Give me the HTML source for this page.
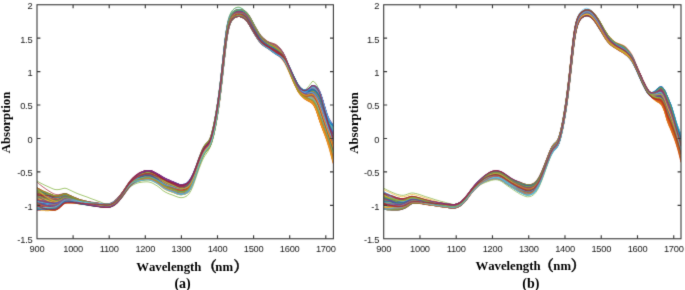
<!DOCTYPE html>
<html lang="en">
<head>
<meta charset="utf-8">
<title>Absorption spectra</title>
<style>
html,body{margin:0;padding:0;background:#fff;}
body{width:685px;height:290px;overflow:hidden;position:relative;}
svg{position:absolute;left:0;top:0;display:block;}
.t{font-family:"Liberation Sans", sans-serif;font-size:9.3px;letter-spacing:-0.25px;fill:#1a1a1a;}
.l{font-family:"Liberation Serif", "Noto Serif CJK SC", serif;font-weight:bold;font-size:12.75px;font-kerning:none;fill:#000;}
.c path.o{stroke-width:8;stroke-opacity:0.85;}
.p{font-size:14.5px;stroke:#000;stroke-width:0.45px;}
.m{font-family:"Liberation Serif", "Noto Serif CJK SC", serif;font-weight:bold;font-size:14px;font-kerning:none;fill:#000;}
.c path{fill:none;stroke-width:12.5;stroke-opacity:0.7;stroke-linejoin:round;stroke-linecap:round;}
</style>
</head>
<body>
<svg width="685" height="290" viewBox="0 0 685 290">
<rect width="685" height="290" fill="#ffffff"/>
<filter id="bl" x="0" y="0" width="685" height="290" filterUnits="userSpaceOnUse"><feConvolveMatrix order="3" kernelMatrix="0.0113 0.0838 0.0113 0.0838 0.6193 0.0838 0.0113 0.0838 0.0113" edgeMode="duplicate" preserveAlpha="false"/></filter>
<g filter="url(#bl)">
<clipPath id="ca"><rect x="37.0" y="4.75" width="296.4" height="234.0"/></clipPath>
<clipPath id="cb"><rect x="383.7" y="4.75" width="297.3" height="234.0"/></clipPath>
<g clip-path="url(#ca)"><g class="c" transform="scale(0.1)">
<path d="M370 1810l20 12 20 11 20 10 20 10 20 9 20 9 20 9 20 9 20 6 20 2 20-2 20-4 20-6 20-3 20 5 20 10 20 9 20 10 20 9 20 9 20 8 20 7 20 7 20 7 20 7 20 8 20 8 20 7 20 7 20 8 20 7 20 7 20 9 20 9 20 6 20-1 20-5 20-10 20-13 20-17 20-22 20-24 20-27 20-28 20-30 20-28 20-23 20-19 20-16 20-14 20-12 20-8 20-7 20-6 20-4 20 0 20 4 20 8 20 11 20 10 20 12 20 13 20 13 20 11 20 10 20 8 20 8 20 8 20 9 20 9 20 7 20 3 20-2 20-5 20-10 20-19 20-30 20-42 20-50 20-57 20-56 20-52 10-24 10-22 10-18 10-15 10-13 10-11 10-10 10-12 10-18 10-26 10-34 10-41 10-45 10-50 10-56 10-61 10-66 10-72 10-77 10-84 10-90 10-91 10-92 10-87 10-78 10-64 10-49 10-37 10-26 10-20 10-14 10-10 10-8 10-6 10-4 10-3 10-1 10-1 10 1 10 1 10 3 10 4 10 5 10 6 10 9 10 10 10 12 10 15 10 15 10 18 20 36 20 35 20 34 20 32 20 26 20 20 20 16 20 15 20 11 20 10 20 9 20 10 20 12 20 16 20 20 20 23 20 35 20 46 20 49 20 47 10 23 10 22 2 6 13 28 5 11 8 16 12 24 12 22 8 11 5 7 13 14 2 2 10 8 10 6 2 1 13 5 5 1 8 2 12-1 12-3 8-3 5-2 13-6 2-1 10-2 10 1 2 1 13 8 5 5 8 8 12 17 12 22 8 15 5 12 13 32 2 7 10 29 10 30 2 7 13 39 5 16 8 23 12 37 12 34 8 18 5 12 13 28 2 5 10 22 10 22 2 6 2 3" stroke="#77AC30" class="o"/>
<path d="M370 1820l20 18 20 16 20 16 20 14 20 14 20 13 20 12 20 12 20 8 20 3 20 0 20-4 20-5 20-3 20 6 20 11 20 12 20 11 20 11 20 9 20 8 20 6 20 5 20 4 20 4 20 4 20 3 20 3 20 3 20 3 20 3 20 3 20 3 20 2 20 1 20-2 20-6 20-10 20-13 20-18 20-21 20-24 20-27 20-29 20-30 20-28 20-24 20-19 20-16 20-14 20-11 20-8 20-7 20-5 20-4 20 0 20 4 20 9 20 10 20 11 20 12 20 13 20 14 20 12 20 9 20 9 20 8 20 8 20 9 20 9 20 7 20 3 20-1 20-5 20-10 20-19 20-30 20-41 20-51 20-57 20-56 20-52 10-24 10-21 10-19 10-15 10-13 10-11 10-10 10-12 10-17 10-26 10-34 10-40 10-45 10-50 10-55 10-61 10-65 10-71 10-77 10-84 10-89 10-91 10-92 10-88 10-78 10-65 10-50 10-38 10-27 10-19 10-15 10-11 10-7 10-6 10-4 10-3 10-2 10 0 10 0 10 2 10 3 10 4 10 5 10 7 10 8 10 11 10 13 10 14 10 16 10 17 20 37 20 35 20 33 20 33 20 25 20 20 20 16 20 14 20 12 20 10 20 11 20 10 20 13 20 15 20 19 20 24 20 34 20 46 20 48 20 47 10 23 10 22 2 6 13 28 5 10 8 16 12 25 12 22 8 11 5 7 13 14 2 2 10 9 10 6 2 1 13 6 5 2 8 2 12 0 12-1 8-2 5-2 13-4 2 0 10-2 10 3 2 1 13 10 5 5 8 10 12 19 12 24 8 17 5 12 13 33 2 7 10 29 10 30 2 7 13 38 5 15 8 23 12 37 12 34 8 20 5 12 13 31 2 6 10 24 10 25 2 6 2 4" stroke="#A2142F" class="o"/>
<path d="M370 2036l20 4 20 4 20 4 20 3 20 3 20 3 20 2 20 2 20 0 20-5 20-11 20-15 20-17 20-9 20 0 20 3 20 3 20 4 20 5 20 5 20 5 20 4 20 3 20 4 20 3 20 3 20 3 20 3 20 3 20 2 20 2 20 3 20 2 20 1 20 1 20-1 20-5 20-9 20-12 20-17 20-21 20-23 20-24 20-26 20-25 20-23 20-17 20-13 20-10 20-8 20-6 20-3 20-3 20-1 20-1 20 2 20 5 20 9 20 12 20 12 20 14 20 17 20 17 20 13 20 10 20 9 20 7 20 7 20 8 20 8 20 6 20 3 20-2 20-6 20-11 20-20 20-32 20-46 20-55 20-59 20-57 20-51 10-24 10-23 10-19 10-16 10-14 10-14 10-16 10-20 10-24 10-30 10-34 10-36 10-40 10-47 10-53 10-58 10-64 10-68 10-75 10-82 10-87 10-92 10-92 10-90 10-84 10-72 10-58 10-43 10-32 10-22 10-16 10-12 10-9 10-6 10-5 10-3 10-2 10-1 10 1 10 3 10 3 10 4 10 6 10 8 10 9 10 11 10 14 10 15 10 17 10 18 20 36 20 34 20 32 20 30 20 24 20 18 20 15 20 13 20 13 20 13 20 14 20 13 20 13 20 14 20 18 20 24 20 33 20 42 20 46 20 46 10 22 10 22 2 6 13 26 5 11 8 15 12 24 12 22 8 12 5 7 13 16 2 3 10 9 10 9 2 2 13 9 5 3 8 4 12 5 12 4 8 2 5 1 13 4 2 0 10 5 10 7 2 2 13 17 5 8 8 14 12 29 12 34 8 22 5 15 13 37 2 7 10 28 10 27 2 7 13 35 5 14 8 21 12 36 12 37 8 23 5 17 13 42 2 8 10 35 10 33 2 8 2 5" stroke="#77AC30" class="o"/>
<path d="M370 1990l20 6 20 6 20 5 20 5 20 5 20 4 20 4 20 3 20 2 20-4 20-8 20-13 20-13 20-8 20 1 20 5 20 5 20 5 20 6 20 6 20 5 20 5 20 4 20 4 20 3 20 3 20 3 20 3 20 3 20 2 20 3 20 2 20 2 20 2 20 1 20-2 20-6 20-9 20-13 20-18 20-21 20-24 20-27 20-28 20-29 20-28 20-23 20-18 20-15 20-13 20-10 20-8 20-7 20-5 20-4 20 0 20 4 20 8 20 10 20 11 20 12 20 13 20 14 20 11 20 10 20 8 20 7 20 8 20 8 20 9 20 6 20 3 20-2 20-5 20-10 20-20 20-30 20-43 20-51 20-57 20-57 20-52 10-25 10-22 10-19 10-15 10-13 10-11 10-10 10-12 10-18 10-26 10-34 10-39 10-45 10-50 10-56 10-64 10-70 10-76 10-84 10-92 10-97 10-99 10-99 10-93 10-79 10-64 10-46 10-35 10-25 10-20 10-16 10-11 10-9 10-7 10-4 10-2 10-1 10 1 10 2 10 2 10 4 10 5 10 8 10 10 10 11 10 14 10 15 10 16 10 17 10 17 20 38 20 36 20 35 20 34 20 27 20 20 20 18 20 15 20 12 20 9 20 9 20 10 20 13 20 17 20 20 20 24 20 35 20 48 20 49 20 47 10 23 10 23 2 6 13 28 5 11 8 16 12 25 12 22 8 11 5 7 13 14 2 2 10 8 10 6 2 1 13 5 5 1 8 2 12-1 12-3 8-3 5-2 13-6 2-1 10-3 10 1 2 1 13 9 5 5 8 8 12 17 12 22 8 15 5 12 13 32 2 7 10 29 10 31 2 8 13 39 5 15 8 23 12 37 12 34 8 19 5 12 13 28 2 5 10 22 10 22 2 6 2 3" stroke="#4DBEEE" class="o"/>
<path d="M370 2013l20 5 20 5 20 5 20 4 20 3 20 4 20 3 20 2 20 1 20-4 20-11 20-13 20-15 20-8 20 0 20 4 20 4 20 4 20 6 20 5 20 5 20 4 20 4 20 4 20 3 20 3 20 3 20 3 20 2 20 3 20 2 20 2 20 2 20 2 20 1 20-2 20-6 20-9 20-13 20-17 20-22 20-24 20-26 20-28 20-30 20-27 20-22 20-18 20-15 20-13 20-10 20-8 20-7 20-5 20-4 20-1 20 4 20 8 20 10 20 11 20 11 20 14 20 13 20 11 20 9 20 8 20 7 20 8 20 7 20 8 20 7 20 2 20-2 20-6 20-10 20-20 20-31 20-43 20-52 20-57 20-57 20-53 10-24 10-22 10-19 10-16 10-13 10-11 10-11 10-12 10-18 10-26 10-35 10-40 10-45 10-51 10-56 10-62 10-66 10-72 10-78 10-85 10-90 10-94 10-99 10-95 10-86 10-71 10-54 10-38 10-27 10-20 10-15 10-12 10-9 10-7 10-5 10-3 10-2 10 0 10 3 10 6 10 6 10 7 10 8 10 8 10 9 10 13 10 15 10 18 10 20 10 21 20 44 20 38 20 34 20 32 20 26 20 20 20 16 20 14 20 12 20 9 20 9 20 10 20 11 20 16 20 19 20 23 20 34 20 47 20 48 20 46 10 23 10 23 2 5 13 28 5 11 8 15 12 25 12 21 8 11 5 6 13 13 2 2 10 5 10 1 2 0 13-3 5-2 8-4 12-11 12-14 8-8 5-7 13-18 2-4 10-13 10-5 2 0 13 8 5 6 8 10 12 17 12 26 8 24 5 18 13 51 2 10 10 37 10 33 2 9 13 42 5 17 8 25 12 39 12 35 8 18 5 11 13 26 2 5 10 20 10 20 2 5 2 3" stroke="#77AC30" class="o"/>
<path d="M370 2059l20 4 20 3 20 3 20 2 20 2 20 2 20 1 20 1 20-1 20-6 20-13 20-16 20-18 20-10 20-1 20 0 20 1 20 2 20 3 20 3 20 3 20 2 20 1 20 2 20 1 20 2 20 1 20 1 20 1 20 1 20 2 20 2 20 1 20 2 20 0 20-1 20-7 20-10 20-13 20-18 20-22 20-24 20-27 20-29 20-29 20-29 20-23 20-20 20-16 20-14 20-11 20-9 20-6 20-6 20-4 20 0 20 4 20 7 20 9 20 10 20 9 20 11 20 10 20 9 20 7 20 7 20 7 20 6 20 8 20 8 20 7 20 3 20-2 20-5 20-10 20-20 20-30 20-41 20-48 20-55 20-56 20-51 10-24 10-22 10-18 10-14 10-12 10-11 10-10 10-12 10-18 10-27 10-36 10-42 10-47 10-52 10-56 10-61 10-66 10-72 10-77 10-83 10-88 10-91 10-89 10-85 10-74 10-61 10-46 10-34 10-24 10-18 10-13 10-10 10-7 10-4 10-4 10-2 10-1 10 0 10 1 10 3 10 3 10 4 10 6 10 8 10 9 10 11 10 14 10 15 10 17 10 18 20 38 20 37 20 34 20 33 20 27 20 20 20 17 20 14 20 13 20 12 20 12 20 12 20 13 20 15 20 18 20 24 20 33 20 44 20 47 20 46 10 22 10 23 2 5 13 27 5 11 8 15 12 25 12 21 8 12 5 7 13 14 2 2 10 9 10 7 2 1 13 7 5 2 8 2 12 2 12-1 8-1 5-1 13-3 2 0 10 0 10 3 2 1 13 11 5 6 8 10 12 21 12 25 8 17 5 13 13 33 2 6 10 28 10 29 2 7 13 36 5 15 8 22 12 35 12 35 8 19 5 13 13 31 2 6 10 25 10 24 2 6 2 4" stroke="#0072BD"/>
<path d="M370 1999l20 9 20 9 20 8 20 7 20 7 20 5 20 5 20 4 20 2 20-3 20-10 20-14 20-15 20-9 20 0 20 3 20 3 20 4 20 5 20 5 20 5 20 4 20 3 20 4 20 3 20 3 20 3 20 3 20 2 20 2 20 3 20 2 20 2 20 2 20 0 20-1 20-5 20-9 20-12 20-17 20-21 20-23 20-26 20-27 20-28 20-26 20-20 20-15 20-13 20-10 20-8 20-6 20-5 20-4 20-3 20 0 20 4 20 8 20 10 20 11 20 12 20 15 20 14 20 11 20 9 20 7 20 6 20 6 20 7 20 7 20 5 20 1 20-2 20-7 20-11 20-20 20-32 20-45 20-54 20-60 20-58 20-54 10-24 10-23 10-20 10-16 10-13 10-11 10-11 10-12 10-17 10-25 10-33 10-38 10-43 10-49 10-54 10-59 10-63 10-70 10-75 10-81 10-87 10-90 10-91 10-88 10-79 10-68 10-53 10-40 10-29 10-21 10-14 10-11 10-8 10-6 10-4 10-3 10-2 10 0 10 1 10 2 10 3 10 4 10 5 10 7 10 9 10 10 10 13 10 14 10 16 10 17 20 35 20 33 20 31 20 29 20 24 20 18 20 14 20 13 20 11 20 10 20 10 20 11 20 13 20 15 20 20 20 25 20 35 20 46 20 49 20 47 10 24 10 23 2 5 13 28 5 11 8 15 12 25 12 22 8 12 5 7 13 14 2 3 10 8 10 6 2 1 13 6 5 2 8 1 12 0 12-2 8-3 5-2 13-4 2-1 10-1 10 2 2 1 13 11 5 6 8 10 12 20 12 26 8 17 5 13 13 33 2 7 10 29 10 30 2 7 13 38 5 15 8 23 12 37 12 35 8 21 5 13 13 33 2 7 10 26 10 27 2 7 2 4" stroke="#D95319"/>
<path d="M370 2042l20 12 20 10 20 9 20 8 20 6 20 5 20 4 20 2 20 0 20-5 20-14 20-18 20-20 20-11 20-3 20 0 20-1 20 1 20 2 20 2 20 3 20 1 20 2 20 1 20 1 20 2 20 1 20 1 20 1 20 1 20 1 20 2 20 2 20 1 20 0 20-1 20-6 20-10 20-12 20-16 20-20 20-23 20-25 20-26 20-26 20-25 20-19 20-14 20-11 20-8 20-5 20-4 20-3 20-2 20-2 20 1 20 5 20 8 20 11 20 12 20 14 20 16 20 17 20 13 20 10 20 8 20 7 20 7 20 8 20 8 20 6 20 3 20-2 20-5 20-10 20-18 20-30 20-45 20-55 20-60 20-57 20-53 10-25 10-23 10-20 10-17 10-13 10-12 10-11 10-12 10-16 10-25 10-30 10-36 10-41 10-48 10-53 10-60 10-64 10-71 10-76 10-84 10-90 10-93 10-95 10-91 10-85 10-72 10-58 10-43 10-31 10-23 10-17 10-12 10-9 10-8 10-5 10-4 10-2 10-1 10 0 10 1 10 3 10 3 10 5 10 6 10 8 10 10 10 12 10 14 10 15 10 16 20 35 20 34 20 31 20 31 20 25 20 18 20 15 20 14 20 11 20 9 20 9 20 10 20 13 20 18 20 23 20 29 20 40 20 51 20 53 20 52 10 25 10 24 2 6 13 29 5 12 8 16 12 26 12 23 8 12 5 8 13 16 2 3 10 11 10 9 2 3 13 11 5 4 8 5 12 8 12 6 8 4 5 3 13 7 2 1 10 7 10 10 2 3 13 19 5 10 8 16 12 33 12 38 8 25 5 16 13 38 2 7 10 27 10 26 2 6 13 33 5 13 8 20 12 35 12 37 8 24 5 17 13 45 2 9 10 36 10 35 2 8 2 5" stroke="#EDB120"/>
<path d="M370 2088l20 3 20 3 20 2 20 2 20 1 20 1 20 1 20-1 20-2 20-7 20-15 20-18 20-20 20-11 20-2 20-1 20 0 20 1 20 2 20 2 20 3 20 1 20 2 20 1 20 2 20 1 20 1 20 1 20 1 20 1 20 2 20 1 20 2 20 1 20 0 20-1 20-6 20-10 20-13 20-18 20-22 20-24 20-27 20-29 20-29 20-29 20-23 20-19 20-16 20-14 20-11 20-8 20-7 20-5 20-3 20 0 20 5 20 9 20 12 20 12 20 14 20 16 20 16 20 14 20 12 20 10 20 10 20 10 20 9 20 10 20 7 20 3 20-1 20-6 20-10 20-20 20-31 20-45 20-53 20-58 20-58 20-54 10-25 10-23 10-19 10-16 10-14 10-11 10-11 10-13 10-18 10-26 10-35 10-41 10-45 10-52 10-57 10-62 10-68 10-73 10-79 10-86 10-91 10-94 10-94 10-88 10-79 10-64 10-49 10-36 10-26 10-20 10-14 10-11 10-8 10-6 10-4 10-3 10-2 10-1 10 1 10 1 10 3 10 4 10 5 10 7 10 9 10 11 10 13 10 15 10 16 10 18 20 40 20 38 20 36 20 34 20 29 20 21 20 18 20 16 20 13 20 13 20 12 20 11 20 13 20 14 20 18 20 22 20 32 20 43 20 45 20 45 10 22 10 22 2 5 13 27 5 10 8 16 12 23 12 21 8 11 5 7 13 13 2 2 10 7 10 5 2 1 13 3 5 1 8 0 12-2 12-6 8-4 5-4 13-8 2-2 10-6 10-2 2 1 13 4 5 3 8 6 12 11 12 15 8 12 5 9 13 29 2 6 10 27 10 30 2 7 13 38 5 16 8 22 12 35 12 30 8 15 5 8 13 18 2 3 10 13 10 14 2 3 2 3" stroke="#7E2F8E"/>
<path d="M370 1884l20 10 20 10 20 10 20 10 20 9 20 9 20 9 20 9 20 7 20 1 20-2 20-5 20-7 20-3 20 4 20 10 20 9 20 10 20 9 20 9 20 8 20 7 20 7 20 6 20 5 20 5 20 5 20 5 20 4 20 3 20 4 20 3 20 3 20 2 20 1 20-2 20-5 20-10 20-12 20-18 20-21 20-25 20-27 20-29 20-30 20-28 20-24 20-19 20-16 20-14 20-12 20-9 20-8 20-7 20-4 20-1 20 4 20 7 20 10 20 11 20 11 20 13 20 14 20 11 20 9 20 8 20 8 20 7 20 9 20 8 20 7 20 3 20-2 20-4 20-10 20-19 20-29 20-42 20-51 20-57 20-56 20-51 10-24 10-22 10-19 10-15 10-13 10-11 10-10 10-12 10-17 10-26 10-33 10-39 10-45 10-49 10-55 10-61 10-66 10-71 10-77 10-84 10-89 10-92 10-93 10-88 10-80 10-66 10-51 10-39 10-28 10-20 10-15 10-11 10-8 10-6 10-4 10-3 10-2 10 0 10 1 10 1 10 3 10 4 10 6 10 7 10 9 10 10 10 13 10 15 10 17 10 18 20 37 20 36 20 34 20 33 20 27 20 20 20 16 20 15 20 12 20 13 20 11 20 12 20 13 20 15 20 18 20 24 20 34 20 44 20 46 20 46 10 23 10 22 2 6 13 27 5 11 8 15 12 24 12 22 8 11 5 7 13 14 2 3 10 8 10 6 2 1 13 6 5 2 8 1 12 1 12-3 8-2 5-2 13-4 2-1 10-2 10 2 2 1 13 9 5 5 8 9 12 18 12 22 8 16 5 12 13 31 2 6 10 28 10 29 2 7 13 37 5 15 8 22 12 36 12 33 8 19 5 11 13 29 2 5 10 23 10 22 2 6 2 4" stroke="#77AC30"/>
<path d="M370 2077l20-1 20-1 20-2 20-1 20-2 20-1 20-1 20-2 20-3 20-8 20-13 20-17 20-17 20-11 20-1 20 2 20 3 20 4 20 4 20 5 20 5 20 3 20 3 20 4 20 2 20 3 20 3 20 2 20 2 20 3 20 2 20 2 20 2 20 2 20 1 20-2 20-6 20-9 20-13 20-17 20-21 20-23 20-25 20-27 20-28 20-26 20-21 20-15 20-12 20-10 20-7 20-5 20-4 20-3 20-1 20 2 20 5 20 10 20 12 20 13 20 15 20 17 20 18 20 14 20 11 20 9 20 9 20 7 20 9 20 8 20 7 20 3 20-2 20-5 20-10 20-19 20-31 20-45 20-55 20-61 20-58 20-54 10-25 10-23 10-21 10-16 10-14 10-12 10-12 10-12 10-17 10-25 10-32 10-38 10-43 10-49 10-56 10-61 10-67 10-73 10-79 10-87 10-92 10-96 10-96 10-92 10-84 10-69 10-55 10-40 10-30 10-22 10-16 10-12 10-9 10-6 10-5 10-3 10-2 10-1 10 0 10 2 10 3 10 4 10 6 10 7 10 9 10 11 10 14 10 15 10 17 10 19 20 39 20 38 20 35 20 35 20 28 20 21 20 18 20 15 20 14 20 14 20 13 20 13 20 13 20 12 20 15 20 20 20 28 20 39 20 43 20 42 10 21 10 21 2 5 13 26 5 11 8 15 12 23 12 21 8 11 5 7 13 13 2 3 10 7 10 6 2 1 13 4 5 1 8 0 12-1 12-4 8-4 5-3 13-7 2-1 10-4 10-1 2 1 13 7 5 4 8 7 12 13 12 18 8 14 5 10 13 30 2 7 10 28 10 29 2 8 13 38 5 16 8 22 12 35 12 31 8 16 5 9 13 20 2 3 10 15 10 15 2 4 2 2" stroke="#4DBEEE"/>
<path d="M370 1914l20 8 20 8 20 7 20 8 20 6 20 7 20 7 20 6 20 4 20 0 20-4 20-7 20-9 20-4 20 3 20 8 20 8 20 8 20 9 20 7 20 7 20 6 20 5 20 5 20 5 20 4 20 4 20 3 20 4 20 3 20 3 20 3 20 3 20 2 20 2 20-1 20-6 20-9 20-12 20-17 20-21 20-23 20-26 20-27 20-28 20-26 20-21 20-17 20-13 20-11 20-8 20-7 20-5 20-4 20-3 20 0 20 4 20 8 20 10 20 11 20 13 20 14 20 14 20 12 20 9 20 8 20 7 20 7 20 7 20 8 20 6 20 2 20-2 20-7 20-12 20-22 20-33 20-46 20-54 20-60 20-59 20-55 10-25 10-23 10-19 10-16 10-13 10-12 10-10 10-12 10-18 10-26 10-34 10-40 10-45 10-49 10-54 10-60 10-64 10-69 10-75 10-81 10-86 10-89 10-90 10-85 10-77 10-64 10-51 10-38 10-27 10-20 10-14 10-10 10-7 10-6 10-4 10-2 10-2 10 0 10 1 10 2 10 3 10 4 10 6 10 7 10 8 10 11 10 13 10 15 10 16 10 18 20 36 20 34 20 32 20 31 20 24 20 18 20 15 20 13 20 12 20 11 20 10 20 11 20 11 20 12 20 15 20 19 20 29 20 42 20 44 20 42 10 22 10 21 2 5 13 27 5 11 8 15 12 24 12 21 8 11 5 6 13 15 2 2 10 10 10 8 2 2 13 10 5 4 8 5 12 7 12 7 8 3 5 2 13 6 2 1 10 4 10 6 2 2 13 13 5 6 8 12 12 23 12 29 8 19 5 13 13 34 2 7 10 28 10 28 2 8 13 36 5 14 8 22 12 35 12 35 8 20 5 14 13 33 2 7 10 26 10 26 2 6 2 4" stroke="#A2142F"/>
<path d="M370 2022l20 3 20 2 20 3 20 2 20 2 20 2 20 2 20 1 20 0 20-4 20-11 20-13 20-14 20-8 20 1 20 4 20 4 20 5 20 6 20 6 20 5 20 4 20 4 20 4 20 3 20 3 20 3 20 3 20 3 20 2 20 3 20 2 20 2 20 2 20 0 20-1 20-6 20-10 20-13 20-18 20-23 20-25 20-27 20-30 20-31 20-30 20-25 20-20 20-18 20-17 20-13 20-11 20-8 20-7 20-5 20 0 20 4 20 8 20 11 20 10 20 12 20 12 20 13 20 12 20 10 20 9 20 8 20 9 20 9 20 10 20 7 20 4 20-1 20-4 20-8 20-18 20-27 20-39 20-47 20-54 20-54 20-49 10-23 10-20 10-18 10-14 10-12 10-10 10-9 10-11 10-16 10-24 10-32 10-36 10-41 10-47 10-52 10-57 10-62 10-68 10-73 10-80 10-85 10-89 10-90 10-88 10-80 10-70 10-56 10-42 10-30 10-22 10-15 10-11 10-8 10-7 10-4 10-3 10-1 10-1 10 2 10 2 10 3 10 5 10 6 10 7 10 10 10 11 10 14 10 15 10 17 10 18 20 36 20 33 20 31 20 30 20 23 20 17 20 14 20 12 20 12 20 13 20 12 20 12 20 11 20 10 20 13 20 18 20 26 20 38 20 41 20 41 10 20 10 21 2 5 13 25 5 11 8 15 12 23 12 21 8 11 5 6 13 14 2 2 10 7 10 6 2 1 13 4 5 1 8 1 12-1 12-4 8-4 5-2 13-7 2-2 10-3 10-1 2 0 13 6 5 4 8 7 12 13 12 17 8 13 5 10 13 29 2 6 10 28 10 29 2 8 13 38 5 15 8 21 12 35 12 29 8 14 5 8 13 16 2 3 10 11 10 10 2 3 2 2" stroke="#0072BD"/>
<path d="M370 1880l20 16 20 16 20 14 20 14 20 12 20 12 20 10 20 11 20 7 20 2 20-3 20-6 20-9 20-4 20 4 20 7 20 7 20 8 20 7 20 8 20 6 20 6 20 5 20 5 20 4 20 4 20 4 20 3 20 3 20 3 20 3 20 3 20 2 20 2 20 0 20-1 20-6 20-9 20-12 20-17 20-22 20-24 20-26 20-28 20-29 20-28 20-22 20-17 20-15 20-12 20-10 20-8 20-6 20-5 20-4 20 0 20 5 20 9 20 12 20 14 20 15 20 17 20 18 20 16 20 13 20 11 20 10 20 9 20 10 20 9 20 7 20 3 20-1 20-6 20-10 20-19 20-31 20-45 20-55 20-61 20-58 20-54 10-26 10-23 10-20 10-17 10-14 10-12 10-12 10-12 10-18 10-25 10-33 10-39 10-44 10-50 10-57 10-63 10-69 10-74 10-81 10-88 10-94 10-97 10-98 10-93 10-82 10-69 10-52 10-39 10-29 10-21 10-16 10-12 10-8 10-7 10-5 10-3 10-2 10-1 10 0 10 1 10 3 10 3 10 5 10 7 10 8 10 10 10 13 10 14 10 16 10 17 20 38 20 37 20 36 20 34 20 28 20 21 20 18 20 16 20 12 20 10 20 9 20 10 20 12 20 16 20 18 20 22 20 34 20 46 20 48 20 46 10 23 10 22 2 6 13 28 5 10 8 16 12 25 12 21 8 11 5 7 13 13 2 3 10 7 10 6 2 1 13 4 5 1 8 1 12 0 12-4 8-3 5-2 13-5 2-1 10-2 10 1 2 2 13 10 5 5 8 10 12 19 12 24 8 18 5 13 13 37 2 7 10 33 10 33 2 9 13 43 5 17 8 26 12 41 12 39 8 22 5 15 13 37 2 8 10 30 10 31 2 8 2 5" stroke="#D95319"/>
<path d="M370 1890l20 11 20 10 20 10 20 9 20 9 20 9 20 8 20 8 20 6 20 1 20-3 20-5 20-8 20-4 20 5 20 8 20 8 20 9 20 8 20 8 20 7 20 6 20 5 20 5 20 5 20 4 20 4 20 4 20 3 20 3 20 4 20 3 20 3 20 2 20 1 20-1 20-5 20-9 20-12 20-17 20-20 20-23 20-26 20-27 20-28 20-26 20-20 20-16 20-13 20-10 20-8 20-6 20-5 20-4 20-3 20 0 20 4 20 7 20 9 20 10 20 12 20 13 20 13 20 10 20 8 20 6 20 6 20 6 20 7 20 7 20 6 20 3 20-2 20-4 20-8 20-17 20-28 20-41 20-50 20-56 20-55 20-50 10-24 10-21 10-19 10-15 10-12 10-11 10-10 10-11 10-16 10-24 10-31 10-35 10-40 10-46 10-52 10-58 10-62 10-68 10-74 10-80 10-87 10-90 10-91 10-89 10-84 10-72 10-58 10-44 10-31 10-23 10-16 10-11 10-9 10-7 10-4 10-3 10-2 10 0 10 1 10 3 10 4 10 4 10 6 10 8 10 10 10 12 10 14 10 16 10 17 10 18 20 36 20 34 20 32 20 30 20 24 20 18 20 14 20 13 20 13 20 15 20 15 20 15 20 13 20 13 20 17 20 25 20 32 20 40 20 44 20 46 10 22 10 22 2 5 13 26 5 10 8 15 12 24 12 23 8 12 5 7 13 16 2 3 10 10 10 10 2 2 13 11 5 4 8 5 12 8 12 7 8 4 5 2 13 7 2 2 10 7 10 10 2 3 13 19 5 9 8 16 12 31 12 36 8 23 5 14 13 34 2 7 10 24 10 23 2 5 13 29 5 12 8 17 12 30 12 31 8 20 5 13 13 34 2 6 10 26 10 24 2 5 2 4" stroke="#EDB120"/>
<path d="M370 2005l20 1 20 0 20 1 20 0 20 1 20 1 20 2 20 1 20 1 20-4 20-9 20-11 20-12 20-6 20 2 20 6 20 7 20 6 20 8 20 7 20 6 20 5 20 5 20 5 20 4 20 4 20 4 20 3 20 3 20 3 20 3 20 3 20 2 20 2 20 1 20-2 20-6 20-10 20-13 20-19 20-22 20-26 20-28 20-31 20-31 20-31 20-26 20-22 20-19 20-18 20-15 20-12 20-9 20-8 20-5 20 0 20 4 20 9 20 10 20 11 20 11 20 13 20 12 20 12 20 10 20 9 20 9 20 9 20 9 20 10 20 7 20 3 20-1 20-6 20-11 20-20 20-31 20-41 20-50 20-56 20-56 20-53 10-24 10-22 10-18 10-15 10-12 10-11 10-10 10-12 10-18 10-27 10-36 10-40 10-46 10-49 10-53 10-58 10-61 10-67 10-72 10-77 10-82 10-85 10-84 10-81 10-73 10-62 10-49 10-37 10-27 10-18 10-13 10-9 10-7 10-4 10-4 10-2 10-1 10 0 10 1 10 3 10 3 10 5 10 5 10 8 10 9 10 11 10 13 10 15 10 16 10 17 20 35 20 32 20 29 20 29 20 22 20 16 20 13 20 11 20 10 20 10 20 9 20 9 20 9 20 11 20 14 20 19 20 29 20 41 20 45 20 43 10 21 10 22 2 5 13 27 5 10 8 16 12 24 12 21 8 11 5 6 13 13 2 2 10 7 10 5 2 0 13 3 5 0 8 0 12-4 12-7 8-6 5-4 13-10 2-2 10-7 10-3 2 0 13 4 5 3 8 5 12 11 12 14 8 12 5 10 13 29 2 7 10 29 10 32 2 8 13 42 5 16 8 24 12 37 12 32 8 16 5 9 13 20 2 4 10 14 10 16 2 5 2 2" stroke="#7E2F8E"/>
<path d="M370 1936l20 9 20 8 20 8 20 8 20 7 20 7 20 6 20 7 20 4 20-1 20-5 20-9 20-10 20-5 20 3 20 7 20 7 20 7 20 8 20 7 20 7 20 6 20 5 20 5 20 4 20 5 20 4 20 3 20 4 20 3 20 3 20 2 20 3 20 2 20 0 20-1 20-6 20-9 20-12 20-18 20-21 20-25 20-27 20-28 20-29 20-28 20-23 20-18 20-15 20-13 20-11 20-9 20-7 20-5 20-4 20 0 20 4 20 9 20 11 20 11 20 13 20 15 20 16 20 13 20 11 20 9 20 9 20 9 20 9 20 10 20 8 20 4 20 0 20-3 20-8 20-16 20-27 20-42 20-51 20-56 20-56 20-50 10-24 10-22 10-19 10-16 10-13 10-11 10-11 10-11 10-17 10-23 10-31 10-35 10-41 10-46 10-54 10-58 10-64 10-70 10-76 10-83 10-88 10-93 10-94 10-92 10-84 10-73 10-58 10-44 10-32 10-22 10-17 10-12 10-9 10-7 10-5 10-3 10-2 10 0 10 1 10 2 10 3 10 5 10 6 10 7 10 9 10 12 10 13 10 16 10 16 10 18 20 37 20 35 20 32 20 31 20 25 20 19 20 15 20 13 20 13 20 14 20 13 20 14 20 12 20 14 20 17 20 23 20 32 20 41 20 45 20 44 10 22 10 22 2 5 13 26 5 10 8 15 12 23 12 21 8 11 5 7 13 13 2 2 10 7 10 6 2 1 13 3 5 1 8 1 12-2 12-6 8-4 5-3 13-8 2-1 10-5 10 0 2 1 13 7 5 5 8 7 12 16 12 20 8 15 5 11 13 30 2 7 10 28 10 30 2 7 13 38 5 16 8 22 12 36 12 34 8 18 5 11 13 26 2 5 10 21 10 21 2 6 2 3" stroke="#77AC30"/>
<path d="M370 1906l20 10 20 9 20 9 20 8 20 9 20 7 20 8 20 8 20 5 20 1 20-4 20-7 20-8 20-4 20 4 20 8 20 9 20 9 20 10 20 9 20 8 20 7 20 6 20 6 20 6 20 5 20 5 20 4 20 5 20 3 20 4 20 3 20 3 20 2 20 0 20-1 20-5 20-9 20-12 20-18 20-21 20-24 20-27 20-29 20-29 20-28 20-22 20-18 20-15 20-13 20-11 20-8 20-7 20-6 20-4 20 0 20 4 20 9 20 10 20 12 20 13 20 15 20 15 20 12 20 10 20 9 20 8 20 7 20 9 20 8 20 7 20 3 20-2 20-5 20-11 20-19 20-31 20-45 20-53 20-59 20-58 20-54 10-25 10-23 10-19 10-17 10-13 10-12 10-11 10-12 10-18 10-26 10-34 10-39 10-44 10-51 10-55 10-62 10-66 10-72 10-78 10-85 10-91 10-93 10-93 10-90 10-80 10-66 10-52 10-38 10-28 10-20 10-15 10-12 10-8 10-7 10-4 10-4 10-2 10-1 10 0 10 1 10 2 10 3 10 4 10 6 10 7 10 10 10 11 10 13 10 15 10 16 20 36 20 34 20 33 20 31 20 26 20 19 20 16 20 15 20 10 20 7 20 7 20 8 20 12 20 19 20 23 20 29 20 41 20 53 20 54 20 51 10 26 10 24 2 7 13 29 5 12 8 16 12 26 12 22 8 12 5 7 13 15 2 3 10 9 10 7 2 2 13 7 5 2 8 4 12 3 12 0 8 0 5 0 13 0 2 0 10 1 10 5 2 2 13 12 5 7 8 11 12 23 12 26 8 18 5 12 13 31 2 7 10 25 10 26 2 6 13 33 5 13 8 20 12 31 12 30 8 17 5 11 13 26 2 4 10 19 10 19 2 4 2 3" stroke="#4DBEEE"/>
<path d="M370 2055l20 10 20 8 20 7 20 6 20 5 20 3 20 3 20 1 20-1 20-6 20-14 20-18 20-20 20-11 20-2 20-1 20 0 20 1 20 3 20 2 20 3 20 2 20 1 20 2 20 2 20 1 20 1 20 1 20 2 20 1 20 1 20 2 20 1 20 1 20 0 20-2 20-6 20-10 20-14 20-18 20-22 20-24 20-28 20-29 20-30 20-29 20-24 20-19 20-17 20-14 20-13 20-9 20-7 20-6 20-4 20 0 20 5 20 10 20 12 20 13 20 14 20 16 20 17 20 15 20 14 20 11 20 11 20 11 20 10 20 11 20 7 20 3 20-1 20-6 20-11 20-20 20-32 20-44 20-54 20-59 20-58 20-54 10-24 10-23 10-19 10-16 10-14 10-11 10-11 10-12 10-17 10-26 10-34 10-39 10-45 10-50 10-55 10-60 10-66 10-71 10-77 10-84 10-89 10-92 10-91 10-88 10-79 10-66 10-51 10-38 10-27 10-20 10-15 10-10 10-8 10-6 10-5 10-2 10-2 10-1 10 1 10 2 10 3 10 4 10 5 10 7 10 9 10 11 10 13 10 14 10 17 10 17 20 38 20 35 20 34 20 32 20 27 20 19 20 17 20 14 20 12 20 12 20 11 20 12 20 12 20 15 20 17 20 23 20 32 20 44 20 46 20 45 10 23 10 22 2 5 13 27 5 11 8 16 12 24 12 21 8 12 5 7 13 14 2 3 10 9 10 8 2 2 13 9 5 3 8 4 12 6 12 4 8 2 5 1 13 4 2 1 10 5 10 7 2 2 13 15 5 8 8 14 12 27 12 33 8 22 5 15 13 37 2 8 10 29 10 30 2 7 13 37 5 15 8 22 12 37 12 38 8 23 5 16 13 40 2 8 10 33 10 32 2 8 2 4" stroke="#A2142F"/>
<path d="M370 2056l20 4 20 3 20 3 20 2 20 1 20 2 20 1 20 0 20-2 20-6 20-13 20-16 20-18 20-10 20-1 20 1 20 2 20 2 20 3 20 4 20 3 20 3 20 2 20 2 20 2 20 2 20 1 20 2 20 1 20 2 20 1 20 2 20 2 20 1 20 0 20-2 20-6 20-11 20-14 20-18 20-23 20-24 20-28 20-30 20-31 20-30 20-25 20-21 20-18 20-16 20-13 20-10 20-8 20-7 20-4 20 0 20 4 20 9 20 10 20 11 20 12 20 13 20 13 20 12 20 10 20 10 20 10 20 9 20 10 20 9 20 8 20 3 20-1 20-5 20-10 20-20 20-29 20-41 20-50 20-55 20-56 20-52 10-23 10-22 10-18 10-15 10-12 10-11 10-10 10-12 10-18 10-26 10-35 10-42 10-46 10-51 10-57 10-61 10-67 10-71 10-78 10-85 10-89 10-92 10-91 10-86 10-76 10-62 10-47 10-35 10-26 10-18 10-14 10-10 10-7 10-6 10-3 10-3 10-1 10-1 10 1 10 2 10 3 10 4 10 5 10 7 10 9 10 11 10 13 10 15 10 16 10 18 20 38 20 37 20 34 20 34 20 27 20 20 20 17 20 15 20 12 20 12 20 11 20 11 20 12 20 15 20 18 20 22 20 32 20 44 20 46 20 45 10 22 10 22 2 5 13 27 5 11 8 15 12 24 12 20 8 11 5 6 13 13 2 2 10 7 10 4 2 0 13 3 5 0 8-1 12-4 12-8 8-6 5-4 13-11 2-2 10-6 10-2 2 0 13 5 5 3 8 6 12 12 12 17 8 14 5 11 13 32 2 7 10 32 10 33 2 9 13 44 5 17 8 26 12 42 12 37 8 21 5 13 13 31 2 6 10 27 10 28 2 7 2 5" stroke="#0072BD"/>
<path d="M370 2058l20 9 20 8 20 7 20 5 20 5 20 4 20 3 20 1 20-1 20-6 20-14 20-18 20-20 20-11 20-2 20-1 20 1 20 1 20 3 20 3 20 3 20 3 20 2 20 2 20 2 20 2 20 2 20 2 20 1 20 2 20 1 20 1 20 2 20 0 20 0 20-2 20-6 20-11 20-13 20-19 20-23 20-25 20-28 20-30 20-31 20-30 20-25 20-21 20-18 20-16 20-14 20-10 20-9 20-7 20-4 20 0 20 4 20 8 20 10 20 11 20 11 20 13 20 13 20 11 20 10 20 9 20 8 20 9 20 9 20 10 20 7 20 4 20-2 20-4 20-10 20-19 20-29 20-40 20-49 20-55 20-55 20-51 10-23 10-21 10-18 10-15 10-12 10-10 10-10 10-11 10-17 10-25 10-33 10-38 10-43 10-47 10-53 10-57 10-61 10-67 10-73 10-78 10-84 10-87 10-87 10-85 10-77 10-67 10-53 10-40 10-29 10-20 10-14 10-11 10-7 10-6 10-4 10-2 10-1 10-1 10 1 10 3 10 3 10 5 10 6 10 7 10 10 10 11 10 14 10 16 10 16 10 18 20 35 20 33 20 31 20 29 20 24 20 17 20 13 20 13 20 12 20 13 20 13 20 12 20 13 20 12 20 17 20 24 20 32 20 42 20 45 20 45 10 23 10 22 2 5 13 27 5 10 8 15 12 24 12 22 8 12 5 7 13 16 2 3 10 11 10 9 2 2 13 12 5 4 8 6 12 9 12 8 8 5 5 4 13 8 2 2 10 8 10 10 2 2 13 19 5 9 8 16 12 33 12 37 8 24 5 16 13 37 2 7 10 27 10 25 2 7 13 32 5 13 8 20 12 34 12 35 8 23 5 16 13 41 2 8 10 33 10 30 2 7 2 5" stroke="#D95319"/>
<path d="M370 1979l20 7 20 7 20 5 20 6 20 5 20 4 20 5 20 3 20 2 20-3 20-8 20-12 20-12 20-8 20 2 20 4 20 4 20 5 20 5 20 6 20 4 20 4 20 3 20 3 20 2 20 3 20 2 20 2 20 2 20 2 20 2 20 2 20 2 20 2 20 1 20-2 20-6 20-11 20-13 20-17 20-22 20-24 20-26 20-29 20-29 20-28 20-23 20-18 20-15 20-14 20-10 20-8 20-6 20-5 20-3 20-1 20 4 20 8 20 10 20 10 20 11 20 12 20 12 20 10 20 9 20 8 20 7 20 7 20 9 20 8 20 7 20 3 20-1 20-4 20-8 20-17 20-27 20-38 20-48 20-53 20-53 20-49 10-22 10-21 10-17 10-15 10-11 10-10 10-9 10-11 10-16 10-24 10-32 10-36 10-41 10-47 10-52 10-58 10-62 10-68 10-73 10-81 10-86 10-89 10-90 10-88 10-81 10-70 10-56 10-43 10-30 10-22 10-15 10-11 10-9 10-6 10-4 10-3 10-2 10 0 10 1 10 2 10 4 10 5 10 5 10 8 10 9 10 12 10 13 10 16 10 16 10 18 20 36 20 34 20 31 20 30 20 23 20 18 20 14 20 12 20 12 20 13 20 12 20 12 20 11 20 11 20 12 20 18 20 26 20 38 20 41 20 40 10 20 10 21 2 5 13 26 5 10 8 15 12 23 12 21 8 11 5 6 13 15 2 3 10 10 10 10 2 2 13 11 5 5 8 7 12 11 12 9 8 6 5 4 13 10 2 2 10 8 10 8 2 2 13 15 5 8 8 13 12 27 12 31 8 20 5 14 13 34 2 6 10 26 10 25 2 7 13 31 5 12 8 19 12 29 12 29 8 16 5 10 13 23 2 4 10 14 10 11 2 3 2 1" stroke="#EDB120"/>
<path d="M370 1927l20 6 20 6 20 6 20 5 20 6 20 6 20 5 20 6 20 4 20-1 20-4 20-7 20-9 20-5 20 4 20 8 20 8 20 9 20 8 20 9 20 7 20 6 20 6 20 5 20 5 20 4 20 4 20 4 20 4 20 3 20 3 20 3 20 3 20 2 20 1 20-2 20-6 20-10 20-13 20-18 20-23 20-25 20-28 20-30 20-32 20-30 20-25 20-22 20-19 20-17 20-14 20-12 20-9 20-7 20-5 20-1 20 3 20 8 20 10 20 10 20 10 20 12 20 11 20 11 20 9 20 9 20 8 20 8 20 9 20 9 20 8 20 3 20-2 20-5 20-10 20-19 20-29 20-40 20-48 20-54 20-55 20-51 10-24 10-21 10-17 10-15 10-12 10-10 10-9 10-12 10-17 10-27 10-35 10-41 10-45 10-51 10-55 10-61 10-65 10-71 10-76 10-83 10-88 10-90 10-90 10-86 10-75 10-62 10-49 10-35 10-26 10-19 10-13 10-10 10-8 10-5 10-3 10-3 10-1 10 0 10 1 10 2 10 3 10 4 10 6 10 7 10 9 10 11 10 13 10 15 10 16 10 18 20 37 20 36 20 33 20 33 20 26 20 19 20 16 20 14 20 13 20 11 20 12 20 11 20 12 20 14 20 16 20 20 20 30 20 42 20 44 20 43 10 22 10 21 2 6 13 26 5 10 8 16 12 23 12 21 8 11 5 6 13 13 2 2 10 7 10 5 2 0 13 3 5 0 8 0 12-4 12-7 8-5 5-4 13-10 2-2 10-6 10-3 2 0 13 5 5 3 8 6 12 12 12 16 8 13 5 10 13 32 2 7 10 31 10 33 2 9 13 43 5 17 8 25 12 40 12 35 8 19 5 12 13 26 2 6 10 21 10 23 2 6 2 3" stroke="#7E2F8E"/>
<path d="M370 2036l20-2 20-2 20-2 20-2 20-2 20-1 20-1 20 0 20-2 20-5 20-10 20-12 20-13 20-7 20 2 20 5 20 6 20 6 20 6 20 7 20 5 20 5 20 4 20 4 20 4 20 3 20 4 20 3 20 2 20 3 20 3 20 2 20 2 20 2 20 1 20-2 20-6 20-10 20-13 20-17 20-22 20-24 20-28 20-29 20-29 20-29 20-24 20-19 20-16 20-15 20-11 20-9 20-8 20-5 20-4 20-1 20 5 20 8 20 10 20 11 20 12 20 13 20 14 20 12 20 9 20 9 20 9 20 8 20 8 20 9 20 7 20 3 20-1 20-5 20-10 20-20 20-29 20-42 20-51 20-57 20-56 20-52 10-24 10-22 10-18 10-16 10-12 10-11 10-10 10-12 10-18 10-26 10-34 10-39 10-45 10-49 10-55 10-59 10-65 10-70 10-76 10-82 10-87 10-90 10-90 10-86 10-78 10-65 10-51 10-38 10-27 10-20 10-14 10-10 10-8 10-5 10-4 10-2 10-2 10 0 10 1 10 3 10 3 10 4 10 6 10 8 10 9 10 11 10 14 10 15 10 17 10 17 20 38 20 35 20 33 20 31 20 26 20 19 20 15 20 14 20 13 20 12 20 13 20 13 20 12 20 14 20 16 20 22 20 31 20 41 20 45 20 44 10 22 10 21 2 5 13 27 5 10 8 16 12 24 12 21 8 11 5 7 13 15 2 3 10 9 10 8 2 2 13 9 5 3 8 4 12 5 12 4 8 2 5 1 13 3 2 1 10 3 10 6 2 2 13 13 5 8 8 12 12 25 12 30 8 20 5 14 13 35 2 7 10 28 10 29 2 7 13 36 5 14 8 22 12 36 12 37 8 22 5 14 13 38 2 7 10 31 10 29 2 8 2 4" stroke="#77AC30"/>
<path d="M370 1880l20 13 20 13 20 11 20 12 20 10 20 10 20 10 20 10 20 7 20 2 20-3 20-5 20-8 20-3 20 5 20 8 20 9 20 8 20 9 20 8 20 7 20 6 20 6 20 5 20 5 20 4 20 5 20 3 20 4 20 3 20 3 20 3 20 3 20 1 20 1 20-1 20-6 20-9 20-12 20-17 20-21 20-24 20-26 20-27 20-29 20-26 20-21 20-17 20-13 20-12 20-9 20-6 20-6 20-5 20-3 20 0 20 5 20 9 20 12 20 13 20 15 20 17 20 18 20 15 20 12 20 10 20 9 20 9 20 9 20 9 20 7 20 3 20-2 20-6 20-11 20-20 20-32 20-47 20-56 20-62 20-59 20-54 10-26 10-23 10-20 10-17 10-14 10-11 10-11 10-12 10-17 10-24 10-32 10-36 10-41 10-47 10-53 10-57 10-63 10-67 10-74 10-80 10-86 10-90 10-90 10-88 10-82 10-71 10-57 10-43 10-30 10-22 10-15 10-12 10-8 10-7 10-4 10-3 10-1 10-1 10 2 10 2 10 3 10 4 10 6 10 7 10 9 10 10 10 13 10 15 10 15 10 17 20 34 20 31 20 29 20 27 20 22 20 16 20 13 20 11 20 11 20 9 20 10 20 10 20 11 20 14 20 18 20 24 20 33 20 44 20 48 20 46 10 23 10 22 2 6 13 27 5 11 8 15 12 25 12 22 8 11 5 7 13 15 2 2 10 9 10 8 2 2 13 8 5 3 8 4 12 5 12 4 8 1 5 1 13 3 2 0 10 4 10 6 2 2 13 15 5 7 8 13 12 26 12 32 8 21 5 14 13 36 2 7 10 29 10 29 2 8 13 36 5 15 8 22 12 37 12 37 8 22 5 16 13 38 2 8 10 31 10 31 2 7 2 5" stroke="#4DBEEE"/>
<path d="M370 2027l20 3 20 2 20 3 20 2 20 3 20 2 20 2 20 2 20 0 20-4 20-11 20-13 20-15 20-9 20 1 20 4 20 4 20 5 20 6 20 6 20 6 20 5 20 4 20 4 20 4 20 4 20 4 20 3 20 3 20 3 20 2 20 3 20 2 20 2 20 0 20-1 20-6 20-10 20-13 20-19 20-23 20-25 20-30 20-31 20-32 20-31 20-27 20-23 20-20 20-19 20-17 20-12 20-11 20-9 20-5 20 0 20 4 20 8 20 10 20 11 20 11 20 12 20 12 20 11 20 10 20 9 20 9 20 9 20 9 20 10 20 7 20 4 20-1 20-4 20-10 20-18 20-29 20-39 20-48 20-54 20-54 20-50 10-23 10-21 10-17 10-14 10-12 10-10 10-9 10-11 10-17 10-25 10-32 10-39 10-42 10-48 10-52 10-57 10-61 10-67 10-72 10-78 10-84 10-86 10-88 10-84 10-77 10-67 10-53 10-40 10-28 10-20 10-15 10-10 10-7 10-6 10-4 10-2 10-1 10-1 10 1 10 3 10 4 10 4 10 6 10 8 10 9 10 12 10 14 10 16 10 17 10 17 20 37 20 33 20 31 20 30 20 23 20 18 20 14 20 12 20 12 20 14 20 14 20 13 20 12 20 10 20 14 20 20 20 27 20 38 20 42 20 41 10 21 10 21 2 5 13 26 5 10 8 15 12 23 12 21 8 12 5 6 13 16 2 3 10 10 10 9 2 2 13 12 5 4 8 6 12 10 12 8 8 6 5 3 13 9 2 1 10 8 10 8 2 3 13 16 5 8 8 14 12 28 12 32 8 20 5 14 13 33 2 6 10 24 10 23 2 6 13 28 5 12 8 16 12 27 12 26 8 14 5 9 13 20 2 3 10 11 10 8 2 1 2 1" stroke="#A2142F"/>
<path d="M370 2056l20 4 20 3 20 3 20 2 20 2 20 1 20 1 20 0 20-1 20-6 20-13 20-17 20-17 20-10 20-2 20 2 20 1 20 2 20 3 20 4 20 3 20 2 20 2 20 2 20 1 20 2 20 1 20 2 20 1 20 2 20 1 20 2 20 2 20 1 20 1 20-2 20-6 20-11 20-13 20-18 20-22 20-24 20-27 20-29 20-30 20-28 20-24 20-19 20-17 20-14 20-11 20-8 20-6 20-5 20-3 20 1 20 5 20 10 20 11 20 13 20 13 20 15 20 16 20 13 20 12 20 10 20 9 20 10 20 9 20 10 20 7 20 3 20-2 20-6 20-11 20-21 20-32 20-45 20-53 20-59 20-58 20-54 10-25 10-22 10-19 10-16 10-13 10-11 10-11 10-12 10-18 10-26 10-35 10-40 10-45 10-51 10-55 10-60 10-65 10-70 10-77 10-82 10-88 10-90 10-90 10-86 10-76 10-64 10-49 10-37 10-26 10-19 10-14 10-11 10-7 10-6 10-3 10-3 10-1 10-1 10 1 10 2 10 2 10 4 10 6 10 6 10 9 10 10 10 13 10 15 10 15 10 18 20 36 20 35 20 32 20 32 20 25 20 19 20 15 20 14 20 11 20 10 20 10 20 9 20 12 20 14 20 17 20 22 20 32 20 44 20 47 20 45 10 22 10 22 2 6 13 27 5 11 8 16 12 24 12 21 8 11 5 7 13 14 2 2 10 8 10 5 2 2 13 4 5 2 8 1 12 0 12-3 8-3 5-2 13-6 2-1 10-2 10 0 2 1 13 8 5 5 8 8 12 16 12 21 8 15 5 11 13 33 2 7 10 29 10 31 2 8 13 39 5 16 8 23 12 37 12 34 8 19 5 11 13 27 2 5 10 21 10 22 2 5 2 3" stroke="#0072BD"/>
<path d="M370 1880l20 12 20 12 20 11 20 11 20 11 20 10 20 10 20 9 20 8 20 2 20-2 20-5 20-7 20-4 20 5 20 9 20 9 20 9 20 9 20 9 20 8 20 6 20 6 20 6 20 5 20 5 20 5 20 4 20 4 20 3 20 4 20 3 20 2 20 2 20 1 20-1 20-6 20-9 20-13 20-17 20-22 20-25 20-27 20-29 20-30 20-28 20-24 20-19 20-16 20-14 20-12 20-10 20-7 20-7 20-3 20-1 20 5 20 8 20 11 20 12 20 13 20 16 20 15 20 13 20 11 20 9 20 9 20 8 20 9 20 9 20 7 20 3 20-2 20-7 20-13 20-23 20-35 20-47 20-57 20-61 20-61 20-56 10-26 10-23 10-20 10-16 10-14 10-11 10-11 10-13 10-18 10-26 10-35 10-41 10-44 10-49 10-54 10-58 10-63 10-67 10-73 10-79 10-83 10-86 10-86 10-83 10-74 10-63 10-50 10-38 10-26 10-19 10-13 10-10 10-7 10-5 10-3 10-3 10-1 10 0 10 1 10 2 10 4 10 5 10 5 10 8 10 9 10 12 10 13 10 16 10 17 10 17 20 37 20 33 20 32 20 30 20 24 20 18 20 14 20 13 20 12 20 14 20 13 20 13 20 11 20 11 20 13 20 19 20 26 20 38 20 41 20 41 10 20 10 21 2 5 13 25 5 10 8 15 12 24 12 21 8 11 5 6 13 14 2 2 10 9 10 6 2 2 13 6 5 2 8 2 12 3 12-1 8 0 5-1 13-1 2 0 10 1 10 5 2 1 13 13 5 7 8 11 12 24 12 28 8 20 5 14 13 37 2 8 10 31 10 32 2 8 13 40 5 16 8 24 12 39 12 38 8 22 5 15 13 36 2 7 10 30 10 29 2 7 2 4" stroke="#D95319"/>
<path d="M370 1900l20 13 20 12 20 12 20 10 20 10 20 10 20 8 20 8 20 6 20 0 20-4 20-8 20-10 20-5 20 3 20 6 20 7 20 7 20 8 20 7 20 6 20 5 20 4 20 4 20 4 20 4 20 3 20 3 20 3 20 3 20 3 20 2 20 3 20 2 20 0 20-1 20-6 20-10 20-13 20-18 20-22 20-24 20-27 20-28 20-30 20-28 20-23 20-19 20-16 20-14 20-11 20-8 20-7 20-5 20-4 20 0 20 4 20 8 20 10 20 10 20 11 20 13 20 12 20 11 20 9 20 7 20 8 20 7 20 8 20 8 20 6 20 2 20-3 20-6 20-12 20-22 20-32 20-43 20-51 20-57 20-58 20-53 10-25 10-22 10-18 10-15 10-13 10-11 10-10 10-12 10-18 10-27 10-36 10-41 10-45 10-50 10-54 10-58 10-62 10-67 10-73 10-79 10-83 10-85 10-85 10-82 10-73 10-62 10-49 10-36 10-26 10-19 10-12 10-10 10-6 10-5 10-3 10-2 10-2 10 0 10 1 10 3 10 3 10 4 10 6 10 7 10 10 10 11 10 13 10 16 10 16 10 17 20 36 20 33 20 31 20 30 20 23 20 17 20 14 20 12 20 12 20 11 20 11 20 10 20 11 20 11 20 14 20 19 20 29 20 40 20 44 20 42 10 21 10 21 2 6 13 26 5 10 8 16 12 23 12 21 8 11 5 7 13 13 2 2 10 8 10 5 2 0 13 4 5 0 8 1 12-3 12-6 8-4 5-4 13-8 2-2 10-5 10-1 2 0 13 6 5 4 8 7 12 13 12 18 8 13 5 11 13 32 2 7 10 30 10 32 2 8 13 41 5 16 8 25 12 38 12 34 8 18 5 11 13 25 2 5 10 20 10 21 2 5 2 3" stroke="#EDB120"/>
<path d="M370 1930l20 5 20 5 20 5 20 5 20 5 20 5 20 5 20 6 20 3 20-1 20-4 20-7 20-9 20-4 20 3 20 9 20 8 20 9 20 8 20 9 20 7 20 6 20 6 20 5 20 4 20 5 20 4 20 4 20 3 20 3 20 4 20 3 20 2 20 2 20 1 20-2 20-6 20-9 20-13 20-18 20-22 20-24 20-27 20-29 20-30 20-28 20-24 20-19 20-16 20-14 20-12 20-9 20-7 20-6 20-3 20 0 20 4 20 8 20 10 20 11 20 12 20 13 20 13 20 12 20 9 20 9 20 8 20 8 20 9 20 8 20 7 20 3 20 0 20-4 20-7 20-16 20-26 20-38 20-47 20-54 20-53 20-48 10-23 10-20 10-18 10-15 10-12 10-10 10-9 10-11 10-17 10-23 10-31 10-35 10-40 10-47 10-52 10-57 10-63 10-67 10-74 10-81 10-86 10-91 10-91 10-89 10-83 10-72 10-58 10-44 10-32 10-22 10-16 10-11 10-9 10-7 10-4 10-3 10-2 10 0 10 1 10 3 10 4 10 4 10 7 10 7 10 10 10 12 10 14 10 16 10 17 10 18 20 37 20 34 20 31 20 31 20 24 20 18 20 14 20 13 20 13 20 15 20 15 20 15 20 13 20 12 20 15 20 21 20 28 20 37 20 41 20 42 10 20 10 21 2 5 13 24 5 10 8 14 12 22 12 20 8 10 5 6 13 13 2 2 10 6 10 4 2 1 13 2 5 0 8 0 12-4 12-8 8-6 5-4 13-11 2-2 10-7 10-3 2 0 13 4 5 2 8 5 12 10 12 14 8 12 5 9 13 28 2 6 10 27 10 30 2 8 13 39 5 15 8 23 12 36 12 31 8 16 5 9 13 19 2 4 10 15 10 16 2 4 2 3" stroke="#7E2F8E"/>
<path d="M370 2004l20 14 20 12 20 10 20 10 20 8 20 7 20 6 20 4 20 2 20-4 20-11 20-16 20-18 20-10 20-1 20 1 20 1 20 2 20 4 20 4 20 3 20 3 20 3 20 2 20 2 20 3 20 2 20 1 20 2 20 2 20 2 20 1 20 2 20 1 20 1 20-2 20-6 20-10 20-13 20-18 20-22 20-24 20-27 20-29 20-29 20-29 20-23 20-18 20-16 20-14 20-11 20-8 20-7 20-6 20-3 20 0 20 4 20 8 20 10 20 11 20 12 20 14 20 14 20 12 20 9 20 9 20 8 20 8 20 9 20 8 20 8 20 3 20-2 20-4 20-9 20-17 20-29 20-41 20-50 20-56 20-55 20-51 10-24 10-22 10-18 10-16 10-12 10-11 10-11 10-11 10-17 10-25 10-33 10-38 10-43 10-48 10-55 10-59 10-65 10-70 10-76 10-83 10-88 10-91 10-92 10-89 10-80 10-69 10-53 10-40 10-30 10-20 10-15 10-12 10-8 10-6 10-4 10-3 10-2 10-1 10 1 10 2 10 4 10 4 10 6 10 8 10 9 10 12 10 14 10 16 10 17 10 19 20 39 20 36 20 35 20 33 20 26 20 21 20 16 20 14 20 15 20 15 20 16 20 14 20 13 20 11 20 14 20 19 20 26 20 37 20 40 20 41 10 20 10 20 2 6 13 25 5 10 8 14 12 24 12 21 8 11 5 7 13 14 2 2 10 8 10 7 2 1 13 6 5 2 8 2 12 1 12-1 8-1 5-1 13-3 2 0 10 0 10 4 2 2 13 12 5 7 8 11 12 23 12 29 8 19 5 14 13 38 2 7 10 32 10 32 2 8 13 41 5 16 8 25 12 40 12 39 8 24 5 16 13 40 2 8 10 33 10 33 2 8 2 5" stroke="#77AC30"/>
<path d="M370 2029l20-4 20-4 20-3 20-4 20-2 20-2 20-1 20-1 20-2 20-5 20-9 20-11 20-11 20-6 20 2 20 7 20 7 20 7 20 7 20 7 20 6 20 6 20 4 20 4 20 4 20 4 20 4 20 3 20 3 20 3 20 3 20 3 20 2 20 2 20 1 20-1 20-6 20-9 20-12 20-18 20-20 20-24 20-26 20-27 20-29 20-26 20-22 20-17 20-13 20-11 20-9 20-7 20-5 20-4 20-3 20 1 20 4 20 9 20 10 20 12 20 13 20 15 20 15 20 12 20 10 20 8 20 8 20 8 20 8 20 8 20 7 20 3 20-1 20-5 20-10 20-18 20-30 20-44 20-52 20-58 20-57 20-52 10-25 10-22 10-19 10-16 10-13 10-11 10-11 10-11 10-17 10-25 10-31 10-37 10-41 10-47 10-52 10-58 10-62 10-67 10-74 10-80 10-85 10-89 10-90 10-88 10-81 10-71 10-56 10-43 10-30 10-22 10-15 10-11 10-9 10-6 10-4 10-3 10-1 10-1 10 1 10 3 10 3 10 4 10 6 10 7 10 9 10 10 10 13 10 15 10 16 10 16 20 34 20 31 20 30 20 28 20 22 20 16 20 13 20 12 20 10 20 11 20 11 20 11 20 13 20 15 20 20 20 26 20 36 20 45 20 49 20 48 10 23 10 23 2 6 13 28 5 10 8 16 12 25 12 22 8 12 5 7 13 14 2 2 10 8 10 5 2 1 13 3 5 1 8-1 12-3 12-8 8-5 5-4 13-10 2-2 10-5 10 1 2 1 13 9 5 5 8 9 12 17 12 23 8 16 5 12 13 32 2 7 10 29 10 31 2 7 13 39 5 16 8 23 12 37 12 35 8 20 5 12 13 31 2 6 10 24 10 25 2 6 2 4" stroke="#4DBEEE"/>
<path d="M370 1902l20 7 20 7 20 7 20 7 20 6 20 6 20 6 20 7 20 4 20 0 20-4 20-5 20-7 20-4 20 4 20 9 20 9 20 9 20 8 20 9 20 7 20 6 20 5 20 4 20 5 20 3 20 4 20 3 20 4 20 3 20 3 20 3 20 3 20 2 20 1 20-2 20-6 20-9 20-13 20-17 20-21 20-23 20-25 20-28 20-28 20-26 20-21 20-17 20-13 20-11 20-8 20-6 20-5 20-4 20-2 20 0 20 4 20 7 20 10 20 10 20 11 20 13 20 13 20 10 20 8 20 7 20 7 20 7 20 7 20 8 20 7 20 2 20-1 20-4 20-9 20-18 20-28 20-41 20-49 20-56 20-55 20-51 10-24 10-21 10-19 10-15 10-13 10-10 10-11 10-11 10-17 10-25 10-33 10-39 10-43 10-50 10-55 10-61 10-67 10-72 10-78 10-85 10-91 10-94 10-94 10-91 10-81 10-68 10-52 10-40 10-28 10-21 10-15 10-12 10-8 10-7 10-5 10-3 10-2 10-1 10 1 10 1 10 3 10 3 10 5 10 6 10 9 10 10 10 12 10 14 10 15 10 17 20 37 20 35 20 33 20 33 20 26 20 19 20 17 20 14 20 11 20 10 20 9 20 9 20 12 20 18 20 21 20 27 20 37 20 50 20 51 20 49 10 25 10 23 2 6 13 29 5 11 8 16 12 25 12 22 8 12 5 7 13 13 2 2 10 6 10 4 2 0 13 0 5-1 8-2 12-9 12-12 8-9 5-7 13-17 2-3 10-10 10-4 2 0 13 4 5 3 8 6 12 10 12 15 8 12 5 10 13 31 2 7 10 31 10 33 2 9 13 43 5 18 8 26 12 41 12 37 8 20 5 12 13 30 2 6 10 25 10 28 2 8 2 4" stroke="#A2142F"/>
<path d="M370 1976l20 2 20 3 20 4 20 3 20 4 20 4 20 4 20 3 20 3 20-3 20-7 20-10 20-11 20-6 20 2 20 7 20 7 20 8 20 8 20 8 20 7 20 6 20 6 20 5 20 5 20 5 20 4 20 4 20 4 20 3 20 4 20 2 20 3 20 2 20 1 20-2 20-6 20-9 20-13 20-19 20-23 20-25 20-29 20-31 20-32 20-31 20-26 20-23 20-20 20-18 20-16 20-12 20-11 20-8 20-5 20 0 20 5 20 9 20 13 20 13 20 14 20 17 20 16 20 16 20 14 20 12 20 12 20 11 20 11 20 10 20 9 20 3 20-2 20-6 20-10 20-21 20-31 20-44 20-53 20-59 20-58 20-54 10-25 10-23 10-19 10-16 10-14 10-11 10-11 10-13 10-18 10-27 10-35 10-42 10-47 10-52 10-57 10-63 10-68 10-73 10-80 10-86 10-92 10-93 10-93 10-88 10-77 10-63 10-47 10-35 10-25 10-19 10-14 10-11 10-7 10-6 10-4 10-3 10-2 10 0 10 0 10 1 10 3 10 3 10 5 10 7 10 8 10 10 10 13 10 14 10 16 10 18 20 38 20 37 20 36 20 34 20 29 20 21 20 18 20 16 20 13 20 11 20 12 20 11 20 14 20 17 20 21 20 26 20 36 20 47 20 49 20 48 10 23 10 23 2 6 13 28 5 11 8 15 12 25 12 22 8 12 5 7 13 13 2 2 10 6 10 3 2 1 13 0 5-1 8-2 12-8 12-12 8-9 5-7 13-16 2-3 10-10 10-4 2 0 13 4 5 3 8 6 12 10 12 15 8 13 5 10 13 32 2 7 10 31 10 35 2 8 13 46 5 18 8 26 12 44 12 40 8 22 5 14 13 36 2 7 10 31 10 35 2 10 2 5" stroke="#0072BD"/>
<path d="M370 1980l20 0 20 0 20 1 20 0 20 1 20 1 20 2 20 3 20 0 20-3 20-6 20-9 20-10 20-5 20 3 20 8 20 8 20 8 20 8 20 8 20 7 20 5 20 6 20 4 20 5 20 4 20 4 20 3 20 4 20 3 20 3 20 3 20 2 20 2 20 1 20-1 20-6 20-10 20-13 20-18 20-21 20-24 20-27 20-29 20-29 20-29 20-23 20-18 20-16 20-14 20-11 20-8 20-7 20-6 20-3 20-1 20 5 20 8 20 11 20 11 20 12 20 14 20 14 20 12 20 10 20 9 20 9 20 8 20 9 20 9 20 8 20 3 20-1 20-4 20-10 20-18 20-30 20-42 20-51 20-56 20-56 20-52 10-24 10-22 10-19 10-16 10-12 10-11 10-11 10-12 10-17 10-25 10-33 10-39 10-43 10-49 10-55 10-60 10-65 10-71 10-76 10-83 10-89 10-91 10-92 10-89 10-79 10-67 10-53 10-39 10-29 10-20 10-15 10-11 10-8 10-6 10-4 10-3 10-2 10 0 10 0 10 2 10 3 10 4 10 6 10 7 10 9 10 11 10 13 10 16 10 16 10 18 20 37 20 36 20 33 20 33 20 26 20 19 20 16 20 14 20 13 20 13 20 12 20 13 20 12 20 14 20 18 20 23 20 32 20 43 20 46 20 45 10 22 10 22 2 6 13 27 5 10 8 16 12 24 12 21 8 12 5 7 13 15 2 3 10 9 10 8 2 2 13 9 5 3 8 5 12 5 12 4 8 3 5 1 13 3 2 1 10 4 10 6 2 2 13 15 5 7 8 12 12 24 12 28 8 18 5 12 13 31 2 6 10 23 10 23 2 6 13 30 5 11 8 18 12 27 12 26 8 14 5 9 13 18 2 4 10 11 10 10 2 2 2 1" stroke="#D95319"/>
<path d="M370 2066l20 8 20 8 20 6 20 4 20 4 20 3 20 2 20 1 20-2 20-6 20-14 20-19 20-20 20-11 20-2 20-1 20 0 20 1 20 3 20 3 20 2 20 2 20 2 20 2 20 2 20 1 20 2 20 1 20 1 20 1 20 2 20 1 20 1 20 1 20 0 20-2 20-7 20-10 20-14 20-18 20-23 20-25 20-28 20-29 20-31 20-29 20-25 20-21 20-17 20-16 20-13 20-10 20-8 20-6 20-4 20 0 20 4 20 10 20 12 20 12 20 14 20 16 20 16 20 14 20 13 20 12 20 10 20 10 20 11 20 10 20 8 20 3 20-2 20-5 20-12 20-20 20-32 20-44 20-54 20-58 20-59 20-54 10-25 10-22 10-20 10-16 10-13 10-12 10-11 10-12 10-18 10-27 10-36 10-42 10-47 10-52 10-57 10-62 10-68 10-73 10-79 10-86 10-91 10-93 10-92 10-88 10-76 10-62 10-47 10-35 10-25 10-19 10-14 10-10 10-8 10-5 10-4 10-3 10-2 10-1 10 1 10 1 10 2 10 4 10 5 10 6 10 8 10 10 10 12 10 14 10 16 10 17 20 37 20 36 20 35 20 34 20 27 20 21 20 18 20 15 20 12 20 10 20 10 20 11 20 14 20 20 20 24 20 31 20 42 20 52 20 54 20 53 10 25 10 25 2 6 13 29 5 11 8 16 12 26 12 23 8 12 5 7 13 15 2 3 10 8 10 6 2 2 13 5 5 1 8 1 12-1 12-4 8-4 5-2 13-6 2-1 10-2 10 3 2 1 13 12 5 6 8 11 12 22 12 27 8 18 5 13 13 34 2 7 10 28 10 28 2 7 13 37 5 15 8 22 12 36 12 35 8 21 5 13 13 34 2 7 10 27 10 28 2 6 2 4" stroke="#EDB120"/>
<path d="M370 2090l20 1 20 0 20 0 20 0 20-1 20 0 20-2 20-1 20-4 20-7 20-15 20-18 20-19 20-11 20-2 20 0 20 2 20 2 20 4 20 4 20 4 20 3 20 3 20 2 20 3 20 2 20 3 20 2 20 2 20 2 20 2 20 2 20 2 20 1 20 1 20-2 20-6 20-9 20-13 20-17 20-22 20-23 20-27 20-28 20-29 20-28 20-22 20-18 20-15 20-12 20-11 20-7 20-6 20-6 20-3 20 0 20 4 20 7 20 9 20 9 20 10 20 11 20 11 20 9 20 7 20 6 20 6 20 6 20 7 20 7 20 7 20 2 20-1 20-3 20-8 20-16 20-26 20-38 20-46 20-53 20-52 20-49 10-22 10-20 10-18 10-14 10-12 10-10 10-9 10-11 10-16 10-23 10-31 10-36 10-40 10-46 10-52 10-57 10-62 10-67 10-74 10-80 10-86 10-89 10-91 10-89 10-83 10-71 10-58 10-44 10-31 10-22 10-16 10-11 10-9 10-6 10-5 10-3 10-1 10-1 10 1 10 3 10 3 10 5 10 5 10 7 10 9 10 11 10 14 10 15 10 16 10 17 20 34 20 32 20 30 20 29 20 23 20 16 20 14 20 12 20 11 20 12 20 12 20 12 20 13 20 14 20 19 20 25 20 34 20 44 20 47 20 47 10 23 10 22 2 6 13 27 5 10 8 16 12 24 12 22 8 12 5 7 13 15 2 2 10 8 10 6 2 1 13 5 5 1 8 1 12-1 12-5 8-3 5-3 13-6 2-1 10-3 10 2 2 2 13 10 5 6 8 10 12 21 12 25 8 18 5 12 13 34 2 7 10 28 10 30 2 8 13 37 5 16 8 22 12 37 12 36 8 21 5 13 13 33 2 7 10 27 10 27 2 7 2 4" stroke="#7E2F8E"/>
<path d="M370 1944l20 9 20 8 20 8 20 8 20 7 20 7 20 7 20 6 20 4 20-1 20-6 20-9 20-11 20-5 20 3 20 6 20 7 20 7 20 7 20 8 20 6 20 6 20 5 20 5 20 5 20 4 20 4 20 4 20 3 20 3 20 3 20 3 20 2 20 2 20 1 20-2 20-5 20-10 20-12 20-18 20-21 20-25 20-27 20-29 20-30 20-29 20-23 20-19 20-16 20-14 20-12 20-9 20-8 20-6 20-4 20 0 20 4 20 9 20 12 20 12 20 13 20 16 20 16 20 14 20 12 20 10 20 9 20 9 20 9 20 9 20 7 20 3 20-1 20-5 20-10 20-19 20-30 20-44 20-52 20-59 20-57 20-52 10-25 10-22 10-20 10-16 10-13 10-11 10-11 10-12 10-17 10-25 10-33 10-38 10-43 10-50 10-56 10-61 10-67 10-72 10-79 10-86 10-91 10-94 10-95 10-91 10-82 10-68 10-53 10-39 10-29 10-20 10-16 10-12 10-8 10-7 10-4 10-3 10-2 10-1 10 1 10 1 10 3 10 4 10 5 10 7 10 8 10 11 10 13 10 14 10 17 10 17 20 38 20 37 20 35 20 33 20 28 20 20 20 18 20 15 20 13 20 12 20 13 20 12 20 14 20 17 20 19 20 26 20 35 20 45 20 48 20 47 10 24 10 23 2 5 13 28 5 11 8 16 12 25 12 22 8 12 5 8 13 16 2 3 10 10 10 9 2 2 13 10 5 4 8 5 12 7 12 5 8 3 5 2 13 5 2 1 10 6 10 7 2 3 13 17 5 8 8 15 12 29 12 35 8 22 5 15 13 37 2 7 10 27 10 27 2 7 13 34 5 14 8 21 12 35 12 37 8 23 5 16 13 41 2 9 10 33 10 32 2 8 2 4" stroke="#77AC30"/>
<path d="M370 2025l20 8 20 7 20 6 20 5 20 5 20 3 20 3 20 2 20 0 20-5 20-12 20-15 20-17 20-9 20-1 20 2 20 2 20 3 20 4 20 3 20 4 20 3 20 2 20 2 20 2 20 2 20 2 20 2 20 1 20 2 20 2 20 2 20 1 20 2 20 0 20-1 20-6 20-10 20-13 20-18 20-21 20-24 20-27 20-28 20-29 20-27 20-23 20-18 20-14 20-13 20-10 20-6 20-6 20-3 20-2 20 1 20 5 20 10 20 12 20 13 20 14 20 16 20 17 20 14 20 12 20 10 20 9 20 9 20 10 20 10 20 7 20 4 20-1 20-4 20-9 20-18 20-29 20-44 20-53 20-58 20-57 20-52 10-24 10-22 10-20 10-15 10-14 10-11 10-10 10-12 10-16 10-24 10-31 10-35 10-41 10-46 10-52 10-57 10-63 10-67 10-74 10-80 10-86 10-90 10-91 10-90 10-82 10-72 10-58 10-44 10-32 10-22 10-16 10-11 10-9 10-6 10-5 10-3 10-1 10-1 10 1 10 3 10 3 10 5 10 6 10 8 10 9 10 12 10 13 10 16 10 17 10 17 20 36 20 33 20 31 20 29 20 23 20 18 20 13 20 12 20 12 20 13 20 13 20 12 20 12 20 11 20 16 20 22 20 30 20 41 20 44 20 44 10 22 10 21 2 5 13 27 5 10 8 15 12 24 12 22 8 11 5 7 13 16 2 2 10 10 10 8 2 2 13 10 5 3 8 5 12 7 12 5 8 2 5 2 13 5 2 1 10 5 10 7 2 2 13 15 5 8 8 14 12 27 12 32 8 21 5 15 13 36 2 7 10 27 10 28 2 7 13 35 5 14 8 21 12 35 12 36 8 22 5 15 13 39 2 7 10 31 10 30 2 7 2 5" stroke="#4DBEEE"/>
<path d="M370 2005l20 6 20 5 20 5 20 4 20 3 20 3 20 3 20 2 20 1 20-4 20-10 20-14 20-14 20-8 20 0 20 3 20 4 20 4 20 5 20 4 20 4 20 4 20 3 20 2 20 2 20 3 20 2 20 2 20 1 20 2 20 2 20 3 20 1 20 2 20 1 20-2 20-7 20-10 20-14 20-18 20-22 20-25 20-27 20-30 20-30 20-30 20-25 20-21 20-18 20-16 20-13 20-10 20-7 20-7 20-4 20 0 20 4 20 9 20 11 20 11 20 11 20 14 20 13 20 12 20 12 20 10 20 10 20 10 20 10 20 11 20 9 20 4 20 0 20-3 20-8 20-17 20-27 20-40 20-48 20-55 20-54 20-50 10-24 10-21 10-18 10-15 10-13 10-10 10-10 10-12 10-17 10-26 10-34 10-39 10-44 10-50 10-56 10-61 10-66 10-72 10-78 10-85 10-90 10-93 10-93 10-89 10-79 10-66 10-51 10-38 10-27 10-20 10-15 10-11 10-8 10-7 10-4 10-3 10-2 10 0 10 0 10 2 10 3 10 4 10 5 10 7 10 9 10 10 10 13 10 15 10 16 10 18 20 38 20 36 20 35 20 33 20 27 20 20 20 17 20 15 20 13 20 11 20 12 20 11 20 13 20 13 20 17 20 21 20 30 20 43 20 45 20 43 10 22 10 21 2 6 13 27 5 10 8 16 12 24 12 21 8 11 5 6 13 15 2 2 10 9 10 7 2 2 13 7 5 2 8 4 12 4 12 3 8 1 5 0 13 2 2 1 10 3 10 7 2 2 13 15 5 8 8 13 12 27 12 32 8 22 5 15 13 40 2 7 10 32 10 32 2 8 13 40 5 16 8 24 12 39 12 39 8 23 5 16 13 40 2 8 10 32 10 31 2 8 2 5" stroke="#A2142F"/>
<path d="M370 1981l20 6 20 6 20 5 20 4 20 5 20 4 20 4 20 3 20 1 20-3 20-8 20-12 20-13 20-7 20 1 20 5 20 5 20 6 20 6 20 6 20 6 20 4 20 4 20 4 20 3 20 3 20 3 20 3 20 2 20 3 20 2 20 3 20 2 20 1 20 1 20-2 20-6 20-10 20-14 20-18 20-22 20-24 20-27 20-29 20-31 20-29 20-24 20-19 20-17 20-15 20-13 20-9 20-8 20-6 20-5 20-1 20 4 20 7 20 9 20 10 20 9 20 11 20 11 20 9 20 8 20 8 20 7 20 7 20 8 20 9 20 7 20 3 20-2 20-4 20-9 20-19 20-28 20-39 20-47 20-53 20-54 20-51 10-23 10-21 10-18 10-14 10-12 10-10 10-10 10-12 10-18 10-26 10-35 10-41 10-46 10-51 10-56 10-61 10-67 10-71 10-78 10-85 10-89 10-92 10-91 10-87 10-77 10-63 10-48 10-36 10-26 10-18 10-14 10-11 10-7 10-6 10-4 10-3 10-1 10-1 10 1 10 1 10 2 10 4 10 5 10 6 10 8 10 10 10 12 10 13 10 16 10 16 20 36 20 35 20 33 20 32 20 26 20 19 20 16 20 14 20 11 20 8 20 7 20 9 20 12 20 18 20 23 20 28 20 39 20 52 20 53 20 51 10 25 10 24 2 6 13 29 5 11 8 17 12 25 12 23 8 11 5 7 13 15 2 3 10 8 10 7 2 2 13 7 5 2 8 3 12 2 12 0 8 0 5-1 13-1 2 0 10 0 10 4 2 2 13 12 5 6 8 11 12 23 12 27 8 18 5 13 13 34 2 7 10 28 10 28 2 8 13 36 5 15 8 22 12 35 12 36 8 20 5 14 13 33 2 7 10 27 10 27 2 7 2 4" stroke="#0072BD"/>
<path d="M370 1907l20 19 20 17 20 16 20 14 20 12 20 12 20 10 20 9 20 5 20 0 20-6 20-10 20-13 20-7 20 1 20 4 20 4 20 5 20 5 20 5 20 5 20 4 20 3 20 3 20 3 20 2 20 3 20 2 20 2 20 2 20 3 20 2 20 2 20 1 20 1 20-2 20-6 20-9 20-12 20-17 20-21 20-22 20-26 20-26 20-27 20-26 20-20 20-15 20-11 20-9 20-7 20-5 20-4 20-3 20-2 20 0 20 3 20 7 20 9 20 10 20 10 20 12 20 12 20 9 20 7 20 5 20 5 20 5 20 7 20 7 20 6 20 2 20-1 20-4 20-9 20-18 20-28 20-41 20-50 20-56 20-55 20-51 10-23 10-22 10-19 10-15 10-12 10-11 10-11 10-11 10-17 10-25 10-33 10-39 10-44 10-50 10-57 10-62 10-68 10-74 10-81 10-87 10-93 10-97 10-96 10-93 10-82 10-67 10-52 10-39 10-28 10-20 10-16 10-12 10-9 10-6 10-5 10-3 10-2 10-1 10 0 10 1 10 2 10 4 10 4 10 7 10 8 10 9 10 12 10 14 10 15 10 17 20 37 20 36 20 34 20 34 20 27 20 20 20 18 20 15 20 11 20 8 20 8 20 8 20 13 20 19 20 23 20 29 20 40 20 53 20 53 20 52 10 25 10 24 2 6 13 30 5 11 8 17 12 25 12 23 8 11 5 7 13 14 2 2 10 7 10 5 2 1 13 2 5 0 8-1 12-5 12-9 8-7 5-4 13-12 2-2 10-7 10-1 2 0 13 7 5 5 8 7 12 15 12 20 8 16 5 12 13 33 2 8 10 31 10 34 2 9 13 44 5 18 8 26 12 43 12 42 8 25 5 16 13 42 2 8 10 37 10 40 2 10 2 6" stroke="#D95319"/>
<path d="M370 2100l20 2 20 1 20 1 20 1 20 0 20 0 20-1 20-2 20-3 20-8 20-15 20-19 20-21 20-11 20-3 20 0 20-1 20 2 20 2 20 2 20 3 20 2 20 1 20 2 20 1 20 2 20 1 20 1 20 2 20 1 20 2 20 1 20 2 20 1 20 1 20-2 20-6 20-9 20-12 20-17 20-20 20-23 20-25 20-26 20-27 20-25 20-20 20-14 20-11 20-8 20-6 20-4 20-3 20-2 20-1 20 1 20 5 20 9 20 11 20 12 20 14 20 17 20 17 20 13 20 10 20 8 20 8 20 7 20 8 20 8 20 6 20 3 20-2 20-5 20-11 20-19 20-32 20-46 20-56 20-61 20-59 20-55 10-25 10-24 10-20 10-17 10-14 10-12 10-12 10-12 10-18 10-25 10-33 10-38 10-43 10-49 10-55 10-61 10-66 10-71 10-78 10-84 10-90 10-94 10-94 10-90 10-82 10-68 10-55 10-40 10-29 10-21 10-16 10-11 10-9 10-6 10-5 10-3 10-2 10 0 10 1 10 1 10 3 10 4 10 5 10 7 10 9 10 11 10 13 10 14 10 16 10 18 20 36 20 35 20 33 20 32 20 26 20 19 20 16 20 14 20 12 20 11 20 11 20 12 20 12 20 16 20 19 20 25 20 35 20 45 20 48 20 47 10 24 10 22 2 6 13 28 5 10 8 16 12 25 12 22 8 11 5 7 13 15 2 2 10 9 10 7 2 2 13 7 5 2 8 3 12 3 12 0 8 0 5-1 13-1 2 0 10 1 10 4 2 2 13 12 5 7 8 11 12 23 12 27 8 18 5 13 13 34 2 7 10 27 10 28 2 7 13 36 5 14 8 22 12 35 12 34 8 20 5 13 13 32 2 7 10 25 10 25 2 6 2 4" stroke="#EDB120"/>
<path d="M370 2036l20 0 20 1 20 1 20 0 20 1 20 1 20 1 20 1 20-1 20-5 20-11 20-13 20-15 20-8 20 1 20 5 20 4 20 6 20 6 20 6 20 6 20 4 20 5 20 4 20 4 20 3 20 4 20 3 20 3 20 3 20 2 20 3 20 2 20 2 20 0 20-1 20-6 20-9 20-13 20-18 20-22 20-25 20-28 20-30 20-31 20-29 20-25 20-20 20-18 20-15 20-14 20-10 20-9 20-7 20-4 20-1 20 5 20 8 20 10 20 11 20 11 20 13 20 13 20 11 20 10 20 8 20 8 20 8 20 9 20 9 20 7 20 3 20-1 20-4 20-8 20-17 20-26 20-39 20-48 20-54 20-53 20-50 10-23 10-21 10-18 10-14 10-13 10-10 10-10 10-12 10-17 10-25 10-32 10-38 10-43 10-48 10-54 10-60 10-64 10-70 10-76 10-83 10-88 10-91 10-92 10-89 10-81 10-68 10-54 10-41 10-29 10-21 10-15 10-11 10-8 10-7 10-4 10-3 10-2 10 0 10 1 10 2 10 3 10 4 10 6 10 7 10 10 10 11 10 14 10 15 10 17 10 18 20 37 20 36 20 33 20 32 20 26 20 19 20 16 20 14 20 13 20 14 20 13 20 14 20 12 20 13 20 15 20 21 20 29 20 40 20 43 20 43 10 21 10 21 2 5 13 26 5 11 8 15 12 23 12 22 8 11 5 7 13 15 2 2 10 10 10 8 2 2 13 9 5 3 8 5 12 6 12 4 8 2 5 1 13 4 2 1 10 4 10 6 2 2 13 13 5 7 8 12 12 24 12 28 8 18 5 13 13 31 2 6 10 25 10 25 2 6 13 31 5 13 8 18 12 30 12 27 8 15 5 9 13 20 2 4 10 13 10 10 2 3 2 1" stroke="#7E2F8E"/>
<path d="M370 1948l20 8 20 8 20 7 20 7 20 7 20 6 20 6 20 5 20 4 20-1 20-6 20-10 20-11 20-5 20 2 20 7 20 6 20 7 20 7 20 8 20 6 20 6 20 5 20 4 20 5 20 4 20 4 20 3 20 3 20 3 20 3 20 3 20 2 20 2 20 1 20-2 20-5 20-9 20-13 20-17 20-21 20-24 20-27 20-28 20-28 20-28 20-21 20-18 20-14 20-12 20-10 20-8 20-6 20-6 20-3 20-1 20 4 20 8 20 10 20 11 20 12 20 14 20 14 20 11 20 9 20 8 20 7 20 8 20 8 20 8 20 7 20 2 20-1 20-5 20-10 20-18 20-29 20-43 20-51 20-58 20-56 20-52 10-24 10-22 10-19 10-15 10-13 10-11 10-10 10-12 10-17 10-25 10-32 10-37 10-42 10-48 10-54 10-59 10-64 10-70 10-75 10-82 10-88 10-91 10-92 10-88 10-81 10-69 10-55 10-41 10-30 10-21 10-15 10-11 10-9 10-6 10-4 10-3 10-2 10 0 10 0 10 3 10 3 10 4 10 6 10 7 10 9 10 11 10 13 10 15 10 17 10 17 20 37 20 34 20 32 20 31 20 25 20 18 20 15 20 14 20 12 20 12 20 12 20 12 20 13 20 14 20 17 20 24 20 33 20 43 20 46 20 46 10 23 10 22 2 5 13 27 5 10 8 16 12 24 12 21 8 11 5 7 13 14 2 2 10 8 10 6 2 1 13 5 5 1 8 1 12 0 12-4 8-3 5-2 13-5 2-1 10-2 10 1 2 2 13 9 5 6 8 10 12 19 12 24 8 17 5 13 13 33 2 7 10 30 10 30 2 8 13 40 5 16 8 24 12 38 12 38 8 22 5 15 13 36 2 7 10 31 10 31 2 8 2 5" stroke="#77AC30"/>
<path d="M370 1884l20 11 20 10 20 10 20 9 20 9 20 8 20 9 20 8 20 7 20 1 20-3 20-5 20-7 20-3 20 5 20 9 20 10 20 10 20 10 20 9 20 9 20 7 20 7 20 6 20 6 20 5 20 5 20 5 20 4 20 4 20 4 20 3 20 3 20 2 20 1 20-2 20-5 20-9 20-12 20-16 20-21 20-23 20-26 20-28 20-27 20-26 20-21 20-15 20-13 20-10 20-9 20-6 20-6 20-4 20-3 20-1 20 4 20 8 20 9 20 11 20 12 20 14 20 14 20 11 20 8 20 7 20 6 20 6 20 7 20 8 20 6 20 2 20-1 20-5 20-9 20-18 20-29 20-43 20-52 20-58 20-56 20-52 10-24 10-23 10-19 10-16 10-13 10-11 10-11 10-11 10-17 10-24 10-31 10-36 10-41 10-48 10-53 10-58 10-64 10-69 10-76 10-82 10-88 10-91 10-93 10-90 10-83 10-72 10-57 10-43 10-31 10-22 10-16 10-12 10-9 10-6 10-5 10-3 10-2 10-1 10 1 10 2 10 3 10 4 10 5 10 7 10 9 10 11 10 13 10 15 10 16 10 18 20 36 20 33 20 32 20 30 20 25 20 18 20 14 20 13 20 12 20 11 20 11 20 11 20 12 20 13 20 17 20 22 20 32 20 43 20 46 20 45 10 22 10 22 2 5 13 27 5 11 8 15 12 25 12 21 8 12 5 7 13 14 2 2 10 8 10 7 2 1 13 6 5 2 8 2 12 1 12-1 8-1 5-2 13-2 2-1 10 0 10 3 2 2 13 12 5 6 8 11 12 23 12 28 8 20 5 14 13 38 2 8 10 32 10 33 2 8 13 42 5 17 8 25 12 42 12 41 8 25 5 17 13 44 2 9 10 37 10 37 2 10 2 5" stroke="#4DBEEE"/>
<path d="M370 2095l20 0 20 0 20-1 20 0 20-1 20-1 20-1 20-2 20-3 20-7 20-15 20-18 20-19 20-11 20-1 20 1 20 2 20 3 20 4 20 4 20 4 20 4 20 3 20 3 20 3 20 3 20 3 20 2 20 2 20 2 20 2 20 3 20 1 20 1 20 1 20-2 20-6 20-10 20-13 20-19 20-23 20-26 20-29 20-31 20-32 20-31 20-26 20-23 20-20 20-18 20-16 20-13 20-10 20-8 20-5 20 0 20 4 20 9 20 11 20 12 20 12 20 13 20 14 20 13 20 12 20 11 20 10 20 11 20 11 20 11 20 9 20 4 20 1 20-3 20-8 20-17 20-27 20-40 20-49 20-54 20-55 20-51 10-23 10-21 10-19 10-15 10-12 10-11 10-10 10-12 10-17 10-25 10-34 10-39 10-44 10-51 10-56 10-62 10-67 10-72 10-80 10-86 10-91 10-95 10-95 10-90 10-80 10-67 10-51 10-38 10-27 10-21 10-15 10-11 10-9 10-6 10-4 10-3 10-2 10-1 10 0 10 2 10 2 10 4 10 4 10 7 10 8 10 10 10 12 10 14 10 15 10 17 20 37 20 36 20 34 20 33 20 26 20 20 20 17 20 15 20 11 20 9 20 9 20 9 20 12 20 18 20 22 20 27 20 39 20 50 20 52 20 50 10 24 10 24 2 6 13 29 5 11 8 16 12 25 12 23 8 11 5 7 13 14 2 2 10 8 10 5 2 1 13 3 5 0 8 0 12-3 12-7 8-5 5-4 13-10 2-1 10-6 10 0 2 1 13 8 5 5 8 8 12 17 12 23 8 17 5 13 13 35 2 8 10 33 10 34 2 9 13 45 5 18 8 27 12 44 12 44 8 26 5 17 13 45 2 10 10 39 10 42 2 11 2 7" stroke="#A2142F"/>
<path d="M370 1969l20 10 20 10 20 8 20 8 20 8 20 6 20 7 20 5 20 3 20-1 20-8 20-11 20-13 20-7 20 2 20 4 20 5 20 6 20 6 20 6 20 6 20 5 20 4 20 4 20 4 20 4 20 3 20 3 20 3 20 3 20 2 20 3 20 2 20 1 20 1 20-1 20-6 20-9 20-13 20-19 20-22 20-25 20-29 20-30 20-31 20-30 20-25 20-22 20-18 20-17 20-15 20-11 20-9 20-8 20-5 20 0 20 4 20 9 20 11 20 11 20 13 20 13 20 15 20 12 20 11 20 10 20 9 20 8 20 10 20 9 20 7 20 3 20-1 20-6 20-11 20-21 20-31 20-44 20-51 20-58 20-58 20-53 10-25 10-22 10-19 10-15 10-13 10-11 10-10 10-12 10-18 10-27 10-35 10-40 10-46 10-50 10-56 10-60 10-66 10-70 10-77 10-82 10-88 10-90 10-90 10-85 10-76 10-63 10-49 10-36 10-26 10-19 10-14 10-10 10-7 10-5 10-4 10-2 10-1 10-1 10 1 10 2 10 3 10 4 10 6 10 7 10 9 10 11 10 13 10 14 10 17 10 17 20 37 20 35 20 33 20 32 20 26 20 19 20 16 20 14 20 13 20 11 20 12 20 12 20 13 20 16 20 19 20 26 20 35 20 45 20 48 20 47 10 24 10 22 2 6 13 28 5 10 8 16 12 24 12 22 8 12 5 7 13 15 2 2 10 8 10 7 2 1 13 5 5 2 8 1 12 0 12-4 8-4 5-2 13-7 2-2 10-4 10-2 2 1 13 5 5 3 8 6 12 12 12 16 8 12 5 9 13 24 2 6 10 23 10 26 2 6 13 33 5 13 8 20 12 31 12 26 8 13 5 7 13 14 2 2 10 10 10 9 2 2 2 2" stroke="#0072BD"/>
<path d="M370 1928l20 3 20 4 20 4 20 4 20 5 20 5 20 5 20 6 20 3 20-1 20-4 20-6 20-8 20-4 20 4 20 9 20 10 20 9 20 9 20 9 20 8 20 7 20 6 20 6 20 5 20 5 20 5 20 4 20 4 20 4 20 3 20 4 20 2 20 2 20 1 20-1 20-6 20-9 20-13 20-17 20-22 20-23 20-27 20-28 20-29 20-28 20-22 20-17 20-15 20-13 20-10 20-8 20-6 20-6 20-3 20-1 20 3 20 8 20 9 20 9 20 10 20 12 20 12 20 10 20 7 20 7 20 6 20 6 20 7 20 8 20 7 20 2 20-1 20-5 20-9 20-19 20-29 20-41 20-50 20-56 20-55 20-52 10-24 10-21 10-19 10-15 10-13 10-10 10-11 10-11 10-18 10-25 10-34 10-40 10-44 10-50 10-56 10-60 10-66 10-71 10-78 10-84 10-89 10-92 10-93 10-88 10-79 10-65 10-51 10-38 10-28 10-20 10-15 10-11 10-8 10-6 10-4 10-3 10-2 10-1 10 0 10 2 10 2 10 3 10 5 10 6 10 8 10 10 10 12 10 14 10 15 10 17 20 36 20 34 20 33 20 32 20 25 20 19 20 16 20 14 20 11 20 9 20 8 20 9 20 12 20 18 20 22 20 27 20 39 20 50 20 52 20 51 10 25 10 24 2 6 13 29 5 11 8 17 12 25 12 23 8 13 5 7 13 15 2 3 10 10 10 8 2 2 13 8 5 3 8 3 12 5 12 2 8 1 5 1 13 2 2 1 10 4 10 7 2 3 13 16 5 9 8 15 12 30 12 36 8 23 5 17 13 40 2 8 10 31 10 32 2 8 13 39 5 16 8 24 12 41 12 43 8 27 5 19 13 52 2 10 10 43 10 43 2 10 2 7" stroke="#D95319"/>
<path d="M370 1954l20 13 20 11 20 11 20 10 20 8 20 9 20 7 20 6 20 4 20-1 20-8 20-11 20-14 20-7 20 1 20 4 20 5 20 5 20 5 20 6 20 5 20 5 20 3 20 4 20 4 20 3 20 3 20 3 20 2 20 3 20 2 20 3 20 2 20 2 20 1 20-2 20-5 20-9 20-11 20-17 20-20 20-22 20-26 20-26 20-27 20-25 20-19 20-15 20-11 20-8 20-7 20-5 20-4 20-3 20-2 20 0 20 4 20 8 20 10 20 12 20 14 20 16 20 16 20 13 20 9 20 8 20 7 20 7 20 7 20 8 20 6 20 3 20-3 20-6 20-11 20-21 20-34 20-48 20-57 20-62 20-60 20-55 10-26 10-24 10-20 10-17 10-14 10-11 10-11 10-13 10-17 10-24 10-33 10-37 10-41 10-47 10-53 10-58 10-62 10-67 10-74 10-79 10-86 10-88 10-89 10-87 10-81 10-69 10-56 10-42 10-30 10-21 10-15 10-11 10-8 10-6 10-4 10-3 10-1 10-1 10 1 10 3 10 3 10 5 10 6 10 7 10 9 10 11 10 14 10 15 10 16 10 17 20 36 20 32 20 30 20 28 20 23 20 17 20 13 20 11 20 11 20 11 20 11 20 10 20 11 20 12 20 16 20 21 20 31 20 42 20 45 20 45 10 22 10 21 2 6 13 26 5 11 8 15 12 23 12 21 8 11 5 7 13 13 2 2 10 7 10 6 2 1 13 4 5 0 8 1 12-1 12-5 8-4 5-3 13-7 2-1 10-4 10 0 2 1 13 7 5 5 8 7 12 16 12 20 8 15 5 11 13 32 2 7 10 28 10 31 2 8 13 39 5 16 8 23 12 37 12 34 8 18 5 11 13 26 2 5 10 21 10 21 2 5 2 3" stroke="#EDB120"/>
<path d="M370 2100l20-3 20-3 20-3 20-3 20-3 20-2 20-2 20-3 20-3 20-8 20-14 20-17 20-18 20-9 20-1 20 2 20 3 20 4 20 4 20 5 20 5 20 4 20 3 20 3 20 4 20 3 20 3 20 2 20 3 20 2 20 2 20 3 20 1 20 2 20 1 20-2 20-5 20-10 20-12 20-18 20-21 20-24 20-27 20-28 20-30 20-27 20-23 20-18 20-15 20-14 20-11 20-9 20-7 20-7 20-4 20-1 20 3 20 7 20 9 20 9 20 11 20 12 20 13 20 10 20 8 20 8 20 7 20 7 20 7 20 9 20 6 20 3 20-1 20-5 20-9 20-18 20-28 20-40 20-50 20-55 20-55 20-51 10-23 10-22 10-18 10-15 10-13 10-11 10-10 10-12 10-17 10-25 10-33 10-38 10-44 10-49 10-55 10-60 10-65 10-70 10-77 10-83 10-89 10-92 10-92 10-89 10-80 10-67 10-53 10-39 10-29 10-20 10-15 10-11 10-8 10-6 10-5 10-3 10-1 10-1 10 1 10 2 10 3 10 4 10 6 10 7 10 9 10 11 10 13 10 15 10 17 10 18 20 38 20 35 20 34 20 33 20 26 20 20 20 16 20 14 20 13 20 13 20 13 20 12 20 13 20 12 20 14 20 19 20 27 20 39 20 42 20 41 10 21 10 20 2 5 13 26 5 11 8 15 12 23 12 21 8 11 5 6 13 14 2 2 10 8 10 5 2 1 13 5 5 1 8 1 12 0 12-3 8-3 5-3 13-6 2-1 10-3 10-1 2 1 13 7 5 4 8 7 12 14 12 18 8 14 5 11 13 30 2 7 10 29 10 30 2 8 13 39 5 16 8 23 12 36 12 32 8 16 5 10 13 22 2 4 10 16 10 17 2 4 2 3" stroke="#7E2F8E"/>
<path d="M370 2004l20 6 20 5 20 5 20 4 20 4 20 4 20 3 20 3 20 1 20-4 20-10 20-13 20-14 20-8 20 1 20 4 20 4 20 5 20 6 20 6 20 5 20 4 20 4 20 4 20 3 20 3 20 3 20 3 20 3 20 2 20 3 20 2 20 2 20 2 20 1 20-2 20-6 20-10 20-13 20-18 20-23 20-25 20-28 20-30 20-31 20-30 20-25 20-21 20-19 20-17 20-14 20-11 20-9 20-7 20-4 20-1 20 5 20 8 20 11 20 11 20 12 20 14 20 14 20 12 20 11 20 10 20 9 20 9 20 9 20 10 20 7 20 3 20-1 20-6 20-11 20-20 20-31 20-43 20-51 20-56 20-57 20-53 10-25 10-21 10-19 10-15 10-13 10-11 10-10 10-12 10-18 10-27 10-35 10-41 10-47 10-51 10-56 10-62 10-66 10-72 10-77 10-85 10-88 10-92 10-91 10-86 10-76 10-62 10-47 10-35 10-26 10-18 10-14 10-10 10-8 10-5 10-4 10-3 10-1 10-1 10 1 10 1 10 3 10 3 10 5 10 7 10 8 10 10 10 12 10 14 10 16 10 17 20 37 20 35 20 34 20 32 20 26 20 20 20 17 20 14 20 11 20 10 20 8 20 10 20 12 20 18 20 23 20 29 20 41 20 51 20 53 20 51 10 25 10 25 2 6 13 29 5 11 8 16 12 26 12 22 8 12 5 7 13 15 2 2 10 7 10 5 2 1 13 2 5 1 8-1 12-5 12-8 8-6 5-5 13-11 2-2 10-5 10-1 2 1 13 9 5 4 8 9 12 17 12 21 8 16 5 12 13 32 2 7 10 29 10 30 2 8 13 40 5 15 8 24 12 37 12 35 8 20 5 12 13 30 2 6 10 24 10 25 2 6 2 4" stroke="#77AC30"/>
<path d="M370 1918l20 10 20 9 20 8 20 8 20 7 20 7 20 7 20 6 20 4 20 0 20-5 20-8 20-9 20-5 20 3 20 7 20 7 20 7 20 8 20 7 20 6 20 5 20 5 20 4 20 4 20 4 20 3 20 3 20 3 20 3 20 2 20 3 20 2 20 2 20 1 20-1 20-6 20-10 20-12 20-16 20-20 20-22 20-25 20-26 20-26 20-24 20-19 20-13 20-10 20-8 20-5 20-3 20-3 20-2 20-2 20 1 20 3 20 8 20 9 20 10 20 11 20 14 20 13 20 9 20 7 20 6 20 4 20 5 20 6 20 6 20 5 20 1 20-2 20-6 20-11 20-20 20-31 20-45 20-52 20-59 20-57 20-53 10-25 10-22 10-20 10-16 10-13 10-11 10-11 10-12 10-17 10-26 10-33 10-39 10-44 10-50 10-55 10-60 10-65 10-71 10-77 10-83 10-89 10-92 10-92 10-88 10-80 10-66 10-53 10-39 10-28 10-20 10-15 10-11 10-8 10-6 10-5 10-2 10-2 10-1 10 1 10 1 10 3 10 4 10 5 10 7 10 8 10 11 10 12 10 15 10 15 10 17 20 37 20 34 20 33 20 32 20 25 20 19 20 16 20 14 20 11 20 11 20 10 20 11 20 12 20 16 20 20 20 25 20 36 20 46 20 49 20 48 10 23 10 23 2 6 13 28 5 11 8 16 12 24 12 22 8 12 5 7 13 14 2 3 10 8 10 7 2 1 13 6 5 2 8 1 12 1 12-2 8-3 5-1 13-5 2-1 10-1 10 1 2 1 13 9 5 5 8 9 12 18 12 22 8 15 5 12 13 31 2 6 10 27 10 28 2 7 13 37 5 14 8 22 12 35 12 33 8 18 5 11 13 27 2 5 10 21 10 22 2 5 2 3" stroke="#4DBEEE"/>
<path d="M370 1922l20 13 20 13 20 12 20 10 20 10 20 8 20 8 20 7 20 4 20 0 20-6 20-10 20-12 20-6 20 2 20 5 20 5 20 6 20 6 20 6 20 5 20 4 20 3 20 4 20 3 20 2 20 3 20 2 20 3 20 2 20 2 20 3 20 2 20 1 20 1 20-1 20-7 20-10 20-12 20-18 20-21 20-23 20-26 20-27 20-29 20-26 20-22 20-17 20-13 20-12 20-8 20-7 20-5 20-4 20-3 20 0 20 4 20 8 20 9 20 10 20 11 20 13 20 12 20 11 20 8 20 7 20 7 20 6 20 8 20 8 20 6 20 3 20-1 20-3 20-6 20-15 20-25 20-38 20-46 20-53 20-52 20-48 10-23 10-20 10-18 10-15 10-12 10-10 10-10 10-11 10-16 10-24 10-30 10-35 10-40 10-45 10-53 10-57 10-62 10-68 10-74 10-81 10-87 10-90 10-92 10-90 10-84 10-73 10-59 10-45 10-32 10-22 10-16 10-12 10-9 10-7 10-5 10-3 10-1 10-1 10 1 10 3 10 4 10 4 10 6 10 8 10 10 10 11 10 14 10 16 10 17 10 18 20 37 20 33 20 32 20 30 20 24 20 17 20 15 20 12 20 14 20 14 20 15 20 14 20 13 20 11 20 15 20 21 20 29 20 37 20 42 20 42 10 21 10 21 2 5 13 25 5 10 8 14 12 23 12 21 8 11 5 7 13 14 2 2 10 8 10 6 2 2 13 5 5 2 8 1 12 1 12-2 8-2 5-2 13-4 2 0 10-2 10 3 2 1 13 10 5 6 8 10 12 21 12 25 8 18 5 13 13 35 2 7 10 30 10 31 2 7 13 40 5 16 8 24 12 39 12 38 8 22 5 15 13 38 2 7 10 31 10 32 2 8 2 4" stroke="#A2142F"/>
<path d="M370 1912l20 14 20 12 20 12 20 11 20 11 20 9 20 9 20 8 20 6 20 1 20-5 20-8 20-10 20-6 20 4 20 6 20 7 20 6 20 7 20 7 20 7 20 5 20 4 20 5 20 4 20 4 20 3 20 4 20 3 20 2 20 3 20 3 20 2 20 2 20 0 20-1 20-6 20-10 20-13 20-18 20-23 20-25 20-28 20-30 20-32 20-30 20-25 20-22 20-19 20-17 20-14 20-12 20-9 20-8 20-5 20-1 20 4 20 8 20 10 20 10 20 11 20 11 20 12 20 11 20 10 20 8 20 8 20 8 20 9 20 9 20 8 20 3 20-2 20-4 20-10 20-18 20-29 20-39 20-48 20-54 20-54 20-51 10-23 10-20 10-18 10-14 10-12 10-10 10-10 10-11 10-17 10-25 10-33 10-39 10-44 10-49 10-54 10-59 10-64 10-69 10-76 10-81 10-87 10-90 10-90 10-86 10-78 10-65 10-52 10-38 10-28 10-19 10-15 10-10 10-7 10-6 10-3 10-3 10-1 10 1 10 1 10 3 10 4 10 5 10 6 10 8 10 10 10 12 10 14 10 16 10 18 10 18 20 38 20 36 20 34 20 32 20 25 20 20 20 15 20 14 20 14 20 14 20 15 20 15 20 13 20 10 20 12 20 17 20 25 20 35 20 39 20 40 10 19 10 20 2 5 13 25 5 10 8 15 12 23 12 20 8 11 5 7 13 14 2 2 10 8 10 6 2 2 13 5 5 2 8 3 12 1 12-1 8-1 5-1 13-4 2 0 10-1 10 1 2 1 13 9 5 4 8 9 12 17 12 22 8 15 5 12 13 32 2 7 10 28 10 30 2 8 13 39 5 15 8 23 12 36 12 33 8 19 5 11 13 27 2 5 10 21 10 21 2 5 2 4" stroke="#0072BD"/>
<path d="M370 2080l20 1 20 0 20 0 20 0 20 0 20 0 20-1 20-1 20-3 20-7 20-14 20-18 20-18 20-11 20-1 20 1 20 2 20 3 20 4 20 4 20 4 20 4 20 3 20 3 20 2 20 3 20 2 20 3 20 2 20 2 20 2 20 2 20 1 20 2 20 0 20-2 20-6 20-10 20-13 20-18 20-22 20-24 20-27 20-29 20-30 20-28 20-23 20-19 20-16 20-14 20-12 20-8 20-7 20-6 20-4 20 0 20 5 20 9 20 11 20 13 20 13 20 16 20 16 20 14 20 11 20 11 20 10 20 9 20 10 20 9 20 8 20 3 20-2 20-7 20-11 20-22 20-33 20-46 20-54 20-60 20-59 20-55 10-25 10-23 10-20 10-16 10-13 10-11 10-11 10-12 10-18 10-26 10-34 10-40 10-44 10-48 10-54 10-58 10-63 10-67 10-74 10-79 10-84 10-87 10-88 10-84 10-76 10-65 10-51 10-38 10-28 10-20 10-13 10-10 10-8 10-5 10-4 10-2 10-1 10 0 10 1 10 2 10 3 10 5 10 5 10 8 10 9 10 11 10 14 10 15 10 16 10 18 20 36 20 33 20 31 20 30 20 24 20 18 20 14 20 13 20 12 20 13 20 13 20 13 20 13 20 14 20 19 20 25 20 34 20 44 20 46 20 48 10 23 10 22 2 6 13 27 5 11 8 15 12 25 12 23 8 12 5 8 13 16 2 3 10 11 10 9 2 2 13 12 5 4 8 5 12 8 12 7 8 4 5 3 13 7 2 2 10 7 10 10 2 3 13 19 5 9 8 16 12 32 12 37 8 23 5 15 13 35 2 7 10 24 10 24 2 6 13 30 5 12 8 18 12 31 12 32 8 21 5 14 13 36 2 7 10 28 10 26 2 6 2 4" stroke="#D95319"/>
<path d="M370 1977l20 6 20 7 20 6 20 6 20 5 20 5 20 5 20 4 20 2 20-2 20-8 20-11 20-12 20-7 20 2 20 5 20 6 20 6 20 7 20 7 20 7 20 5 20 5 20 5 20 5 20 4 20 4 20 3 20 4 20 3 20 3 20 3 20 2 20 1 20 1 20-1 20-6 20-9 20-12 20-17 20-22 20-24 20-27 20-28 20-30 20-27 20-23 20-18 20-16 20-13 20-12 20-10 20-8 20-7 20-5 20-2 20 2 20 6 20 8 20 9 20 10 20 11 20 11 20 9 20 7 20 6 20 6 20 7 20 7 20 8 20 7 20 2 20-1 20-5 20-9 20-19 20-29 20-40 20-49 20-56 20-55 20-51 10-23 10-22 10-18 10-15 10-12 10-11 10-10 10-12 10-18 10-26 10-34 10-40 10-45 10-50 10-56 10-61 10-67 10-71 10-79 10-84 10-90 10-92 10-93 10-88 10-78 10-65 10-50 10-37 10-26 10-20 10-15 10-10 10-8 10-6 10-4 10-3 10-2 10-1 10 1 10 1 10 3 10 3 10 5 10 7 10 8 10 10 10 12 10 14 10 16 10 17 20 37 20 35 20 33 20 33 20 26 20 20 20 16 20 15 20 11 20 9 20 9 20 10 20 12 20 16 20 20 20 23 20 35 20 48 20 48 20 48 10 23 10 23 2 6 13 28 5 11 8 16 12 25 12 21 8 12 5 7 13 14 2 2 10 9 10 6 2 2 13 5 5 2 8 2 12 2 12-2 8-1 5-2 13-3 2-1 10-1 10 2 2 1 13 10 5 5 8 9 12 17 12 22 8 15 5 11 13 30 2 6 10 26 10 28 2 7 13 35 5 14 8 20 12 32 12 29 8 15 5 9 13 19 2 4 10 13 10 13 2 3 2 2" stroke="#EDB120"/>
<path d="M370 1998l20 13 20 11 20 10 20 8 20 7 20 6 20 4 20 4 20 1 20-4 20-11 20-15 20-16 20-10 20 0 20 1 20 2 20 2 20 3 20 3 20 3 20 2 20 2 20 2 20 1 20 2 20 1 20 1 20 1 20 2 20 1 20 2 20 2 20 1 20 1 20-2 20-6 20-11 20-13 20-18 20-21 20-24 20-27 20-29 20-29 20-28 20-23 20-19 20-15 20-13 20-10 20-7 20-5 20-4 20-2 20 2 20 6 20 10 20 13 20 13 20 15 20 17 20 17 20 15 20 12 20 11 20 10 20 9 20 10 20 10 20 7 20 3 20-2 20-6 20-12 20-21 20-33 20-46 20-54 20-61 20-59 20-54 10-26 10-23 10-19 10-17 10-13 10-11 10-11 10-12 10-18 10-25 10-34 10-39 10-44 10-49 10-54 10-59 10-64 10-69 10-75 10-81 10-87 10-89 10-90 10-86 10-78 10-65 10-52 10-39 10-28 10-20 10-14 10-11 10-7 10-6 10-4 10-3 10-1 10 0 10 0 10 2 10 4 10 4 10 6 10 7 10 9 10 11 10 13 10 15 10 17 10 17 20 37 20 34 20 32 20 31 20 25 20 18 20 15 20 13 20 13 20 12 20 12 20 11 20 13 20 14 20 17 20 24 20 32 20 43 20 46 20 45 10 22 10 22 2 5 13 27 5 10 8 15 12 23 12 21 8 11 5 6 13 13 2 2 10 6 10 3 2 0 13 1 5-1 8-2 12-8 12-11 8-8 5-6 13-15 2-3 10-9 10-4 2 0 13 4 5 3 8 5 12 11 12 15 8 12 5 10 13 31 2 7 10 30 10 34 2 8 13 43 5 18 8 25 12 41 12 37 8 19 5 12 13 29 2 5 10 25 10 26 2 8 2 4" stroke="#7E2F8E"/>
<path d="M370 2016l20-1 20-1 20 1 20 0 20 1 20 1 20 2 20 1 20 0 20-4 20-8 20-12 20-13 20-6 20 1 20 6 20 7 20 7 20 7 20 8 20 7 20 6 20 5 20 5 20 5 20 5 20 4 20 4 20 4 20 3 20 3 20 3 20 2 20 2 20 1 20-1 20-6 20-9 20-13 20-18 20-22 20-24 20-28 20-30 20-30 20-29 20-24 20-20 20-17 20-15 20-13 20-10 20-8 20-7 20-4 20 0 20 4 20 8 20 10 20 11 20 12 20 14 20 13 20 12 20 9 20 9 20 8 20 7 20 9 20 9 20 6 20 3 20-1 20-5 20-10 20-20 20-30 20-42 20-51 20-57 20-56 20-52 10-24 10-22 10-19 10-16 10-12 10-11 10-11 10-12 10-17 10-25 10-34 10-38 10-43 10-48 10-53 10-57 10-62 10-67 10-73 10-79 10-84 10-87 10-88 10-85 10-78 10-67 10-53 10-40 10-29 10-20 10-14 10-11 10-7 10-6 10-4 10-2 10-1 10-1 10 1 10 3 10 4 10 4 10 6 10 8 10 9 10 12 10 14 10 16 10 17 10 18 20 36 20 33 20 32 20 29 20 24 20 18 20 14 20 12 20 13 20 14 20 14 20 13 20 12 20 11 20 13 20 19 20 26 20 37 20 41 20 41 10 20 10 20 2 6 13 25 5 10 8 15 12 23 12 21 8 11 5 7 13 14 2 3 10 9 10 7 2 1 13 8 5 2 8 3 12 4 12 2 8 0 5 0 13 1 2 0 10 2 10 5 2 1 13 13 5 7 8 12 12 23 12 29 8 19 5 14 13 35 2 8 10 29 10 30 2 8 13 38 5 15 8 22 12 38 12 36 8 21 5 15 13 35 2 7 10 29 10 28 2 7 2 4" stroke="#77AC30"/>
<path d="M370 1894l20 8 20 8 20 7 20 8 20 7 20 7 20 7 20 7 20 5 20 0 20-3 20-5 20-7 20-4 20 4 20 9 20 9 20 9 20 9 20 8 20 8 20 6 20 5 20 5 20 4 20 4 20 4 20 4 20 3 20 4 20 3 20 3 20 3 20 3 20 1 20-1 20-6 20-9 20-12 20-17 20-20 20-22 20-25 20-27 20-27 20-25 20-20 20-15 20-11 20-9 20-7 20-5 20-3 20-3 20-2 20 0 20 5 20 8 20 11 20 11 20 13 20 16 20 15 20 13 20 10 20 8 20 7 20 7 20 8 20 8 20 7 20 3 20-2 20-5 20-9 20-18 20-30 20-44 20-54 20-59 20-57 20-52 10-25 10-22 10-20 10-16 10-13 10-12 10-10 10-12 10-16 10-24 10-31 10-36 10-41 10-46 10-53 10-57 10-63 10-68 10-75 10-80 10-87 10-90 10-92 10-89 10-83 10-72 10-58 10-44 10-31 10-22 10-16 10-12 10-8 10-7 10-4 10-3 10-2 10 0 10 1 10 2 10 3 10 5 10 5 10 7 10 9 10 11 10 13 10 14 10 16 10 17 20 34 20 32 20 29 20 29 20 22 20 17 20 13 20 12 20 11 20 11 20 11 20 11 20 13 20 15 20 20 20 25 20 36 20 45 20 48 20 48 10 24 10 22 2 6 13 28 5 10 8 16 12 25 12 22 8 12 5 7 13 15 2 2 10 9 10 8 2 1 13 8 5 2 8 3 12 2 12 1 8-1 5-1 13-1 2 0 10 0 10 4 2 1 13 12 5 6 8 11 12 22 12 27 8 18 5 12 13 32 2 7 10 27 10 27 2 7 13 34 5 15 8 21 12 34 12 34 8 20 5 13 13 33 2 6 10 26 10 26 2 6 2 4" stroke="#4DBEEE"/>
<path d="M370 1880l20 15 20 14 20 13 20 12 20 12 20 11 20 10 20 10 20 7 20 3 20-3 20-6 20-8 20-4 20 5 20 8 20 7 20 8 20 8 20 8 20 7 20 6 20 5 20 5 20 5 20 4 20 4 20 4 20 3 20 3 20 3 20 3 20 2 20 2 20 1 20-2 20-6 20-9 20-13 20-19 20-22 20-26 20-28 20-31 20-31 20-30 20-26 20-22 20-19 20-17 20-15 20-12 20-10 20-7 20-5 20-1 20 5 20 8 20 11 20 10 20 12 20 13 20 13 20 11 20 10 20 10 20 9 20 8 20 10 20 10 20 7 20 4 20-1 20-4 20-10 20-19 20-29 20-41 20-50 20-55 20-55 20-52 10-23 10-22 10-18 10-15 10-12 10-10 10-10 10-11 10-17 10-26 10-33 10-39 10-44 10-48 10-53 10-59 10-63 10-68 10-74 10-80 10-85 10-89 10-88 10-86 10-77 10-66 10-52 10-39 10-28 10-20 10-14 10-11 10-7 10-6 10-4 10-2 10-2 10 0 10 1 10 2 10 4 10 4 10 6 10 7 10 9 10 12 10 13 10 15 10 17 10 18 20 36 20 34 20 32 20 31 20 25 20 18 20 15 20 13 20 12 20 13 20 13 20 13 20 13 20 13 20 17 20 23 20 32 20 41 20 45 20 45 10 22 10 21 2 6 13 26 5 10 8 16 12 23 12 22 8 11 5 7 13 15 2 2 10 9 10 7 2 1 13 7 5 2 8 3 12 2 12 0 8-1 5 0 13-2 2 0 10 0 10 4 2 1 13 11 5 7 8 10 12 21 12 26 8 17 5 13 13 32 2 6 10 27 10 28 2 7 13 35 5 14 8 21 12 34 12 33 8 19 5 12 13 29 2 6 10 23 10 22 2 6 2 3" stroke="#A2142F"/>
<path d="M370 1905l20 14 20 14 20 12 20 12 20 11 20 9 20 9 20 8 20 5 20 0 20-5 20-9 20-10 20-6 20 2 20 6 20 5 20 7 20 6 20 6 20 6 20 4 20 4 20 4 20 3 20 3 20 3 20 3 20 2 20 3 20 2 20 3 20 2 20 2 20 1 20-2 20-6 20-11 20-13 20-17 20-22 20-24 20-27 20-28 20-30 20-28 20-23 20-19 20-15 20-14 20-11 20-7 20-7 20-5 20-3 20 0 20 4 20 8 20 11 20 11 20 11 20 13 20 14 20 11 20 10 20 8 20 9 20 8 20 8 20 9 20 7 20 3 20-1 20-5 20-10 20-19 20-29 20-42 20-50 20-57 20-55 20-52 10-24 10-22 10-18 10-16 10-12 10-11 10-10 10-12 10-17 10-25 10-34 10-39 10-44 10-49 10-55 10-60 10-65 10-69 10-77 10-82 10-88 10-90 10-91 10-87 10-78 10-65 10-52 10-38 10-27 10-20 10-14 10-11 10-7 10-6 10-4 10-2 10-1 10 0 10 2 10 2 10 4 10 5 10 6 10 8 10 10 10 12 10 14 10 17 10 17 10 19 20 39 20 36 20 34 20 33 20 26 20 20 20 16 20 14 20 15 20 15 20 15 20 15 20 13 20 9 20 12 20 16 20 24 20 34 20 39 20 38 10 20 10 19 2 5 13 25 5 9 8 15 12 23 12 20 8 11 5 6 13 13 2 2 10 7 10 5 2 1 13 2 5 0 8 0 12-4 12-7 8-6 5-4 13-10 2-2 10-7 10-3 2 0 13 5 5 3 8 5 12 11 12 16 8 13 5 10 13 32 2 7 10 32 10 33 2 9 13 43 5 17 8 26 12 40 12 36 8 18 5 12 13 26 2 5 10 21 10 22 2 6 2 4" stroke="#0072BD"/>
<path d="M370 2032l20-2 20-2 20-1 20-1 20-1 20 0 20 1 20 1 20-1 20-5 20-9 20-12 20-14 20-7 20 2 20 6 20 6 20 6 20 8 20 7 20 7 20 5 20 6 20 5 20 4 20 5 20 4 20 4 20 3 20 4 20 3 20 3 20 2 20 2 20 0 20-1 20-5 20-9 20-13 20-17 20-22 20-24 20-27 20-28 20-30 20-28 20-22 20-19 20-16 20-14 20-12 20-9 20-9 20-7 20-6 20-2 20 2 20 6 20 7 20 8 20 9 20 11 20 10 20 8 20 7 20 6 20 6 20 6 20 7 20 8 20 6 20 3 20 0 20-3 20-7 20-15 20-24 20-36 20-45 20-51 20-51 20-48 10-22 10-20 10-18 10-14 10-12 10-10 10-10 10-11 10-17 10-25 10-32 10-38 10-43 10-50 10-56 10-62 10-68 10-74 10-80 10-88 10-93 10-97 10-97 10-93 10-83 10-68 10-54 10-39 10-29 10-21 10-16 10-13 10-9 10-6 10-5 10-4 10-2 10-1 10 1 10 1 10 2 10 4 10 5 10 6 10 8 10 10 10 12 10 14 10 15 10 18 20 37 20 36 20 34 20 34 20 27 20 21 20 17 20 15 20 12 20 10 20 9 20 10 20 13 20 18 20 21 20 26 20 38 20 50 20 51 20 49 10 25 10 24 2 6 13 30 5 11 8 17 12 26 12 24 8 12 5 8 13 17 2 4 10 11 10 11 2 2 13 13 5 5 8 7 12 10 12 10 8 6 5 4 13 10 2 2 10 9 10 10 2 3 13 19 5 10 8 16 12 33 12 38 8 24 5 16 13 37 2 7 10 26 10 25 2 7 13 31 5 12 8 19 12 33 12 34 8 21 5 16 13 38 2 8 10 29 10 27 2 7 2 3" stroke="#D95319"/>
<path d="M370 2001l20-4 20-3 20-3 20-1 20-1 20 1 20 1 20 1 20 1 20-4 20-7 20-9 20-10 20-6 20 4 20 8 20 8 20 9 20 9 20 9 20 8 20 7 20 6 20 6 20 6 20 5 20 5 20 5 20 4 20 3 20 4 20 3 20 3 20 2 20 1 20-2 20-5 20-9 20-12 20-17 20-22 20-23 20-27 20-28 20-29 20-27 20-22 20-17 20-15 20-12 20-10 20-8 20-6 20-6 20-3 20 0 20 4 20 9 20 11 20 11 20 14 20 16 20 16 20 13 20 11 20 9 20 8 20 8 20 9 20 9 20 8 20 3 20 0 20-4 20-8 20-17 20-29 20-43 20-53 20-58 20-56 20-52 10-24 10-23 10-19 10-16 10-14 10-11 10-11 10-11 10-17 10-23 10-31 10-35 10-39 10-47 10-52 10-58 10-63 10-68 10-75 10-81 10-87 10-91 10-93 10-91 10-84 10-74 10-59 10-45 10-32 10-23 10-16 10-12 10-9 10-7 10-5 10-3 10-2 10-1 10 1 10 2 10 3 10 4 10 6 10 7 10 9 10 11 10 14 10 15 10 16 10 17 20 35 20 33 20 31 20 29 20 24 20 17 20 14 20 12 20 12 20 11 20 11 20 11 20 12 20 12 20 17 20 22 20 32 20 42 20 45 20 46 10 22 10 22 2 5 13 27 5 11 8 15 12 24 12 22 8 11 5 7 13 16 2 2 10 10 10 9 2 3 13 10 5 4 8 6 12 8 12 7 8 5 5 3 13 7 2 2 10 7 10 9 2 2 13 17 5 9 8 15 12 30 12 36 8 23 5 15 13 38 2 7 10 28 10 28 2 7 13 35 5 14 8 22 12 36 12 38 8 24 5 17 13 43 2 9 10 35 10 35 2 8 2 5" stroke="#EDB120"/>
<path d="M370 2100l20-3 20-4 20-3 20-3 20-3 20-3 20-2 20-3 20-5 20-8 20-15 20-17 20-19 20-10 20-2 20 2 20 3 20 3 20 5 20 5 20 4 20 4 20 3 20 3 20 3 20 3 20 3 20 2 20 2 20 2 20 2 20 2 20 2 20 1 20 1 20-2 20-7 20-10 20-13 20-19 20-22 20-25 20-28 20-29 20-31 20-29 20-25 20-20 20-17 20-16 20-13 20-10 20-8 20-7 20-4 20 0 20 4 20 8 20 10 20 10 20 11 20 12 20 12 20 11 20 10 20 8 20 9 20 8 20 8 20 9 20 8 20 3 20-2 20-4 20-9 20-19 20-28 20-39 20-48 20-54 20-53 20-51 10-23 10-20 10-18 10-14 10-12 10-10 10-10 10-11 10-16 10-25 10-33 10-39 10-43 10-48 10-54 10-59 10-64 10-69 10-75 10-81 10-87 10-90 10-91 10-87 10-78 10-67 10-53 10-39 10-28 10-20 10-15 10-11 10-7 10-6 10-4 10-3 10-1 10 0 10 1 10 3 10 3 10 5 10 6 10 7 10 10 10 11 10 14 10 16 10 16 10 18 20 38 20 35 20 32 20 32 20 25 20 19 20 15 20 14 20 13 20 13 20 14 20 13 20 13 20 12 20 16 20 20 20 29 20 39 20 42 20 42 10 21 10 20 2 5 13 26 5 9 8 15 12 23 12 19 8 11 5 6 13 12 2 1 10 6 10 4 2 0 13 2 5-1 8-1 12-5 12-9 8-7 5-4 13-13 2-2 10-8 10-3 2 0 13 4 5 3 8 5 12 11 12 14 8 12 5 10 13 30 2 7 10 30 10 32 2 8 13 42 5 17 8 25 12 38 12 34 8 17 5 11 13 22 2 5 10 18 10 20 2 5 2 4" stroke="#7E2F8E"/>
<path d="M370 1880l20 10 20 10 20 10 20 9 20 8 20 8 20 8 20 8 20 6 20 0 20-2 20-5 20-7 20-4 20 4 20 10 20 9 20 10 20 9 20 9 20 8 20 6 20 6 20 5 20 5 20 5 20 4 20 4 20 4 20 3 20 4 20 3 20 3 20 2 20 1 20-2 20-6 20-10 20-13 20-18 20-22 20-24 20-28 20-29 20-30 20-29 20-24 20-19 20-17 20-15 20-13 20-9 20-8 20-7 20-4 20-2 20 4 20 7 20 9 20 9 20 10 20 11 20 12 20 9 20 9 20 7 20 7 20 8 20 8 20 9 20 7 20 2 20 0 20-3 20-7 20-15 20-25 20-36 20-44 20-52 20-51 20-48 10-22 10-20 10-17 10-15 10-11 10-11 10-9 10-12 10-16 10-26 10-33 10-38 10-44 10-51 10-56 10-63 10-67 10-74 10-81 10-87 10-93 10-96 10-96 10-92 10-82 10-68 10-51 10-39 10-28 10-21 10-15 10-12 10-9 10-6 10-5 10-3 10-2 10-1 10 0 10 2 10 2 10 4 10 5 10 7 10 9 10 11 10 13 10 15 10 16 10 19 20 39 20 38 20 37 20 35 20 29 20 22 20 19 20 16 20 13 20 12 20 12 20 12 20 12 20 14 20 16 20 20 20 29 20 42 20 45 20 43 10 21 10 22 2 5 13 27 5 10 8 15 12 24 12 21 8 11 5 7 13 13 2 3 10 7 10 6 2 1 13 5 5 2 8 2 12 1 12-2 8-1 5-1 13-2 2 0 10 0 10 5 2 2 13 13 5 8 8 12 12 24 12 31 8 21 5 16 13 41 2 8 10 35 10 35 2 9 13 45 5 18 8 26 12 44 12 44 8 26 5 18 13 47 2 9 10 39 10 39 2 10 2 6" stroke="#77AC30"/>
<path d="M370 1888l20 18 20 17 20 15 20 14 20 13 20 12 20 11 20 9 20 7 20 1 20-5 20-9 20-11 20-6 20 2 20 5 20 6 20 5 20 7 20 6 20 6 20 4 20 4 20 4 20 3 20 3 20 3 20 3 20 3 20 2 20 3 20 2 20 2 20 2 20 1 20-2 20-6 20-10 20-13 20-17 20-21 20-24 20-26 20-28 20-29 20-27 20-22 20-18 20-14 20-12 20-9 20-7 20-5 20-4 20-2 20 1 20 5 20 9 20 12 20 12 20 13 20 15 20 16 20 13 20 10 20 10 20 8 20 9 20 9 20 9 20 8 20 4 20-1 20-3 20-8 20-17 20-28 20-43 20-51 20-58 20-56 20-51 10-24 10-22 10-19 10-16 10-13 10-12 10-10 10-12 10-16 10-24 10-31 10-36 10-41 10-47 10-53 10-59 10-63 10-69 10-76 10-82 10-88 10-91 10-93 10-90 10-84 10-72 10-57 10-44 10-31 10-22 10-16 10-12 10-9 10-7 10-5 10-3 10-2 10-1 10 1 10 2 10 3 10 4 10 6 10 7 10 9 10 11 10 13 10 15 10 17 10 17 20 36 20 34 20 32 20 31 20 24 20 18 20 15 20 13 20 12 20 11 20 12 20 11 20 12 20 11 20 14 20 18 20 27 20 40 20 42 20 42 10 21 10 21 2 5 13 26 5 10 8 15 12 24 12 21 8 11 5 6 13 13 2 2 10 8 10 4 2 1 13 4 5 0 8 1 12-2 12-6 8-4 5-3 13-8 2-1 10-4 10-1 2 1 13 7 5 5 8 8 12 15 12 21 8 15 5 12 13 34 2 8 10 32 10 33 2 9 13 43 5 17 8 26 12 40 12 37 8 21 5 13 13 31 2 6 10 25 10 26 2 7 2 4" stroke="#4DBEEE"/>
<path d="M370 2048l20 10 20 10 20 8 20 7 20 5 20 5 20 4 20 1 20 0 20-6 20-13 20-18 20-20 20-11 20-3 20 0 20 0 20 1 20 2 20 3 20 2 20 2 20 2 20 1 20 2 20 2 20 1 20 1 20 2 20 1 20 2 20 1 20 2 20 1 20 1 20-2 20-6 20-9 20-12 20-17 20-21 20-23 20-26 20-27 20-28 20-26 20-21 20-15 20-13 20-10 20-9 20-5 20-5 20-4 20-3 20 0 20 4 20 7 20 9 20 10 20 10 20 12 20 12 20 9 20 7 20 5 20 5 20 5 20 7 20 6 20 5 20 2 20-2 20-6 20-11 20-20 20-31 20-43 20-51 20-57 20-57 20-53 10-24 10-22 10-19 10-15 10-13 10-11 10-11 10-12 10-18 10-26 10-34 10-41 10-45 10-51 10-56 10-61 10-66 10-72 10-78 10-84 10-89 10-93 10-92 10-87 10-78 10-64 10-50 10-36 10-27 10-19 10-15 10-10 10-8 10-6 10-4 10-3 10-1 10-1 10 1 10 1 10 3 10 4 10 5 10 7 10 8 10 11 10 13 10 14 10 16 10 18 20 37 20 36 20 35 20 33 20 26 20 20 20 17 20 15 20 12 20 11 20 11 20 10 20 13 20 15 20 19 20 24 20 34 20 46 20 48 20 46 10 23 10 23 2 6 13 27 5 11 8 16 12 24 12 22 8 12 5 6 13 15 2 3 10 9 10 7 2 2 13 8 5 2 8 4 12 4 12 2 8 0 5 1 13 0 2 1 10 2 10 4 2 2 13 13 5 6 8 12 12 22 12 28 8 18 5 13 13 33 2 7 10 27 10 27 2 7 13 35 5 14 8 21 12 33 12 32 8 18 5 12 13 28 2 5 10 21 10 20 2 4 2 3" stroke="#A2142F"/>
<path d="M370 1900l20 10 20 10 20 9 20 9 20 8 20 8 20 7 20 8 20 5 20 1 20-4 20-6 20-9 20-4 20 4 20 8 20 8 20 9 20 8 20 8 20 7 20 6 20 5 20 4 20 5 20 4 20 4 20 3 20 3 20 3 20 4 20 2 20 3 20 2 20 1 20-2 20-6 20-10 20-13 20-18 20-22 20-25 20-28 20-29 20-30 20-29 20-25 20-20 20-17 20-16 20-12 20-10 20-8 20-6 20-4 20-1 20 5 20 8 20 11 20 12 20 12 20 14 20 14 20 12 20 12 20 10 20 9 20 10 20 10 20 10 20 8 20 4 20 0 20-4 20-8 20-18 20-28 20-40 20-50 20-56 20-55 20-51 10-24 10-22 10-18 10-16 10-12 10-11 10-10 10-12 10-17 10-26 10-33 10-39 10-44 10-51 10-56 10-62 10-67 10-73 10-80 10-86 10-92 10-95 10-95 10-90 10-81 10-67 10-51 10-38 10-28 10-20 10-15 10-12 10-8 10-7 10-4 10-3 10-2 10-1 10 1 10 1 10 2 10 4 10 5 10 7 10 8 10 11 10 12 10 14 10 16 10 18 20 38 20 37 20 35 20 34 20 27 20 22 20 17 20 16 20 13 20 11 20 12 20 12 20 14 20 17 20 21 20 26 20 36 20 47 20 49 20 48 10 24 10 23 2 5 13 28 5 11 8 16 12 25 12 22 8 11 5 7 13 14 2 2 10 7 10 5 2 1 13 2 5 0 8 0 12-5 12-9 8-6 5-4 13-12 2-2 10-6 10-1 2 0 13 7 5 5 8 7 12 15 12 20 8 14 5 11 13 32 2 6 10 30 10 31 2 8 13 39 5 16 8 24 12 37 12 35 8 18 5 12 13 26 2 6 10 21 10 22 2 6 2 3" stroke="#0072BD"/>
<path d="M370 2001l20 5 20 4 20 4 20 3 20 4 20 3 20 2 20 3 20 0 20-4 20-9 20-13 20-13 20-8 20 1 20 4 20 5 20 5 20 6 20 6 20 5 20 5 20 4 20 3 20 4 20 3 20 3 20 3 20 2 20 3 20 2 20 2 20 2 20 2 20 1 20-2 20-7 20-10 20-14 20-18 20-22 20-25 20-28 20-30 20-31 20-29 20-25 20-21 20-18 20-16 20-14 20-10 20-8 20-7 20-4 20 0 20 5 20 9 20 12 20 13 20 13 20 16 20 15 20 15 20 13 20 12 20 10 20 11 20 11 20 10 20 8 20 3 20-1 20-5 20-10 20-19 20-30 20-42 20-51 20-57 20-56 20-53 10-24 10-22 10-19 10-15 10-13 10-11 10-10 10-12 10-17 10-26 10-33 10-39 10-44 10-49 10-55 10-60 10-65 10-71 10-76 10-83 10-89 10-91 10-92 10-87 10-80 10-66 10-51 10-39 10-28 10-20 10-15 10-11 10-8 10-5 10-4 10-3 10-2 10 0 10 1 10 2 10 3 10 4 10 6 10 7 10 9 10 11 10 13 10 15 10 17 10 17 20 38 20 35 20 33 20 32 20 26 20 19 20 16 20 14 20 13 20 12 20 12 20 12 20 13 20 14 20 18 20 24 20 34 20 43 20 47 20 46 10 22 10 22 2 6 13 27 5 10 8 16 12 24 12 21 8 12 5 6 13 14 2 2 10 8 10 6 2 1 13 4 5 2 8 1 12-2 12-4 8-3 5-3 13-6 2-1 10-3 10 1 2 1 13 9 5 6 8 9 12 18 12 23 8 16 5 12 13 33 2 7 10 29 10 30 2 7 13 39 5 16 8 23 12 37 12 35 8 19 5 13 13 30 2 6 10 25 10 24 2 7 2 3" stroke="#D95319"/>
<path d="M370 2040l20 6 20 5 20 5 20 4 20 3 20 3 20 2 20 1 20 0 20-6 20-12 20-15 20-17 20-10 20-1 20 1 20 2 20 2 20 3 20 3 20 3 20 2 20 2 20 2 20 1 20 2 20 1 20 1 20 2 20 1 20 2 20 1 20 2 20 1 20 1 20-2 20-6 20-10 20-13 20-18 20-21 20-24 20-26 20-29 20-29 20-27 20-23 20-18 20-15 20-13 20-10 20-8 20-6 20-4 20-3 20-1 20 5 20 8 20 10 20 11 20 12 20 13 20 14 20 11 20 10 20 9 20 7 20 8 20 9 20 9 20 7 20 3 20-2 20-5 20-10 20-19 20-30 20-42 20-51 20-57 20-56 20-52 10-24 10-22 10-19 10-15 10-13 10-11 10-10 10-12 10-17 10-26 10-35 10-40 10-46 10-51 10-57 10-62 10-68 10-73 10-80 10-87 10-92 10-94 10-95 10-89 10-79 10-64 10-49 10-36 10-26 10-20 10-14 10-11 10-8 10-6 10-5 10-3 10-2 10 0 10 0 10 2 10 2 10 4 10 5 10 8 10 9 10 11 10 13 10 15 10 17 10 19 20 40 20 39 20 38 20 35 20 30 20 22 20 19 20 17 20 14 20 13 20 13 20 13 20 12 20 15 20 18 20 24 20 34 20 44 20 47 20 46 10 23 10 22 2 6 13 27 5 10 8 16 12 24 12 22 8 12 5 7 13 16 2 2 10 11 10 10 2 3 13 12 5 5 8 6 12 11 12 10 8 6 5 4 13 11 2 2 10 10 10 10 2 3 13 18 5 10 8 16 12 32 12 38 8 24 5 15 13 37 2 7 10 27 10 25 2 7 13 31 5 13 8 19 12 33 12 35 8 22 5 15 13 39 2 8 10 31 10 28 2 6 2 4" stroke="#EDB120"/>
<path d="M370 2023l20 3 20 4 20 3 20 3 20 3 20 3 20 2 20 2 20 0 20-4 20-10 20-14 20-15 20-8 20 0 20 4 20 4 20 5 20 6 20 6 20 5 20 5 20 4 20 4 20 4 20 3 20 4 20 3 20 2 20 3 20 3 20 2 20 2 20 2 20 1 20-2 20-6 20-9 20-14 20-18 20-23 20-26 20-29 20-31 20-32 20-31 20-26 20-23 20-20 20-18 20-16 20-13 20-10 20-8 20-5 20-1 20 5 20 8 20 10 20 11 20 10 20 12 20 12 20 11 20 10 20 9 20 9 20 8 20 10 20 9 20 8 20 3 20-1 20-4 20-10 20-19 20-29 20-39 20-48 20-54 20-54 20-51 10-23 10-20 10-18 10-14 10-12 10-10 10-9 10-12 10-17 10-25 10-34 10-39 10-43 10-49 10-54 10-58 10-64 10-68 10-75 10-80 10-86 10-89 10-89 10-85 10-77 10-65 10-51 10-39 10-27 10-20 10-14 10-10 10-8 10-6 10-3 10-3 10-1 10-1 10 1 10 3 10 3 10 4 10 6 10 7 10 9 10 12 10 13 10 15 10 17 10 18 20 36 20 35 20 32 20 31 20 25 20 19 20 15 20 13 20 13 20 13 20 13 20 12 20 13 20 14 20 17 20 24 20 32 20 41 20 45 20 45 10 22 10 22 2 5 13 27 5 10 8 15 12 24 12 21 8 11 5 7 13 13 2 3 10 8 10 6 2 1 13 5 5 1 8 2 12 0 12-3 8-2 5-2 13-5 2-1 10-2 10 1 2 1 13 9 5 5 8 9 12 18 12 23 8 16 5 11 13 32 2 6 10 28 10 29 2 8 13 37 5 15 8 22 12 37 12 33 8 19 5 12 13 29 2 6 10 23 10 23 2 6 2 4" stroke="#7E2F8E"/>
<path d="M370 2083l20 1 20 1 20 0 20 1 20 0 20 1 20 0 20-1 20-2 20-7 20-14 20-17 20-18 20-11 20-1 20 1 20 3 20 3 20 4 20 5 20 4 20 4 20 3 20 3 20 4 20 3 20 3 20 2 20 3 20 2 20 2 20 3 20 1 20 2 20 0 20-1 20-5 20-9 20-13 20-17 20-22 20-24 20-27 20-29 20-29 20-28 20-23 20-18 20-16 20-13 20-11 20-9 20-7 20-6 20-4 20 0 20 5 20 9 20 11 20 13 20 14 20 17 20 17 20 15 20 12 20 11 20 9 20 9 20 10 20 9 20 7 20 3 20-2 20-6 20-13 20-21 20-34 20-48 20-56 20-62 20-60 20-56 10-26 10-23 10-20 10-17 10-13 10-12 10-11 10-12 10-18 10-25 10-34 10-39 10-43 10-49 10-54 10-59 10-63 10-69 10-75 10-82 10-86 10-89 10-90 10-87 10-78 10-67 10-52 10-39 10-29 10-20 10-14 10-11 10-8 10-5 10-4 10-3 10-1 10-1 10 1 10 2 10 3 10 5 10 5 10 8 10 9 10 11 10 13 10 15 10 17 10 17 20 37 20 34 20 32 20 31 20 25 20 19 20 15 20 13 20 13 20 12 20 13 20 12 20 12 20 12 20 15 20 19 20 28 20 39 20 42 20 42 10 20 10 21 2 6 13 25 5 11 8 15 12 23 12 21 8 11 5 7 13 14 2 3 10 9 10 7 2 2 13 7 5 3 8 4 12 4 12 3 8 1 5 0 13 1 2 0 10 2 10 4 2 1 13 11 5 6 8 11 12 20 12 25 8 17 5 12 13 32 2 7 10 27 10 27 2 7 13 35 5 13 8 20 12 32 12 29 8 15 5 10 13 20 2 3 10 13 10 11 2 3 2 1" stroke="#77AC30"/>
<path d="M370 2088l20-3 20-3 20-3 20-3 20-2 20-3 20-2 20-3 20-3 20-8 20-14 20-16 20-18 20-9 20-1 20 2 20 3 20 4 20 5 20 5 20 5 20 4 20 3 20 3 20 3 20 3 20 3 20 3 20 2 20 2 20 3 20 2 20 2 20 2 20 0 20-1 20-6 20-9 20-13 20-17 20-21 20-23 20-26 20-28 20-28 20-27 20-21 20-17 20-13 20-11 20-9 20-7 20-5 20-4 20-3 20-1 20 4 20 7 20 9 20 8 20 10 20 12 20 10 20 9 20 6 20 5 20 5 20 6 20 6 20 7 20 6 20 3 20-1 20-4 20-8 20-16 20-27 20-39 20-47 20-54 20-54 20-49 10-23 10-21 10-18 10-15 10-12 10-11 10-10 10-11 10-17 10-25 10-32 10-38 10-43 10-49 10-55 10-60 10-66 10-71 10-78 10-84 10-90 10-93 10-94 10-91 10-81 10-69 10-54 10-41 10-29 10-21 10-15 10-12 10-9 10-6 10-5 10-3 10-2 10 0 10 0 10 2 10 3 10 4 10 6 10 7 10 8 10 11 10 13 10 15 10 17 10 17 20 38 20 35 20 34 20 33 20 26 20 20 20 16 20 14 20 13 20 12 20 12 20 11 20 13 20 14 20 18 20 24 20 32 20 44 20 46 20 45 10 23 10 21 2 6 13 27 5 10 8 15 12 24 12 21 8 11 5 6 13 13 2 2 10 7 10 5 2 1 13 3 5 1 8 0 12-4 12-6 8-6 5-4 13-10 2-2 10-6 10-3 2 0 13 4 5 3 8 5 12 10 12 14 8 11 5 9 13 27 2 7 10 26 10 30 2 7 13 38 5 16 8 22 12 35 12 31 8 15 5 9 13 18 2 4 10 14 10 15 2 4 2 3" stroke="#4DBEEE"/>
<path d="M370 2082l20-10 20-9 20-9 20-7 20-7 20-5 20-4 20-3 20-4 20-7 20-11 20-13 20-13 20-7 20 2 20 6 20 7 20 7 20 7 20 8 20 7 20 5 20 6 20 5 20 4 20 5 20 4 20 4 20 3 20 3 20 3 20 3 20 3 20 1 20 1 20-1 20-6 20-9 20-13 20-17 20-22 20-24 20-27 20-28 20-30 20-28 20-22 20-18 20-16 20-13 20-11 20-8 20-8 20-5 20-4 20 0 20 4 20 9 20 11 20 12 20 13 20 15 20 15 20 13 20 11 20 9 20 9 20 8 20 9 20 9 20 6 20 3 20-1 20-5 20-10 20-19 20-30 20-43 20-53 20-58 20-57 20-53 10-24 10-23 10-19 10-16 10-13 10-11 10-11 10-12 10-17 10-25 10-33 10-39 10-44 10-50 10-57 10-62 10-68 10-74 10-81 10-87 10-93 10-97 10-96 10-92 10-82 10-68 10-51 10-39 10-28 10-21 10-15 10-12 10-9 10-6 10-5 10-3 10-2 10-1 10 0 10 1 10 3 10 3 10 5 10 7 10 8 10 10 10 12 10 14 10 16 10 18 20 38 20 37 20 35 20 35 20 28 20 22 20 18 20 16 20 13 20 12 20 11 20 12 20 15 20 18 20 23 20 28 20 38 20 49 20 50 20 50 10 24 10 23 2 6 13 28 5 11 8 16 12 25 12 23 8 12 5 7 13 14 2 3 10 8 10 7 2 2 13 6 5 1 8 2 12 1 12-2 8-3 5-1 13-5 2-1 10-2 10 2 2 1 13 9 5 5 8 9 12 18 12 23 8 16 5 11 13 30 2 6 10 26 10 27 2 7 13 36 5 14 8 21 12 35 12 32 8 19 5 12 13 28 2 6 10 22 10 23 2 6 2 4" stroke="#A2142F"/>
<path d="M370 2003l20 7 20 6 20 6 20 6 20 5 20 5 20 4 20 4 20 1 20-3 20-9 20-13 20-14 20-8 20 1 20 4 20 4 20 5 20 6 20 6 20 5 20 5 20 4 20 4 20 4 20 4 20 3 20 4 20 3 20 2 20 3 20 2 20 2 20 2 20 0 20-1 20-6 20-9 20-13 20-19 20-23 20-26 20-29 20-31 20-32 20-31 20-27 20-23 20-20 20-19 20-16 20-13 20-11 20-8 20-5 20-1 20 5 20 9 20 11 20 11 20 13 20 14 20 15 20 13 20 12 20 11 20 11 20 10 20 11 20 11 20 8 20 5 20 0 20-3 20-9 20-17 20-28 20-41 20-49 20-56 20-55 20-52 10-23 10-22 10-18 10-16 10-12 10-11 10-10 10-12 10-17 10-26 10-33 10-39 10-45 10-50 10-56 10-61 10-67 10-73 10-79 10-86 10-91 10-94 10-95 10-90 10-80 10-66 10-52 10-38 10-27 10-21 10-15 10-11 10-8 10-7 10-4 10-3 10-2 10-1 10 1 10 1 10 3 10 3 10 6 10 6 10 9 10 10 10 13 10 14 10 17 10 17 20 38 20 37 20 34 20 34 20 27 20 21 20 17 20 15 20 13 20 10 20 11 20 10 20 13 20 14 20 18 20 22 20 32 20 44 20 47 20 44 10 23 10 22 2 5 13 27 5 11 8 16 12 24 12 21 8 11 5 7 13 14 2 2 10 8 10 6 2 1 13 5 5 1 8 2 12 0 12-3 8-3 5-2 13-6 2-1 10-2 10 0 2 1 13 7 5 5 8 8 12 15 12 20 8 15 5 11 13 31 2 7 10 29 10 30 2 7 13 39 5 16 8 22 12 36 12 33 8 17 5 10 13 24 2 5 10 17 10 18 2 5 2 3" stroke="#0072BD"/>
<path d="M370 1914l20 12 20 12 20 10 20 10 20 10 20 8 20 9 20 8 20 5 20 1 20-5 20-7 20-10 20-5 20 4 20 7 20 7 20 7 20 8 20 7 20 7 20 5 20 5 20 5 20 5 20 4 20 4 20 3 20 3 20 3 20 3 20 3 20 2 20 2 20 1 20-2 20-5 20-10 20-12 20-18 20-22 20-25 20-27 20-29 20-30 20-29 20-23 20-19 20-17 20-14 20-12 20-10 20-7 20-7 20-3 20-1 20 4 20 9 20 10 20 12 20 12 20 14 20 15 20 12 20 10 20 10 20 8 20 9 20 9 20 9 20 8 20 4 20-1 20-4 20-8 20-17 20-28 20-41 20-50 20-57 20-55 20-51 10-24 10-21 10-19 10-16 10-12 10-11 10-11 10-11 10-17 10-25 10-32 10-38 10-44 10-50 10-57 10-62 10-68 10-74 10-81 10-88 10-93 10-97 10-98 10-93 10-83 10-68 10-53 10-39 10-29 10-21 10-16 10-12 10-9 10-7 10-5 10-3 10-2 10-1 10 0 10 1 10 3 10 3 10 5 10 6 10 8 10 10 10 12 10 14 10 16 10 17 20 38 20 36 20 35 20 34 20 28 20 21 20 18 20 16 20 13 20 10 20 10 20 11 20 14 20 19 20 24 20 29 20 39 20 51 20 52 20 50 10 25 10 24 2 6 13 29 5 11 8 16 12 25 12 23 8 12 5 7 13 14 2 2 10 6 10 5 2 1 13 1 5 0 8-2 12-6 12-10 8-8 5-6 13-13 2-3 10-8 10-2 2 0 13 6 5 4 8 6 12 14 12 17 8 14 5 10 13 30 2 7 10 28 10 31 2 7 13 40 5 15 8 24 12 36 12 33 8 17 5 10 13 24 2 4 10 18 10 19 2 5 2 3" stroke="#D95319"/>
<path d="M370 2090l20-1 20-1 20-1 20-1 20-2 20-1 20-1 20-2 20-3 20-8 20-14 20-17 20-19 20-10 20-1 20 1 20 2 20 4 20 4 20 5 20 4 20 3 20 4 20 3 20 3 20 3 20 2 20 3 20 2 20 2 20 3 20 2 20 2 20 1 20 1 20-2 20-5 20-10 20-12 20-17 20-21 20-23 20-27 20-27 20-29 20-27 20-21 20-17 20-13 20-12 20-9 20-7 20-5 20-5 20-3 20 0 20 4 20 8 20 10 20 11 20 13 20 14 20 15 20 12 20 9 20 8 20 7 20 7 20 8 20 8 20 6 20 2 20-1 20-6 20-10 20-19 20-30 20-44 20-52 20-59 20-57 20-52 10-25 10-22 10-19 10-16 10-13 10-12 10-10 10-12 10-17 10-25 10-32 10-38 10-42 10-47 10-54 10-58 10-63 10-68 10-75 10-81 10-86 10-89 10-91 10-87 10-81 10-68 10-55 10-42 10-29 10-21 10-15 10-11 10-9 10-6 10-4 10-3 10-1 10-1 10 1 10 2 10 4 10 4 10 5 10 7 10 8 10 11 10 12 10 15 10 15 10 17 20 34 20 31 20 30 20 28 20 23 20 16 20 14 20 12 20 10 20 10 20 10 20 10 20 12 20 15 20 19 20 24 20 34 20 46 20 47 20 47 10 23 10 23 2 5 13 28 5 10 8 16 12 25 12 21 8 12 5 7 13 15 2 3 10 9 10 8 2 2 13 9 5 4 8 5 12 6 12 4 8 3 5 1 13 5 2 0 10 5 10 6 2 2 13 14 5 8 8 12 12 25 12 30 8 19 5 13 13 32 2 7 10 25 10 25 2 6 13 32 5 12 8 19 12 30 12 29 8 16 5 10 13 24 2 4 10 17 10 14 2 3 2 2" stroke="#EDB120"/>
<path d="M370 1954l20 14 20 14 20 12 20 10 20 9 20 9 20 7 20 6 20 3 20-2 20-9 20-12 20-14 20-8 20 0 20 3 20 3 20 4 20 4 20 5 20 4 20 3 20 2 20 3 20 2 20 2 20 2 20 2 20 1 20 2 20 2 20 2 20 2 20 2 20 0 20-1 20-7 20-10 20-13 20-17 20-21 20-24 20-26 20-28 20-29 20-27 20-22 20-17 20-14 20-12 20-10 20-6 20-5 20-4 20-2 20 1 20 5 20 9 20 11 20 11 20 13 20 15 20 14 20 13 20 10 20 8 20 9 20 8 20 9 20 9 20 7 20 4 20-1 20-4 20-9 20-18 20-29 20-42 20-51 20-57 20-56 20-52 10-24 10-22 10-19 10-15 10-13 10-11 10-11 10-11 10-17 10-25 10-32 10-38 10-42 10-48 10-54 10-59 10-64 10-70 10-76 10-82 10-88 10-92 10-92 10-90 10-81 10-69 10-55 10-41 10-30 10-22 10-15 10-11 10-9 10-6 10-5 10-3 10-2 10-1 10 1 10 2 10 3 10 4 10 5 10 7 10 8 10 11 10 13 10 14 10 16 10 17 20 36 20 34 20 31 20 31 20 25 20 18 20 15 20 13 20 12 20 11 20 10 20 12 20 12 20 16 20 21 20 27 20 37 20 46 20 50 20 49 10 24 10 23 2 6 13 28 5 10 8 16 12 25 12 22 8 12 5 8 13 14 2 2 10 7 10 6 2 1 13 3 5 1 8 0 12-4 12-7 8-5 5-4 13-9 2-2 10-5 10 1 2 1 13 9 5 5 8 10 12 18 12 23 8 17 5 12 13 34 2 7 10 30 10 31 2 8 13 41 5 16 8 24 12 40 12 39 8 23 5 15 13 38 2 8 10 32 10 34 2 9 2 5" stroke="#7E2F8E"/>
<path d="M370 2014l20 12 20 10 20 10 20 7 20 7 20 6 20 5 20 4 20 1 20-5 20-11 20-16 20-18 20-10 20-1 20 1 20 1 20 2 20 4 20 3 20 4 20 2 20 3 20 2 20 2 20 2 20 2 20 2 20 1 20 2 20 2 20 2 20 2 20 1 20 1 20-2 20-6 20-9 20-12 20-16 20-20 20-23 20-25 20-26 20-27 20-24 20-19 20-14 20-11 20-8 20-5 20-4 20-4 20-3 20-2 20 0 20 4 20 7 20 10 20 9 20 12 20 13 20 13 20 10 20 7 20 5 20 4 20 5 20 5 20 6 20 4 20 1 20-3 20-7 20-12 20-21 20-32 20-44 20-54 20-59 20-58 20-53 10-25 10-22 10-20 10-15 10-14 10-11 10-10 10-12 10-18 10-25 10-34 10-38 10-44 10-48 10-54 10-58 10-64 10-68 10-74 10-81 10-86 10-89 10-89 10-86 10-79 10-66 10-53 10-39 10-29 10-20 10-14 10-11 10-8 10-5 10-4 10-3 10-1 10-1 10 1 10 2 10 3 10 5 10 5 10 7 10 8 10 11 10 13 10 14 10 16 10 16 20 35 20 32 20 30 20 30 20 23 20 17 20 14 20 12 20 11 20 10 20 10 20 11 20 12 20 16 20 19 20 25 20 35 20 45 20 48 20 47 10 24 10 22 2 6 13 28 5 10 8 16 12 25 12 22 8 11 5 7 13 14 2 2 10 8 10 5 2 1 13 4 5 1 8 0 12-3 12-6 8-4 5-4 13-8 2-2 10-4 10 0 2 1 13 9 5 6 8 9 12 21 12 26 8 20 5 15 13 40 2 9 10 37 10 38 2 9 13 50 5 19 8 30 12 50 12 52 8 32 5 22 13 60 2 12 10 53 10 56 2 14 2 8" stroke="#77AC30"/>
<path d="M370 2080l20-9 20-8 20-7 20-6 20-5 20-5 20-3 20-3 20-4 20-7 20-11 20-13 20-14 20-7 20 1 20 6 20 6 20 6 20 7 20 7 20 7 20 5 20 5 20 4 20 5 20 4 20 4 20 3 20 4 20 3 20 3 20 3 20 2 20 2 20 1 20-1 20-5 20-8 20-12 20-17 20-20 20-23 20-26 20-27 20-28 20-26 20-20 20-15 20-12 20-10 20-8 20-6 20-5 20-3 20-3 20 1 20 4 20 9 20 10 20 12 20 14 20 16 20 16 20 13 20 10 20 8 20 7 20 7 20 8 20 8 20 7 20 2 20-2 20-6 20-10 20-20 20-32 20-47 20-56 20-61 20-60 20-54 10-26 10-24 10-20 10-17 10-15 10-12 10-11 10-13 10-18 10-26 10-34 10-39 10-44 10-50 10-57 10-62 10-67 10-72 10-79 10-86 10-91 10-95 10-94 10-90 10-81 10-67 10-52 10-39 10-28 10-21 10-15 10-11 10-9 10-6 10-4 10-3 10-2 10-1 10 1 10 1 10 3 10 4 10 5 10 7 10 8 10 11 10 13 10 14 10 16 10 18 20 38 20 36 20 34 20 33 20 27 20 21 20 17 20 15 20 12 20 12 20 11 20 11 20 13 20 16 20 19 20 24 20 34 20 46 20 48 20 47 10 23 10 22 2 6 13 28 5 10 8 16 12 25 12 22 8 12 5 7 13 15 2 3 10 10 10 8 2 3 13 9 5 4 8 5 12 7 12 5 8 3 5 2 13 5 2 1 10 5 10 7 2 3 13 15 5 8 8 14 12 28 12 33 8 21 5 15 13 37 2 7 10 28 10 28 2 7 13 35 5 14 8 22 12 36 12 37 8 23 5 16 13 41 2 8 10 33 10 32 2 8 2 5" stroke="#4DBEEE"/>
<path d="M370 2062l20 0 20 0 20 0 20 0 20 0 20 1 20 0 20 0 20-2 20-6 20-12 20-15 20-16 20-10 20 0 20 4 20 3 20 5 20 5 20 6 20 5 20 5 20 4 20 4 20 4 20 4 20 3 20 3 20 3 20 3 20 2 20 3 20 2 20 1 20 1 20-1 20-6 20-10 20-13 20-18 20-23 20-25 20-29 20-31 20-31 20-31 20-26 20-22 20-19 20-18 20-15 20-12 20-10 20-8 20-5 20-1 20 5 20 8 20 11 20 11 20 12 20 14 20 13 20 13 20 10 20 10 20 9 20 9 20 9 20 10 20 7 20 3 20-2 20-5 20-11 20-21 20-31 20-42 20-51 20-57 20-57 20-53 10-24 10-22 10-19 10-15 10-13 10-11 10-10 10-12 10-18 10-27 10-35 10-42 10-46 10-51 10-57 10-61 10-67 10-72 10-78 10-84 10-89 10-92 10-91 10-87 10-76 10-61 10-47 10-35 10-26 10-18 10-14 10-10 10-7 10-5 10-4 10-3 10-1 10 0 10 1 10 2 10 3 10 4 10 5 10 8 10 9 10 11 10 13 10 16 10 16 10 19 20 39 20 38 20 35 20 34 20 28 20 21 20 18 20 15 20 13 20 13 20 13 20 12 20 13 20 13 20 16 20 20 20 29 20 41 20 44 20 43 10 21 10 21 2 6 13 26 5 10 8 16 12 23 12 22 8 11 5 6 13 15 2 2 10 9 10 7 2 1 13 8 5 2 8 3 12 4 12 1 8 0 5 0 13 0 2 0 10 1 10 4 2 1 13 10 5 6 8 10 12 20 12 25 8 18 5 12 13 33 2 7 10 29 10 29 2 8 13 37 5 16 8 22 12 36 12 35 8 20 5 13 13 31 2 7 10 25 10 25 2 6 2 4" stroke="#A2142F"/>
<path d="M370 2094l20 0 20 0 20 0 20 0 20-1 20 0 20-1 20-2 20-3 20-7 20-14 20-18 20-19 20-11 20-2 20 1 20 2 20 3 20 4 20 4 20 5 20 3 20 3 20 3 20 3 20 3 20 3 20 2 20 3 20 2 20 2 20 2 20 2 20 1 20 0 20-1 20-6 20-10 20-13 20-18 20-22 20-25 20-28 20-30 20-30 20-30 20-24 20-21 20-17 20-16 20-13 20-11 20-8 20-7 20-5 20 0 20 5 20 10 20 12 20 13 20 15 20 17 20 17 20 16 20 14 20 12 20 11 20 10 20 11 20 10 20 8 20 3 20-2 20-6 20-11 20-20 20-32 20-45 20-54 20-60 20-58 20-55 10-25 10-23 10-20 10-16 10-13 10-12 10-11 10-12 10-18 10-26 10-34 10-40 10-45 10-50 10-56 10-61 10-66 10-72 10-78 10-84 10-89 10-93 10-92 10-89 10-78 10-66 10-50 10-38 10-28 10-19 10-15 10-11 10-8 10-6 10-4 10-3 10-1 10-1 10 1 10 1 10 3 10 4 10 6 10 7 10 9 10 11 10 13 10 15 10 17 10 18 20 39 20 37 20 35 20 33 20 28 20 20 20 18 20 15 20 14 20 13 20 13 20 14 20 13 20 15 20 19 20 25 20 34 20 44 20 46 20 47 10 23 10 22 2 6 13 27 5 10 8 16 12 24 12 22 8 12 5 7 13 15 2 2 10 9 10 7 2 1 13 6 5 2 8 3 12 1 12-1 8-2 5-1 13-2 2-1 10 0 10 4 2 2 13 12 5 7 8 12 12 23 12 28 8 19 5 14 13 35 2 7 10 29 10 29 2 8 13 38 5 15 8 23 12 38 12 38 8 23 5 16 13 40 2 8 10 33 10 34 2 9 2 5" stroke="#0072BD"/>
<path d="M370 1991l20 10 20 9 20 8 20 7 20 6 20 6 20 5 20 4 20 1 20-3 20-10 20-13 20-15 20-9 20 0 20 3 20 3 20 4 20 5 20 5 20 4 20 4 20 3 20 3 20 3 20 2 20 3 20 2 20 2 20 2 20 2 20 2 20 2 20 2 20 0 20-1 20-6 20-10 20-13 20-18 20-21 20-24 20-27 20-28 20-29 20-28 20-23 20-18 20-16 20-13 20-11 20-8 20-6 20-5 20-3 20 0 20 4 20 9 20 10 20 11 20 12 20 14 20 14 20 12 20 10 20 9 20 8 20 8 20 9 20 9 20 7 20 3 20 0 20-4 20-8 20-17 20-27 20-41 20-49 20-56 20-55 20-50 10-24 10-21 10-19 10-15 10-13 10-11 10-10 10-12 10-16 10-25 10-32 10-37 10-43 10-49 10-54 10-61 10-65 10-72 10-77 10-85 10-90 10-93 10-95 10-91 10-82 10-69 10-55 10-41 10-29 10-22 10-16 10-11 10-9 10-7 10-5 10-3 10-2 10-1 10 1 10 1 10 3 10 3 10 5 10 7 10 8 10 11 10 12 10 14 10 16 10 17 20 37 20 34 20 33 20 32 20 26 20 19 20 16 20 14 20 12 20 10 20 10 20 10 20 12 20 16 20 20 20 25 20 35 20 47 20 49 20 48 10 24 10 23 2 6 13 28 5 11 8 16 12 26 12 23 8 12 5 7 13 16 2 3 10 11 10 10 2 2 13 11 5 4 8 7 12 8 12 8 8 4 5 3 13 8 2 2 10 7 10 9 2 2 13 17 5 9 8 15 12 30 12 36 8 23 5 15 13 37 2 7 10 27 10 27 2 7 13 33 5 14 8 20 12 35 12 36 8 23 5 16 13 41 2 9 10 32 10 32 2 8 2 4" stroke="#D95319"/>
<path d="M370 1946l20 13 20 11 20 11 20 9 20 8 20 8 20 6 20 6 20 3 20-2 20-7 20-11 20-13 20-7 20 1 20 5 20 4 20 5 20 5 20 6 20 4 20 4 20 3 20 3 20 3 20 3 20 2 20 2 20 2 20 2 20 2 20 3 20 2 20 1 20 1 20-2 20-6 20-10 20-13 20-18 20-22 20-24 20-27 20-29 20-29 20-29 20-23 20-19 20-16 20-13 20-11 20-8 20-6 20-4 20-3 20 1 20 6 20 9 20 12 20 13 20 13 20 16 20 15 20 14 20 12 20 10 20 9 20 9 20 10 20 9 20 7 20 3 20-2 20-6 20-12 20-21 20-33 20-45 20-54 20-60 20-59 20-54 10-25 10-23 10-20 10-16 10-13 10-11 10-11 10-12 10-17 10-27 10-34 10-40 10-45 10-50 10-54 10-59 10-64 10-69 10-75 10-81 10-86 10-88 10-89 10-85 10-76 10-64 10-50 10-37 10-27 10-20 10-13 10-10 10-8 10-5 10-4 10-2 10-2 10 0 10 1 10 2 10 3 10 4 10 6 10 7 10 9 10 11 10 14 10 15 10 16 10 18 20 36 20 35 20 32 20 31 20 25 20 19 20 15 20 14 20 12 20 13 20 12 20 13 20 13 20 15 20 19 20 26 20 35 20 44 20 47 20 48 10 23 10 23 2 5 13 27 5 11 8 16 12 24 12 22 8 12 5 7 13 15 2 2 10 7 10 5 2 1 13 3 5 1 8-1 12-4 12-8 8-5 5-5 13-10 2-2 10-5 10 0 2 1 13 9 5 6 8 8 12 18 12 23 8 17 5 12 13 33 2 8 10 30 10 31 2 8 13 41 5 17 8 24 12 40 12 39 8 23 5 15 13 39 2 8 10 32 10 35 2 9 2 5" stroke="#EDB120"/>
<path d="M370 1960l20 5 20 5 20 5 20 4 20 5 20 4 20 4 20 4 20 2 20-2 20-6 20-10 20-11 20-5 20 2 20 7 20 7 20 6 20 8 20 7 20 6 20 5 20 5 20 4 20 4 20 4 20 3 20 3 20 3 20 3 20 3 20 3 20 2 20 2 20 1 20-1 20-6 20-9 20-12 20-17 20-21 20-23 20-25 20-28 20-27 20-26 20-21 20-15 20-12 20-10 20-8 20-5 20-4 20-3 20-1 20 1 20 5 20 9 20 11 20 13 20 14 20 16 20 16 20 14 20 10 20 9 20 7 20 8 20 8 20 8 20 7 20 3 20-2 20-5 20-10 20-19 20-31 20-45 20-54 20-60 20-58 20-53 10-25 10-24 10-19 10-17 10-14 10-12 10-11 10-12 10-17 10-26 10-32 10-39 10-44 10-50 10-57 10-63 10-68 10-74 10-81 10-88 10-94 10-97 10-98 10-93 10-83 10-68 10-53 10-39 10-28 10-21 10-16 10-12 10-9 10-7 10-5 10-3 10-2 10-1 10 0 10 1 10 3 10 3 10 5 10 7 10 8 10 11 10 12 10 15 10 16 10 17 20 39 20 38 20 36 20 34 20 29 20 21 20 18 20 16 20 13 20 11 20 11 20 12 20 13 20 17 20 19 20 25 20 35 20 47 20 48 20 47 10 24 10 22 2 6 13 28 5 11 8 16 12 24 12 22 8 11 5 7 13 13 2 2 10 7 10 3 2 1 13 1 5-1 8-2 12-7 12-12 8-8 5-6 13-15 2-3 10-9 10-4 2 0 13 4 5 3 8 6 12 10 12 15 8 13 5 10 13 31 2 7 10 31 10 34 2 9 13 44 5 18 8 26 12 42 12 39 8 21 5 13 13 33 2 7 10 28 10 32 2 8 2 6" stroke="#7E2F8E"/>
<path d="M370 1922l20 4 20 6 20 5 20 6 20 5 20 6 20 6 20 6 20 4 20-1 20-4 20-6 20-8 20-4 20 4 20 8 20 9 20 9 20 9 20 9 20 8 20 7 20 6 20 5 20 5 20 5 20 5 20 4 20 4 20 3 20 4 20 3 20 3 20 2 20 1 20-1 20-6 20-9 20-12 20-17 20-21 20-24 20-26 20-28 20-28 20-27 20-22 20-17 20-14 20-11 20-10 20-7 20-6 20-5 20-3 20 0 20 4 20 8 20 10 20 11 20 12 20 13 20 14 20 11 20 9 20 7 20 7 20 7 20 8 20 8 20 6 20 3 20-2 20-4 20-9 20-18 20-29 20-41 20-51 20-57 20-55 20-51 10-24 10-21 10-19 10-15 10-13 10-10 10-10 10-12 10-16 10-24 10-31 10-36 10-41 10-46 10-53 10-57 10-63 10-68 10-74 10-80 10-86 10-90 10-91 10-89 10-82 10-71 10-58 10-43 10-31 10-22 10-15 10-12 10-8 10-7 10-4 10-3 10-2 10 0 10 1 10 2 10 3 10 5 10 5 10 7 10 9 10 10 10 13 10 14 10 16 10 16 20 34 20 31 20 29 20 29 20 22 20 16 20 13 20 12 20 11 20 10 20 10 20 10 20 13 20 15 20 20 20 26 20 35 20 46 20 49 20 48 10 23 10 23 2 6 13 28 5 11 8 15 12 25 12 22 8 12 5 7 13 14 2 3 10 8 10 6 2 1 13 5 5 1 8 1 12-1 12-4 8-3 5-2 13-6 2-1 10-2 10 2 2 1 13 10 5 6 8 10 12 20 12 25 8 17 5 12 13 34 2 6 10 29 10 30 2 7 13 38 5 16 8 22 12 37 12 35 8 21 5 13 13 32 2 6 10 26 10 26 2 6 2 4" stroke="#77AC30"/>
<path d="M370 1946l20 10 20 9 20 8 20 8 20 8 20 6 20 7 20 6 20 4 20-1 20-6 20-9 20-12 20-6 20 3 20 6 20 6 20 7 20 7 20 7 20 6 20 5 20 5 20 4 20 4 20 4 20 4 20 3 20 3 20 3 20 3 20 2 20 3 20 1 20 1 20-1 20-6 20-9 20-12 20-17 20-21 20-24 20-26 20-28 20-28 20-27 20-21 20-17 20-13 20-12 20-9 20-7 20-5 20-5 20-3 20 0 20 5 20 9 20 11 20 13 20 14 20 18 20 17 20 15 20 11 20 10 20 9 20 9 20 9 20 9 20 7 20 3 20-2 20-6 20-11 20-20 20-32 20-47 20-56 20-61 20-60 20-55 10-25 10-24 10-20 10-17 10-14 10-12 10-12 10-12 10-18 10-25 10-33 10-39 10-43 10-49 10-56 10-60 10-66 10-71 10-77 10-84 10-89 10-93 10-93 10-89 10-81 10-68 10-53 10-40 10-29 10-21 10-15 10-11 10-8 10-7 10-4 10-3 10-2 10 0 10 0 10 2 10 3 10 4 10 6 10 6 10 9 10 11 10 13 10 15 10 16 10 17 20 37 20 35 20 33 20 32 20 26 20 19 20 16 20 13 20 13 20 11 20 11 20 12 20 12 20 15 20 18 20 24 20 34 20 44 20 47 20 46 10 22 10 23 2 5 13 27 5 11 8 15 12 24 12 21 8 11 5 7 13 13 2 2 10 6 10 3 2 1 13 0 5 0 8-2 12-7 12-11 8-9 5-5 13-15 2-3 10-9 10-4 2 0 13 4 5 3 8 5 12 11 12 15 8 12 5 10 13 30 2 7 10 30 10 33 2 8 13 43 5 17 8 25 12 40 12 35 8 18 5 12 13 25 2 6 10 21 10 23 2 7 2 3" stroke="#4DBEEE"/>
<path d="M370 1944l20 9 20 9 20 9 20 8 20 8 20 7 20 7 20 7 20 4 20 0 20-6 20-9 20-11 20-6 20 3 20 7 20 6 20 7 20 7 20 8 20 6 20 6 20 5 20 5 20 5 20 4 20 4 20 4 20 3 20 3 20 3 20 3 20 2 20 2 20 0 20-1 20-5 20-9 20-12 20-17 20-22 20-23 20-27 20-28 20-29 20-27 20-22 20-18 20-14 20-13 20-10 20-9 20-7 20-6 20-5 20-1 20 3 20 7 20 10 20 9 20 12 20 13 20 13 20 11 20 9 20 7 20 6 20 7 20 8 20 8 20 7 20 2 20-1 20-5 20-10 20-19 20-29 20-43 20-51 20-57 20-56 20-52 10-24 10-22 10-19 10-15 10-13 10-11 10-10 10-11 10-17 10-25 10-32 10-37 10-42 10-47 10-53 10-58 10-63 10-68 10-74 10-80 10-86 10-89 10-90 10-88 10-80 10-69 10-56 10-41 10-30 10-21 10-15 10-11 10-8 10-6 10-5 10-2 10-2 10 0 10 1 10 2 10 4 10 4 10 6 10 7 10 10 10 11 10 14 10 15 10 17 10 18 20 36 20 34 20 31 20 30 20 24 20 18 20 15 20 12 20 13 20 13 20 13 20 12 20 12 20 11 20 13 20 19 20 27 20 38 20 42 20 41 10 20 10 21 2 5 13 26 5 10 8 15 12 23 12 21 8 11 5 7 13 14 2 3 10 9 10 7 2 2 13 7 5 3 8 3 12 5 12 2 8 1 5 0 13 2 2 0 10 3 10 5 2 2 13 13 5 7 8 12 12 23 12 29 8 20 5 13 13 36 2 8 10 29 10 31 2 7 13 38 5 16 8 22 12 38 12 36 8 22 5 14 13 36 2 7 10 29 10 28 2 7 2 4" stroke="#A2142F"/>
<path d="M370 2047l20-3 20-2 20-3 20-2 20-2 20-1 20-1 20 0 20-2 20-6 20-10 20-13 20-14 20-7 20 1 20 5 20 6 20 5 20 7 20 7 20 5 20 5 20 5 20 4 20 4 20 4 20 3 20 3 20 3 20 3 20 3 20 2 20 2 20 2 20 1 20-2 20-5 20-10 20-12 20-18 20-22 20-24 20-26 20-29 20-29 20-28 20-23 20-18 20-16 20-13 20-11 20-8 20-7 20-6 20-3 20 0 20 5 20 9 20 12 20 13 20 14 20 17 20 17 20 15 20 13 20 11 20 10 20 9 20 10 20 10 20 7 20 3 20-1 20-5 20-10 20-19 20-30 20-45 20-53 20-59 20-58 20-53 10-25 10-22 10-20 10-16 10-14 10-12 10-10 10-12 10-18 10-25 10-33 10-38 10-44 10-50 10-57 10-62 10-68 10-73 10-81 10-87 10-93 10-97 10-96 10-93 10-82 10-68 10-53 10-39 10-28 10-21 10-16 10-12 10-9 10-6 10-5 10-4 10-2 10 0 10 0 10 1 10 3 10 4 10 5 10 7 10 8 10 11 10 12 10 15 10 16 10 18 20 39 20 38 20 36 20 34 20 29 20 21 20 18 20 16 20 13 20 11 20 12 20 11 20 13 20 15 20 20 20 24 20 34 20 46 20 48 20 46 10 23 10 23 2 6 13 27 5 11 8 16 12 24 12 22 8 12 5 7 13 13 2 3 10 7 10 6 2 1 13 3 5 1 8 0 12-2 12-6 8-4 5-4 13-9 2-1 10-5 10-1 2 0 13 6 5 4 8 7 12 13 12 18 8 13 5 10 13 30 2 7 10 27 10 30 2 8 13 38 5 15 8 23 12 36 12 33 8 17 5 10 13 23 2 5 10 18 10 20 2 4 2 3" stroke="#0072BD"/>
<path d="M370 2031l20 10 20 8 20 8 20 6 20 5 20 5 20 3 20 3 20 0 20-5 20-12 20-17 20-18 20-10 20-2 20 1 20 1 20 3 20 3 20 3 20 4 20 2 20 2 20 3 20 2 20 2 20 1 20 2 20 2 20 1 20 2 20 2 20 2 20 1 20 0 20-1 20-6 20-9 20-12 20-17 20-21 20-22 20-26 20-27 20-27 20-25 20-20 20-15 20-12 20-9 20-8 20-5 20-4 20-3 20-3 20 0 20 4 20 7 20 9 20 10 20 11 20 13 20 13 20 9 20 7 20 6 20 6 20 5 20 7 20 7 20 6 20 2 20-1 20-5 20-9 20-19 20-29 20-42 20-52 20-57 20-56 20-52 10-24 10-22 10-19 10-16 10-13 10-11 10-10 10-12 10-17 10-25 10-32 10-38 10-42 10-48 10-54 10-60 10-64 10-70 10-76 10-82 10-88 10-91 10-92 10-89 10-81 10-69 10-54 10-41 10-30 10-21 10-15 10-11 10-9 10-6 10-4 10-3 10-2 10 0 10 1 10 1 10 3 10 4 10 5 10 7 10 8 10 10 10 13 10 14 10 15 10 16 20 35 20 32 20 31 20 29 20 24 20 17 20 15 20 12 20 10 20 9 20 9 20 9 20 13 20 18 20 24 20 30 20 41 20 52 20 53 20 53 10 25 10 24 2 6 13 30 5 11 8 16 12 26 12 23 8 12 5 7 13 16 2 3 10 10 10 10 2 2 13 11 5 3 8 6 12 7 12 6 8 4 5 2 13 7 2 2 10 6 10 10 2 3 13 19 5 10 8 16 12 33 12 39 8 24 5 17 13 38 2 7 10 27 10 27 2 6 13 34 5 13 8 21 12 35 12 39 8 25 5 18 13 47 2 10 10 38 10 38 2 9 2 5" stroke="#D95319"/>
<path d="M370 2067l20 3 20 3 20 3 20 2 20 1 20 2 20 0 20 0 20-1 20-6 20-14 20-17 20-18 20-10 20-2 20 1 20 1 20 2 20 2 20 3 20 3 20 2 20 2 20 2 20 1 20 2 20 1 20 1 20 1 20 2 20 1 20 2 20 2 20 1 20 1 20-2 20-6 20-9 20-13 20-16 20-20 20-23 20-24 20-27 20-26 20-25 20-19 20-14 20-11 20-8 20-6 20-4 20-3 20-2 20-2 20 0 20 4 20 8 20 10 20 10 20 13 20 14 20 15 20 11 20 9 20 7 20 6 20 7 20 7 20 8 20 6 20 2 20-1 20-5 20-10 20-18 20-30 20-44 20-53 20-59 20-57 20-53 10-24 10-23 10-19 10-16 10-13 10-12 10-10 10-12 10-17 10-24 10-32 10-37 10-42 10-48 10-54 10-60 10-64 10-71 10-76 10-83 10-89 10-93 10-93 10-91 10-82 10-70 10-56 10-41 10-30 10-22 10-16 10-12 10-9 10-7 10-4 10-4 10-2 10-1 10 0 10 2 10 2 10 4 10 5 10 6 10 8 10 10 10 12 10 14 10 16 10 16 20 36 20 33 20 32 20 31 20 25 20 18 20 16 20 13 20 11 20 10 20 9 20 10 20 13 20 17 20 22 20 29 20 39 20 50 20 52 20 51 10 25 10 24 2 6 13 29 5 12 8 16 12 26 12 23 8 13 5 7 13 17 2 3 10 11 10 9 2 3 13 11 5 4 8 5 12 8 12 7 8 4 5 2 13 7 2 2 10 7 10 9 2 3 13 19 5 10 8 16 12 33 12 38 8 24 5 16 13 38 2 7 10 28 10 26 2 7 13 33 5 14 8 20 12 36 12 38 8 24 5 18 13 46 2 10 10 38 10 36 2 9 2 5" stroke="#EDB120"/>
<path d="M370 2019l20 9 20 8 20 8 20 6 20 6 20 5 20 4 20 3 20 1 20-4 20-12 20-15 20-17 20-10 20-1 20 2 20 3 20 3 20 4 20 5 20 4 20 4 20 3 20 3 20 3 20 2 20 3 20 2 20 2 20 2 20 3 20 1 20 2 20 1 20 1 20-2 20-6 20-11 20-13 20-19 20-23 20-26 20-28 20-31 20-32 20-31 20-26 20-22 20-20 20-18 20-15 20-12 20-10 20-8 20-5 20 0 20 4 20 8 20 11 20 11 20 11 20 13 20 12 20 12 20 11 20 10 20 9 20 9 20 10 20 11 20 8 20 4 20 0 20-3 20-8 20-18 20-27 20-38 20-48 20-54 20-54 20-50 10-23 10-21 10-18 10-15 10-12 10-11 10-10 10-12 10-17 10-26 10-34 10-39 10-45 10-50 10-56 10-60 10-67 10-71 10-78 10-84 10-90 10-93 10-92 10-89 10-79 10-65 10-50 10-38 10-27 10-20 10-15 10-11 10-8 10-6 10-4 10-3 10-2 10 0 10 0 10 2 10 3 10 4 10 5 10 7 10 9 10 11 10 13 10 15 10 16 10 18 20 38 20 36 20 35 20 33 20 27 20 21 20 17 20 14 20 13 20 12 20 12 20 11 20 13 20 14 20 17 20 22 20 31 20 43 20 46 20 44 10 22 10 22 2 5 13 27 5 11 8 15 12 24 12 22 8 11 5 7 13 14 2 2 10 8 10 7 2 1 13 6 5 2 8 2 12 1 12-1 8-2 5-1 13-3 2-1 10-1 10 2 2 1 13 9 5 6 8 9 12 18 12 22 8 16 5 11 13 31 2 7 10 27 10 28 2 7 13 37 5 14 8 21 12 34 12 31 8 16 5 10 13 23 2 4 10 16 10 16 2 4 2 2" stroke="#7E2F8E"/>
<path d="M370 1956l20 8 20 7 20 7 20 6 20 5 20 5 20 5 20 5 20 2 20-2 20-7 20-10 20-11 20-7 20 2 20 5 20 6 20 6 20 6 20 6 20 6 20 4 20 3 20 4 20 3 20 3 20 2 20 3 20 2 20 3 20 2 20 2 20 3 20 1 20 1 20-2 20-6 20-10 20-14 20-17 20-22 20-24 20-27 20-28 20-30 20-28 20-24 20-19 20-16 20-13 20-11 20-8 20-6 20-5 20-3 20 0 20 5 20 9 20 10 20 12 20 12 20 13 20 14 20 12 20 10 20 9 20 9 20 8 20 9 20 9 20 7 20 3 20-2 20-7 20-12 20-22 20-33 20-44 20-53 20-59 20-59 20-54 10-25 10-23 10-19 10-15 10-13 10-11 10-11 10-12 10-18 10-27 10-36 10-41 10-45 10-50 10-54 10-58 10-62 10-67 10-73 10-79 10-83 10-85 10-86 10-81 10-73 10-62 10-49 10-36 10-26 10-19 10-13 10-9 10-6 10-5 10-4 10-2 10-1 10 0 10 1 10 2 10 3 10 5 10 5 10 7 10 9 10 10 10 13 10 15 10 15 10 17 20 34 20 32 20 30 20 28 20 23 20 17 20 13 20 12 20 11 20 11 20 10 20 11 20 12 20 15 20 20 20 24 20 35 20 45 20 48 20 48 10 23 10 22 2 6 13 27 5 11 8 16 12 24 12 22 8 12 5 7 13 14 2 3 10 7 10 6 2 2 13 4 5 1 8 1 12-2 12-5 8-4 5-3 13-8 2-2 10-5 10-1 2 0 13 5 5 4 8 6 12 13 12 16 8 13 5 9 13 27 2 6 10 26 10 27 2 7 13 36 5 15 8 21 12 34 12 29 8 16 5 9 13 20 2 4 10 15 10 16 2 4 2 3" stroke="#77AC30"/>
<path d="M370 2013l20 5 20 4 20 5 20 3 20 3 20 3 20 2 20 2 20-1 20-4 20-11 20-13 20-15 20-9 20 0 20 4 20 4 20 4 20 5 20 5 20 4 20 4 20 3 20 3 20 3 20 3 20 2 20 2 20 2 20 2 20 3 20 2 20 2 20 1 20 1 20-1 20-7 20-9 20-13 20-17 20-20 20-23 20-25 20-27 20-28 20-26 20-20 20-16 20-12 20-10 20-7 20-5 20-4 20-4 20-2 20 0 20 3 20 8 20 9 20 10 20 11 20 13 20 12 20 10 20 7 20 6 20 5 20 5 20 7 20 6 20 5 20 2 20-3 20-6 20-12 20-20 20-31 20-43 20-52 20-58 20-57 20-53 10-24 10-22 10-19 10-16 10-13 10-11 10-11 10-13 10-18 10-27 10-35 10-42 10-46 10-53 10-57 10-63 10-68 10-73 10-80 10-86 10-91 10-94 10-93 10-88 10-77 10-63 10-47 10-35 10-25 10-19 10-14 10-11 10-7 10-6 10-4 10-3 10-2 10 0 10 0 10 1 10 3 10 3 10 5 10 6 10 8 10 10 10 11 10 14 10 16 10 17 20 37 20 36 20 35 20 33 20 27 20 21 20 18 20 15 20 12 20 8 20 9 20 9 20 13 20 18 20 22 20 26 20 38 20 50 20 51 20 49 10 24 10 23 2 6 13 29 5 11 8 16 12 25 12 22 8 12 5 7 13 13 2 2 10 6 10 4 2 1 13 1 5-1 8-1 12-7 12-10 8-8 5-6 13-14 2-2 10-9 10-3 2 0 13 4 5 3 8 6 12 11 12 15 8 12 5 10 13 31 2 7 10 30 10 33 2 8 13 43 5 17 8 26 12 40 12 35 8 19 5 12 13 28 2 5 10 23 10 25 2 7 2 4" stroke="#4DBEEE"/>
<path d="M370 1951l20 1 20 0 20 1 20 1 20 2 20 1 20 3 20 3 20 2 20-3 20-5 20-6 20-8 20-4 20 4 20 9 20 9 20 9 20 9 20 8 20 8 20 6 20 5 20 5 20 4 20 4 20 4 20 3 20 4 20 3 20 3 20 3 20 3 20 2 20 1 20-2 20-7 20-10 20-14 20-18 20-22 20-25 20-28 20-29 20-31 20-30 20-25 20-21 20-19 20-16 20-14 20-10 20-8 20-7 20-4 20 0 20 5 20 9 20 12 20 12 20 14 20 15 20 15 20 14 20 13 20 12 20 11 20 10 20 11 20 11 20 7 20 4 20-2 20-5 20-11 20-20 20-31 20-43 20-51 20-57 20-57 20-53 10-25 10-22 10-18 10-16 10-12 10-11 10-11 10-12 10-17 10-27 10-34 10-41 10-44 10-50 10-55 10-59 10-65 10-69 10-75 10-82 10-86 10-89 10-89 10-85 10-76 10-64 10-50 10-37 10-27 10-19 10-14 10-10 10-7 10-6 10-3 10-3 10-1 10 0 10 1 10 2 10 3 10 4 10 6 10 7 10 9 10 11 10 14 10 15 10 16 10 18 20 37 20 34 20 33 20 31 20 26 20 18 20 16 20 13 20 13 20 12 20 13 20 12 20 13 20 14 20 17 20 23 20 33 20 42 20 46 20 45 10 23 10 22 2 5 13 27 5 10 8 16 12 24 12 22 8 11 5 7 13 15 2 2 10 9 10 7 2 1 13 7 5 2 8 3 12 3 12 0 8-1 5-1 13-1 2 0 10 1 10 4 2 2 13 13 5 6 8 12 12 24 12 29 8 19 5 14 13 36 2 8 10 30 10 30 2 8 13 38 5 16 8 23 12 39 12 38 8 23 5 16 13 40 2 8 10 33 10 33 2 8 2 5" stroke="#A2142F"/>
<path d="M370 2075l20 3 20 2 20 2 20 2 20 1 20 1 20 0 20-1 20-2 20-7 20-13 20-18 20-19 20-10 20-2 20 1 20 1 20 3 20 3 20 4 20 4 20 3 20 2 20 3 20 2 20 2 20 3 20 1 20 2 20 2 20 2 20 1 20 2 20 1 20 0 20-1 20-7 20-10 20-13 20-18 20-22 20-24 20-28 20-29 20-30 20-28 20-24 20-19 20-17 20-14 20-12 20-9 20-7 20-6 20-4 20 0 20 4 20 9 20 10 20 12 20 12 20 13 20 14 20 12 20 11 20 9 20 8 20 9 20 9 20 9 20 7 20 3 20-2 20-5 20-11 20-19 20-31 20-42 20-52 20-57 20-57 20-52 10-24 10-23 10-18 10-16 10-12 10-11 10-11 10-12 10-17 10-26 10-34 10-40 10-45 10-50 10-55 10-60 10-65 10-71 10-76 10-83 10-88 10-91 10-90 10-87 10-77 10-65 10-50 10-38 10-27 10-19 10-14 10-11 10-8 10-5 10-4 10-3 10-1 10-1 10 1 10 2 10 3 10 4 10 6 10 7 10 9 10 11 10 13 10 14 10 17 10 17 20 37 20 35 20 33 20 32 20 26 20 19 20 16 20 13 20 13 20 11 20 11 20 12 20 12 20 13 20 16 20 19 20 29 20 41 20 44 20 43 10 21 10 21 2 5 13 27 5 10 8 16 12 23 12 21 8 11 5 7 13 13 2 3 10 7 10 6 2 1 13 5 5 2 8 2 12 0 12-2 8-3 5-1 13-5 2-1 10-3 10 1 2 0 13 7 5 5 8 7 12 14 12 19 8 13 5 10 13 29 2 7 10 27 10 28 2 8 13 36 5 14 8 21 12 33 12 28 8 13 5 7 13 15 2 2 10 9 10 8 2 2 2 1" stroke="#0072BD"/>
<path d="M370 1880l20 10 20 11 20 9 20 9 20 9 20 8 20 8 20 8 20 6 20 1 20-3 20-5 20-6 20-4 20 4 20 9 20 9 20 9 20 8 20 8 20 8 20 5 20 6 20 4 20 5 20 4 20 3 20 4 20 3 20 3 20 4 20 3 20 2 20 3 20 1 20-1 20-6 20-9 20-12 20-17 20-20 20-22 20-24 20-26 20-27 20-25 20-19 20-14 20-10 20-9 20-6 20-3 20-4 20-2 20-2 20 0 20 4 20 8 20 11 20 11 20 14 20 15 20 16 20 13 20 9 20 8 20 7 20 7 20 8 20 8 20 6 20 3 20-2 20-6 20-12 20-21 20-33 20-48 20-56 20-62 20-60 20-56 10-26 10-23 10-21 10-16 10-15 10-12 10-11 10-12 10-18 10-26 10-34 10-40 10-44 10-50 10-56 10-61 10-65 10-72 10-77 10-84 10-89 10-93 10-92 10-88 10-79 10-66 10-52 10-38 10-28 10-20 10-15 10-11 10-8 10-6 10-5 10-3 10-2 10-1 10 0 10 2 10 2 10 3 10 4 10 6 10 8 10 9 10 12 10 13 10 14 10 16 20 35 20 33 20 32 20 31 20 24 20 19 20 15 20 14 20 10 20 7 20 6 20 8 20 12 20 20 20 24 20 30 20 42 20 54 20 55 20 53 10 26 10 25 2 6 13 30 5 12 8 16 12 26 12 23 8 12 5 7 13 15 2 2 10 9 10 7 2 1 13 6 5 2 8 2 12 2 12-2 8-1 5-1 13-3 2 0 10 0 10 3 2 2 13 13 5 6 8 12 12 23 12 28 8 19 5 13 13 35 2 7 10 28 10 29 2 7 13 37 5 15 8 22 12 36 12 36 8 21 5 14 13 35 2 8 10 28 10 28 2 7 2 4" stroke="#D95319"/>
<path d="M370 1891l20 19 20 17 20 17 20 15 20 13 20 13 20 11 20 10 20 7 20 2 20-5 20-9 20-11 20-6 20 2 20 5 20 6 20 6 20 6 20 6 20 6 20 4 20 5 20 4 20 3 20 4 20 3 20 3 20 3 20 2 20 3 20 2 20 2 20 2 20 1 20-2 20-6 20-9 20-13 20-18 20-22 20-25 20-28 20-29 20-31 20-29 20-24 20-20 20-18 20-15 20-13 20-10 20-8 20-7 20-4 20 0 20 4 20 8 20 11 20 11 20 12 20 13 20 14 20 12 20 11 20 9 20 9 20 9 20 9 20 10 20 8 20 3 20 0 20-3 20-7 20-17 20-26 20-40 20-48 20-55 20-54 20-50 10-23 10-21 10-18 10-16 10-12 10-11 10-10 10-12 10-16 10-25 10-32 10-37 10-43 10-48 10-55 10-60 10-65 10-71 10-78 10-84 10-89 10-94 10-94 10-90 10-83 10-69 10-55 10-41 10-30 10-21 10-16 10-12 10-9 10-7 10-5 10-4 10-2 10-1 10 0 10 1 10 2 10 3 10 4 10 6 10 8 10 9 10 12 10 13 10 15 10 16 20 35 20 33 20 32 20 31 20 25 20 19 20 16 20 13 20 11 20 7 20 8 20 8 20 12 20 19 20 22 20 28 20 40 20 52 20 52 20 51 10 25 10 25 2 6 13 29 5 11 8 16 12 26 12 22 8 12 5 7 13 15 2 2 10 8 10 7 2 2 13 6 5 2 8 2 12 1 12-1 8-2 5-1 13-3 2 0 10-1 10 4 2 1 13 12 5 6 8 11 12 22 12 27 8 19 5 13 13 35 2 8 10 29 10 30 2 8 13 38 5 16 8 23 12 39 12 38 8 22 5 16 13 38 2 8 10 32 10 32 2 9 2 4" stroke="#EDB120"/>
<path d="M370 1998l20 5 20 6 20 5 20 4 20 5 20 3 20 4 20 3 20 1 20-3 20-10 20-12 20-14 20-8 20 1 20 5 20 5 20 6 20 6 20 7 20 6 20 5 20 4 20 5 20 4 20 4 20 3 20 4 20 3 20 3 20 3 20 2 20 2 20 2 20 1 20-2 20-5 20-10 20-14 20-18 20-23 20-26 20-29 20-31 20-32 20-31 20-27 20-23 20-20 20-19 20-16 20-13 20-10 20-9 20-5 20 0 20 4 20 8 20 10 20 11 20 10 20 12 20 12 20 11 20 9 20 9 20 9 20 8 20 9 20 9 20 8 20 3 20-1 20-4 20-8 20-16 20-26 20-37 20-45 20-52 20-53 20-48 10-23 10-20 10-18 10-14 10-12 10-10 10-10 10-12 10-17 10-25 10-34 10-39 10-45 10-49 10-56 10-60 10-66 10-71 10-77 10-84 10-89 10-92 10-92 10-88 10-79 10-66 10-51 10-38 10-28 10-20 10-15 10-11 10-8 10-6 10-4 10-3 10-2 10-1 10 1 10 1 10 2 10 4 10 4 10 6 10 8 10 10 10 12 10 13 10 15 10 16 20 35 20 33 20 32 20 31 20 25 20 18 20 16 20 13 20 10 20 8 20 7 20 8 20 12 20 18 20 22 20 27 20 38 20 51 20 52 20 50 10 24 10 24 2 6 13 29 5 12 8 16 12 25 12 22 8 12 5 7 13 14 2 2 10 8 10 7 2 1 13 5 5 2 8 1 12 1 12-3 8-3 5-1 13-5 2-1 10-2 10 2 2 1 13 10 5 6 8 9 12 19 12 23 8 17 5 12 13 33 2 7 10 28 10 30 2 8 13 38 5 15 8 23 12 37 12 34 8 20 5 12 13 30 2 6 10 24 10 24 2 6 2 4" stroke="#7E2F8E"/>
<path d="M370 1897l20 7 20 7 20 7 20 7 20 7 20 6 20 7 20 8 20 4 20 1 20-3 20-5 20-7 20-4 20 4 20 10 20 9 20 9 20 9 20 9 20 7 20 6 20 6 20 5 20 5 20 5 20 4 20 4 20 3 20 4 20 4 20 3 20 3 20 2 20 2 20-1 20-6 20-9 20-11 20-17 20-20 20-23 20-26 20-26 20-28 20-26 20-20 20-16 20-12 20-10 20-8 20-6 20-5 20-4 20-2 20 0 20 4 20 8 20 10 20 11 20 13 20 14 20 15 20 12 20 9 20 8 20 7 20 7 20 8 20 8 20 6 20 3 20-1 20-4 20-8 20-17 20-27 20-42 20-51 20-56 20-55 20-51 10-23 10-22 10-19 10-16 10-13 10-11 10-10 10-12 10-16 10-24 10-31 10-37 10-42 10-49 10-57 10-62 10-68 10-75 10-81 10-89 10-95 10-98 10-99 10-96 10-85 10-72 10-55 10-41 10-30 10-23 10-16 10-13 10-10 10-7 10-5 10-4 10-2 10-1 10 0 10 1 10 3 10 3 10 5 10 7 10 8 10 10 10 12 10 14 10 16 10 18 20 38 20 37 20 36 20 35 20 28 20 22 20 18 20 16 20 14 20 11 20 12 20 12 20 15 20 19 20 23 20 29 20 39 20 48 20 51 20 50 10 24 10 24 2 5 13 29 5 11 8 16 12 24 12 23 8 12 5 7 13 16 2 2 10 10 10 9 2 2 13 9 5 3 8 4 12 5 12 4 8 2 5 1 13 3 2 1 10 4 10 7 2 2 13 16 5 8 8 14 12 27 12 33 8 22 5 14 13 35 2 7 10 26 10 27 2 6 13 34 5 13 8 20 12 35 12 35 8 21 5 15 13 38 2 8 10 30 10 30 2 7 2 4" stroke="#77AC30"/>
<path d="M370 2073l20 1 20 1 20 1 20 0 20-1 20 0 20-1 20-2 20-3 20-8 20-14 20-17 20-18 20-11 20-2 20 1 20 2 20 2 20 4 20 4 20 3 20 3 20 2 20 2 20 2 20 2 20 2 20 1 20 2 20 2 20 2 20 2 20 2 20 1 20 1 20-2 20-6 20-10 20-12 20-16 20-19 20-22 20-24 20-25 20-26 20-24 20-18 20-12 20-9 20-7 20-4 20-2 20-2 20-1 20-2 20 1 20 4 20 8 20 10 20 11 20 13 20 15 20 15 20 12 20 9 20 7 20 6 20 6 20 7 20 8 20 5 20 2 20-2 20-5 20-11 20-18 20-31 20-45 20-54 20-60 20-58 20-53 10-24 10-23 10-20 10-16 10-13 10-12 10-11 10-11 10-17 10-24 10-31 10-36 10-41 10-47 10-52 10-58 10-63 10-68 10-75 10-81 10-86 10-90 10-92 10-89 10-82 10-72 10-57 10-44 10-31 10-22 10-15 10-12 10-9 10-6 10-4 10-3 10-2 10 0 10 1 10 3 10 4 10 4 10 7 10 7 10 10 10 12 10 14 10 16 10 17 10 18 20 37 20 34 20 32 20 30 20 24 20 18 20 15 20 13 20 13 20 15 20 15 20 15 20 13 20 10 20 13 20 18 20 25 20 35 20 39 20 40 10 20 10 20 2 5 13 25 5 10 8 14 12 23 12 21 8 11 5 7 13 14 2 3 10 8 10 7 2 1 13 6 5 3 8 2 12 2 12 0 8-1 5 0 13-2 2-1 10 0 10 3 2 1 13 10 5 6 8 10 12 19 12 25 8 17 5 12 13 33 2 7 10 29 10 30 2 7 13 38 5 15 8 23 12 37 12 35 8 19 5 13 13 31 2 6 10 24 10 25 2 6 2 4" stroke="#4DBEEE"/>
<path d="M370 2058l20 9 20 8 20 7 20 5 20 4 20 3 20 2 20 1 20-1 20-6 20-14 20-19 20-19 20-11 20-2 20-1 20 0 20 1 20 2 20 2 20 2 20 2 20 1 20 2 20 1 20 1 20 1 20 1 20 1 20 1 20 2 20 1 20 2 20 1 20 1 20-2 20-6 20-10 20-13 20-18 20-21 20-24 20-27 20-29 20-29 20-29 20-23 20-19 20-15 20-14 20-11 20-8 20-7 20-5 20-4 20 0 20 3 20 8 20 9 20 9 20 9 20 11 20 10 20 9 20 7 20 6 20 6 20 6 20 8 20 8 20 6 20 3 20-1 20-5 20-10 20-19 20-28 20-39 20-48 20-54 20-54 20-51 10-23 10-20 10-18 10-14 10-12 10-9 10-10 10-11 10-16 10-26 10-32 10-39 10-42 10-48 10-52 10-57 10-62 10-66 10-72 10-79 10-83 10-87 10-87 10-84 10-78 10-66 10-53 10-40 10-28 10-20 10-15 10-10 10-7 10-6 10-4 10-2 10-1 10-1 10 1 10 3 10 3 10 5 10 6 10 7 10 9 10 11 10 14 10 15 10 16 10 17 20 35 20 32 20 30 20 29 20 22 20 16 20 13 20 12 20 10 20 11 20 10 20 10 20 10 20 11 20 15 20 21 20 30 20 42 20 44 20 44 10 21 10 22 2 5 13 26 5 11 8 15 12 23 12 20 8 11 5 6 13 12 2 2 10 6 10 4 2 1 13 2 5 0 8-1 12-5 12-8 8-6 5-5 13-11 2-3 10-7 10-3 2 0 13 5 5 3 8 6 12 13 12 18 8 14 5 12 13 35 2 8 10 34 10 37 2 9 13 48 5 19 8 28 12 46 12 43 8 24 5 16 13 40 2 8 10 34 10 37 2 10 2 5" stroke="#A2142F"/>
</g></g>
<g clip-path="url(#cb)"><g class="c" transform="scale(0.1)">
<path d="M3837 1882l20 11 20 10 20 10 20 9 20 8 20 8 20 7 20 5 20 3 20 0 20-5 20-7 20-7 20-4 20 1 20 4 20 5 20 6 20 7 20 7 20 7 20 6 20 6 20 6 20 7 20 6 20 6 20 6 20 5 20 5 20 5 20 6 20 5 20 5 20 4 20-1 20-5 20-8 20-13 20-18 20-22 20-23 20-27 20-27 20-24 20-23 20-21 20-18 20-17 20-16 20-14 20-12 20-11 20-8 20-5 20-2 20 2 20 5 20 8 20 11 20 14 20 14 20 13 20 13 20 12 20 10 20 10 20 8 20 9 20 8 20 7 20 3 20-1 20-5 20-10 20-18 20-26 20-36 20-44 20-49 20-52 20-52 10-25 10-25 10-22 10-21 10-16 10-13 10-10 10-9 10-10 10-14 10-23 10-31 10-38 10-44 10-50 10-54 10-60 10-64 10-70 10-75 10-83 10-87 10-92 10-92 10-89 10-81 10-67 10-53 10-39 10-29 10-22 10-16 10-12 10-9 10-8 10-6 10-4 10-4 10-2 10 0 10 3 10 4 10 5 10 7 10 9 10 11 10 11 10 12 10 14 10 14 20 32 20 34 20 34 20 33 20 30 20 24 20 19 20 17 20 13 20 10 20 9 20 8 20 11 20 15 20 21 20 23 20 28 20 39 20 46 20 46 10 23 10 23 3 6 12 28 5 11 7 17 13 27 13 25 7 14 5 9 12 21 3 4 10 13 10 11 3 2 12 7 5 1 7 1 13 0 13-2 7-2 5-2 12-5 3-2 10-4 10-4 3-1 12 2 5 4 7 7 13 19 13 26 7 18 5 13 12 33 3 7 10 24 10 23 3 6 12 32 5 14 7 22 13 40 13 40 7 24 5 16 12 38 3 7 10 29 10 31 3 8 10 36" stroke="#77AC30" class="o"/>
<path d="M3837 1895l20 11 20 10 20 10 20 9 20 9 20 8 20 7 20 5 20 3 20 0 20-5 20-6 20-7 20-4 20 1 20 4 20 5 20 6 20 6 20 7 20 6 20 7 20 5 20 6 20 7 20 7 20 6 20 7 20 6 20 6 20 5 20 4 20 4 20 2 20 0 20-2 20-7 20-9 20-14 20-20 20-22 20-25 20-27 20-27 20-25 20-23 20-20 20-19 20-17 20-15 20-14 20-13 20-10 20-7 20-5 20-2 20 1 20 6 20 8 20 12 20 14 20 14 20 14 20 13 20 11 20 11 20 10 20 9 20 9 20 8 20 7 20 4 20-1 20-5 20-10 20-18 20-26 20-35 20-45 20-49 20-52 20-52 10-25 10-24 10-23 10-20 10-16 10-13 10-10 10-9 10-10 10-15 10-22 10-31 10-38 10-43 10-49 10-54 10-59 10-65 10-69 10-75 10-82 10-87 10-91 10-93 10-89 10-81 10-68 10-54 10-40 10-29 10-22 10-16 10-13 10-9 10-7 10-6 10-5 10-4 10-1 10 0 10 2 10 4 10 6 10 7 10 10 10 10 10 12 10 12 10 14 10 15 20 31 20 35 20 34 20 33 20 29 20 24 20 19 20 16 20 13 20 11 20 9 20 9 20 11 20 15 20 21 20 23 20 29 20 38 20 45 20 45 10 23 10 23 3 6 12 28 5 11 7 16 13 27 13 25 7 14 5 9 12 21 3 4 10 13 10 11 3 2 12 8 5 2 7 2 13 2 13-1 7-1 5-2 12-3 3-1 10-4 10-2 3 0 12 3 5 4 7 8 13 20 13 27 7 20 5 13 12 35 3 6 10 26 10 23 3 6 12 31 5 14 7 22 13 39 13 40 7 24 5 15 12 39 3 7 10 31 10 32 3 9 10 38" stroke="#EDB120" class="o"/>
<path d="M3837 2043l20 4 20 3 20 4 20 2 20 3 20 2 20 2 20 0 20-2 20-4 20-9 20-11 20-13 20-9 20-1 20 1 20 2 20 3 20 3 20 5 20 4 20 4 20 4 20 3 20 4 20 3 20 3 20 3 20 3 20 3 20 3 20 2 20 3 20 1 20 1 20-3 20-6 20-10 20-14 20-18 20-22 20-24 20-28 20-25 20-22 20-18 20-17 20-14 20-11 20-9 20-8 20-7 20-7 20-6 20-4 20-2 20 2 20 7 20 10 20 14 20 15 20 14 20 14 20 13 20 14 20 14 20 12 20 12 20 10 20 9 20 8 20 3 20-2 20-7 20-12 20-21 20-30 20-40 20-48 20-54 20-56 20-56 10-27 10-26 10-23 10-21 10-18 10-15 10-12 10-11 10-12 10-16 10-22 10-29 10-36 10-40 10-46 10-51 10-57 10-62 10-67 10-73 10-79 10-86 10-90 10-92 10-92 10-85 10-74 10-60 10-45 10-34 10-25 10-19 10-14 10-11 10-8 10-6 10-4 10-4 10-2 10 1 10 3 10 4 10 7 10 8 10 9 10 11 10 13 10 14 10 14 10 16 20 32 20 33 20 33 20 32 20 29 20 22 20 17 20 14 20 12 20 12 20 11 20 12 20 12 20 15 20 20 20 23 20 29 20 36 20 40 20 44 10 22 10 22 3 5 12 28 5 10 7 16 13 26 13 24 7 14 5 9 12 20 3 4 10 13 10 12 3 3 12 12 5 4 7 6 13 8 13 5 7 2 5 2 12 2 3 1 10 2 10 2 3 2 12 8 5 6 7 10 13 25 13 34 7 24 5 16 12 39 3 7 10 28 10 24 3 6 12 31 5 13 7 20 13 35 13 37 7 23 5 16 12 41 3 9 10 36 10 40 3 10 10 46" stroke="#77AC30" class="o"/>
<path d="M3837 2007l20 5 20 6 20 4 20 5 20 4 20 3 20 3 20 2 20 0 20-4 20-7 20-10 20-11 20-7 20-1 20 2 20 2 20 4 20 4 20 5 20 4 20 5 20 4 20 3 20 4 20 4 20 3 20 3 20 3 20 3 20 3 20 3 20 2 20 2 20 0 20-2 20-7 20-10 20-14 20-19 20-22 20-25 20-28 20-26 20-24 20-22 20-21 20-18 20-16 20-14 20-14 20-11 20-11 20-7 20-5 20-2 20 1 20 6 20 8 20 12 20 14 20 13 20 14 20 12 20 12 20 11 20 10 20 9 20 9 20 8 20 7 20 3 20-2 20-5 20-11 20-19 20-27 20-36 20-45 20-50 20-53 20-52 10-26 10-24 10-23 10-20 10-17 10-12 10-11 10-9 10-10 10-15 10-22 10-31 10-38 10-44 10-48 10-55 10-61 10-67 10-74 10-81 10-88 10-94 10-98 10-99 10-94 10-83 10-68 10-51 10-37 10-28 10-20 10-16 10-13 10-10 10-8 10-6 10-5 10-3 10-1 10 2 10 3 10 5 10 6 10 9 10 11 10 12 10 14 10 14 10 15 10 16 20 32 20 35 20 35 20 34 20 30 20 26 20 21 20 17 20 14 20 10 20 9 20 8 20 10 20 16 20 22 20 23 20 29 20 40 20 46 20 47 10 23 10 23 3 6 12 29 5 11 7 17 13 27 13 25 7 15 5 9 12 21 3 4 10 13 10 10 3 2 12 7 5 1 7 1 13 0 13-2 7-2 5-2 12-6 3-1 10-5 10-3 3-1 12 2 5 4 7 7 13 19 13 26 7 19 5 13 12 33 3 6 10 25 10 24 3 5 12 32 5 14 7 22 13 40 13 41 7 24 5 16 12 38 3 7 10 29 10 31 3 8 10 36" stroke="#4DBEEE" class="o"/>
<path d="M3837 1952l20 9 20 8 20 7 20 8 20 6 20 7 20 5 20 4 20 2 20-1 20-5 20-8 20-8 20-6 20 1 20 3 20 3 20 5 20 5 20 5 20 6 20 5 20 4 20 4 20 5 20 4 20 4 20 3 20 4 20 3 20 3 20 3 20 2 20 2 20 1 20-3 20-7 20-10 20-14 20-20 20-23 20-26 20-28 20-27 20-26 20-25 20-22 20-20 20-19 20-17 20-17 20-14 20-13 20-8 20-6 20-2 20 1 20 5 20 7 20 11 20 14 20 14 20 14 20 13 20 11 20 10 20 9 20 8 20 9 20 8 20 7 20 4 20 0 20-2 20-7 20-14 20-23 20-31 20-40 20-46 20-49 20-48 10-24 10-23 10-21 10-19 10-15 10-11 10-9 10-8 10-10 10-13 10-21 10-29 10-36 10-40 10-46 10-51 10-56 10-61 10-66 10-72 10-78 10-84 10-89 10-90 10-89 10-84 10-72 10-58 10-44 10-33 10-25 10-18 10-14 10-10 10-7 10-6 10-5 10-3 10-2 10 1 10 2 10 5 10 6 10 8 10 9 10 10 10 12 10 13 10 14 10 15 20 30 20 31 20 31 20 30 20 26 20 21 20 16 20 13 20 11 20 10 20 9 20 8 20 10 20 15 20 20 20 23 20 28 20 37 20 45 20 45 10 22 10 23 3 5 12 28 5 11 7 17 13 26 13 25 7 14 5 9 12 20 3 3 10 13 10 9 3 2 12 5 5 1 7-1 13-3 13-7 7-5 5-3 12-11 3-2 10-8 10-7 3-1 12 0 5 2 7 7 13 16 13 24 7 17 5 12 12 31 3 6 10 24 10 24 3 6 12 32 5 15 7 24 13 42 13 43 7 26 5 16 12 39 3 8 10 29 10 31 3 9 10 37" stroke="#0072BD"/>
<path d="M3837 1920l20 15 20 15 20 13 20 12 20 11 20 9 20 8 20 7 20 3 20 0 20-4 20-8 20-9 20-6 20 0 20 2 20 3 20 3 20 4 20 5 20 4 20 4 20 4 20 3 20 4 20 3 20 3 20 3 20 3 20 2 20 3 20 3 20 2 20 2 20 0 20-2 20-7 20-10 20-14 20-20 20-23 20-25 20-27 20-27 20-26 20-24 20-21 20-19 20-18 20-17 20-15 20-14 20-12 20-7 20-5 20-3 20 3 20 6 20 10 20 14 20 17 20 17 20 17 20 17 20 16 20 14 20 14 20 13 20 12 20 11 20 9 20 4 20-2 20-6 20-10 20-20 20-28 20-36 20-46 20-51 20-53 20-53 10-26 10-24 10-23 10-20 10-17 10-13 10-11 10-9 10-11 10-15 10-22 10-31 10-38 10-44 10-49 10-54 10-60 10-65 10-70 10-76 10-83 10-89 10-92 10-94 10-90 10-83 10-69 10-54 10-40 10-30 10-22 10-16 10-13 10-10 10-8 10-6 10-6 10-4 10-2 10 0 10 2 10 3 10 5 10 6 10 9 10 9 10 11 10 11 10 13 10 14 20 30 20 33 20 34 20 32 20 29 20 24 20 20 20 17 20 13 20 9 20 7 20 7 20 9 20 15 20 22 20 23 20 29 20 40 20 49 20 48 10 24 10 23 3 6 12 29 5 12 7 17 13 28 13 26 7 15 5 9 12 22 3 4 10 15 10 13 3 2 12 11 5 3 7 6 13 8 13 8 7 5 5 3 12 7 3 1 10 4 10 3 3 1 12 7 5 5 7 11 13 23 13 33 7 22 5 15 12 37 3 7 10 26 10 22 3 6 12 28 5 12 7 18 13 33 13 34 7 20 5 14 12 33 3 7 10 27 10 28 3 7 10 31" stroke="#D95319"/>
<path d="M3837 2085l20 1 20 0 20 0 20 0 20 0 20 0 20-1 20-1 20-4 20-6 20-10 20-13 20-15 20-9 20-2 20 0 20 2 20 2 20 3 20 5 20 4 20 4 20 3 20 4 20 3 20 4 20 3 20 3 20 2 20 3 20 3 20 2 20 2 20 2 20 0 20-2 20-7 20-10 20-14 20-18 20-22 20-24 20-28 20-26 20-22 20-20 20-19 20-16 20-15 20-12 20-11 20-9 20-8 20-7 20-5 20-2 20 2 20 6 20 9 20 13 20 14 20 14 20 13 20 13 20 12 20 13 20 12 20 10 20 9 20 9 20 6 20 3 20-3 20-8 20-13 20-22 20-31 20-39 20-49 20-53 20-56 20-55 10-26 10-25 10-23 10-20 10-17 10-13 10-11 10-9 10-11 10-14 10-22 10-30 10-36 10-42 10-47 10-52 10-57 10-63 10-67 10-73 10-80 10-86 10-90 10-91 10-90 10-83 10-71 10-57 10-44 10-32 10-24 10-18 10-13 10-10 10-7 10-6 10-5 10-3 10-2 10 1 10 2 10 5 10 6 10 8 10 9 10 11 10 12 10 14 10 14 10 15 20 32 20 33 20 33 20 32 20 28 20 22 20 17 20 15 20 12 20 10 20 10 20 9 20 11 20 13 20 16 20 20 20 24 20 33 20 41 20 43 10 21 10 22 3 6 12 27 5 11 7 16 13 27 13 25 7 15 5 9 12 21 3 4 10 13 10 10 3 1 12 5 5 1 7-1 13-3 13-5 7-3 5-3 12-8 3-2 10-6 10-6 3 0 12 0 5 3 7 7 13 19 13 25 7 19 5 13 12 34 3 7 10 26 10 26 3 6 12 36 5 15 7 25 13 44 13 45 7 26 5 17 12 42 3 8 10 33 10 35 3 9 10 41" stroke="#EDB120"/>
<path d="M3837 1945l20 10 20 9 20 9 20 9 20 8 20 7 20 7 20 5 20 4 20 0 20-5 20-7 20-8 20-5 20 2 20 4 20 5 20 5 20 6 20 7 20 7 20 6 20 6 20 5 20 5 20 5 20 5 20 4 20 4 20 4 20 3 20 3 20 3 20 2 20 0 20-2 20-8 20-11 20-14 20-21 20-23 20-27 20-30 20-29 20-27 20-25 20-24 20-22 20-21 20-19 20-18 20-17 20-14 20-10 20-7 20-2 20 2 20 5 20 9 20 13 20 16 20 16 20 17 20 15 20 14 20 13 20 12 20 11 20 11 20 10 20 8 20 4 20-2 20-6 20-11 20-20 20-28 20-38 20-46 20-50 20-54 20-52 10-26 10-25 10-24 10-21 10-16 10-13 10-10 10-9 10-11 10-14 10-23 10-31 10-39 10-45 10-49 10-55 10-59 10-65 10-69 10-75 10-82 10-87 10-91 10-91 10-88 10-79 10-66 10-52 10-38 10-28 10-21 10-15 10-12 10-10 10-7 10-5 10-5 10-4 10-1 10 0 10 2 10 4 10 5 10 8 10 8 10 11 10 11 10 12 10 14 10 14 20 31 20 34 20 35 20 32 20 29 20 24 20 20 20 16 20 13 20 10 20 9 20 8 20 10 20 17 20 23 20 27 20 32 20 42 20 48 20 48 10 24 10 24 3 5 12 30 5 11 7 17 13 27 13 25 7 14 5 9 12 21 3 4 10 14 10 12 3 2 12 13 5 4 7 6 13 8 13 6 7 2 5 2 12 3 3 0 10 3 10 3 3 1 12 8 5 6 7 10 13 25 13 33 7 22 5 16 12 38 3 7 10 26 10 22 3 6 12 28 5 12 7 19 13 33 13 34 7 21 5 15 12 36 3 8 10 31 10 34 3 9 10 38" stroke="#7E2F8E"/>
<path d="M3837 2093l20 2 20 1 20 1 20 1 20 0 20 0 20 0 20-2 20-4 20-7 20-10 20-13 20-16 20-11 20-2 20-1 20 0 20 0 20 2 20 2 20 2 20 2 20 2 20 1 20 2 20 2 20 1 20 2 20 1 20 2 20 2 20 2 20 1 20 2 20 0 20-3 20-6 20-10 20-14 20-19 20-22 20-24 20-27 20-26 20-24 20-21 20-19 20-18 20-15 20-14 20-12 20-10 20-10 20-6 20-5 20-2 20 1 20 6 20 9 20 12 20 14 20 14 20 13 20 13 20 12 20 11 20 11 20 9 20 9 20 9 20 7 20 3 20-3 20-6 20-12 20-20 20-30 20-38 20-46 20-52 20-54 20-54 10-26 10-25 10-24 10-20 10-17 10-13 10-11 10-9 10-11 10-15 10-22 10-32 10-38 10-45 10-49 10-55 10-60 10-65 10-70 10-76 10-83 10-88 10-92 10-93 10-89 10-81 10-67 10-53 10-39 10-29 10-21 10-16 10-12 10-9 10-8 10-6 10-5 10-3 10-2 10 0 10 3 10 4 10 6 10 7 10 9 10 11 10 12 10 13 10 14 10 15 20 33 20 35 20 36 20 34 20 31 20 25 20 20 20 17 20 13 20 12 20 10 20 9 20 11 20 14 20 18 20 21 20 25 20 34 20 43 20 44 10 22 10 22 3 5 12 28 5 11 7 16 13 27 13 25 7 15 5 9 12 21 3 4 10 14 10 11 3 2 12 6 5 1 7 1 13 1 13-1 7-1 5-1 12-3 3-1 10-4 10-3 3 0 12 1 5 3 7 8 13 19 13 25 7 19 5 13 12 33 3 6 10 25 10 23 3 6 12 31 5 14 7 22 13 40 13 41 7 24 5 15 12 38 3 7 10 29 10 31 3 8 10 35" stroke="#77AC30"/>
<path d="M3837 1946l20 9 20 8 20 8 20 7 20 7 20 7 20 5 20 4 20 3 20-2 20-5 20-8 20-8 20-5 20 0 20 3 20 4 20 4 20 5 20 6 20 5 20 4 20 5 20 4 20 4 20 4 20 4 20 3 20 3 20 3 20 3 20 3 20 3 20 2 20 0 20-2 20-7 20-9 20-14 20-20 20-23 20-24 20-27 20-27 20-25 20-23 20-20 20-18 20-17 20-15 20-13 20-12 20-10 20-6 20-4 20-1 20 3 20 7 20 10 20 14 20 16 20 17 20 16 20 15 20 15 20 14 20 13 20 12 20 11 20 10 20 8 20 4 20-2 20-8 20-12 20-22 20-30 20-40 20-48 20-53 20-55 20-54 10-26 10-26 10-23 10-21 10-17 10-13 10-11 10-9 10-10 10-15 10-22 10-30 10-38 10-42 10-47 10-53 10-57 10-61 10-67 10-72 10-78 10-84 10-87 10-89 10-87 10-81 10-68 10-55 10-42 10-31 10-22 10-18 10-12 10-10 10-7 10-5 10-5 10-3 10-2 10 1 10 3 10 4 10 7 10 8 10 9 10 11 10 13 10 14 10 14 10 16 20 32 20 33 20 33 20 32 20 28 20 22 20 17 20 14 20 12 20 12 20 10 20 11 20 11 20 13 20 16 20 18 20 23 20 32 20 39 20 42 10 21 10 21 3 5 12 27 5 11 7 16 13 26 13 25 7 15 5 9 12 21 3 4 10 14 10 10 3 2 12 6 5 1 7 1 13 0 13-2 7-1 5-2 12-5 3-1 10-4 10-4 3-1 12 2 5 3 7 6 13 18 13 25 7 17 5 13 12 31 3 6 10 23 10 21 3 6 12 29 5 13 7 21 13 38 13 38 7 22 5 14 12 33 3 6 10 23 10 23 3 6 10 26" stroke="#4DBEEE"/>
<path d="M3837 1953l20 5 20 6 20 5 20 5 20 6 20 4 20 4 20 4 20 2 20-2 20-5 20-8 20-7 20-5 20 0 20 4 20 4 20 5 20 5 20 6 20 5 20 5 20 5 20 5 20 4 20 5 20 4 20 4 20 3 20 3 20 3 20 4 20 2 20 2 20 1 20-3 20-6 20-10 20-13 20-20 20-22 20-24 20-27 20-26 20-24 20-22 20-20 20-18 20-15 20-15 20-13 20-11 20-10 20-7 20-4 20-3 20 2 20 5 20 8 20 12 20 13 20 14 20 13 20 12 20 11 20 11 20 9 20 8 20 8 20 8 20 6 20 3 20-3 20-6 20-11 20-19 20-28 20-36 20-46 20-50 20-52 20-52 10-26 10-25 10-24 10-20 10-17 10-13 10-10 10-9 10-10 10-14 10-22 10-31 10-38 10-43 10-47 10-52 10-57 10-60 10-65 10-71 10-77 10-81 10-86 10-86 10-84 10-78 10-67 10-53 10-41 10-30 10-22 10-17 10-12 10-9 10-7 10-5 10-4 10-4 10-1 10 0 10 3 10 5 10 6 10 8 10 9 10 11 10 12 10 13 10 14 10 15 20 30 20 31 20 31 20 30 20 27 20 21 20 16 20 13 20 12 20 10 20 10 20 10 20 11 20 16 20 21 20 25 20 30 20 37 20 44 20 44 10 23 10 23 3 5 12 28 5 11 7 17 13 26 13 24 7 14 5 9 12 20 3 4 10 13 10 11 3 3 12 10 5 3 7 5 13 4 13 2 7 1 5-1 12-1 3 0 10-1 10 0 3 1 12 6 5 5 7 10 13 23 13 31 7 22 5 15 12 38 3 7 10 26 10 25 3 6 12 31 5 14 7 21 13 37 13 39 7 24 5 16 12 41 3 8 10 35 10 38 3 11 10 44" stroke="#A2142F"/>
<path d="M3837 2000l20 3 20 3 20 3 20 3 20 3 20 3 20 2 20 2 20-1 20-3 20-7 20-9 20-9 20-7 20 0 20 3 20 4 20 4 20 5 20 5 20 6 20 5 20 4 20 5 20 4 20 5 20 3 20 4 20 3 20 4 20 3 20 3 20 2 20 2 20 1 20-3 20-7 20-9 20-14 20-20 20-22 20-25 20-27 20-27 20-25 20-22 20-20 20-19 20-16 20-15 20-14 20-12 20-10 20-8 20-5 20-2 20 1 20 5 20 8 20 12 20 14 20 14 20 13 20 13 20 11 20 11 20 10 20 9 20 9 20 8 20 7 20 3 20-1 20-5 20-9 20-17 20-26 20-34 20-44 20-49 20-51 20-51 10-25 10-24 10-22 10-19 10-16 10-13 10-10 10-9 10-10 10-14 10-22 10-30 10-36 10-42 10-47 10-53 10-58 10-62 10-68 10-74 10-80 10-86 10-91 10-91 10-90 10-83 10-71 10-57 10-42 10-32 10-23 10-18 10-13 10-10 10-7 10-6 10-5 10-4 10-1 10 0 10 3 10 4 10 6 10 7 10 9 10 11 10 11 10 13 10 14 10 15 20 31 20 32 20 33 20 31 20 28 20 23 20 17 20 15 20 13 20 10 20 9 20 9 20 11 20 16 20 22 20 25 20 32 20 39 20 45 20 46 10 23 10 23 3 6 12 29 5 11 7 16 13 26 13 25 7 14 5 9 12 20 3 3 10 13 10 10 3 3 12 8 5 2 7 2 13 0 13-3 7-3 5-3 12-8 3-2 10-6 10-5 3-1 12 1 5 2 7 7 13 16 13 24 7 18 5 12 12 30 3 6 10 23 10 21 3 6 12 29 5 14 7 21 13 39 13 39 7 24 5 15 12 37 3 7 10 28 10 29 3 8 10 35" stroke="#0072BD"/>
<path d="M3837 2021l20 13 20 12 20 10 20 9 20 7 20 7 20 4 20 3 20-1 20-4 20-8 20-12 20-15 20-11 20-2 20-1 20 0 20 0 20 2 20 2 20 3 20 2 20 1 20 2 20 1 20 2 20 2 20 1 20 2 20 2 20 1 20 2 20 2 20 1 20 1 20-3 20-7 20-9 20-14 20-19 20-22 20-25 20-27 20-26 20-24 20-22 20-19 20-18 20-15 20-14 20-12 20-11 20-9 20-6 20-5 20-2 20 3 20 6 20 9 20 14 20 15 20 14 20 15 20 13 20 13 20 13 20 12 20 10 20 10 20 10 20 7 20 4 20-3 20-7 20-13 20-23 20-31 20-40 20-48 20-54 20-56 20-54 10-27 10-25 10-24 10-21 10-17 10-13 10-11 10-9 10-11 10-14 10-22 10-31 10-38 10-44 10-49 10-54 10-58 10-64 10-69 10-74 10-81 10-87 10-90 10-91 10-88 10-80 10-68 10-53 10-40 10-29 10-22 10-16 10-12 10-9 10-7 10-6 10-4 10-3 10-2 10 1 10 3 10 5 10 6 10 9 10 9 10 12 10 12 10 14 10 15 10 16 20 34 20 35 20 35 20 33 20 30 20 24 20 19 20 15 20 13 20 12 20 12 20 11 20 12 20 16 20 19 20 24 20 29 20 35 20 42 20 43 10 22 10 22 3 6 12 27 5 11 7 16 13 26 13 24 7 14 5 8 12 20 3 4 10 12 10 10 3 2 12 8 5 1 7 2 13-2 13-5 7-4 5-3 12-9 3-2 10-7 10-4 3 0 12 2 5 3 7 8 13 21 13 28 7 20 5 15 12 37 3 7 10 29 10 28 3 7 12 38 5 16 7 27 13 46 13 49 7 30 5 20 12 51 3 11 10 45 10 51 3 14 10 62" stroke="#D95319"/>
<path d="M3837 2001l20 6 20 6 20 5 20 5 20 5 20 5 20 3 20 3 20 1 20-3 20-7 20-9 20-11 20-7 20 0 20 2 20 4 20 4 20 5 20 5 20 6 20 5 20 5 20 4 20 5 20 4 20 4 20 4 20 3 20 3 20 4 20 2 20 3 20 2 20 0 20-3 20-7 20-10 20-14 20-20 20-23 20-26 20-29 20-28 20-26 20-23 20-22 20-20 20-19 20-17 20-15 20-15 20-12 20-8 20-6 20-3 20 2 20 6 20 8 20 12 20 15 20 15 20 14 20 14 20 13 20 12 20 12 20 10 20 10 20 11 20 8 20 4 20 0 20-4 20-8 20-18 20-26 20-35 20-44 20-49 20-52 20-52 10-25 10-24 10-21 10-20 10-16 10-12 10-10 10-9 10-10 10-14 10-22 10-29 10-36 10-41 10-46 10-51 10-57 10-62 10-66 10-73 10-79 10-86 10-89 10-92 10-90 10-84 10-73 10-58 10-44 10-33 10-25 10-18 10-14 10-10 10-8 10-6 10-4 10-4 10-2 10 1 10 3 10 4 10 7 10 7 10 10 10 11 10 12 10 14 10 14 10 15 20 32 20 32 20 32 20 32 20 27 20 22 20 16 20 14 20 11 20 11 20 9 20 9 20 9 20 13 20 17 20 20 20 24 20 34 20 42 20 43 10 22 10 22 3 6 12 27 5 11 7 16 13 27 13 25 7 15 5 9 12 22 3 4 10 14 10 12 3 3 12 9 5 3 7 4 13 6 13 6 7 3 5 2 12 4 3 0 10 2 10 1 3 1 12 6 5 4 7 10 13 22 13 31 7 21 5 15 12 37 3 7 10 26 10 23 3 6 12 30 5 13 7 21 13 36 13 38 7 22 5 16 12 38 3 7 10 32 10 33 3 9 10 38" stroke="#EDB120"/>
<path d="M3837 2090l20 2 20 1 20 1 20 0 20 0 20 0 20 0 20-2 20-4 20-7 20-10 20-14 20-15 20-11 20-2 20 0 20 0 20 2 20 2 20 4 20 3 20 3 20 3 20 2 20 3 20 3 20 2 20 2 20 2 20 2 20 2 20 2 20 2 20 1 20 0 20-3 20-8 20-11 20-14 20-21 20-23 20-26 20-29 20-28 20-26 20-25 20-22 20-21 20-19 20-17 20-17 20-14 20-13 20-9 20-6 20-2 20 2 20 5 20 9 20 12 20 15 20 15 20 16 20 14 20 13 20 12 20 11 20 10 20 10 20 10 20 7 20 4 20-2 20-5 20-10 20-18 20-27 20-36 20-44 20-50 20-52 20-52 10-26 10-24 10-24 10-20 10-16 10-13 10-10 10-10 10-10 10-15 10-23 10-31 10-40 10-45 10-50 10-56 10-61 10-66 10-71 10-78 10-84 10-90 10-93 10-94 10-90 10-81 10-66 10-52 10-38 10-27 10-21 10-15 10-12 10-9 10-8 10-6 10-5 10-3 10-2 10 0 10 2 10 3 10 5 10 7 10 9 10 10 10 11 10 12 10 13 10 14 20 32 20 35 20 36 20 34 20 30 20 26 20 21 20 18 20 14 20 10 20 9 20 9 20 10 20 17 20 22 20 25 20 30 20 40 20 48 20 47 10 23 10 24 3 5 12 29 5 12 7 16 13 28 13 25 7 14 5 10 12 20 3 4 10 14 10 11 3 2 12 8 5 2 7 2 13 2 13 0 7-2 5-1 12-3 3-1 10-3 10-2 3 0 12 3 5 3 7 8 13 20 13 26 7 19 5 13 12 33 3 6 10 23 10 22 3 5 12 29 5 13 7 20 13 37 13 37 7 22 5 15 12 34 3 7 10 26 10 26 3 7 10 31" stroke="#7E2F8E"/>
<path d="M3837 1980l20 7 20 7 20 6 20 5 20 6 20 4 20 5 20 2 20 1 20-2 20-6 20-9 20-10 20-6 20 0 20 2 20 3 20 4 20 5 20 5 20 6 20 4 20 5 20 4 20 4 20 4 20 4 20 3 20 3 20 3 20 3 20 3 20 3 20 2 20 0 20-3 20-6 20-10 20-15 20-19 20-23 20-26 20-28 20-27 20-26 20-23 20-22 20-19 20-18 20-17 20-15 20-14 20-12 20-8 20-6 20-2 20 2 20 6 20 9 20 13 20 16 20 16 20 15 20 16 20 14 20 13 20 12 20 11 20 11 20 10 20 8 20 4 20-2 20-6 20-11 20-19 20-28 20-37 20-46 20-51 20-53 20-53 10-25 10-25 10-23 10-20 10-17 10-13 10-10 10-9 10-11 10-14 10-22 10-31 10-38 10-43 10-48 10-54 10-58 10-64 10-69 10-74 10-81 10-87 10-90 10-91 10-89 10-81 10-69 10-54 10-40 10-30 10-23 10-16 10-13 10-9 10-8 10-6 10-4 10-4 10-2 10 1 10 2 10 4 10 5 10 7 10 9 10 9 10 11 10 12 10 13 10 14 20 29 20 32 20 32 20 30 20 27 20 23 20 18 20 15 20 12 20 9 20 7 20 7 20 9 20 16 20 23 20 24 20 31 20 41 20 49 20 48 10 24 10 23 3 6 12 30 5 11 7 17 13 28 13 26 7 14 5 9 12 22 3 3 10 14 10 12 3 2 12 9 5 2 7 3 13 3 13 1 7 0 5-1 12-2 3 0 10-2 10-1 3 0 12 4 5 4 7 9 13 21 13 28 7 20 5 14 12 35 3 7 10 25 10 24 3 6 12 30 5 13 7 22 13 37 13 39 7 23 5 15 12 37 3 8 10 30 10 31 3 8 10 37" stroke="#77AC30"/>
<path d="M3837 1952l20 10 20 8 20 8 20 8 20 7 20 6 20 6 20 4 20 2 20-1 20-6 20-8 20-8 20-6 20 0 20 3 20 3 20 4 20 5 20 6 20 5 20 4 20 5 20 4 20 4 20 4 20 4 20 4 20 3 20 3 20 3 20 3 20 2 20 2 20 1 20-3 20-6 20-9 20-13 20-18 20-21 20-24 20-25 20-24 20-22 20-19 20-17 20-14 20-12 20-10 20-9 20-7 20-6 20-5 20-4 20-2 20 2 20 6 20 9 20 12 20 14 20 13 20 12 20 12 20 12 20 11 20 10 20 9 20 8 20 7 20 6 20 1 20-4 20-8 20-14 20-22 20-31 20-39 20-49 20-53 20-55 20-54 10-26 10-25 10-24 10-20 10-17 10-13 10-11 10-9 10-10 10-15 10-22 10-30 10-38 10-42 10-48 10-53 10-58 10-63 10-69 10-74 10-80 10-86 10-90 10-92 10-89 10-81 10-70 10-55 10-41 10-31 10-22 10-18 10-12 10-10 10-7 10-6 10-5 10-3 10-2 10 0 10 3 10 4 10 6 10 8 10 9 10 11 10 12 10 13 10 14 10 15 20 32 20 34 20 34 20 32 20 29 20 23 20 18 20 15 20 13 20 11 20 10 20 10 20 11 20 14 20 19 20 22 20 26 20 36 20 42 20 43 10 22 10 22 3 5 12 28 5 10 7 16 13 26 13 25 7 14 5 9 12 19 3 4 10 13 10 9 3 1 12 4 5 0 7-1 13-6 13-7 7-6 5-4 12-11 3-3 10-9 10-7 3-2 12-1 5 1 7 6 13 16 13 22 7 17 5 12 12 31 3 6 10 25 10 25 3 6 12 35 5 16 7 25 13 46 13 46 7 27 5 18 12 43 3 8 10 33 10 35 3 9 10 42" stroke="#4DBEEE"/>
<path d="M3837 1978l20 7 20 6 20 6 20 5 20 6 20 4 20 4 20 3 20 1 20-3 20-6 20-9 20-10 20-6 20-1 20 2 20 3 20 3 20 4 20 5 20 4 20 4 20 4 20 3 20 4 20 3 20 3 20 3 20 3 20 3 20 3 20 2 20 3 20 1 20 1 20-3 20-6 20-9 20-14 20-19 20-22 20-24 20-26 20-26 20-23 20-22 20-19 20-17 20-15 20-13 20-11 20-11 20-9 20-6 20-4 20-2 20 1 20 6 20 8 20 13 20 14 20 14 20 13 20 13 20 12 20 11 20 11 20 9 20 9 20 9 20 7 20 3 20 0 20-5 20-8 20-17 20-25 20-34 20-43 20-49 20-52 20-51 10-24 10-24 10-21 10-19 10-16 10-13 10-10 10-10 10-10 10-14 10-22 10-30 10-37 10-42 10-47 10-54 10-58 10-64 10-70 10-76 10-83 10-89 10-93 10-95 10-92 10-86 10-72 10-57 10-44 10-32 10-23 10-18 10-14 10-10 10-9 10-6 10-6 10-4 10-2 10 0 10 1 10 4 10 5 10 7 10 8 10 10 10 11 10 11 10 13 10 14 20 31 20 33 20 33 20 32 20 29 20 24 20 19 20 17 20 13 20 9 20 8 20 8 20 9 20 18 20 25 20 28 20 35 20 45 20 49 20 50 10 24 10 24 3 6 12 30 5 11 7 17 13 27 13 25 7 14 5 8 12 20 3 4 10 13 10 11 3 3 12 10 5 4 7 4 13 4 13 1 7 0 5-1 12-3 3-1 10-2 10-2 3 0 12 4 5 4 7 8 13 20 13 27 7 20 5 13 12 34 3 6 10 24 10 22 3 6 12 29 5 12 7 21 13 36 13 38 7 23 5 15 12 38 3 8 10 31 10 34 3 8 10 40" stroke="#A2142F"/>
<path d="M3837 2009l20 5 20 5 20 5 20 4 20 4 20 4 20 3 20 1 20 0 20-4 20-7 20-10 20-11 20-8 20 0 20 1 20 3 20 3 20 3 20 5 20 4 20 4 20 4 20 3 20 4 20 3 20 3 20 3 20 3 20 3 20 2 20 3 20 2 20 2 20 0 20-2 20-7 20-10 20-14 20-19 20-23 20-25 20-27 20-27 20-25 20-22 20-21 20-18 20-17 20-15 20-13 20-13 20-10 20-8 20-5 20-2 20 2 20 5 20 9 20 12 20 14 20 15 20 14 20 14 20 12 20 12 20 11 20 10 20 9 20 9 20 7 20 4 20-2 20-7 20-11 20-21 20-29 20-37 20-47 20-51 20-54 20-53 10-26 10-26 10-23 10-21 10-17 10-13 10-10 10-9 10-10 10-15 10-22 10-31 10-39 10-43 10-49 10-54 10-58 10-64 10-68 10-74 10-81 10-85 10-90 10-90 10-87 10-80 10-67 10-52 10-40 10-29 10-22 10-16 10-12 10-9 10-7 10-6 10-4 10-4 10-2 10 1 10 2 10 4 10 6 10 7 10 9 10 10 10 12 10 12 10 14 10 14 20 31 20 32 20 33 20 32 20 28 20 22 20 19 20 15 20 12 20 9 20 8 20 7 20 9 20 15 20 20 20 22 20 27 20 38 20 46 20 47 10 22 10 23 3 6 12 29 5 11 7 17 13 27 13 25 7 15 5 9 12 21 3 4 10 13 10 10 3 2 12 5 5 1 7 0 13-2 13-4 7-3 5-2 12-7 3-2 10-6 10-4 3-1 12 2 5 3 7 7 13 19 13 27 7 18 5 14 12 35 3 7 10 26 10 26 3 7 12 34 5 16 7 24 13 44 13 44 7 26 5 18 12 42 3 8 10 33 10 36 3 9 10 42" stroke="#0072BD"/>
<path d="M3837 1964l20 7 20 7 20 7 20 6 20 6 20 6 20 5 20 3 20 2 20-2 20-6 20-8 20-9 20-6 20 1 20 3 20 4 20 4 20 6 20 6 20 6 20 5 20 6 20 5 20 4 20 5 20 4 20 4 20 4 20 3 20 4 20 3 20 3 20 2 20 0 20-3 20-6 20-10 20-14 20-20 20-22 20-26 20-27 20-28 20-24 20-23 20-21 20-19 20-17 20-16 20-14 20-13 20-11 20-7 20-6 20-2 20 2 20 5 20 8 20 12 20 14 20 15 20 13 20 14 20 12 20 11 20 11 20 9 20 10 20 9 20 8 20 3 20 0 20-3 20-8 20-16 20-24 20-34 20-42 20-48 20-52 20-50 10-25 10-23 10-22 10-19 10-15 10-13 10-10 10-10 10-10 10-15 10-21 10-31 10-36 10-42 10-48 10-54 10-59 10-65 10-70 10-76 10-83 10-90 10-93 10-95 10-93 10-85 10-73 10-56 10-43 10-32 10-23 10-18 10-13 10-11 10-8 10-6 10-5 10-4 10-1 10 0 10 2 10 5 10 5 10 8 10 9 10 10 10 12 10 13 10 14 10 15 20 33 20 34 20 36 20 33 20 30 20 25 20 20 20 16 20 14 20 12 20 11 20 11 20 12 20 17 20 22 20 25 20 31 20 39 20 44 20 45 10 23 10 22 3 6 12 28 5 11 7 16 13 26 13 25 7 14 5 9 12 19 3 4 10 12 10 11 3 2 12 8 5 2 7 2 13 0 13-3 7-3 5-3 12-7 3-2 10-5 10-4 3 0 12 3 5 4 7 8 13 20 13 28 7 20 5 14 12 35 3 7 10 26 10 24 3 7 12 33 5 14 7 24 13 41 13 43 7 26 5 17 12 43 3 9 10 37 10 39 3 11 10 47" stroke="#D95319"/>
<path d="M3837 2038l20 7 20 6 20 5 20 5 20 3 20 4 20 2 20 1 20-2 20-4 20-9 20-11 20-14 20-9 20-2 20 0 20 1 20 2 20 3 20 4 20 3 20 4 20 3 20 2 20 3 20 3 20 3 20 2 20 3 20 2 20 2 20 3 20 2 20 1 20 0 20-2 20-7 20-10 20-13 20-19 20-22 20-25 20-27 20-26 20-24 20-21 20-19 20-17 20-16 20-13 20-12 20-10 20-9 20-6 20-5 20-2 20 3 20 6 20 9 20 14 20 15 20 14 20 15 20 13 20 14 20 13 20 12 20 11 20 10 20 10 20 7 20 4 20-3 20-8 20-13 20-23 20-32 20-41 20-50 20-55 20-57 20-55 10-27 10-26 10-25 10-21 10-18 10-14 10-11 10-10 10-11 10-16 10-23 10-32 10-40 10-45 10-51 10-56 10-62 10-66 10-72 10-78 10-84 10-90 10-93 10-93 10-90 10-80 10-66 10-51 10-37 10-27 10-21 10-15 10-11 10-10 10-7 10-6 10-5 10-3 10-2 10 0 10 2 10 3 10 5 10 7 10 9 10 10 10 11 10 12 10 13 10 14 20 32 20 35 20 35 20 34 20 30 20 26 20 21 20 18 20 14 20 10 20 9 20 8 20 11 20 17 20 22 20 25 20 30 20 41 20 47 20 48 10 23 10 24 3 5 12 29 5 12 7 16 13 27 13 26 7 14 5 9 12 21 3 4 10 14 10 10 3 2 12 8 5 2 7 2 13 2 13-1 7-1 5-1 12-4 3-1 10-3 10-3 3 0 12 3 5 4 7 8 13 20 13 27 7 20 5 13 12 34 3 7 10 25 10 23 3 6 12 31 5 14 7 22 13 38 13 40 7 24 5 15 12 38 3 7 10 30 10 32 3 8 10 37" stroke="#EDB120"/>
<path d="M3837 2092l20 2 20 2 20 0 20 1 20 0 20 0 20 0 20-1 20-5 20-6 20-10 20-14 20-15 20-11 20-2 20 0 20 0 20 1 20 2 20 4 20 3 20 3 20 2 20 2 20 3 20 2 20 2 20 2 20 2 20 2 20 2 20 2 20 1 20 1 20 0 20-3 20-8 20-10 20-14 20-20 20-23 20-26 20-28 20-27 20-25 20-23 20-21 20-19 20-18 20-16 20-14 20-14 20-11 20-9 20-6 20-3 20 1 20 4 20 7 20 11 20 13 20 13 20 12 20 12 20 11 20 9 20 9 20 8 20 8 20 8 20 6 20 3 20 0 20-4 20-7 20-15 20-23 20-32 20-41 20-47 20-49 20-49 10-24 10-23 10-21 10-18 10-15 10-12 10-9 10-9 10-9 10-14 10-20 10-29 10-35 10-40 10-46 10-50 10-56 10-60 10-66 10-72 10-78 10-84 10-88 10-91 10-89 10-84 10-73 10-59 10-45 10-34 10-25 10-19 10-13 10-11 10-7 10-6 10-4 10-4 10-2 10 1 10 3 10 5 10 7 10 8 10 10 10 11 10 13 10 14 10 15 10 16 20 32 20 33 20 33 20 32 20 28 20 21 20 16 20 14 20 12 20 12 20 11 20 12 20 12 20 14 20 17 20 22 20 26 20 33 20 38 20 41 10 21 10 21 3 5 12 27 5 10 7 15 13 25 13 24 7 13 5 8 12 19 3 4 10 12 10 9 3 1 12 4 5 0 7-2 13-5 13-9 7-7 5-5 12-13 3-2 10-11 10-7 3-2 12-2 5 2 7 6 13 15 13 22 7 16 5 12 12 30 3 6 10 24 10 24 3 6 12 34 5 16 7 25 13 44 13 46 7 27 5 18 12 41 3 8 10 32 10 33 3 9 10 41" stroke="#7E2F8E"/>
<path d="M3837 2019l20 10 20 8 20 8 20 6 20 5 20 4 20 3 20 1 20-1 20-4 20-8 20-12 20-13 20-9 20-1 20 0 20 0 20 1 20 2 20 2 20 2 20 2 20 2 20 2 20 1 20 2 20 2 20 1 20 2 20 2 20 1 20 2 20 2 20 1 20 1 20-3 20-6 20-9 20-14 20-19 20-22 20-24 20-25 20-26 20-24 20-21 20-19 20-16 20-15 20-13 20-11 20-10 20-9 20-6 20-4 20-2 20 2 20 6 20 8 20 13 20 14 20 14 20 13 20 13 20 12 20 12 20 11 20 9 20 9 20 9 20 8 20 3 20-1 20-4 20-9 20-17 20-25 20-35 20-43 20-49 20-52 20-51 10-25 10-23 10-22 10-19 10-16 10-12 10-11 10-9 10-11 10-14 10-22 10-31 10-36 10-43 10-48 10-54 10-60 10-65 10-71 10-78 10-84 10-91 10-95 10-96 10-94 10-86 10-72 10-57 10-43 10-31 10-23 10-18 10-13 10-10 10-9 10-6 10-5 10-4 10-2 10 0 10 3 10 4 10 5 10 8 10 9 10 10 10 12 10 13 10 14 10 14 20 33 20 36 20 35 20 35 20 30 20 25 20 21 20 16 20 14 20 11 20 10 20 9 20 11 20 15 20 20 20 22 20 28 20 37 20 44 20 45 10 23 10 22 3 6 12 28 5 11 7 16 13 27 13 25 7 14 5 9 12 21 3 3 10 14 10 10 3 1 12 6 5 1 7 1 13-1 13-4 7-3 5-3 12-7 3-2 10-6 10-6 3-1 12 0 5 2 7 6 13 16 13 23 7 16 5 12 12 30 3 6 10 22 10 21 3 6 12 30 5 13 7 22 13 39 13 40 7 23 5 15 12 35 3 6 10 25 10 25 3 7 10 29" stroke="#77AC30"/>
<path d="M3837 2020l20 6 20 5 20 5 20 3 20 4 20 4 20 2 20 1 20 0 20-4 20-8 20-11 20-12 20-8 20-1 20 2 20 2 20 3 20 3 20 5 20 4 20 4 20 4 20 4 20 3 20 4 20 3 20 3 20 3 20 2 20 3 20 3 20 2 20 1 20 1 20-3 20-6 20-10 20-13 20-18 20-21 20-24 20-26 20-26 20-22 20-19 20-17 20-16 20-13 20-11 20-9 20-8 20-7 20-5 20-5 20-2 20 2 20 6 20 10 20 13 20 14 20 14 20 13 20 13 20 12 20 13 20 12 20 10 20 9 20 9 20 7 20 3 20-2 20-7 20-12 20-21 20-30 20-39 20-47 20-53 20-55 20-54 10-26 10-25 10-22 10-20 10-17 10-13 10-11 10-11 10-11 10-14 10-23 10-30 10-38 10-42 10-49 10-54 10-60 10-66 10-71 10-78 10-84 10-91 10-94 10-96 10-94 10-85 10-72 10-56 10-42 10-31 10-23 10-17 10-14 10-10 10-8 10-6 10-5 10-4 10-2 10 0 10 3 10 3 10 6 10 7 10 9 10 10 10 11 10 12 10 14 10 14 20 32 20 34 20 35 20 34 20 29 20 25 20 20 20 17 20 14 20 10 20 9 20 8 20 11 20 16 20 21 20 24 20 29 20 40 20 46 20 46 10 24 10 23 3 5 12 29 5 11 7 17 13 27 13 25 7 14 5 9 12 21 3 4 10 13 10 10 3 2 12 6 5 1 7 0 13-1 13-4 7-4 5-2 12-8 3-2 10-6 10-5 3 0 12 1 5 2 7 7 13 18 13 25 7 18 5 12 12 32 3 7 10 24 10 23 3 6 12 31 5 14 7 23 13 40 13 41 7 24 5 16 12 37 3 8 10 28 10 29 3 8 10 34" stroke="#4DBEEE"/>
<path d="M3837 2040l20 3 20 4 20 2 20 3 20 2 20 2 20 1 20 0 20-2 20-5 20-9 20-11 20-13 20-9 20-1 20 0 20 2 20 2 20 3 20 4 20 4 20 3 20 3 20 4 20 3 20 3 20 3 20 2 20 3 20 2 20 3 20 2 20 2 20 2 20 0 20-2 20-7 20-9 20-14 20-19 20-22 20-24 20-27 20-26 20-24 20-21 20-19 20-17 20-16 20-13 20-12 20-11 20-9 20-6 20-5 20-3 20 2 20 5 20 8 20 11 20 14 20 12 20 12 20 12 20 11 20 9 20 9 20 8 20 8 20 7 20 6 20 3 20-2 20-6 20-10 20-19 20-27 20-36 20-45 20-49 20-53 20-52 10-25 10-25 10-23 10-20 10-16 10-13 10-10 10-9 10-10 10-15 10-22 10-31 10-37 10-43 10-48 10-53 10-57 10-63 10-68 10-73 10-80 10-85 10-89 10-91 10-88 10-80 10-69 10-55 10-41 10-30 10-23 10-17 10-12 10-10 10-7 10-5 10-5 10-4 10-1 10 0 10 3 10 4 10 6 10 7 10 10 10 10 10 12 10 13 10 14 10 15 20 31 20 33 20 33 20 32 20 28 20 22 20 18 20 15 20 12 20 11 20 9 20 9 20 11 20 15 20 20 20 24 20 28 20 38 20 44 20 45 10 22 10 23 3 5 12 28 5 11 7 17 13 26 13 25 7 14 5 9 12 20 3 4 10 13 10 11 3 2 12 8 5 2 7 3 13 1 13-1 7-2 5-1 12-5 3-1 10-4 10-4 3 0 12 1 5 3 7 7 13 18 13 25 7 17 5 12 12 32 3 6 10 22 10 21 3 6 12 28 5 13 7 21 13 37 13 38 7 23 5 14 12 35 3 7 10 25 10 27 3 7 10 31" stroke="#A2142F"/>
<path d="M3837 2012l20 6 20 5 20 5 20 4 20 4 20 4 20 3 20 2 20-1 20-3 20-7 20-10 20-11 20-8 20 0 20 2 20 3 20 4 20 5 20 6 20 5 20 6 20 4 20 5 20 5 20 4 20 4 20 4 20 3 20 3 20 4 20 3 20 2 20 2 20 0 20-2 20-8 20-10 20-14 20-19 20-23 20-26 20-29 20-28 20-24 20-23 20-21 20-20 20-17 20-17 20-15 20-13 20-12 20-9 20-7 20-3 20 1 20 4 20 8 20 11 20 13 20 13 20 13 20 12 20 11 20 10 20 9 20 8 20 8 20 9 20 6 20 3 20-1 20-5 20-10 20-18 20-26 20-36 20-44 20-49 20-52 20-52 10-25 10-24 10-23 10-20 10-16 10-13 10-10 10-9 10-10 10-15 10-21 10-31 10-36 10-43 10-46 10-52 10-56 10-61 10-65 10-71 10-77 10-83 10-86 10-88 10-86 10-80 10-69 10-56 10-42 10-31 10-23 10-18 10-13 10-9 10-7 10-5 10-4 10-4 10-2 10 1 10 3 10 4 10 7 10 7 10 10 10 10 10 12 10 13 10 15 10 14 20 31 20 31 20 31 20 29 20 27 20 21 20 15 20 14 20 11 20 10 20 10 20 9 20 12 20 15 20 20 20 23 20 29 20 37 20 43 20 44 10 23 10 22 3 6 12 28 5 10 7 17 13 26 13 25 7 14 5 8 12 20 3 4 10 12 10 10 3 1 12 6 5 1 7 0 13-4 13-7 7-6 5-4 12-12 3-2 10-9 10-7 3-1 12 0 5 3 7 6 13 17 13 24 7 17 5 12 12 32 3 6 10 24 10 24 3 6 12 32 5 15 7 23 13 42 13 43 7 25 5 17 12 39 3 7 10 30 10 31 3 8 10 37" stroke="#0072BD"/>
<path d="M3837 2031l20 2 20 2 20 2 20 2 20 2 20 1 20 1 20 0 20-2 20-4 20-9 20-11 20-12 20-8 20-2 20 2 20 1 20 3 20 4 20 4 20 4 20 3 20 4 20 3 20 4 20 3 20 3 20 3 20 3 20 2 20 3 20 3 20 2 20 2 20 0 20-2 20-7 20-9 20-13 20-19 20-21 20-24 20-25 20-26 20-22 20-20 20-18 20-16 20-13 20-12 20-10 20-9 20-7 20-6 20-4 20-3 20 2 20 5 20 8 20 11 20 12 20 12 20 11 20 10 20 10 20 9 20 9 20 7 20 7 20 7 20 6 20 3 20-1 20-4 20-8 20-17 20-24 20-34 20-42 20-48 20-51 20-51 10-24 10-23 10-21 10-19 10-15 10-12 10-10 10-9 10-10 10-14 10-21 10-29 10-35 10-40 10-45 10-51 10-55 10-61 10-66 10-72 10-79 10-84 10-89 10-92 10-90 10-86 10-74 10-60 10-46 10-34 10-26 10-19 10-14 10-10 10-8 10-6 10-4 10-4 10-2 10 1 10 3 10 4 10 7 10 7 10 9 10 11 10 12 10 13 10 14 10 15 20 30 20 31 20 31 20 30 20 26 20 21 20 16 20 13 20 11 20 11 20 9 20 10 20 11 20 16 20 20 20 24 20 29 20 38 20 43 20 45 10 23 10 22 3 6 12 28 5 11 7 17 13 26 13 25 7 14 5 9 12 21 3 4 10 14 10 12 3 3 12 12 5 5 7 6 13 9 13 7 7 3 5 2 12 4 3 1 10 3 10 4 3 1 12 9 5 5 7 10 13 24 13 31 7 21 5 14 12 34 3 7 10 22 10 19 3 4 12 23 5 10 7 15 13 28 13 29 7 18 5 11 12 29 3 5 10 22 10 22 3 5 10 24" stroke="#D95319"/>
<path d="M3837 2031l20 2 20 2 20 1 20 1 20 2 20 1 20 1 20-1 20-2 20-5 20-9 20-11 20-12 20-8 20-2 20 1 20 2 20 3 20 3 20 4 20 4 20 3 20 4 20 3 20 3 20 3 20 4 20 3 20 2 20 3 20 3 20 2 20 3 20 1 20 1 20-3 20-6 20-9 20-13 20-18 20-22 20-23 20-25 20-24 20-22 20-20 20-17 20-14 20-13 20-10 20-9 20-8 20-6 20-5 20-4 20-2 20 2 20 6 20 9 20 13 20 15 20 14 20 14 20 13 20 13 20 12 20 12 20 11 20 10 20 9 20 7 20 4 20-2 20-7 20-12 20-21 20-30 20-39 20-48 20-53 20-55 20-55 10-26 10-25 10-23 10-20 10-18 10-13 10-12 10-10 10-11 10-15 10-23 10-32 10-38 10-44 10-49 10-56 10-61 10-66 10-72 10-78 10-85 10-91 10-95 10-96 10-92 10-84 10-70 10-54 10-40 10-29 10-22 10-17 10-12 10-10 10-8 10-6 10-5 10-4 10-2 10 0 10 2 10 4 10 5 10 7 10 8 10 10 10 11 10 12 10 13 10 14 20 32 20 34 20 35 20 34 20 30 20 25 20 21 20 17 20 14 20 10 20 8 20 8 20 10 20 17 20 23 20 26 20 32 20 43 20 49 20 49 10 24 10 24 3 6 12 30 5 12 7 17 13 28 13 26 7 15 5 9 12 22 3 4 10 15 10 13 3 3 12 14 5 5 7 8 13 12 13 9 7 6 5 3 12 8 3 1 10 6 10 5 3 2 12 11 5 6 7 12 13 27 13 37 7 25 5 17 12 41 3 7 10 28 10 24 3 5 12 29 5 12 7 18 13 32 13 33 7 21 5 15 12 38 3 8 10 33 10 37 3 9 10 42" stroke="#EDB120"/>
<path d="M3837 2041l20 10 20 9 20 7 20 6 20 4 20 4 20 2 20 1 20-2 20-5 20-9 20-13 20-15 20-10 20-2 20-1 20-1 20 0 20 1 20 2 20 1 20 1 20 1 20 1 20 1 20 1 20 1 20 1 20 1 20 2 20 1 20 2 20 1 20 2 20 0 20-3 20-6 20-10 20-14 20-20 20-23 20-25 20-27 20-27 20-25 20-24 20-21 20-19 20-18 20-16 20-15 20-14 20-11 20-8 20-5 20-2 20 1 20 4 20 7 20 11 20 13 20 13 20 14 20 12 20 10 20 9 20 8 20 7 20 8 20 8 20 6 20 3 20-1 20-2 20-7 20-13 20-22 20-31 20-40 20-45 20-48 20-49 10-24 10-23 10-22 10-19 10-15 10-12 10-10 10-9 10-10 10-15 10-22 10-31 10-39 10-44 10-49 10-56 10-61 10-66 10-71 10-78 10-85 10-91 10-94 10-95 10-92 10-83 10-69 10-53 10-39 10-29 10-21 10-16 10-13 10-10 10-7 10-7 10-5 10-3 10-2 10 0 10 2 10 3 10 6 10 7 10 8 10 10 10 12 10 12 10 13 10 14 20 33 20 35 20 36 20 34 20 31 20 26 20 22 20 17 20 15 20 11 20 9 20 10 20 11 20 17 20 23 20 25 20 31 20 41 20 46 20 47 10 23 10 23 3 6 12 29 5 11 7 17 13 26 13 25 7 15 5 9 12 20 3 3 10 14 10 10 3 2 12 8 5 1 7 2 13 0 13-3 7-3 5-3 12-7 3-1 10-6 10-5 3-1 12 1 5 2 7 7 13 17 13 24 7 17 5 12 12 31 3 6 10 23 10 21 3 6 12 30 5 13 7 22 13 39 13 40 7 24 5 15 12 37 3 7 10 28 10 29 3 7 10 34" stroke="#7E2F8E"/>
<path d="M3837 2023l20 5 20 5 20 4 20 4 20 3 20 3 20 3 20 1 20-1 20-4 20-8 20-11 20-12 20-8 20-1 20 1 20 1 20 2 20 3 20 3 20 3 20 3 20 2 20 2 20 3 20 2 20 3 20 2 20 2 20 2 20 2 20 2 20 2 20 2 20 0 20-3 20-6 20-9 20-13 20-19 20-21 20-24 20-25 20-25 20-23 20-20 20-17 20-16 20-13 20-11 20-10 20-9 20-7 20-5 20-5 20-2 20 2 20 6 20 8 20 12 20 13 20 13 20 12 20 12 20 12 20 10 20 10 20 9 20 9 20 8 20 6 20 4 20-2 20-5 20-11 20-18 20-28 20-36 20-45 20-51 20-53 20-52 10-26 10-24 10-22 10-19 10-17 10-13 10-10 10-9 10-11 10-14 10-23 10-30 10-37 10-43 10-49 10-55 10-60 10-65 10-71 10-77 10-84 10-91 10-94 10-95 10-93 10-85 10-70 10-56 10-41 10-31 10-22 10-17 10-13 10-10 10-8 10-7 10-5 10-3 10-2 10 0 10 3 10 4 10 5 10 8 10 10 10 10 10 13 10 13 10 14 10 16 20 34 20 37 20 37 20 35 20 32 20 25 20 21 20 17 20 15 20 12 20 11 20 11 20 11 20 15 20 20 20 24 20 28 20 37 20 43 20 44 10 23 10 22 3 6 12 27 5 11 7 17 13 26 13 25 7 14 5 8 12 21 3 4 10 14 10 11 3 2 12 11 5 3 7 4 13 6 13 4 7 1 5 1 12 1 3 0 10 1 10 2 3 1 12 8 5 6 7 11 13 25 13 34 7 24 5 16 12 41 3 7 10 29 10 27 3 6 12 33 5 14 7 22 13 39 13 39 7 25 5 16 12 44 3 9 10 39 10 42 3 11 10 49" stroke="#77AC30"/>
<path d="M3837 2008l20 6 20 6 20 5 20 5 20 4 20 4 20 3 20 2 20-1 20-3 20-7 20-10 20-12 20-7 20-1 20 1 20 3 20 3 20 4 20 5 20 4 20 4 20 4 20 4 20 4 20 3 20 3 20 4 20 2 20 3 20 3 20 3 20 2 20 2 20 0 20-2 20-7 20-10 20-13 20-19 20-21 20-24 20-27 20-26 20-22 20-20 20-19 20-16 20-14 20-12 20-11 20-9 20-8 20-7 20-4 20-2 20 2 20 6 20 9 20 13 20 14 20 14 20 13 20 13 20 13 20 12 20 12 20 10 20 10 20 9 20 7 20 3 20-2 20-9 20-14 20-23 20-32 20-42 20-50 20-54 20-57 20-55 10-27 10-26 10-24 10-21 10-18 10-13 10-11 10-9 10-10 10-15 10-22 10-31 10-39 10-43 10-50 10-54 10-59 10-64 10-69 10-76 10-81 10-87 10-91 10-92 10-88 10-81 10-68 10-52 10-40 10-29 10-21 10-16 10-12 10-10 10-7 10-5 10-5 10-3 10-2 10 1 10 3 10 4 10 6 10 8 10 10 10 10 10 13 10 13 10 14 10 16 20 33 20 35 20 35 20 34 20 30 20 24 20 20 20 16 20 14 20 12 20 12 20 11 20 13 20 17 20 21 20 26 20 31 20 37 20 43 20 44 10 23 10 22 3 6 12 27 5 11 7 16 13 26 13 25 7 13 5 9 12 20 3 4 10 13 10 11 3 3 12 11 5 4 7 5 13 6 13 3 7 1 5 0 12-1 3 0 10-1 10 1 3 1 12 6 5 4 7 10 13 22 13 31 7 21 5 15 12 36 3 7 10 26 10 23 3 6 12 30 5 12 7 21 13 36 13 37 7 23 5 16 12 39 3 8 10 34 10 37 3 9 10 43" stroke="#4DBEEE"/>
<path d="M3837 2023l20 5 20 4 20 4 20 3 20 4 20 2 20 3 20 1 20-2 20-4 20-8 20-10 20-12 20-8 20-2 20 1 20 1 20 2 20 3 20 3 20 4 20 3 20 2 20 3 20 2 20 3 20 2 20 2 20 2 20 2 20 3 20 2 20 2 20 2 20 0 20-3 20-6 20-10 20-14 20-20 20-23 20-24 20-27 20-27 20-25 20-24 20-21 20-19 20-17 20-16 20-15 20-13 20-12 20-7 20-5 20-3 20 2 20 4 20 7 20 11 20 13 20 13 20 13 20 11 20 10 20 9 20 8 20 7 20 8 20 7 20 6 20 3 20-1 20-4 20-8 20-17 20-25 20-33 20-42 20-48 20-50 20-50 10-25 10-24 10-22 10-20 10-16 10-12 10-9 10-9 10-9 10-14 10-22 10-31 10-37 10-43 10-48 10-53 10-57 10-62 10-67 10-73 10-79 10-84 10-87 10-89 10-86 10-80 10-67 10-53 10-40 10-30 10-22 10-16 10-12 10-9 10-7 10-5 10-4 10-3 10-1 10 1 10 4 10 5 10 7 10 8 10 11 10 11 10 13 10 15 10 15 10 17 20 33 20 35 20 34 20 33 20 29 20 23 20 17 20 14 20 13 20 13 20 12 20 12 20 13 20 14 20 16 20 21 20 24 20 31 20 37 20 40 10 20 10 21 3 5 12 26 5 10 7 15 13 25 13 23 7 14 5 8 12 20 3 3 10 12 10 9 3 2 12 4 5-1 7-1 13-6 13-8 7-6 5-4 12-12 3-2 10-10 10-7 3-2 12-2 5 2 7 6 13 15 13 22 7 16 5 12 12 30 3 6 10 24 10 24 3 7 12 34 5 15 7 25 13 45 13 46 7 27 5 18 12 41 3 8 10 32 10 34 3 10 10 41" stroke="#A2142F"/>
<path d="M3837 2046l20 10 20 8 20 7 20 6 20 5 20 4 20 3 20 1 20-2 20-5 20-9 20-13 20-15 20-11 20-2 20 0 20-1 20 1 20 2 20 3 20 3 20 2 20 2 20 2 20 2 20 2 20 2 20 2 20 2 20 1 20 2 20 2 20 2 20 1 20 0 20-3 20-7 20-11 20-14 20-19 20-23 20-25 20-27 20-27 20-25 20-22 20-21 20-18 20-17 20-15 20-13 20-13 20-10 20-8 20-6 20-3 20 2 20 4 20 8 20 11 20 13 20 14 20 13 20 12 20 11 20 10 20 9 20 9 20 8 20 8 20 7 20 3 20-1 20-5 20-9 20-18 20-26 20-34 20-44 20-48 20-52 20-51 10-25 10-23 10-23 10-19 10-16 10-12 10-10 10-8 10-10 10-14 10-21 10-30 10-36 10-41 10-46 10-51 10-56 10-61 10-66 10-72 10-78 10-83 10-88 10-89 10-88 10-82 10-71 10-57 10-44 10-32 10-24 10-18 10-13 10-10 10-7 10-6 10-4 10-4 10-1 10 0 10 3 10 5 10 6 10 8 10 10 10 11 10 12 10 14 10 14 10 16 20 31 20 33 20 31 20 31 20 28 20 20 20 16 20 14 20 11 20 10 20 10 20 8 20 10 20 13 20 16 20 19 20 24 20 33 20 42 20 42 10 22 10 22 3 5 12 27 5 11 7 17 13 26 13 25 7 15 5 9 12 21 3 4 10 13 10 10 3 2 12 6 5 1 7 0 13-1 13-3 7-3 5-2 12-6 3-1 10-5 10-4 3-1 12 2 5 3 7 7 13 19 13 25 7 19 5 13 12 33 3 7 10 25 10 23 3 7 12 32 5 14 7 23 13 41 13 42 7 24 5 16 12 38 3 7 10 29 10 30 3 8 10 35" stroke="#0072BD"/>
<path d="M3837 2093l20-1 20 0 20-1 20-2 20-1 20-2 20-1 20-3 20-4 20-8 20-10 20-14 20-15 20-10 20-3 20 0 20 0 20 1 20 3 20 3 20 4 20 3 20 2 20 3 20 3 20 3 20 2 20 3 20 2 20 2 20 3 20 2 20 2 20 2 20 0 20-2 20-7 20-10 20-14 20-19 20-22 20-25 20-27 20-26 20-24 20-22 20-20 20-18 20-16 20-14 20-13 20-11 20-10 20-7 20-5 20-2 20 1 20 5 20 7 20 11 20 12 20 12 20 12 20 10 20 10 20 9 20 7 20 7 20 7 20 8 20 5 20 3 20-1 20-5 20-10 20-17 20-27 20-35 20-43 20-49 20-52 20-51 10-25 10-25 10-23 10-20 10-16 10-12 10-10 10-9 10-10 10-15 10-21 10-31 10-37 10-42 10-47 10-51 10-56 10-61 10-66 10-71 10-77 10-82 10-87 10-87 10-86 10-80 10-69 10-55 10-42 10-31 10-23 10-18 10-12 10-10 10-7 10-5 10-4 10-4 10-1 10 0 10 3 10 5 10 6 10 8 10 10 10 11 10 13 10 13 10 15 10 15 20 32 20 33 20 32 20 31 20 28 20 21 20 16 20 14 20 11 20 12 20 11 20 10 20 12 20 16 20 19 20 23 20 29 20 35 20 41 20 44 10 22 10 22 3 5 12 28 5 11 7 16 13 25 13 25 7 14 5 8 12 21 3 4 10 14 10 12 3 3 12 12 5 5 7 7 13 9 13 7 7 4 5 2 12 5 3 1 10 4 10 4 3 1 12 10 5 5 7 11 13 25 13 33 7 22 5 15 12 37 3 6 10 24 10 21 3 5 12 24 5 11 7 17 13 29 13 31 7 19 5 13 12 32 3 7 10 26 10 28 3 7 10 31" stroke="#D95319"/>
<path d="M3837 1943l20 6 20 7 20 6 20 6 20 6 20 6 20 6 20 4 20 3 20-1 20-5 20-7 20-7 20-4 20 1 20 4 20 5 20 7 20 7 20 7 20 8 20 7 20 6 20 7 20 6 20 6 20 5 20 5 20 5 20 4 20 4 20 4 20 3 20 2 20 0 20-2 20-7 20-11 20-14 20-20 20-23 20-26 20-29 20-28 20-25 20-24 20-22 20-20 20-19 20-17 20-16 20-14 20-13 20-8 20-6 20-2 20 2 20 6 20 9 20 13 20 16 20 16 20 16 20 15 20 14 20 14 20 13 20 11 20 11 20 11 20 8 20 3 20-1 20-6 20-11 20-19 20-28 20-37 20-46 20-51 20-53 20-53 10-26 10-25 10-23 10-20 10-16 10-14 10-10 10-10 10-10 10-15 10-23 10-32 10-38 10-45 10-50 10-55 10-61 10-66 10-72 10-78 10-85 10-91 10-94 10-95 10-91 10-83 10-68 10-53 10-39 10-29 10-21 10-16 10-12 10-10 10-8 10-6 10-5 10-3 10-2 10 0 10 2 10 3 10 6 10 7 10 8 10 10 10 12 10 12 10 13 10 14 20 32 20 36 20 36 20 34 20 30 20 26 20 22 20 18 20 14 20 11 20 9 20 9 20 11 20 17 20 23 20 25 20 31 20 40 20 47 20 47 10 23 10 23 3 6 12 29 5 11 7 16 13 27 13 25 7 15 5 9 12 20 3 4 10 13 10 11 3 2 12 9 5 2 7 2 13 2 13 0 7-1 5-1 12-4 3-1 10-3 10-3 3 0 12 3 5 3 7 7 13 19 13 25 7 18 5 13 12 31 3 6 10 23 10 21 3 5 12 28 5 12 7 20 13 36 13 36 7 22 5 14 12 34 3 6 10 25 10 25 3 7 10 29" stroke="#EDB120"/>
<path d="M3837 2079l20 0 20-1 20-1 20-1 20-1 20 0 20-1 20-3 20-4 20-7 20-10 20-13 20-14 20-10 20-2 20 0 20 1 20 2 20 3 20 3 20 4 20 3 20 3 20 3 20 3 20 3 20 3 20 3 20 2 20 2 20 3 20 3 20 2 20 1 20 1 20-3 20-7 20-9 20-14 20-19 20-22 20-25 20-27 20-26 20-24 20-22 20-20 20-18 20-16 20-14 20-13 20-11 20-10 20-7 20-5 20-2 20 2 20 5 20 8 20 12 20 14 20 13 20 14 20 12 20 12 20 11 20 10 20 9 20 8 20 9 20 7 20 3 20-2 20-5 20-10 20-19 20-27 20-36 20-45 20-50 20-53 20-52 10-25 10-25 10-22 10-20 10-17 10-13 10-10 10-9 10-10 10-15 10-22 10-30 10-37 10-42 10-47 10-52 10-57 10-62 10-67 10-72 10-79 10-84 10-88 10-90 10-88 10-81 10-70 10-56 10-42 10-32 10-23 10-18 10-13 10-9 10-7 10-6 10-4 10-4 10-2 10 1 10 3 10 4 10 7 10 8 10 9 10 11 10 13 10 13 10 15 10 15 20 32 20 33 20 33 20 31 20 29 20 21 20 17 20 14 20 12 20 11 20 10 20 10 20 11 20 13 20 18 20 20 20 26 20 34 20 41 20 43 10 21 10 22 3 6 12 27 5 11 7 16 13 26 13 25 7 15 5 9 12 21 3 3 10 14 10 10 3 2 12 7 5 2 7 1 13 0 13-2 7-2 5-1 12-6 3-1 10-4 10-3 3-1 12 3 5 3 7 7 13 20 13 26 7 19 5 14 12 33 3 7 10 25 10 24 3 6 12 32 5 14 7 22 13 40 13 41 7 25 5 16 12 38 3 8 10 30 10 32 3 9 10 37" stroke="#7E2F8E"/>
<path d="M3837 2077l20 2 20 2 20 1 20 1 20 0 20 0 20 0 20-1 20-4 20-6 20-10 20-13 20-15 20-10 20-3 20 1 20 0 20 2 20 2 20 4 20 3 20 3 20 3 20 3 20 2 20 3 20 3 20 2 20 2 20 3 20 2 20 2 20 2 20 2 20 0 20-3 20-6 20-9 20-14 20-18 20-21 20-24 20-26 20-26 20-21 20-20 20-17 20-16 20-13 20-10 20-10 20-8 20-7 20-5 20-5 20-2 20 2 20 7 20 9 20 13 20 15 20 14 20 13 20 13 20 13 20 12 20 13 20 10 20 10 20 9 20 7 20 2 20-2 20-9 20-13 20-23 20-32 20-41 20-50 20-54 20-57 20-55 10-26 10-25 10-24 10-20 10-17 10-14 10-11 10-9 10-11 10-14 10-22 10-30 10-37 10-42 10-47 10-53 10-57 10-63 10-68 10-73 10-81 10-86 10-90 10-92 10-89 10-83 10-71 10-56 10-43 10-32 10-23 10-18 10-13 10-10 10-7 10-6 10-5 10-3 10-2 10 0 10 3 10 4 10 6 10 8 10 10 10 10 10 13 10 13 10 14 10 15 20 32 20 34 20 33 20 33 20 29 20 22 20 18 20 15 20 13 20 11 20 10 20 11 20 11 20 15 20 20 20 24 20 29 20 36 20 43 20 44 10 22 10 23 3 5 12 28 5 11 7 16 13 26 13 25 7 14 5 8 12 21 3 3 10 13 10 11 3 3 12 8 5 3 7 3 13 2 13 0 7-2 5-1 12-5 3-1 10-3 10-3 3 0 12 3 5 3 7 8 13 20 13 27 7 19 5 13 12 33 3 7 10 24 10 23 3 5 12 31 5 13 7 21 13 38 13 39 7 24 5 15 12 38 3 8 10 30 10 32 3 9 10 38" stroke="#77AC30"/>
<path d="M3837 1974l20 9 20 8 20 8 20 7 20 7 20 6 20 5 20 4 20 1 20-2 20-6 20-9 20-10 20-7 20 0 20 2 20 3 20 4 20 4 20 5 20 5 20 4 20 5 20 3 20 4 20 4 20 4 20 3 20 3 20 3 20 3 20 3 20 2 20 2 20 0 20-2 20-6 20-10 20-13 20-18 20-21 20-24 20-26 20-25 20-21 20-20 20-17 20-15 20-13 20-11 20-9 20-8 20-6 20-5 20-5 20-2 20 2 20 6 20 9 20 12 20 13 20 13 20 12 20 11 20 12 20 11 20 10 20 9 20 8 20 8 20 6 20 3 20-3 20-6 20-12 20-21 20-29 20-38 20-46 20-52 20-55 20-53 10-26 10-24 10-22 10-20 10-17 10-13 10-10 10-10 10-10 10-15 10-21 10-30 10-36 10-40 10-46 10-51 10-57 10-61 10-66 10-72 10-78 10-84 10-89 10-90 10-89 10-84 10-72 10-59 10-44 10-34 10-24 10-19 10-14 10-10 10-7 10-6 10-4 10-4 10-1 10 0 10 3 10 5 10 7 10 8 10 10 10 11 10 13 10 14 10 15 10 16 20 33 20 33 20 33 20 31 20 29 20 21 20 17 20 14 20 12 20 12 20 12 20 12 20 12 20 15 20 18 20 22 20 27 20 33 20 38 20 41 10 22 10 21 3 5 12 26 5 11 7 15 13 25 13 23 7 13 5 9 12 19 3 3 10 12 10 9 3 2 12 5 5 0 7 0 13-5 13-8 7-6 5-4 12-12 3-2 10-10 10-7 3-1 12 0 5 2 7 6 13 17 13 23 7 16 5 12 12 31 3 6 10 24 10 22 3 6 12 32 5 15 7 23 13 41 13 43 7 24 5 16 12 37 3 7 10 27 10 28 3 8 10 32" stroke="#4DBEEE"/>
<path d="M3837 2042l20 6 20 5 20 4 20 4 20 4 20 3 20 2 20 1 20-2 20-4 20-8 20-11 20-14 20-9 20-1 20 1 20 2 20 3 20 4 20 4 20 4 20 5 20 3 20 4 20 3 20 4 20 3 20 3 20 2 20 3 20 3 20 2 20 2 20 2 20 0 20-2 20-8 20-10 20-15 20-19 20-23 20-27 20-29 20-28 20-25 20-24 20-22 20-21 20-18 20-18 20-15 20-15 20-13 20-8 20-6 20-3 20 2 20 5 20 9 20 12 20 14 20 15 20 14 20 14 20 12 20 11 20 11 20 9 20 10 20 9 20 7 20 3 20-1 20-6 20-10 20-19 20-28 20-36 20-45 20-50 20-53 20-52 10-26 10-25 10-23 10-20 10-17 10-12 10-10 10-10 10-10 10-14 10-22 10-31 10-38 10-43 10-48 10-53 10-58 10-63 10-68 10-74 10-80 10-85 10-89 10-90 10-88 10-81 10-68 10-54 10-40 10-30 10-22 10-17 10-13 10-9 10-7 10-6 10-4 10-3 10-2 10 0 10 3 10 5 10 6 10 8 10 9 10 11 10 12 10 14 10 14 10 15 20 33 20 33 20 34 20 33 20 29 20 23 20 18 20 15 20 13 20 11 20 10 20 11 20 11 20 14 20 18 20 20 20 26 20 33 20 41 20 43 10 21 10 22 3 5 12 28 5 11 7 16 13 26 13 25 7 14 5 10 12 21 3 4 10 14 10 11 3 2 12 8 5 3 7 3 13 3 13 3 7 1 5 1 12 2 3 0 10 1 10 2 3 1 12 9 5 6 7 12 13 27 13 35 7 24 5 17 12 42 3 9 10 30 10 28 3 7 12 35 5 15 7 23 13 40 13 42 7 25 5 17 12 44 3 10 10 39 10 43 3 11 10 50" stroke="#A2142F"/>
<path d="M3837 2093l20 0 20 0 20 0 20-2 20-1 20-1 20-2 20-2 20-6 20-7 20-11 20-14 20-16 20-11 20-3 20-1 20 0 20 1 20 1 20 3 20 2 20 2 20 2 20 2 20 2 20 2 20 2 20 2 20 2 20 2 20 2 20 2 20 2 20 1 20 1 20-3 20-7 20-9 20-14 20-20 20-23 20-25 20-27 20-27 20-26 20-23 20-22 20-19 20-17 20-17 20-14 20-14 20-11 20-8 20-5 20-2 20 2 20 6 20 8 20 13 20 16 20 16 20 16 20 15 20 13 20 13 20 12 20 11 20 10 20 10 20 8 20 3 20-2 20-6 20-13 20-21 20-30 20-38 20-48 20-52 20-54 20-53 10-27 10-26 10-24 10-21 10-17 10-13 10-10 10-9 10-10 10-15 10-22 10-32 10-39 10-45 10-50 10-55 10-59 10-65 10-69 10-75 10-81 10-87 10-89 10-90 10-87 10-78 10-65 10-51 10-37 10-28 10-20 10-15 10-12 10-9 10-7 10-6 10-4 10-4 10-2 10 1 10 2 10 4 10 5 10 7 10 9 10 10 10 11 10 13 10 13 10 14 20 31 20 33 20 34 20 33 20 28 20 24 20 19 20 17 20 12 20 10 20 8 20 8 20 10 20 16 20 22 20 26 20 30 20 41 20 47 20 48 10 23 10 24 3 6 12 28 5 12 7 16 13 27 13 26 7 14 5 9 12 20 3 3 10 13 10 9 3 1 12 5 5 0 7-2 13-5 13-10 7-7 5-5 12-14 3-2 10-11 10-8 3-2 12-2 5 2 7 6 13 15 13 22 7 15 5 12 12 30 3 6 10 23 10 23 3 6 12 32 5 15 7 24 13 43 13 44 7 25 5 16 12 38 3 7 10 27 10 28 3 8 10 33" stroke="#0072BD"/>
<path d="M3837 1958l20 11 20 10 20 9 20 8 20 8 20 8 20 6 20 4 20 3 20-2 20-5 20-8 20-9 20-6 20 0 20 3 20 3 20 4 20 5 20 5 20 5 20 5 20 4 20 4 20 4 20 4 20 4 20 4 20 3 20 3 20 3 20 3 20 2 20 2 20 1 20-2 20-7 20-9 20-14 20-19 20-21 20-25 20-27 20-26 20-23 20-20 20-19 20-18 20-14 20-13 20-12 20-10 20-9 20-6 20-5 20-2 20 2 20 6 20 9 20 13 20 15 20 14 20 13 20 13 20 13 20 12 20 12 20 10 20 10 20 9 20 7 20 4 20-2 20-7 20-11 20-20 20-29 20-39 20-47 20-52 20-55 20-54 10-26 10-25 10-22 10-21 10-17 10-13 10-11 10-10 10-11 10-15 10-22 10-32 10-37 10-44 10-49 10-55 10-60 10-65 10-71 10-77 10-84 10-90 10-93 10-95 10-92 10-83 10-70 10-55 10-40 10-30 10-23 10-16 10-13 10-10 10-8 10-6 10-5 10-3 10-2 10 0 10 3 10 4 10 5 10 8 10 10 10 10 10 13 10 13 10 14 10 16 20 34 20 36 20 37 20 35 20 32 20 25 20 21 20 17 20 14 20 13 20 11 20 11 20 12 20 15 20 20 20 24 20 29 20 37 20 42 20 44 10 23 10 22 3 6 12 28 5 11 7 16 13 26 13 25 7 14 5 9 12 21 3 4 10 14 10 13 3 3 12 13 5 5 7 8 13 12 13 10 7 6 5 3 12 9 3 1 10 6 10 6 3 2 12 11 5 6 7 12 13 28 13 36 7 25 5 17 12 41 3 8 10 28 10 25 3 5 12 30 5 12 7 19 13 33 13 34 7 22 5 15 12 40 3 9 10 36 10 40 3 10 10 46" stroke="#D95319"/>
<path d="M3837 2052l20 3 20 3 20 3 20 2 20 2 20 1 20 1 20 0 20-3 20-5 20-10 20-11 20-14 20-9 20-2 20 0 20 1 20 1 20 2 20 3 20 3 20 3 20 2 20 2 20 2 20 3 20 2 20 2 20 2 20 2 20 2 20 2 20 2 20 2 20 0 20-2 20-7 20-9 20-13 20-18 20-21 20-23 20-26 20-24 20-22 20-19 20-17 20-15 20-12 20-10 20-9 20-7 20-7 20-5 20-4 20-2 20 2 20 6 20 8 20 12 20 14 20 13 20 12 20 11 20 12 20 11 20 10 20 10 20 8 20 8 20 7 20 3 20-1 20-6 20-11 20-19 20-28 20-37 20-46 20-52 20-53 20-53 10-26 10-24 10-22 10-19 10-16 10-14 10-10 10-10 10-10 10-15 10-22 10-30 10-37 10-42 10-48 10-54 10-60 10-65 10-70 10-77 10-84 10-90 10-95 10-96 10-93 10-86 10-72 10-57 10-42 10-32 10-23 10-18 10-13 10-10 10-8 10-7 10-5 10-4 10-1 10 0 10 2 10 4 10 6 10 8 10 9 10 11 10 12 10 13 10 14 10 15 20 33 20 36 20 35 20 35 20 30 20 25 20 21 20 16 20 14 20 12 20 10 20 10 20 11 20 15 20 20 20 23 20 29 20 37 20 43 20 45 10 23 10 22 3 6 12 28 5 11 7 16 13 26 13 25 7 14 5 9 12 21 3 4 10 13 10 11 3 2 12 9 5 2 7 3 13 3 13 0 7 0 5-1 12-3 3 0 10-3 10-1 3 0 12 4 5 4 7 9 13 22 13 30 7 21 5 15 12 37 3 7 10 28 10 25 3 7 12 33 5 15 7 23 13 40 13 42 7 25 5 17 12 43 3 8 10 36 10 39 3 10 10 46" stroke="#EDB120"/>
<path d="M3837 1923l20 10 20 9 20 10 20 9 20 8 20 9 20 7 20 6 20 4 20 1 20-4 20-6 20-6 20-4 20 1 20 5 20 5 20 7 20 6 20 8 20 7 20 7 20 6 20 6 20 6 20 5 20 5 20 5 20 4 20 4 20 4 20 3 20 3 20 2 20 1 20-3 20-7 20-10 20-14 20-19 20-23 20-25 20-28 20-28 20-24 20-22 20-21 20-19 20-17 20-16 20-14 20-13 20-12 20-9 20-6 20-4 20 0 20 4 20 7 20 11 20 12 20 13 20 12 20 12 20 10 20 9 20 9 20 7 20 7 20 7 20 5 20 2 20-3 20-7 20-11 20-19 20-27 20-36 20-45 20-50 20-52 20-51 10-26 10-25 10-23 10-21 10-17 10-12 10-10 10-9 10-10 10-14 10-23 10-31 10-39 10-44 10-49 10-54 10-58 10-63 10-67 10-73 10-79 10-85 10-87 10-89 10-85 10-78 10-65 10-51 10-39 10-28 10-21 10-16 10-11 10-9 10-6 10-5 10-4 10-3 10-1 10 1 10 3 10 6 10 6 10 9 10 10 10 12 10 13 10 14 10 16 10 16 20 34 20 35 20 34 20 33 20 30 20 23 20 17 20 15 20 13 20 12 20 12 20 12 20 13 20 15 20 18 20 22 20 28 20 33 20 38 20 41 10 22 10 21 3 5 12 26 5 11 7 15 13 25 13 23 7 14 5 8 12 19 3 3 10 12 10 9 3 1 12 5 5 0 7-2 13-6 13-9 7-7 5-5 12-14 3-3 10-10 10-8 3-2 12-1 5 2 7 6 13 15 13 22 7 16 5 11 12 30 3 6 10 24 10 23 3 6 12 32 5 15 7 24 13 43 13 43 7 26 5 16 12 38 3 7 10 27 10 29 3 7 10 34" stroke="#7E2F8E"/>
<path d="M3837 2093l20 2 20 1 20 1 20 0 20 0 20-1 20 0 20-2 20-5 20-7 20-10 20-14 20-16 20-10 20-3 20-1 20 0 20 1 20 1 20 3 20 2 20 2 20 2 20 2 20 2 20 2 20 2 20 2 20 1 20 2 20 2 20 2 20 2 20 1 20 0 20-2 20-7 20-9 20-14 20-18 20-22 20-24 20-26 20-26 20-22 20-21 20-18 20-16 20-14 20-12 20-11 20-9 20-8 20-6 20-4 20-3 20 2 20 6 20 9 20 12 20 15 20 13 20 13 20 13 20 12 20 11 20 11 20 10 20 9 20 9 20 6 20 4 20-2 20-6 20-11 20-20 20-28 20-38 20-46 20-51 20-54 20-54 10-25 10-24 10-23 10-19 10-17 10-13 10-10 10-10 10-10 10-15 10-21 10-30 10-36 10-41 10-46 10-52 10-57 10-61 10-67 10-72 10-79 10-85 10-89 10-91 10-90 10-83 10-73 10-58 10-44 10-33 10-24 10-18 10-14 10-10 10-7 10-6 10-5 10-3 10-2 10 0 10 3 10 5 10 6 10 7 10 10 10 10 10 12 10 13 10 14 10 14 20 31 20 31 20 31 20 30 20 27 20 21 20 16 20 13 20 11 20 10 20 8 20 8 20 9 20 14 20 19 20 22 20 27 20 37 20 44 20 45 10 23 10 22 3 6 12 28 5 11 7 16 13 27 13 26 7 14 5 9 12 22 3 4 10 15 10 13 3 3 12 13 5 4 7 7 13 13 13 12 7 7 5 4 12 11 3 2 10 7 10 6 3 2 12 10 5 6 7 12 13 27 13 35 7 24 5 17 12 39 3 7 10 27 10 22 3 6 12 26 5 11 7 17 13 30 13 31 7 18 5 13 12 33 3 6 10 27 10 28 3 7 10 30" stroke="#77AC30"/>
<path d="M3837 1920l20 10 20 9 20 8 20 9 20 8 20 7 20 7 20 5 20 4 20 0 20-4 20-7 20-6 20-4 20 1 20 4 20 5 20 6 20 7 20 7 20 7 20 6 20 6 20 6 20 6 20 5 20 5 20 5 20 4 20 4 20 4 20 4 20 4 20 2 20 1 20-2 20-6 20-9 20-13 20-18 20-21 20-25 20-26 20-26 20-22 20-20 20-18 20-17 20-13 20-12 20-11 20-9 20-8 20-6 20-5 20-2 20 2 20 6 20 9 20 13 20 14 20 13 20 13 20 13 20 12 20 12 20 11 20 10 20 9 20 9 20 6 20 3 20-3 20-7 20-13 20-21 20-30 20-39 20-48 20-52 20-55 20-54 10-26 10-25 10-23 10-20 10-17 10-13 10-10 10-10 10-11 10-14 10-22 10-30 10-37 10-42 10-47 10-53 10-58 10-63 10-68 10-74 10-81 10-87 10-90 10-92 10-91 10-83 10-71 10-56 10-43 10-31 10-24 10-17 10-13 10-10 10-8 10-6 10-4 10-4 10-2 10 1 10 3 10 4 10 6 10 8 10 9 10 11 10 13 10 13 10 15 10 15 20 33 20 34 20 34 20 33 20 30 20 23 20 18 20 15 20 13 20 12 20 11 20 11 20 12 20 15 20 20 20 23 20 29 20 36 20 42 20 44 10 22 10 22 3 5 12 28 5 11 7 16 13 26 13 24 7 14 5 9 12 19 3 4 10 12 10 10 3 2 12 7 5 1 7 0 13-2 13-6 7-5 5-4 12-10 3-2 10-8 10-5 3-1 12 2 5 2 7 7 13 19 13 25 7 18 5 13 12 33 3 7 10 25 10 24 3 7 12 33 5 15 7 24 13 43 13 44 7 26 5 18 12 42 3 9 10 34 10 38 3 10 10 45" stroke="#4DBEEE"/>
<path d="M3837 2024l20 6 20 6 20 5 20 4 20 4 20 4 20 2 20 1 20-1 20-4 20-8 20-11 20-12 20-8 20-2 20 1 20 2 20 2 20 4 20 4 20 4 20 4 20 3 20 3 20 3 20 3 20 3 20 3 20 2 20 3 20 2 20 3 20 2 20 1 20 0 20-2 20-7 20-10 20-14 20-20 20-22 20-25 20-28 20-27 20-24 20-23 20-20 20-19 20-16 20-15 20-14 20-12 20-11 20-7 20-5 20-2 20 2 20 6 20 9 20 13 20 16 20 15 20 15 20 15 20 14 20 13 20 13 20 11 20 10 20 10 20 8 20 4 20-2 20-7 20-13 20-22 20-30 20-40 20-48 20-53 20-55 20-55 10-26 10-26 10-24 10-21 10-18 10-13 10-11 10-9 10-11 10-15 10-23 10-32 10-39 10-46 10-50 10-56 10-60 10-66 10-71 10-77 10-83 10-89 10-93 10-93 10-89 10-80 10-66 10-51 10-38 10-28 10-20 10-15 10-12 10-10 10-7 10-6 10-5 10-3 10-2 10 0 10 3 10 4 10 5 10 8 10 9 10 11 10 12 10 13 10 14 10 16 20 34 20 36 20 37 20 36 20 31 20 26 20 22 20 17 20 14 20 12 20 11 20 10 20 11 20 15 20 18 20 21 20 25 20 35 20 42 20 44 10 21 10 22 3 6 12 28 5 11 7 16 13 26 13 26 7 14 5 9 12 21 3 4 10 14 10 10 3 2 12 7 5 1 7 1 13 0 13-2 7-2 5-1 12-5 3-1 10-4 10-4 3 0 12 2 5 3 7 7 13 19 13 26 7 19 5 13 12 33 3 6 10 25 10 24 3 5 12 32 5 14 7 22 13 40 13 41 7 24 5 16 12 38 3 7 10 29 10 31 3 8 10 35" stroke="#A2142F"/>
<path d="M3837 1975l20 6 20 6 20 6 20 5 20 5 20 5 20 4 20 3 20 2 20-2 20-7 20-8 20-9 20-6 20 0 20 3 20 5 20 5 20 6 20 7 20 6 20 6 20 6 20 6 20 5 20 6 20 4 20 5 20 4 20 4 20 3 20 4 20 3 20 2 20 0 20-3 20-6 20-10 20-14 20-18 20-22 20-25 20-28 20-26 20-23 20-20 20-19 20-18 20-15 20-13 20-11 20-11 20-9 20-7 20-5 20-3 20 2 20 6 20 8 20 12 20 13 20 13 20 13 20 12 20 11 20 11 20 11 20 9 20 9 20 8 20 7 20 3 20-1 20-6 20-11 20-19 20-28 20-36 20-46 20-51 20-53 20-53 10-25 10-24 10-23 10-19 10-16 10-13 10-10 10-10 10-10 10-14 10-22 10-29 10-36 10-41 10-46 10-51 10-57 10-62 10-66 10-73 10-79 10-86 10-89 10-92 10-90 10-84 10-73 10-58 10-44 10-34 10-24 10-19 10-13 10-10 10-8 10-6 10-4 10-4 10-2 10 1 10 3 10 5 10 6 10 8 10 9 10 12 10 12 10 14 10 14 10 16 20 32 20 33 20 33 20 31 20 28 20 22 20 17 20 14 20 12 20 11 20 10 20 10 20 11 20 13 20 17 20 19 20 24 20 33 20 40 20 42 10 22 10 21 3 6 12 27 5 10 7 16 13 27 13 25 7 14 5 9 12 22 3 4 10 14 10 11 3 2 12 8 5 3 7 3 13 3 13 3 7 1 5 0 12 0 3 0 10-1 10-1 3 0 12 5 5 4 7 8 13 21 13 29 7 20 5 14 12 35 3 7 10 25 10 24 3 5 12 31 5 13 7 21 13 38 13 38 7 23 5 16 12 37 3 8 10 30 10 31 3 8 10 37" stroke="#0072BD"/>
<path d="M3837 1961l20 12 20 11 20 11 20 9 20 9 20 7 20 7 20 5 20 3 20-1 20-5 20-8 20-10 20-6 20 1 20 3 20 3 20 5 20 5 20 5 20 6 20 5 20 5 20 4 20 4 20 5 20 3 20 4 20 3 20 3 20 3 20 3 20 2 20 2 20 0 20-2 20-7 20-10 20-14 20-19 20-21 20-25 20-28 20-27 20-23 20-20 20-19 20-18 20-15 20-13 20-11 20-11 20-9 20-7 20-5 20-3 20 2 20 6 20 9 20 13 20 14 20 14 20 13 20 13 20 13 20 12 20 12 20 10 20 9 20 9 20 7 20 3 20-2 20-6 20-12 20-21 20-29 20-38 20-47 20-52 20-55 20-54 10-25 10-25 10-22 10-20 10-17 10-13 10-11 10-10 10-11 10-14 10-22 10-30 10-37 10-42 10-47 10-53 10-58 10-63 10-69 10-74 10-81 10-87 10-91 10-93 10-91 10-83 10-72 10-57 10-43 10-32 10-24 10-18 10-13 10-10 10-8 10-6 10-5 10-4 10-2 10 0 10 3 10 4 10 6 10 7 10 10 10 10 10 12 10 13 10 14 10 15 20 32 20 33 20 34 20 32 20 29 20 23 20 18 20 15 20 13 20 10 20 10 20 9 20 10 20 14 20 19 20 21 20 25 20 36 20 43 20 44 10 22 10 22 3 5 12 28 5 11 7 16 13 27 13 25 7 15 5 9 12 21 3 4 10 13 10 10 3 2 12 7 5 1 7 1 13-1 13-2 7-2 5-2 12-4 3-1 10-5 10-2 3-1 12 3 5 4 7 8 13 21 13 27 7 20 5 14 12 35 3 7 10 27 10 25 3 6 12 34 5 14 7 24 13 41 13 42 7 25 5 17 12 40 3 8 10 33 10 34 3 9 10 41" stroke="#D95319"/>
<path d="M3837 2006l20 0 20 0 20 1 20 1 20 2 20 2 20 1 20 1 20 0 20-3 20-7 20-9 20-9 20-5 20 0 20 3 20 4 20 5 20 6 20 6 20 7 20 5 20 6 20 5 20 5 20 5 20 5 20 4 20 4 20 4 20 4 20 3 20 3 20 2 20 1 20-2 20-7 20-9 20-13 20-19 20-22 20-24 20-27 20-26 20-23 20-20 20-19 20-17 20-15 20-12 20-11 20-10 20-8 20-6 20-5 20-1 20 2 20 7 20 10 20 14 20 16 20 15 20 14 20 14 20 14 20 14 20 13 20 11 20 11 20 10 20 7 20 4 20-3 20-8 20-14 20-24 20-32 20-42 20-51 20-55 20-57 20-56 10-26 10-26 10-24 10-20 10-18 10-13 10-11 10-10 10-10 10-15 10-21 10-30 10-37 10-41 10-46 10-52 10-56 10-61 10-65 10-72 10-77 10-84 10-87 10-89 10-88 10-81 10-71 10-57 10-43 10-33 10-24 10-17 10-14 10-9 10-7 10-6 10-4 10-4 10-2 10 1 10 3 10 5 10 7 10 8 10 10 10 11 10 13 10 14 10 15 10 16 20 33 20 33 20 33 20 32 20 28 20 22 20 16 20 14 20 12 20 12 20 12 20 12 20 13 20 13 20 17 20 20 20 25 20 32 20 38 20 40 10 21 10 22 3 5 12 27 5 10 7 16 13 26 13 24 7 14 5 9 12 21 3 4 10 14 10 12 3 2 12 11 5 3 7 5 13 7 13 5 7 2 5 2 12 2 3 1 10 1 10 2 3 1 12 7 5 5 7 10 13 24 13 31 7 23 5 15 12 37 3 8 10 26 10 23 3 6 12 30 5 12 7 20 13 35 13 36 7 22 5 15 12 38 3 7 10 32 10 33 3 9 10 38" stroke="#EDB120"/>
<path d="M3837 2077l20 2 20 2 20 2 20 1 20 0 20 1 20 0 20-2 20-3 20-7 20-9 20-13 20-15 20-10 20-3 20 1 20 0 20 2 20 2 20 4 20 3 20 3 20 3 20 3 20 2 20 3 20 2 20 3 20 2 20 2 20 2 20 2 20 2 20 1 20 0 20-4 20-7 20-10 20-15 20-20 20-23 20-25 20-28 20-28 20-25 20-24 20-21 20-19 20-18 20-16 20-15 20-14 20-11 20-8 20-6 20-2 20 2 20 6 20 9 20 13 20 16 20 16 20 16 20 15 20 14 20 13 20 13 20 12 20 10 20 11 20 8 20 3 20-2 20-6 20-11 20-19 20-29 20-37 20-46 20-51 20-54 20-53 10-26 10-24 10-23 10-20 10-17 10-13 10-10 10-10 10-10 10-14 10-22 10-30 10-37 10-41 10-47 10-52 10-56 10-61 10-65 10-71 10-78 10-83 10-87 10-88 10-87 10-81 10-70 10-56 10-43 10-32 10-23 10-18 10-13 10-10 10-7 10-5 10-4 10-4 10-2 10 1 10 3 10 5 10 6 10 8 10 10 10 11 10 12 10 14 10 15 10 15 20 31 20 32 20 32 20 31 20 27 20 21 20 15 20 13 20 12 20 10 20 10 20 9 20 10 20 13 20 18 20 22 20 26 20 35 20 42 20 43 10 22 10 22 3 5 12 27 5 11 7 16 13 26 13 24 7 14 5 8 12 20 3 4 10 13 10 9 3 2 12 5 5 1 7 0 13-3 13-5 7-4 5-4 12-8 3-2 10-8 10-5 3-1 12 0 5 2 7 7 13 17 13 24 7 17 5 12 12 32 3 6 10 24 10 23 3 6 12 33 5 14 7 23 13 42 13 42 7 25 5 16 12 39 3 7 10 29 10 30 3 8 10 36" stroke="#7E2F8E"/>
<path d="M3837 1999l20 6 20 6 20 6 20 5 20 4 20 4 20 4 20 2 20 0 20-2 20-7 20-10 20-11 20-7 20 0 20 2 20 2 20 4 20 4 20 5 20 5 20 4 20 4 20 4 20 4 20 4 20 3 20 4 20 3 20 3 20 3 20 2 20 3 20 2 20 0 20-2 20-7 20-9 20-13 20-19 20-21 20-25 20-26 20-26 20-23 20-20 20-18 20-16 20-14 20-12 20-10 20-9 20-8 20-5 20-4 20-2 20 3 20 7 20 10 20 14 20 16 20 14 20 15 20 14 20 13 20 14 20 13 20 12 20 10 20 10 20 8 20 3 20-2 20-7 20-12 20-21 20-30 20-39 20-48 20-53 20-56 20-55 10-26 10-24 10-23 10-20 10-17 10-13 10-12 10-10 10-11 10-15 10-22 10-31 10-38 10-43 10-49 10-55 10-61 10-67 10-72 10-79 10-86 10-92 10-96 10-98 10-94 10-86 10-72 10-56 10-42 10-30 10-23 10-17 10-13 10-11 10-8 10-7 10-5 10-3 10-2 10 0 10 2 10 3 10 5 10 7 10 9 10 10 10 11 10 12 10 13 10 14 20 32 20 35 20 36 20 34 20 31 20 25 20 22 20 18 20 14 20 11 20 9 20 9 20 11 20 18 20 23 20 27 20 32 20 42 20 48 20 48 10 24 10 24 3 6 12 29 5 11 7 17 13 27 13 26 7 14 5 9 12 21 3 4 10 15 10 12 3 3 12 12 5 4 7 7 13 8 13 7 7 3 5 2 12 3 3 1 10 3 10 3 3 1 12 9 5 6 7 10 13 25 13 33 7 23 5 15 12 38 3 6 10 26 10 22 3 5 12 27 5 11 7 18 13 32 13 33 7 20 5 14 12 35 3 7 10 29 10 31 3 8 10 35" stroke="#77AC30"/>
<path d="M3837 1972l20 6 20 5 20 5 20 5 20 6 20 5 20 4 20 3 20 1 20-1 20-6 20-9 20-9 20-5 20 0 20 4 20 5 20 5 20 7 20 7 20 7 20 7 20 6 20 6 20 6 20 6 20 5 20 5 20 4 20 4 20 4 20 4 20 3 20 2 20 0 20-2 20-8 20-10 20-14 20-19 20-22 20-26 20-28 20-28 20-24 20-21 20-21 20-19 20-16 20-15 20-14 20-12 20-11 20-8 20-5 20-3 20 2 20 6 20 8 20 12 20 15 20 13 20 14 20 13 20 12 20 12 20 10 20 10 20 9 20 9 20 7 20 3 20-2 20-7 20-12 20-21 20-29 20-39 20-47 20-52 20-55 20-53 10-27 10-25 10-24 10-20 10-18 10-13 10-11 10-9 10-11 10-15 10-23 10-31 10-39 10-45 10-50 10-55 10-60 10-66 10-70 10-77 10-83 10-89 10-92 10-93 10-89 10-81 10-67 10-51 10-39 10-28 10-21 10-16 10-12 10-9 10-8 10-6 10-4 10-4 10-2 10 0 10 2 10 4 10 6 10 7 10 9 10 10 10 11 10 13 10 13 10 14 20 32 20 35 20 35 20 34 20 30 20 25 20 20 20 17 20 14 20 11 20 9 20 9 20 11 20 17 20 22 20 25 20 31 20 40 20 46 20 46 10 23 10 24 3 5 12 29 5 11 7 17 13 26 13 25 7 15 5 8 12 21 3 4 10 13 10 10 3 2 12 8 5 2 7 3 13 1 13-2 7-2 5-1 12-5 3-1 10-4 10-3 3 0 12 3 5 4 7 8 13 21 13 29 7 20 5 14 12 36 3 7 10 27 10 26 3 6 12 34 5 15 7 24 13 41 13 43 7 26 5 18 12 43 3 9 10 37 10 40 3 10 10 48" stroke="#4DBEEE"/>
<path d="M3837 1969l20 8 20 7 20 6 20 6 20 6 20 5 20 5 20 3 20 1 20-2 20-6 20-8 20-9 20-6 20 0 20 2 20 3 20 3 20 4 20 5 20 4 20 4 20 4 20 3 20 4 20 3 20 3 20 3 20 3 20 3 20 3 20 2 20 3 20 1 20 1 20-3 20-6 20-9 20-14 20-19 20-21 20-24 20-26 20-25 20-23 20-21 20-19 20-16 20-14 20-13 20-11 20-9 20-9 20-6 20-4 20-2 20 2 20 5 20 8 20 12 20 13 20 13 20 13 20 12 20 11 20 11 20 9 20 9 20 8 20 9 20 6 20 3 20-1 20-4 20-9 20-17 20-25 20-34 20-43 20-49 20-51 20-52 10-24 10-24 10-21 10-19 10-16 10-13 10-10 10-10 10-10 10-15 10-21 10-31 10-36 10-42 10-48 10-53 10-59 10-64 10-69 10-76 10-82 10-89 10-93 10-94 10-92 10-85 10-72 10-56 10-43 10-32 10-23 10-18 10-13 10-11 10-7 10-7 10-5 10-3 10-2 10 0 10 3 10 4 10 6 10 8 10 9 10 11 10 12 10 13 10 14 10 15 20 33 20 35 20 34 20 34 20 30 20 24 20 19 20 16 20 13 20 11 20 11 20 10 20 11 20 15 20 20 20 22 20 28 20 36 20 42 20 44 10 22 10 22 3 5 12 28 5 11 7 16 13 25 13 25 7 14 5 8 12 20 3 4 10 12 10 9 3 2 12 4 5 0 7-2 13-5 13-8 7-6 5-4 12-12 3-3 10-10 10-7 3-1 12-2 5 2 7 6 13 15 13 22 7 17 5 11 12 31 3 6 10 25 10 24 3 6 12 34 5 16 7 25 13 45 13 47 7 27 5 18 12 42 3 9 10 33 10 35 3 10 10 43" stroke="#A2142F"/>
<path d="M3837 2093l20 2 20 1 20 1 20 1 20 0 20 0 20 0 20-2 20-4 20-7 20-10 20-13 20-16 20-11 20-2 20-1 20 0 20 0 20 2 20 2 20 2 20 2 20 2 20 1 20 2 20 2 20 1 20 2 20 1 20 2 20 2 20 2 20 1 20 2 20 0 20-3 20-6 20-10 20-14 20-19 20-23 20-24 20-28 20-26 20-24 20-22 20-20 20-18 20-16 20-15 20-13 20-11 20-10 20-7 20-5 20-2 20 2 20 5 20 9 20 12 20 14 20 14 20 14 20 13 20 12 20 12 20 11 20 9 20 10 20 9 20 7 20 4 20-1 20-4 20-9 20-17 20-26 20-34 20-44 20-49 20-52 20-52 10-25 10-23 10-22 10-19 10-16 10-13 10-10 10-10 10-10 10-15 10-21 10-31 10-36 10-42 10-48 10-53 10-59 10-64 10-70 10-76 10-82 10-89 10-93 10-94 10-93 10-84 10-73 10-56 10-43 10-32 10-24 10-17 10-13 10-11 10-8 10-6 10-5 10-3 10-2 10 0 10 3 10 4 10 6 10 7 10 10 10 11 10 12 10 13 10 14 10 15 20 33 20 35 20 35 20 34 20 30 20 24 20 19 20 16 20 14 20 11 20 11 20 10 20 11 20 14 20 18 20 20 20 25 20 34 20 42 20 43 10 22 10 22 3 5 12 28 5 11 7 16 13 26 13 25 7 15 5 9 12 22 3 4 10 14 10 12 3 2 12 9 5 3 7 4 13 6 13 5 7 3 5 1 12 3 3 1 10 1 10 1 3 1 12 5 5 5 7 9 13 23 13 30 7 21 5 15 12 36 3 7 10 26 10 24 3 5 12 31 5 12 7 21 13 36 13 38 7 22 5 15 12 38 3 8 10 30 10 33 3 9 10 37" stroke="#0072BD"/>
<path d="M3837 2079l20-2 20-2 20-2 20-3 20-2 20-1 20-2 20-2 20-5 20-6 20-11 20-12 20-14 20-9 20-2 20 1 20 1 20 2 20 4 20 4 20 4 20 3 20 4 20 3 20 3 20 4 20 3 20 3 20 2 20 3 20 3 20 2 20 3 20 1 20 1 20-3 20-7 20-9 20-14 20-20 20-22 20-25 20-27 20-27 20-24 20-23 20-20 20-18 20-17 20-14 20-14 20-12 20-10 20-7 20-5 20-2 20 2 20 6 20 8 20 13 20 14 20 15 20 14 20 14 20 12 20 12 20 12 20 10 20 10 20 10 20 8 20 5 20 0 20-5 20-8 20-18 20-26 20-35 20-44 20-49 20-53 20-51 10-25 10-24 10-21 10-19 10-16 10-13 10-10 10-9 10-10 10-15 10-21 10-29 10-35 10-41 10-46 10-51 10-56 10-62 10-66 10-73 10-79 10-85 10-90 10-91 10-91 10-84 10-74 10-59 10-45 10-34 10-24 10-19 10-14 10-10 10-8 10-6 10-4 10-4 10-2 10 1 10 3 10 4 10 6 10 8 10 9 10 11 10 12 10 13 10 14 10 15 20 31 20 31 20 32 20 30 20 28 20 21 20 16 20 14 20 12 20 10 20 10 20 10 20 11 20 16 20 20 20 24 20 29 20 37 20 43 20 44 10 23 10 23 3 5 12 28 5 11 7 16 13 27 13 25 7 14 5 9 12 20 3 4 10 14 10 12 3 2 12 11 5 4 7 5 13 6 13 5 7 2 5 1 12 2 3 0 10 2 10 2 3 1 12 9 5 5 7 11 13 25 13 34 7 23 5 16 12 40 3 7 10 28 10 25 3 6 12 32 5 13 7 21 13 36 13 38 7 24 5 16 12 41 3 9 10 35 10 40 3 10 10 46" stroke="#D95319"/>
<path d="M3837 1993l20 7 20 6 20 5 20 5 20 5 20 4 20 4 20 2 20 1 20-3 20-7 20-9 20-10 20-7 20 0 20 3 20 3 20 4 20 6 20 6 20 5 20 6 20 5 20 5 20 5 20 4 20 5 20 4 20 3 20 3 20 4 20 3 20 3 20 1 20 1 20-3 20-7 20-10 20-14 20-19 20-22 20-25 20-28 20-27 20-24 20-22 20-20 20-19 20-17 20-14 20-14 20-13 20-11 20-8 20-6 20-3 20 0 20 5 20 7 20 11 20 12 20 13 20 12 20 12 20 10 20 10 20 9 20 8 20 8 20 8 20 6 20 3 20-1 20-3 20-8 20-16 20-23 20-33 20-42 20-47 20-51 20-50 10-24 10-24 10-21 10-19 10-16 10-12 10-10 10-9 10-11 10-14 10-22 10-30 10-36 10-41 10-47 10-52 10-58 10-62 10-68 10-74 10-80 10-87 10-90 10-93 10-90 10-85 10-72 10-58 10-43 10-33 10-24 10-18 10-14 10-10 10-8 10-6 10-4 10-4 10-2 10 0 10 3 10 5 10 6 10 7 10 10 10 10 10 12 10 14 10 14 10 15 20 32 20 33 20 34 20 32 20 28 20 23 20 18 20 15 20 12 20 11 20 11 20 10 20 12 20 16 20 20 20 25 20 31 20 37 20 43 20 45 10 23 10 22 3 6 12 28 5 11 7 16 13 26 13 25 7 13 5 9 12 20 3 4 10 14 10 11 3 3 12 11 5 3 7 5 13 6 13 3 7 1 5 0 12 0 3 0 10-1 10 1 3 0 12 6 5 4 7 10 13 22 13 30 7 21 5 15 12 36 3 6 10 26 10 23 3 5 12 30 5 12 7 21 13 35 13 38 7 23 5 15 12 39 3 8 10 32 10 36 3 9 10 41" stroke="#EDB120"/>
<path d="M3837 2020l20 7 20 6 20 6 20 5 20 4 20 4 20 4 20 2 20-1 20-3 20-8 20-10 20-12 20-8 20-1 20 2 20 2 20 3 20 4 20 5 20 5 20 4 20 4 20 4 20 4 20 3 20 4 20 3 20 3 20 2 20 3 20 3 20 2 20 2 20 0 20-3 20-7 20-10 20-13 20-19 20-22 20-25 20-28 20-27 20-23 20-21 20-20 20-18 20-15 20-14 20-13 20-12 20-10 20-8 20-6 20-3 20 0 20 5 20 7 20 10 20 13 20 12 20 11 20 11 20 10 20 10 20 8 20 8 20 7 20 7 20 5 20 2 20-2 20-6 20-11 20-19 20-28 20-36 20-45 20-50 20-52 20-52 10-26 10-24 10-23 10-21 10-16 10-13 10-10 10-9 10-10 10-15 10-22 10-31 10-38 10-44 10-49 10-54 10-59 10-64 10-70 10-75 10-82 10-87 10-90 10-92 10-89 10-80 10-68 10-53 10-39 10-30 10-21 10-16 10-13 10-9 10-7 10-6 10-5 10-3 10-2 10 0 10 2 10 4 10 6 10 7 10 9 10 10 10 11 10 13 10 13 10 14 20 31 20 33 20 34 20 32 20 29 20 23 20 20 20 16 20 12 20 10 20 9 20 8 20 10 20 15 20 21 20 23 20 29 20 39 20 46 20 47 10 23 10 23 3 5 12 29 5 11 7 17 13 27 13 25 7 14 5 9 12 21 3 3 10 13 10 9 3 2 12 4 5 0 7-1 13-5 13-8 7-7 5-4 12-12 3-3 10-10 10-7 3-2 12-1 5 2 7 5 13 16 13 23 7 17 5 12 12 32 3 6 10 25 10 26 3 6 12 36 5 16 7 26 13 46 13 48 7 28 5 18 12 44 3 9 10 34 10 38 3 10 10 45" stroke="#7E2F8E"/>
<path d="M3837 1977l20 6 20 6 20 5 20 5 20 5 20 5 20 4 20 3 20 1 20-2 20-6 20-8 20-10 20-6 20 0 20 4 20 4 20 6 20 6 20 7 20 7 20 7 20 6 20 6 20 5 20 6 20 5 20 4 20 5 20 4 20 3 20 4 20 3 20 2 20 0 20-2 20-8 20-10 20-14 20-20 20-23 20-26 20-29 20-28 20-25 20-23 20-22 20-20 20-18 20-17 20-16 20-14 20-13 20-9 20-6 20-4 20 1 20 4 20 7 20 11 20 13 20 13 20 13 20 12 20 10 20 10 20 9 20 8 20 8 20 8 20 6 20 4 20-1 20-4 20-7 20-15 20-23 20-32 20-42 20-46 20-50 20-50 10-24 10-24 10-21 10-19 10-16 10-12 10-10 10-9 10-10 10-15 10-22 10-31 10-37 10-43 10-49 10-54 10-60 10-65 10-71 10-76 10-84 10-89 10-94 10-94 10-92 10-83 10-71 10-55 10-41 10-30 10-22 10-17 10-13 10-10 10-8 10-6 10-5 10-4 10-1 10 0 10 2 10 4 10 6 10 7 10 9 10 11 10 11 10 13 10 14 10 15 20 33 20 35 20 35 20 35 20 30 20 25 20 21 20 17 20 14 20 12 20 11 20 11 20 13 20 17 20 22 20 26 20 32 20 39 20 44 20 45 10 23 10 23 3 6 12 28 5 11 7 16 13 26 13 25 7 14 5 9 12 19 3 4 10 12 10 10 3 2 12 8 5 2 7 2 13-1 13-4 7-4 5-4 12-8 3-2 10-6 10-4 3 0 12 2 5 4 7 7 13 20 13 27 7 19 5 14 12 34 3 6 10 26 10 24 3 6 12 32 5 14 7 23 13 40 13 42 7 25 5 16 12 41 3 8 10 33 10 35 3 9 10 42" stroke="#77AC30"/>
<path d="M3837 2018l20 5 20 4 20 4 20 3 20 4 20 2 20 2 20 1 20-1 20-4 20-8 20-11 20-12 20-7 20-2 20 2 20 1 20 3 20 3 20 4 20 4 20 4 20 3 20 3 20 4 20 3 20 3 20 2 20 3 20 2 20 3 20 3 20 2 20 2 20 0 20-3 20-6 20-9 20-14 20-19 20-22 20-24 20-26 20-26 20-24 20-21 20-19 20-17 20-15 20-13 20-11 20-11 20-9 20-6 20-4 20-3 20 2 20 4 20 8 20 11 20 12 20 12 20 11 20 11 20 10 20 9 20 8 20 7 20 7 20 7 20 6 20 3 20-2 20-4 20-9 20-18 20-26 20-34 20-44 20-49 20-51 20-51 10-25 10-25 10-22 10-20 10-16 10-13 10-10 10-9 10-10 10-15 10-22 10-31 10-39 10-44 10-49 10-55 10-60 10-65 10-70 10-77 10-84 10-89 10-92 10-94 10-90 10-82 10-68 10-53 10-40 10-29 10-22 10-16 10-12 10-10 10-7 10-6 10-5 10-4 10-2 10 1 10 2 10 4 10 5 10 8 10 9 10 11 10 11 10 13 10 14 10 15 20 33 20 36 20 36 20 34 20 31 20 25 20 21 20 17 20 14 20 11 20 10 20 10 20 10 20 16 20 19 20 23 20 28 20 38 20 44 20 45 10 22 10 23 3 5 12 28 5 11 7 17 13 26 13 25 7 14 5 9 12 20 3 4 10 13 10 10 3 2 12 7 5 1 7 1 13-1 13-3 7-3 5-2 12-7 3-1 10-6 10-4 3 0 12 1 5 3 7 7 13 19 13 26 7 18 5 14 12 33 3 7 10 25 10 24 3 7 12 33 5 14 7 24 13 41 13 43 7 25 5 17 12 41 3 8 10 32 10 34 3 9 10 41" stroke="#4DBEEE"/>
<path d="M3837 2036l20 5 20 4 20 3 20 2 20 3 20 2 20 1 20 0 20-2 20-4 20-9 20-11 20-13 20-9 20-1 20 0 20 1 20 2 20 2 20 3 20 3 20 3 20 3 20 2 20 2 20 3 20 2 20 2 20 2 20 2 20 3 20 2 20 2 20 1 20 1 20-3 20-6 20-9 20-14 20-19 20-22 20-24 20-26 20-26 20-23 20-22 20-19 20-16 20-15 20-13 20-12 20-10 20-8 20-6 20-4 20-2 20 2 20 6 20 9 20 13 20 14 20 14 20 14 20 13 20 13 20 12 20 11 20 10 20 9 20 9 20 7 20 4 20-2 20-6 20-10 20-19 20-28 20-37 20-45 20-51 20-53 20-53 10-25 10-25 10-22 10-20 10-16 10-13 10-11 10-9 10-11 10-14 10-22 10-31 10-38 10-44 10-49 10-56 10-60 10-67 10-71 10-79 10-85 10-91 10-95 10-96 10-93 10-84 10-69 10-55 10-40 10-29 10-22 10-17 10-12 10-10 10-8 10-7 10-5 10-3 10-2 10 0 10 2 10 4 10 5 10 8 10 9 10 10 10 12 10 13 10 14 10 15 20 33 20 37 20 37 20 35 20 31 20 27 20 21 20 18 20 14 20 12 20 9 20 10 20 10 20 15 20 18 20 21 20 26 20 36 20 44 20 44 10 22 10 22 3 6 12 28 5 11 7 16 13 27 13 26 7 14 5 10 12 21 3 4 10 13 10 11 3 2 12 6 5 1 7 0 13 0 13-2 7-1 5-2 12-4 3-1 10-4 10-3 3-1 12 3 5 3 7 8 13 19 13 27 7 19 5 13 12 34 3 7 10 25 10 25 3 6 12 32 5 14 7 23 13 40 13 41 7 25 5 16 12 38 3 7 10 30 10 31 3 8 10 36" stroke="#A2142F"/>
<path d="M3837 2027l20 5 20 4 20 4 20 3 20 3 20 3 20 2 20 1 20-1 20-4 20-8 20-11 20-12 20-8 20-1 20 2 20 2 20 4 20 4 20 5 20 6 20 4 20 5 20 4 20 4 20 4 20 4 20 3 20 4 20 3 20 3 20 3 20 2 20 2 20 0 20-3 20-6 20-11 20-13 20-19 20-23 20-25 20-28 20-27 20-24 20-21 20-20 20-19 20-16 20-15 20-13 20-12 20-11 20-8 20-6 20-3 20 1 20 5 20 8 20 11 20 14 20 13 20 13 20 12 20 11 20 11 20 10 20 8 20 9 20 7 20 6 20 2 20-2 20-7 20-12 20-20 20-28 20-37 20-46 20-51 20-53 20-53 10-25 10-25 10-24 10-20 10-17 10-13 10-10 10-9 10-10 10-15 10-22 10-31 10-39 10-44 10-49 10-54 10-60 10-64 10-69 10-76 10-81 10-88 10-91 10-91 10-89 10-80 10-68 10-52 10-40 10-28 10-22 10-16 10-12 10-9 10-8 10-6 10-4 10-4 10-2 10 1 10 2 10 4 10 5 10 7 10 9 10 10 10 12 10 12 10 13 10 14 20 31 20 34 20 34 20 32 20 29 20 23 20 20 20 16 20 13 20 10 20 8 20 8 20 10 20 15 20 21 20 23 20 29 20 39 20 46 20 47 10 23 10 23 3 5 12 29 5 11 7 17 13 27 13 25 7 15 5 9 12 21 3 4 10 14 10 10 3 3 12 7 5 2 7 2 13 2 13 1 7-1 5 0 12-2 3-1 10-1 10-1 3 0 12 5 5 5 7 9 13 22 13 30 7 21 5 15 12 37 3 7 10 28 10 25 3 6 12 33 5 14 7 22 13 40 13 40 7 24 5 16 12 40 3 8 10 33 10 35 3 9 10 40" stroke="#0072BD"/>
<path d="M3837 2030l20 1 20 1 20 1 20 1 20 1 20 1 20 1 20 1 20-2 20-4 20-8 20-10 20-11 20-7 20 0 20 2 20 3 20 4 20 5 20 6 20 6 20 5 20 5 20 4 20 5 20 4 20 4 20 4 20 3 20 3 20 4 20 3 20 2 20 2 20 1 20-3 20-7 20-10 20-14 20-19 20-22 20-26 20-27 20-27 20-24 20-22 20-21 20-18 20-17 20-15 20-14 20-12 20-11 20-9 20-6 20-3 20 1 20 4 20 7 20 11 20 13 20 12 20 13 20 11 20 11 20 9 20 9 20 8 20 8 20 8 20 6 20 3 20-1 20-5 20-10 20-17 20-26 20-35 20-44 20-49 20-52 20-51 10-25 10-24 10-23 10-20 10-16 10-13 10-10 10-9 10-10 10-14 10-22 10-31 10-38 10-44 10-48 10-54 10-59 10-64 10-70 10-75 10-82 10-87 10-91 10-92 10-89 10-82 10-68 10-54 10-40 10-30 10-22 10-16 10-13 10-9 10-8 10-5 10-5 10-4 10-2 10 1 10 2 10 4 10 5 10 8 10 8 10 11 10 11 10 12 10 13 10 15 20 31 20 33 20 33 20 32 20 29 20 23 20 19 20 16 20 13 20 9 20 9 20 8 20 10 20 16 20 22 20 25 20 31 20 40 20 48 20 48 10 23 10 24 3 6 12 29 5 12 7 17 13 27 13 26 7 15 5 9 12 22 3 4 10 14 10 13 3 3 12 13 5 5 7 7 13 10 13 9 7 4 5 3 12 7 3 1 10 4 10 5 3 1 12 10 5 6 7 12 13 26 13 36 7 24 5 17 12 41 3 7 10 28 10 25 3 6 12 30 5 13 7 20 13 34 13 36 7 23 5 16 12 41 3 9 10 38 10 41 3 10 10 48" stroke="#D95319"/>
<path d="M3837 2069l20 3 20 2 20 2 20 1 20 2 20 1 20 1 20-1 20-3 20-6 20-9 20-13 20-14 20-10 20-2 20 0 20 1 20 2 20 3 20 3 20 3 20 3 20 3 20 3 20 2 20 3 20 2 20 3 20 2 20 2 20 2 20 3 20 2 20 1 20 0 20-2 20-7 20-9 20-13 20-19 20-21 20-24 20-26 20-26 20-21 20-20 20-17 20-16 20-13 20-11 20-9 20-9 20-7 20-5 20-5 20-2 20 1 20 6 20 7 20 11 20 12 20 11 20 10 20 10 20 9 20 9 20 9 20 7 20 6 20 7 20 6 20 3 20-2 20-5 20-11 20-19 20-27 20-37 20-45 20-51 20-53 20-52 10-26 10-24 10-22 10-20 10-16 10-13 10-11 10-9 10-11 10-14 10-22 10-30 10-37 10-42 10-48 10-53 10-58 10-63 10-68 10-75 10-81 10-87 10-91 10-92 10-91 10-83 10-71 10-56 10-43 10-31 10-23 10-18 10-13 10-10 10-8 10-6 10-5 10-4 10-2 10 1 10 2 10 4 10 5 10 8 10 8 10 11 10 11 10 13 10 13 10 15 20 30 20 33 20 33 20 32 20 28 20 23 20 19 20 15 20 13 20 10 20 8 20 9 20 11 20 15 20 21 20 25 20 30 20 39 20 46 20 46 10 23 10 24 3 6 12 28 5 12 7 17 13 27 13 25 7 15 5 9 12 22 3 4 10 15 10 13 3 3 12 13 5 5 7 8 13 12 13 11 7 5 5 4 12 9 3 1 10 6 10 6 3 2 12 11 5 6 7 12 13 27 13 36 7 25 5 17 12 40 3 8 10 26 10 23 3 6 12 27 5 11 7 17 13 30 13 31 7 19 5 14 12 34 3 7 10 29 10 30 3 8 10 34" stroke="#EDB120"/>
<path d="M3837 1942l20 7 20 7 20 7 20 7 20 7 20 6 20 5 20 4 20 3 20-1 20-5 20-7 20-7 20-5 20 1 20 4 20 4 20 5 20 6 20 6 20 6 20 6 20 5 20 5 20 5 20 5 20 4 20 5 20 3 20 4 20 3 20 4 20 2 20 2 20 1 20-3 20-6 20-10 20-14 20-20 20-23 20-25 20-27 20-27 20-25 20-23 20-21 20-18 20-18 20-15 20-15 20-13 20-11 20-7 20-5 20-3 20 2 20 5 20 9 20 12 20 15 20 14 20 15 20 13 20 13 20 11 20 11 20 10 20 9 20 9 20 7 20 4 20-2 20-6 20-10 20-20 20-28 20-37 20-45 20-51 20-53 20-53 10-26 10-25 10-23 10-21 10-17 10-13 10-10 10-10 10-10 10-15 10-23 10-32 10-39 10-46 10-50 10-56 10-61 10-66 10-71 10-77 10-83 10-90 10-92 10-93 10-89 10-80 10-66 10-50 10-38 10-27 10-20 10-16 10-11 10-9 10-8 10-6 10-5 10-3 10-2 10 0 10 3 10 4 10 6 10 7 10 10 10 11 10 13 10 13 10 15 10 16 20 35 20 38 20 38 20 36 20 33 20 27 20 21 20 18 20 15 20 13 20 12 20 11 20 12 20 15 20 18 20 22 20 27 20 34 20 41 20 43 10 22 10 22 3 5 12 28 5 11 7 16 13 26 13 25 7 14 5 9 12 21 3 3 10 14 10 11 3 3 12 9 5 3 7 4 13 5 13 3 7 1 5 0 12 1 3 0 10 0 10 1 3 1 12 6 5 5 7 10 13 24 13 31 7 22 5 16 12 38 3 7 10 27 10 25 3 6 12 32 5 13 7 22 13 37 13 39 7 24 5 16 12 40 3 8 10 34 10 37 3 10 10 42" stroke="#7E2F8E"/>
<path d="M3837 2016l20 6 20 7 20 5 20 5 20 4 20 4 20 3 20 2 20-1 20-3 20-8 20-11 20-12 20-8 20-1 20 1 20 2 20 3 20 4 20 4 20 5 20 4 20 4 20 3 20 4 20 3 20 3 20 3 20 3 20 3 20 2 20 3 20 2 20 2 20 0 20-2 20-7 20-10 20-14 20-19 20-23 20-25 20-27 20-27 20-24 20-22 20-20 20-19 20-16 20-15 20-13 20-12 20-10 20-8 20-5 20-3 20 1 20 6 20 8 20 11 20 14 20 13 20 14 20 12 20 12 20 11 20 10 20 9 20 8 20 9 20 7 20 3 20-2 20-5 20-10 20-18 20-27 20-36 20-45 20-49 20-53 20-52 10-25 10-24 10-22 10-20 10-16 10-13 10-10 10-9 10-10 10-14 10-22 10-30 10-37 10-42 10-47 10-52 10-57 10-62 10-67 10-73 10-79 10-85 10-89 10-90 10-89 10-82 10-70 10-57 10-42 10-32 10-23 10-18 10-13 10-10 10-7 10-6 10-4 10-4 10-2 10 1 10 2 10 5 10 5 10 7 10 9 10 10 10 12 10 12 10 13 10 14 20 29 20 31 20 31 20 30 20 26 20 21 20 17 20 14 20 11 20 9 20 8 20 8 20 10 20 15 20 21 20 24 20 29 20 39 20 46 20 47 10 23 10 23 3 6 12 29 5 11 7 17 13 27 13 26 7 14 5 9 12 22 3 4 10 14 10 12 3 2 12 10 5 4 7 4 13 7 13 5 7 3 5 1 12 4 3 0 10 3 10 3 3 1 12 9 5 6 7 11 13 26 13 35 7 23 5 17 12 41 3 7 10 29 10 26 3 6 12 32 5 14 7 21 13 37 13 39 7 23 5 16 12 42 3 9 10 36 10 39 3 11 10 46" stroke="#77AC30"/>
<path d="M3837 2091l20-3 20-2 20-3 20-3 20-2 20-1 20-2 20-2 20-4 20-7 20-10 20-12 20-14 20-9 20-1 20 1 20 2 20 3 20 4 20 5 20 5 20 4 20 5 20 4 20 3 20 4 20 4 20 3 20 3 20 3 20 3 20 3 20 2 20 2 20 0 20-2 20-8 20-10 20-14 20-19 20-23 20-26 20-29 20-28 20-24 20-23 20-21 20-20 20-17 20-16 20-15 20-13 20-11 20-9 20-5 20-3 20 2 20 6 20 9 20 12 20 15 20 15 20 14 20 14 20 13 20 12 20 11 20 11 20 9 20 10 20 7 20 4 20-2 20-7 20-11 20-20 20-29 20-37 20-47 20-51 20-54 20-53 10-26 10-25 10-23 10-20 10-17 10-13 10-10 10-10 10-10 10-15 10-22 10-30 10-38 10-43 10-48 10-53 10-59 10-63 10-69 10-74 10-81 10-86 10-91 10-91 10-89 10-81 10-69 10-55 10-41 10-30 10-22 10-17 10-13 10-9 10-7 10-6 10-4 10-3 10-1 10 0 10 4 10 5 10 6 10 8 10 11 10 11 10 13 10 15 10 15 10 16 20 35 20 35 20 36 20 34 20 30 20 24 20 19 20 15 20 13 20 13 20 13 20 12 20 13 20 15 20 18 20 22 20 27 20 34 20 38 20 41 10 22 10 21 3 5 12 27 5 10 7 16 13 25 13 23 7 14 5 8 12 20 3 3 10 13 10 10 3 3 12 7 5 3 7 2 13 0 13-2 7-2 5-2 12-5 3-2 10-4 10-3 3-1 12 3 5 3 7 8 13 19 13 27 7 19 5 13 12 33 3 7 10 24 10 23 3 6 12 31 5 13 7 22 13 39 13 40 7 24 5 15 12 38 3 8 10 30 10 31 3 9 10 37" stroke="#4DBEEE"/>
<path d="M3837 1983l20 7 20 6 20 5 20 5 20 5 20 5 20 4 20 3 20 0 20-2 20-7 20-8 20-10 20-7 20 0 20 3 20 4 20 4 20 6 20 5 20 6 20 6 20 5 20 5 20 5 20 4 20 4 20 4 20 4 20 3 20 4 20 3 20 3 20 1 20 1 20-3 20-7 20-10 20-15 20-20 20-24 20-26 20-29 20-29 20-26 20-25 20-23 20-21 20-20 20-19 20-17 20-16 20-13 20-10 20-6 20-2 20 1 20 5 20 8 20 11 20 14 20 14 20 15 20 13 20 12 20 10 20 10 20 9 20 10 20 9 20 8 20 4 20 1 20-3 20-7 20-15 20-23 20-33 20-41 20-47 20-50 20-50 10-25 10-23 10-22 10-19 10-16 10-13 10-10 10-9 10-10 10-14 10-23 10-30 10-38 10-44 10-48 10-55 10-59 10-65 10-70 10-76 10-83 10-89 10-92 10-94 10-90 10-83 10-69 10-54 10-41 10-30 10-22 10-16 10-13 10-10 10-7 10-6 10-5 10-4 10-2 10 1 10 2 10 4 10 5 10 8 10 9 10 10 10 12 10 13 10 13 10 15 20 33 20 34 20 35 20 34 20 30 20 24 20 20 20 17 20 13 20 11 20 9 20 9 20 11 20 15 20 20 20 23 20 27 20 37 20 45 20 45 10 22 10 23 3 5 12 28 5 11 7 16 13 27 13 25 7 14 5 9 12 20 3 4 10 13 10 10 3 1 12 5 5 1 7-1 13-3 13-5 7-5 5-3 12-9 3-2 10-8 10-7 3-1 12-1 5 2 7 6 13 16 13 22 7 16 5 12 12 30 3 6 10 23 10 22 3 6 12 31 5 15 7 22 13 41 13 42 7 25 5 16 12 36 3 6 10 26 10 27 3 7 10 32" stroke="#A2142F"/>
<path d="M3837 2007l20 3 20 3 20 2 20 3 20 3 20 2 20 3 20 1 20 0 20-3 20-8 20-9 20-10 20-7 20 0 20 3 20 3 20 5 20 5 20 5 20 6 20 5 20 5 20 5 20 4 20 4 20 4 20 4 20 4 20 3 20 3 20 3 20 3 20 2 20 0 20-2 20-7 20-10 20-15 20-19 20-23 20-25 20-29 20-27 20-25 20-23 20-21 20-20 20-17 20-16 20-15 20-13 20-12 20-8 20-5 20-3 20 2 20 6 20 9 20 13 20 16 20 15 20 16 20 14 20 14 20 13 20 12 20 12 20 10 20 10 20 8 20 4 20-1 20-6 20-10 20-19 20-28 20-36 20-45 20-51 20-53 20-53 10-25 10-24 10-23 10-20 10-16 10-13 10-10 10-10 10-10 10-14 10-22 10-31 10-37 10-42 10-47 10-53 10-58 10-64 10-68 10-74 10-81 10-87 10-90 10-93 10-90 10-82 10-71 10-56 10-42 10-31 10-24 10-17 10-13 10-10 10-7 10-6 10-5 10-3 10-2 10 0 10 3 10 4 10 6 10 8 10 10 10 10 10 13 10 13 10 14 10 16 20 32 20 35 20 34 20 33 20 29 20 24 20 18 20 16 20 13 20 12 20 12 20 11 20 13 20 17 20 21 20 26 20 31 20 38 20 42 20 45 10 22 10 23 3 5 12 28 5 11 7 16 13 26 13 24 7 14 5 8 12 20 3 3 10 12 10 10 3 2 12 9 5 2 7 2 13 0 13-5 7-5 5-3 12-9 3-2 10-7 10-3 3 0 12 3 5 3 7 8 13 20 13 28 7 19 5 14 12 34 3 7 10 26 10 24 3 6 12 31 5 14 7 23 13 40 13 41 7 24 5 17 12 40 3 8 10 32 10 35 3 9 10 42" stroke="#0072BD"/>
<path d="M3837 1941l20 5 20 6 20 6 20 5 20 6 20 6 20 5 20 4 20 3 20 0 20-5 20-7 20-7 20-4 20 1 20 4 20 6 20 5 20 7 20 7 20 6 20 7 20 6 20 5 20 6 20 5 20 5 20 5 20 4 20 4 20 4 20 4 20 3 20 2 20 1 20-2 20-6 20-9 20-14 20-19 20-21 20-25 20-27 20-26 20-23 20-21 20-19 20-17 20-15 20-14 20-12 20-10 20-9 20-7 20-5 20-2 20 1 20 6 20 8 20 11 20 13 20 13 20 12 20 12 20 10 20 10 20 10 20 8 20 8 20 8 20 6 20 3 20-1 20-5 20-10 20-18 20-26 20-35 20-44 20-50 20-52 20-51 10-25 10-24 10-22 10-19 10-16 10-12 10-10 10-9 10-10 10-14 10-22 10-29 10-36 10-41 10-47 10-52 10-57 10-61 10-67 10-73 10-80 10-85 10-90 10-91 10-90 10-84 10-72 10-58 10-43 10-33 10-24 10-18 10-14 10-10 10-7 10-6 10-4 10-4 10-1 10 0 10 3 10 5 10 7 10 8 10 10 10 11 10 13 10 13 10 15 10 16 20 33 20 34 20 33 20 32 20 29 20 22 20 18 20 14 20 13 20 12 20 11 20 12 20 12 20 15 20 18 20 22 20 26 20 34 20 39 20 42 10 22 10 22 3 5 12 27 5 11 7 16 13 25 13 25 7 14 5 9 12 21 3 4 10 14 10 12 3 3 12 12 5 5 7 6 13 9 13 8 7 4 5 3 12 6 3 1 10 4 10 4 3 1 12 9 5 6 7 11 13 26 13 34 7 24 5 16 12 40 3 7 10 28 10 24 3 5 12 30 5 12 7 20 13 34 13 35 7 22 5 15 12 39 3 8 10 34 10 37 3 9 10 43" stroke="#D95319"/>
<path d="M3837 1996l20 10 20 9 20 8 20 6 20 6 20 5 20 4 20 2 20 0 20-3 20-8 20-10 20-12 20-7 20-2 20 1 20 1 20 2 20 3 20 3 20 3 20 3 20 2 20 3 20 2 20 2 20 2 20 3 20 2 20 2 20 2 20 2 20 2 20 1 20 1 20-3 20-6 20-9 20-14 20-19 20-23 20-24 20-26 20-25 20-24 20-22 20-19 20-17 20-16 20-13 20-12 20-11 20-9 20-6 20-5 20-2 20 2 20 6 20 8 20 12 20 14 20 14 20 14 20 13 20 12 20 11 20 11 20 9 20 9 20 9 20 7 20 3 20-1 20-5 20-9 20-19 20-26 20-36 20-45 20-50 20-52 20-52 10-26 10-24 10-22 10-20 10-16 10-13 10-10 10-10 10-10 10-15 10-22 10-30 10-38 10-43 10-49 10-54 10-59 10-65 10-70 10-76 10-83 10-88 10-93 10-94 10-90 10-83 10-70 10-55 10-41 10-30 10-22 10-17 10-13 10-9 10-8 10-6 10-5 10-4 10-2 10 1 10 2 10 4 10 6 10 7 10 9 10 11 10 12 10 12 10 14 10 15 20 32 20 35 20 35 20 33 20 30 20 25 20 20 20 16 20 13 20 11 20 10 20 9 20 11 20 15 20 20 20 23 20 29 20 37 20 45 20 45 10 23 10 22 3 6 12 28 5 11 7 16 13 27 13 25 7 14 5 9 12 20 3 4 10 13 10 10 3 2 12 7 5 1 7 1 13-1 13-4 7-2 5-3 12-6 3-2 10-6 10-4 3 0 12 1 5 3 7 8 13 19 13 27 7 19 5 14 12 35 3 7 10 26 10 26 3 7 12 35 5 15 7 24 13 44 13 44 7 27 5 17 12 44 3 8 10 36 10 38 3 11 10 45" stroke="#EDB120"/>
<path d="M3837 1977l20 7 20 6 20 5 20 6 20 5 20 5 20 4 20 3 20 1 20-2 20-7 20-8 20-10 20-6 20 0 20 3 20 4 20 4 20 5 20 6 20 6 20 5 20 5 20 4 20 5 20 4 20 4 20 4 20 3 20 4 20 3 20 3 20 3 20 1 20 1 20-3 20-6 20-10 20-14 20-19 20-22 20-25 20-28 20-26 20-24 20-22 20-20 20-18 20-16 20-14 20-13 20-12 20-10 20-7 20-5 20-3 20 2 20 5 20 8 20 12 20 14 20 13 20 13 20 12 20 11 20 10 20 10 20 8 20 8 20 8 20 6 20 2 20-2 20-7 20-11 20-19 20-28 20-37 20-45 20-50 20-53 20-53 10-25 10-25 10-23 10-21 10-16 10-13 10-10 10-9 10-10 10-15 10-22 10-31 10-38 10-43 10-48 10-53 10-57 10-63 10-67 10-73 10-80 10-84 10-89 10-89 10-87 10-80 10-68 10-53 10-41 10-30 10-22 10-17 10-12 10-10 10-7 10-5 10-5 10-3 10-2 10 1 10 2 10 4 10 6 10 7 10 9 10 10 10 12 10 12 10 14 10 14 20 30 20 32 20 32 20 30 20 27 20 22 20 17 20 15 20 12 20 9 20 8 20 8 20 10 20 16 20 20 20 23 20 29 20 38 20 46 20 46 10 23 10 22 3 6 12 28 5 12 7 16 13 27 13 25 7 14 5 9 12 21 3 3 10 13 10 9 3 2 12 4 5 0 7-1 13-6 13-8 7-6 5-5 12-12 3-3 10-10 10-7 3-2 12-2 5 2 7 6 13 15 13 22 7 16 5 11 12 30 3 6 10 24 10 23 3 6 12 33 5 15 7 24 13 44 13 44 7 26 5 17 12 39 3 7 10 29 10 30 3 8 10 36" stroke="#7E2F8E"/>
<path d="M3837 2057l20 2 20 1 20 1 20 0 20 1 20 0 20 0 20-1 20-3 20-6 20-10 20-12 20-14 20-9 20-2 20 0 20 1 20 1 20 3 20 3 20 3 20 3 20 3 20 3 20 2 20 3 20 3 20 2 20 2 20 3 20 2 20 3 20 2 20 1 20 1 20-3 20-6 20-9 20-14 20-19 20-22 20-24 20-26 20-26 20-23 20-21 20-19 20-17 20-14 20-13 20-11 20-10 20-8 20-6 20-4 20-1 20 2 20 7 20 9 20 13 20 15 20 15 20 14 20 13 20 13 20 13 20 11 20 11 20 9 20 10 20 7 20 3 20-2 20-6 20-12 20-20 20-30 20-38 20-47 20-52 20-55 20-53 10-26 10-25 10-23 10-21 10-16 10-14 10-10 10-10 10-10 10-15 10-22 10-31 10-37 10-43 10-48 10-54 10-59 10-63 10-69 10-75 10-82 10-87 10-91 10-92 10-90 10-82 10-70 10-55 10-41 10-31 10-23 10-16 10-13 10-10 10-8 10-6 10-4 10-4 10-2 10 1 10 2 10 4 10 6 10 7 10 9 10 11 10 12 10 13 10 13 10 15 20 32 20 34 20 34 20 33 20 29 20 23 20 19 20 16 20 12 20 11 20 10 20 9 20 10 20 16 20 20 20 23 20 28 20 38 20 44 20 45 10 22 10 23 3 5 12 28 5 11 7 17 13 26 13 25 7 14 5 9 12 20 3 4 10 13 10 10 3 2 12 7 5 2 7 1 13-1 13-3 7-3 5-2 12-7 3-2 10-6 10-5 3-1 12 0 5 2 7 6 13 16 13 23 7 16 5 12 12 30 3 6 10 22 10 21 3 5 12 29 5 13 7 22 13 38 13 40 7 23 5 15 12 34 3 7 10 25 10 25 3 7 10 30" stroke="#77AC30"/>
<path d="M3837 2084l20 2 20 2 20 0 20 1 20 0 20 0 20 0 20-2 20-4 20-7 20-10 20-13 20-15 20-10 20-3 20 0 20 0 20 2 20 2 20 4 20 3 20 3 20 3 20 2 20 3 20 3 20 2 20 3 20 2 20 2 20 2 20 3 20 2 20 1 20 0 20-2 20-7 20-10 20-13 20-19 20-21 20-25 20-26 20-26 20-23 20-20 20-19 20-16 20-14 20-12 20-11 20-9 20-8 20-6 20-5 20-2 20 3 20 6 20 10 20 13 20 15 20 14 20 14 20 13 20 13 20 13 20 12 20 11 20 10 20 10 20 7 20 4 20-2 20-6 20-11 20-20 20-29 20-38 20-47 20-52 20-55 20-54 10-25 10-24 10-22 10-19 10-17 10-13 10-11 10-10 10-10 10-15 10-22 10-30 10-36 10-43 10-48 10-54 10-60 10-66 10-71 10-78 10-85 10-91 10-96 10-97 10-95 10-86 10-73 10-58 10-43 10-31 10-24 10-17 10-14 10-10 10-9 10-6 10-6 10-3 10-2 10 0 10 2 10 4 10 5 10 8 10 8 10 11 10 11 10 12 10 14 10 14 20 32 20 35 20 35 20 34 20 30 20 25 20 21 20 17 20 14 20 11 20 9 20 10 20 11 20 16 20 22 20 25 20 31 20 40 20 46 20 46 10 23 10 23 3 6 12 29 5 11 7 16 13 27 13 25 7 14 5 9 12 20 3 4 10 13 10 10 3 2 12 7 5 2 7 1 13-1 13-4 7-4 5-2 12-8 3-2 10-6 10-5 3-1 12 1 5 3 7 7 13 17 13 25 7 18 5 12 12 32 3 6 10 24 10 23 3 6 12 31 5 13 7 23 13 39 13 41 7 24 5 16 12 37 3 7 10 28 10 30 3 8 10 34" stroke="#4DBEEE"/>
<path d="M3837 1990l20 7 20 6 20 6 20 5 20 5 20 5 20 4 20 2 20 1 20-2 20-7 20-9 20-11 20-6 20-1 20 3 20 3 20 4 20 4 20 5 20 5 20 5 20 4 20 4 20 5 20 3 20 4 20 3 20 4 20 3 20 3 20 2 20 3 20 1 20 1 20-3 20-7 20-10 20-14 20-20 20-23 20-26 20-29 20-27 20-26 20-24 20-23 20-20 20-19 20-17 20-16 20-15 20-12 20-9 20-6 20-2 20 2 20 5 20 8 20 12 20 14 20 15 20 15 20 14 20 12 20 12 20 10 20 10 20 11 20 9 20 9 20 4 20 0 20-4 20-8 20-17 20-26 20-35 20-43 20-49 20-51 20-51 10-25 10-24 10-22 10-20 10-15 10-13 10-9 10-9 10-10 10-14 10-21 10-29 10-37 10-41 10-46 10-52 10-56 10-61 10-66 10-72 10-79 10-84 10-88 10-90 10-89 10-82 10-71 10-57 10-43 10-33 10-24 10-17 10-14 10-10 10-7 10-5 10-5 10-3 10-2 10 0 10 3 10 5 10 6 10 8 10 9 10 11 10 12 10 14 10 14 10 15 20 31 20 32 20 32 20 31 20 27 20 21 20 16 20 14 20 11 20 10 20 8 20 9 20 9 20 13 20 17 20 21 20 25 20 35 20 43 20 44 10 22 10 22 3 5 12 28 5 11 7 17 13 26 13 25 7 15 5 9 12 21 3 4 10 14 10 10 3 2 12 6 5 1 7 1 13 0 13-2 7-2 5-2 12-5 3-1 10-5 10-4 3 0 12 1 5 3 7 7 13 18 13 26 7 18 5 12 12 33 3 6 10 24 10 23 3 6 12 31 5 13 7 23 13 39 13 40 7 23 5 16 12 36 3 7 10 27 10 27 3 8 10 32" stroke="#A2142F"/>
<path d="M3837 1958l20 8 20 7 20 8 20 6 20 7 20 6 20 5 20 4 20 2 20-1 20-6 20-7 20-9 20-5 20 0 20 4 20 4 20 5 20 6 20 7 20 6 20 6 20 6 20 5 20 5 20 5 20 5 20 4 20 4 20 4 20 3 20 4 20 2 20 2 20 1 20-3 20-7 20-10 20-14 20-20 20-23 20-25 20-29 20-27 20-25 20-23 20-22 20-19 20-18 20-16 20-15 20-14 20-12 20-8 20-6 20-3 20 2 20 5 20 7 20 12 20 13 20 14 20 13 20 13 20 11 20 10 20 10 20 8 20 9 20 8 20 7 20 3 20-1 20-5 20-10 20-18 20-26 20-36 20-44 20-49 20-52 20-51 10-25 10-25 10-22 10-20 10-17 10-12 10-10 10-9 10-10 10-15 10-22 10-31 10-38 10-43 10-49 10-54 10-59 10-64 10-69 10-75 10-82 10-87 10-90 10-92 10-89 10-81 10-68 10-53 10-40 10-30 10-21 10-17 10-12 10-9 10-8 10-6 10-4 10-4 10-2 10 1 10 2 10 4 10 6 10 7 10 9 10 10 10 12 10 13 10 13 10 15 20 32 20 33 20 35 20 32 20 29 20 24 20 19 20 16 20 13 20 10 20 9 20 9 20 11 20 17 20 22 20 26 20 33 20 40 20 47 20 46 10 24 10 23 3 6 12 29 5 11 7 17 13 26 13 25 7 14 5 9 12 19 3 4 10 13 10 10 3 3 12 8 5 3 7 3 13 1 13-2 7-2 5-2 12-5 3-2 10-4 10-2 3 0 12 4 5 4 7 9 13 21 13 30 7 21 5 15 12 37 3 7 10 28 10 26 3 7 12 35 5 15 7 24 13 43 13 44 7 27 5 18 12 48 3 9 10 41 10 46 3 12 10 55" stroke="#0072BD"/>
<path d="M3837 2093l20 2 20 1 20 1 20 1 20 0 20 0 20 0 20-2 20-4 20-7 20-10 20-13 20-16 20-11 20-2 20 0 20 0 20 2 20 2 20 4 20 3 20 3 20 3 20 2 20 3 20 2 20 3 20 2 20 2 20 2 20 2 20 2 20 2 20 1 20-1 20-3 20-7 20-11 20-15 20-20 20-23 20-27 20-28 20-29 20-25 20-24 20-23 20-20 20-19 20-18 20-16 20-15 20-12 20-9 20-6 20-2 20 2 20 5 20 8 20 11 20 15 20 14 20 14 20 14 20 12 20 11 20 10 20 10 20 10 20 9 20 8 20 4 20 0 20-4 20-8 20-16 20-25 20-34 20-43 20-49 20-51 20-51 10-25 10-24 10-22 10-20 10-16 10-13 10-10 10-9 10-10 10-15 10-22 10-31 10-37 10-44 10-48 10-55 10-59 10-65 10-70 10-76 10-83 10-88 10-92 10-94 10-91 10-82 10-70 10-54 10-41 10-30 10-22 10-16 10-13 10-10 10-7 10-6 10-5 10-4 10-2 10 0 10 3 10 4 10 5 10 8 10 9 10 10 10 11 10 13 10 14 10 14 20 32 20 34 20 35 20 33 20 30 20 24 20 20 20 17 20 13 20 11 20 9 20 9 20 11 20 16 20 21 20 23 20 29 20 39 20 45 20 46 10 23 10 23 3 5 12 29 5 11 7 17 13 27 13 25 7 14 5 9 12 22 3 4 10 14 10 13 3 2 12 12 5 4 7 6 13 9 13 8 7 4 5 2 12 6 3 1 10 3 10 4 3 1 12 8 5 6 7 11 13 24 13 34 7 23 5 15 12 38 3 8 10 25 10 23 3 6 12 27 5 12 7 18 13 32 13 33 7 20 5 13 12 34 3 7 10 27 10 28 3 7 10 32" stroke="#D95319"/>
<path d="M3837 1989l20 6 20 6 20 5 20 5 20 5 20 4 20 3 20 3 20 0 20-3 20-7 20-9 20-10 20-7 20 0 20 2 20 3 20 4 20 4 20 5 20 5 20 5 20 4 20 4 20 4 20 3 20 4 20 3 20 3 20 3 20 3 20 3 20 2 20 2 20 0 20-2 20-7 20-10 20-14 20-20 20-23 20-25 20-28 20-27 20-25 20-23 20-22 20-19 20-17 20-16 20-15 20-14 20-11 20-8 20-5 20-3 20 2 20 5 20 7 20 11 20 14 20 14 20 13 20 13 20 11 20 10 20 9 20 8 20 9 20 8 20 6 20 3 20-1 20-4 20-8 20-16 20-25 20-33 20-42 20-48 20-50 20-50 10-24 10-23 10-22 10-19 10-16 10-11 10-10 10-8 10-10 10-13 10-21 10-29 10-36 10-41 10-46 10-51 10-55 10-61 10-65 10-71 10-78 10-83 10-87 10-89 10-88 10-82 10-72 10-57 10-44 10-33 10-24 10-18 10-13 10-10 10-7 10-6 10-4 10-4 10-2 10 1 10 3 10 5 10 7 10 8 10 10 10 11 10 13 10 14 10 15 10 15 20 33 20 33 20 32 20 32 20 28 20 21 20 16 20 13 20 12 20 12 20 11 20 11 20 11 20 14 20 17 20 20 20 26 20 32 20 39 20 41 10 21 10 21 3 5 12 26 5 11 7 15 13 25 13 24 7 14 5 9 12 19 3 4 10 12 10 9 3 2 12 4 5 1 7-1 13-5 13-6 7-5 5-4 12-11 3-2 10-8 10-7 3-1 12-1 5 2 7 6 13 16 13 23 7 16 5 12 12 31 3 6 10 25 10 23 3 6 12 34 5 15 7 24 13 43 13 45 7 26 5 17 12 40 3 8 10 31 10 33 3 8 10 40" stroke="#EDB120"/>
<path d="M3837 1960l20 16 20 15 20 13 20 12 20 11 20 9 20 8 20 5 20 2 20-1 20-6 20-10 20-12 20-8 20-2 20 1 20 2 20 2 20 3 20 4 20 4 20 3 20 3 20 3 20 3 20 3 20 3 20 3 20 2 20 2 20 2 20 3 20 1 20 2 20 0 20-3 20-7 20-11 20-14 20-20 20-23 20-25 20-28 20-27 20-26 20-23 20-21 20-20 20-17 20-16 20-15 20-14 20-11 20-8 20-5 20-3 20 2 20 5 20 7 20 12 20 14 20 13 20 14 20 13 20 11 20 10 20 9 20 9 20 8 20 8 20 7 20 3 20-1 20-3 20-8 20-15 20-24 20-33 20-41 20-47 20-50 20-50 10-25 10-23 10-22 10-19 10-16 10-12 10-10 10-9 10-11 10-14 10-22 10-31 10-37 10-42 10-48 10-53 10-59 10-63 10-69 10-75 10-81 10-87 10-91 10-93 10-90 10-83 10-70 10-55 10-42 10-31 10-23 10-17 10-13 10-10 10-8 10-6 10-5 10-4 10-2 10 1 10 2 10 4 10 6 10 7 10 9 10 10 10 12 10 12 10 14 10 14 20 31 20 34 20 33 20 32 20 29 20 23 20 19 20 15 20 13 20 10 20 9 20 9 20 11 20 15 20 21 20 23 20 29 20 38 20 45 20 46 10 23 10 23 3 6 12 28 5 11 7 17 13 26 13 26 7 14 5 9 12 21 3 4 10 13 10 11 3 3 12 9 5 2 7 3 13 3 13 2 7 0 5 0 12-2 3 0 10-2 10-1 3 0 12 5 5 4 7 9 13 21 13 29 7 20 5 14 12 36 3 7 10 25 10 24 3 6 12 31 5 13 7 21 13 38 13 39 7 24 5 15 12 39 3 8 10 31 10 33 3 9 10 39" stroke="#7E2F8E"/>
<path d="M3837 1985l20 3 20 2 20 3 20 3 20 3 20 2 20 3 20 1 20 1 20-3 20-7 20-8 20-8 20-6 20 1 20 3 20 4 20 4 20 6 20 5 20 6 20 5 20 4 20 5 20 4 20 4 20 4 20 4 20 3 20 3 20 3 20 3 20 3 20 2 20 0 20-2 20-7 20-9 20-14 20-19 20-22 20-25 20-26 20-27 20-24 20-22 20-20 20-17 20-16 20-14 20-13 20-12 20-9 20-7 20-5 20-2 20 1 20 4 20 6 20 10 20 11 20 11 20 11 20 9 20 8 20 7 20 6 20 5 20 6 20 6 20 5 20 3 20-1 20-3 20-8 20-15 20-24 20-32 20-41 20-46 20-49 20-50 10-24 10-24 10-22 10-20 10-15 10-13 10-9 10-9 10-10 10-14 10-23 10-31 10-38 10-44 10-49 10-54 10-59 10-65 10-69 10-76 10-82 10-87 10-91 10-92 10-89 10-81 10-68 10-52 10-40 10-29 10-21 10-16 10-13 10-9 10-8 10-5 10-5 10-4 10-2 10 1 10 2 10 4 10 5 10 7 10 9 10 10 10 12 10 12 10 13 10 14 20 31 20 34 20 34 20 32 20 29 20 24 20 19 20 17 20 12 20 10 20 8 20 9 20 10 20 16 20 21 20 25 20 30 20 40 20 47 20 47 10 23 10 24 3 6 12 28 5 12 7 16 13 27 13 25 7 15 5 9 12 20 3 3 10 13 10 9 3 2 12 4 5 1 7-2 13-5 13-8 7-7 5-5 12-13 3-2 10-11 10-8 3-1 12-2 5 2 7 5 13 15 13 22 7 15 5 11 12 30 3 5 10 23 10 23 3 5 12 32 5 14 7 24 13 41 13 43 7 25 5 15 12 36 3 7 10 25 10 25 3 7 10 30" stroke="#77AC30"/>
<path d="M3837 2027l20 3 20 2 20 2 20 2 20 2 20 2 20 1 20 0 20-2 20-5 20-9 20-11 20-12 20-8 20-1 20 1 20 1 20 3 20 3 20 4 20 4 20 3 20 4 20 3 20 3 20 3 20 3 20 3 20 3 20 2 20 3 20 3 20 2 20 2 20 0 20-2 20-6 20-9 20-13 20-19 20-21 20-23 20-25 20-24 20-22 20-19 20-17 20-15 20-12 20-10 20-9 20-7 20-6 20-5 20-4 20-2 20 1 20 6 20 8 20 12 20 13 20 12 20 11 20 11 20 11 20 10 20 9 20 8 20 8 20 7 20 6 20 3 20-3 20-6 20-11 20-20 20-28 20-37 20-46 20-51 20-53 20-53 10-26 10-24 10-23 10-20 10-16 10-13 10-10 10-10 10-10 10-15 10-22 10-30 10-37 10-42 10-47 10-53 10-58 10-62 10-68 10-74 10-81 10-86 10-90 10-92 10-89 10-83 10-70 10-57 10-42 10-31 10-24 10-17 10-13 10-10 10-7 10-6 10-5 10-3 10-2 10 1 10 3 10 5 10 6 10 8 10 9 10 12 10 12 10 14 10 14 10 16 20 32 20 34 20 34 20 33 20 29 20 23 20 18 20 15 20 12 20 12 20 11 20 11 20 12 20 14 20 16 20 20 20 25 20 32 20 39 20 42 10 21 10 21 3 5 12 27 5 11 7 15 13 26 13 25 7 14 5 9 12 20 3 3 10 13 10 9 3 2 12 4 5 0 7-2 13-5 13-7 7-5 5-3 12-11 3-2 10-9 10-7 3-2 12-2 5 2 7 6 13 15 13 22 7 15 5 11 12 30 3 6 10 23 10 22 3 6 12 32 5 15 7 23 13 42 13 43 7 24 5 16 12 36 3 6 10 26 10 25 3 7 10 30" stroke="#4DBEEE"/>
<path d="M3837 2031l20 3 20 2 20 2 20 2 20 2 20 2 20 1 20 0 20-1 20-5 20-9 20-11 20-12 20-8 20-1 20 1 20 2 20 2 20 4 20 4 20 4 20 4 20 4 20 3 20 3 20 4 20 3 20 3 20 3 20 2 20 3 20 3 20 2 20 2 20 0 20-2 20-7 20-9 20-14 20-19 20-22 20-25 20-26 20-26 20-24 20-21 20-20 20-17 20-15 20-14 20-12 20-11 20-9 20-7 20-5 20-2 20 2 20 5 20 9 20 12 20 14 20 14 20 14 20 12 20 12 20 12 20 10 20 10 20 9 20 9 20 6 20 4 20-2 20-6 20-11 20-20 20-28 20-37 20-46 20-51 20-53 20-53 10-26 10-24 10-23 10-21 10-16 10-13 10-10 10-10 10-10 10-14 10-22 10-30 10-37 10-42 10-47 10-52 10-57 10-61 10-66 10-71 10-78 10-84 10-87 10-89 10-87 10-81 10-70 10-55 10-43 10-31 10-24 10-17 10-13 10-9 10-7 10-6 10-4 10-3 10-2 10 1 10 3 10 5 10 7 10 8 10 10 10 12 10 13 10 14 10 15 10 16 20 33 20 34 20 33 20 32 20 29 20 22 20 16 20 14 20 12 20 13 20 12 20 12 20 13 20 13 20 15 20 19 20 22 20 29 20 37 20 39 10 20 10 21 3 5 12 26 5 10 7 16 13 25 13 25 7 14 5 9 12 20 3 4 10 13 10 9 3 2 12 5 5 0 7-1 13-3 13-5 7-5 5-3 12-9 3-1 10-8 10-6 3-1 12-1 5 2 7 7 13 16 13 23 7 16 5 12 12 31 3 6 10 24 10 23 3 6 12 32 5 14 7 24 13 41 13 43 7 25 5 16 12 37 3 7 10 27 10 29 3 7 10 34" stroke="#A2142F"/>
<path d="M3837 1970l20 5 20 6 20 5 20 6 20 5 20 5 20 4 20 4 20 1 20-1 20-6 20-9 20-8 20-6 20 0 20 4 20 5 20 5 20 6 20 7 20 7 20 7 20 6 20 6 20 5 20 6 20 5 20 4 20 4 20 4 20 4 20 3 20 3 20 2 20 1 20-3 20-7 20-10 20-15 20-20 20-24 20-26 20-29 20-29 20-26 20-25 20-23 20-21 20-19 20-19 20-17 20-16 20-13 20-9 20-6 20-3 20 2 20 5 20 8 20 12 20 14 20 15 20 14 20 14 20 12 20 11 20 10 20 10 20 9 20 9 20 7 20 3 20-1 20-5 20-10 20-18 20-26 20-35 20-44 20-49 20-51 20-52 10-25 10-25 10-23 10-20 10-16 10-13 10-10 10-9 10-10 10-14 10-22 10-31 10-38 10-44 10-48 10-53 10-58 10-63 10-68 10-73 10-79 10-85 10-89 10-89 10-88 10-79 10-68 10-53 10-40 10-30 10-21 10-17 10-12 10-9 10-7 10-6 10-5 10-3 10-2 10 1 10 2 10 5 10 5 10 8 10 9 10 11 10 11 10 13 10 14 10 15 20 31 20 33 20 33 20 32 20 28 20 23 20 18 20 15 20 12 20 11 20 9 20 10 20 11 20 16 20 21 20 25 20 31 20 39 20 44 20 46 10 23 10 23 3 5 12 29 5 11 7 16 13 26 13 25 7 14 5 9 12 20 3 3 10 13 10 10 3 2 12 7 5 2 7 1 13-1 13-4 7-4 5-4 12-8 3-2 10-7 10-5 3-1 12 2 5 3 7 6 13 19 13 25 7 18 5 12 12 32 3 7 10 24 10 22 3 6 12 31 5 14 7 22 13 39 13 41 7 24 5 16 12 37 3 7 10 29 10 30 3 8 10 35" stroke="#0072BD"/>
<path d="M3837 2042l20 6 20 5 20 5 20 4 20 4 20 3 20 2 20 1 20-2 20-5 20-9 20-11 20-14 20-9 20-2 20 1 20 1 20 2 20 3 20 4 20 3 20 4 20 3 20 3 20 3 20 3 20 2 20 3 20 2 20 3 20 2 20 2 20 2 20 2 20 0 20-3 20-7 20-10 20-13 20-20 20-22 20-25 20-27 20-27 20-23 20-22 20-20 20-17 20-16 20-14 20-13 20-11 20-10 20-7 20-6 20-3 20 1 20 5 20 7 20 11 20 13 20 12 20 12 20 11 20 9 20 9 20 8 20 7 20 7 20 6 20 5 20 2 20-3 20-7 20-10 20-20 20-27 20-36 20-45 20-50 20-52 20-52 10-26 10-25 10-23 10-21 10-16 10-13 10-10 10-10 10-10 10-15 10-23 10-32 10-40 10-45 10-51 10-56 10-61 10-66 10-72 10-77 10-84 10-89 10-93 10-92 10-89 10-80 10-65 10-50 10-37 10-26 10-20 10-15 10-12 10-9 10-7 10-6 10-5 10-3 10-2 10 0 10 2 10 4 10 5 10 7 10 9 10 10 10 11 10 12 10 14 10 14 20 33 20 35 20 37 20 34 20 31 20 26 20 22 20 18 20 14 20 11 20 10 20 10 20 11 20 16 20 22 20 24 20 30 20 39 20 46 20 46 10 23 10 23 3 6 12 29 5 11 7 17 13 27 13 26 7 14 5 10 12 22 3 4 10 15 10 13 3 3 12 13 5 5 7 8 13 12 13 12 7 6 5 4 12 10 3 1 10 7 10 6 3 2 12 11 5 6 7 12 13 27 13 37 7 24 5 17 12 41 3 7 10 28 10 23 3 6 12 27 5 12 7 18 13 31 13 32 7 20 5 14 12 36 3 8 10 31 10 34 3 8 10 38" stroke="#D95319"/>
<path d="M3837 1948l20 12 20 11 20 10 20 10 20 9 20 8 20 6 20 6 20 3 20 0 20-5 20-8 20-8 20-6 20 1 20 3 20 4 20 5 20 5 20 6 20 6 20 5 20 5 20 4 20 5 20 4 20 4 20 3 20 4 20 3 20 3 20 3 20 2 20 2 20 0 20-2 20-7 20-11 20-14 20-19 20-23 20-26 20-28 20-28 20-25 20-22 20-22 20-20 20-17 20-17 20-15 20-14 20-12 20-9 20-7 20-3 20 0 20 4 20 7 20 11 20 12 20 13 20 13 20 11 20 11 20 9 20 8 20 8 20 8 20 8 20 6 20 3 20-1 20-3 20-7 20-16 20-23 20-32 20-42 20-46 20-50 20-50 10-24 10-24 10-22 10-19 10-15 10-13 10-10 10-9 10-10 10-15 10-22 10-31 10-37 10-44 10-48 10-55 10-59 10-65 10-70 10-77 10-83 10-89 10-92 10-94 10-91 10-83 10-69 10-55 10-40 10-30 10-22 10-17 10-13 10-9 10-8 10-6 10-5 10-4 10-2 10 1 10 2 10 5 10 6 10 8 10 9 10 12 10 12 10 14 10 15 10 16 20 35 20 37 20 37 20 36 20 32 20 26 20 20 20 17 20 15 20 13 20 12 20 12 20 12 20 14 20 18 20 21 20 26 20 33 20 40 20 41 10 22 10 21 3 5 12 27 5 11 7 16 13 25 13 25 7 14 5 8 12 21 3 3 10 13 10 11 3 2 12 7 5 1 7 1 13 0 13-2 7-2 5-2 12-6 3-1 10-5 10-3 3 0 12 2 5 4 7 8 13 21 13 28 7 21 5 15 12 38 3 7 10 29 10 28 3 7 12 37 5 16 7 26 13 45 13 46 7 28 5 19 12 48 3 10 10 40 10 45 3 12 10 53" stroke="#EDB120"/>
<path d="M3837 1937l20 14 20 13 20 12 20 11 20 10 20 9 20 7 20 6 20 3 20-1 20-5 20-8 20-10 20-6 20-1 20 3 20 2 20 4 20 4 20 5 20 4 20 4 20 4 20 4 20 4 20 3 20 4 20 3 20 3 20 2 20 3 20 3 20 2 20 2 20 0 20-2 20-7 20-9 20-13 20-19 20-22 20-24 20-27 20-25 20-24 20-21 20-18 20-17 20-15 20-13 20-11 20-10 20-9 20-6 20-5 20-2 20 2 20 5 20 8 20 11 20 13 20 12 20 12 20 12 20 10 20 10 20 9 20 8 20 7 20 8 20 6 20 3 20-1 20-3 20-8 20-16 20-25 20-33 20-42 20-48 20-51 20-51 10-24 10-23 10-22 10-18 10-16 10-13 10-10 10-9 10-11 10-14 10-22 10-30 10-37 10-42 10-48 10-53 10-60 10-64 10-70 10-77 10-83 10-90 10-93 10-96 10-93 10-85 10-72 10-57 10-43 10-32 10-24 10-17 10-14 10-10 10-9 10-6 10-6 10-4 10-2 10 0 10 2 10 4 10 5 10 6 10 9 10 10 10 11 10 12 10 13 10 14 20 30 20 34 20 34 20 32 20 29 20 24 20 20 20 17 20 13 20 9 20 8 20 8 20 10 20 16 20 22 20 25 20 30 20 41 20 49 20 48 10 23 10 24 3 6 12 29 5 12 7 17 13 28 13 26 7 14 5 9 12 22 3 4 10 14 10 12 3 2 12 11 5 4 7 4 13 7 13 4 7 2 5 1 12 2 3 0 10 1 10 1 3 1 12 7 5 4 7 10 13 23 13 31 7 22 5 15 12 36 3 7 10 26 10 23 3 5 12 29 5 12 7 19 13 34 13 35 7 22 5 14 12 35 3 7 10 28 10 30 3 8 10 33" stroke="#7E2F8E"/>
<path d="M3837 2093l20 1 20 0 20 0 20-1 20-1 20 0 20-1 20-2 20-4 20-7 20-10 20-13 20-15 20-11 20-2 20 1 20 0 20 2 20 3 20 4 20 4 20 4 20 3 20 3 20 3 20 3 20 3 20 2 20 3 20 2 20 3 20 2 20 2 20 2 20 0 20-3 20-7 20-10 20-14 20-19 20-22 20-25 20-29 20-27 20-23 20-22 20-20 20-19 20-16 20-15 20-13 20-12 20-10 20-8 20-6 20-2 20 1 20 6 20 8 20 12 20 14 20 14 20 13 20 13 20 12 20 12 20 10 20 10 20 9 20 8 20 7 20 3 20-3 20-8 20-14 20-22 20-31 20-41 20-48 20-54 20-55 20-54 10-27 10-26 10-24 10-22 10-17 10-13 10-10 10-9 10-11 10-14 10-23 10-32 10-39 10-45 10-51 10-55 10-60 10-66 10-70 10-76 10-83 10-88 10-91 10-92 10-88 10-78 10-66 10-50 10-37 10-27 10-20 10-15 10-12 10-9 10-7 10-5 10-5 10-3 10-2 10 0 10 2 10 4 10 6 10 7 10 9 10 10 10 11 10 13 10 13 10 15 20 31 20 35 20 35 20 33 20 30 20 24 20 21 20 17 20 13 20 11 20 9 20 8 20 11 20 17 20 22 20 25 20 30 20 40 20 47 20 47 10 24 10 23 3 6 12 29 5 11 7 17 13 27 13 26 7 15 5 9 12 21 3 4 10 14 10 12 3 3 12 11 5 3 7 5 13 7 13 5 7 2 5 1 12 2 3 0 10 2 10 2 3 0 12 8 5 5 7 10 13 24 13 32 7 22 5 16 12 38 3 7 10 27 10 24 3 5 12 31 5 13 7 20 13 36 13 37 7 23 5 15 12 39 3 8 10 34 10 36 3 10 10 42" stroke="#77AC30"/>
<path d="M3837 2030l20 4 20 4 20 4 20 2 20 3 20 2 20 1 20 0 20-2 20-5 20-8 20-11 20-13 20-8 20-2 20 1 20 1 20 2 20 3 20 3 20 3 20 3 20 3 20 2 20 3 20 3 20 2 20 2 20 3 20 2 20 2 20 3 20 2 20 1 20 1 20-3 20-6 20-9 20-13 20-19 20-21 20-23 20-25 20-25 20-22 20-20 20-17 20-15 20-13 20-11 20-9 20-7 20-6 20-5 20-3 20-1 20 3 20 8 20 10 20 14 20 15 20 15 20 15 20 14 20 13 20 14 20 13 20 12 20 10 20 10 20 8 20 3 20-2 20-7 20-11 20-21 20-30 20-38 20-48 20-53 20-56 20-54 10-26 10-24 10-22 10-20 10-16 10-14 10-11 10-10 10-11 10-14 10-22 10-30 10-35 10-41 10-47 10-52 10-58 10-63 10-69 10-75 10-81 10-88 10-92 10-94 10-93 10-85 10-74 10-59 10-45 10-33 10-25 10-18 10-14 10-10 10-8 10-6 10-5 10-4 10-2 10 1 10 3 10 4 10 6 10 8 10 9 10 11 10 12 10 14 10 14 10 15 20 33 20 34 20 34 20 32 20 30 20 23 20 18 20 15 20 13 20 12 20 11 20 11 20 12 20 17 20 20 20 26 20 30 20 37 20 43 20 44 10 23 10 22 3 6 12 27 5 11 7 16 13 26 13 25 7 13 5 9 12 19 3 3 10 12 10 8 3 2 12 5 5 0 7-1 13-8 13-12 7-9 5-6 12-18 3-3 10-13 10-9 3-2 12-2 5 2 7 6 13 15 13 22 7 15 5 11 12 30 3 6 10 23 10 22 3 6 12 32 5 15 7 23 13 42 13 43 7 24 5 16 12 36 3 6 10 26 10 25 3 7 10 30" stroke="#4DBEEE"/>
<path d="M3837 1934l20 11 20 11 20 9 20 9 20 8 20 8 20 6 20 5 20 3 20-1 20-5 20-7 20-9 20-5 20 0 20 3 20 4 20 4 20 4 20 5 20 5 20 5 20 4 20 4 20 4 20 3 20 4 20 3 20 3 20 3 20 3 20 3 20 2 20 2 20 1 20-3 20-6 20-10 20-13 20-20 20-22 20-24 20-26 20-26 20-25 20-22 20-19 20-17 20-16 20-13 20-12 20-11 20-8 20-6 20-4 20-1 20 3 20 7 20 10 20 14 20 15 20 16 20 15 20 14 20 13 20 13 20 12 20 11 20 10 20 10 20 8 20 3 20-2 20-6 20-12 20-21 20-29 20-39 20-47 20-52 20-55 20-54 10-26 10-25 10-23 10-21 10-17 10-13 10-11 10-10 10-10 10-15 10-23 10-31 10-38 10-44 10-49 10-55 10-59 10-65 10-70 10-76 10-83 10-88 10-92 10-93 10-90 10-81 10-69 10-53 10-40 10-30 10-22 10-16 10-12 10-10 10-7 10-6 10-5 10-4 10-2 10 1 10 2 10 4 10 5 10 8 10 9 10 10 10 11 10 13 10 13 10 15 20 32 20 34 20 34 20 33 20 30 20 24 20 20 20 16 20 14 20 10 20 9 20 9 20 11 20 17 20 23 20 26 20 33 20 41 20 47 20 47 10 24 10 24 3 6 12 29 5 11 7 16 13 27 13 25 7 14 5 9 12 20 3 4 10 14 10 12 3 3 12 12 5 4 7 6 13 8 13 6 7 2 5 1 12 3 3 1 10 2 10 3 3 1 12 9 5 5 7 10 13 24 13 32 7 22 5 15 12 35 3 7 10 24 10 21 3 5 12 26 5 11 7 18 13 31 13 32 7 20 5 14 12 33 3 7 10 28 10 30 3 7 10 34" stroke="#A2142F"/>
<path d="M3837 1975l20 8 20 7 20 6 20 6 20 6 20 6 20 4 20 4 20 1 20-1 20-7 20-8 20-10 20-6 20 1 20 2 20 4 20 4 20 5 20 6 20 5 20 5 20 5 20 4 20 5 20 4 20 4 20 3 20 4 20 3 20 3 20 3 20 2 20 2 20 1 20-3 20-7 20-10 20-14 20-19 20-23 20-25 20-28 20-27 20-25 20-22 20-21 20-19 20-17 20-16 20-14 20-13 20-12 20-8 20-6 20-2 20 1 20 4 20 7 20 12 20 13 20 13 20 13 20 12 20 11 20 10 20 9 20 8 20 8 20 9 20 6 20 3 20-1 20-4 20-9 20-16 20-25 20-34 20-42 20-48 20-51 20-50 10-24 10-24 10-21 10-19 10-16 10-12 10-9 10-8 10-10 10-14 10-21 10-29 10-35 10-41 10-45 10-51 10-56 10-60 10-66 10-71 10-78 10-83 10-88 10-90 10-88 10-83 10-72 10-58 10-44 10-33 10-25 10-18 10-14 10-10 10-7 10-6 10-4 10-4 10-2 10 1 10 3 10 5 10 6 10 9 10 9 10 11 10 13 10 14 10 15 10 15 20 32 20 33 20 32 20 30 20 28 20 21 20 16 20 13 20 11 20 11 20 10 20 10 20 10 20 13 20 17 20 20 20 25 20 33 20 40 20 42 10 21 10 21 3 6 12 26 5 11 7 16 13 25 13 25 7 13 5 9 12 20 3 4 10 12 10 9 3 2 12 4 5 0 7-2 13-5 13-7 7-6 5-4 12-11 3-2 10-9 10-7 3-2 12-2 5 2 7 6 13 15 13 22 7 16 5 11 12 31 3 6 10 23 10 24 3 6 12 34 5 15 7 24 13 44 13 45 7 27 5 17 12 40 3 7 10 30 10 31 3 9 10 38" stroke="#0072BD"/>
<path d="M3837 2033l20 6 20 5 20 4 20 3 20 4 20 2 20 3 20 0 20-1 20-5 20-8 20-11 20-13 20-9 20-1 20 0 20 1 20 2 20 3 20 3 20 3 20 3 20 2 20 3 20 2 20 2 20 3 20 2 20 2 20 2 20 2 20 2 20 2 20 2 20 0 20-2 20-7 20-9 20-13 20-18 20-21 20-23 20-25 20-25 20-21 20-19 20-17 20-15 20-12 20-10 20-8 20-7 20-6 20-5 20-4 20-2 20 2 20 6 20 10 20 13 20 14 20 13 20 13 20 13 20 12 20 13 20 11 20 10 20 9 20 9 20 6 20 2 20-3 20-7 20-13 20-22 20-30 20-40 20-48 20-53 20-56 20-55 10-26 10-25 10-24 10-20 10-17 10-14 10-12 10-10 10-11 10-15 10-23 10-32 10-38 10-44 10-49 10-55 10-61 10-65 10-72 10-77 10-84 10-90 10-93 10-95 10-92 10-83 10-69 10-54 10-40 10-30 10-22 10-16 10-13 10-10 10-7 10-7 10-5 10-3 10-2 10 0 10 2 10 4 10 6 10 7 10 9 10 10 10 11 10 12 10 14 10 14 20 32 20 35 20 35 20 34 20 30 20 25 20 21 20 17 20 13 20 11 20 10 20 9 20 11 20 16 20 21 20 25 20 29 20 39 20 46 20 47 10 23 10 23 3 6 12 29 5 11 7 17 13 27 13 26 7 14 5 9 12 22 3 4 10 15 10 12 3 3 12 12 5 4 7 6 13 9 13 8 7 4 5 2 12 5 3 1 10 4 10 4 3 1 12 8 5 6 7 11 13 24 13 33 7 23 5 15 12 37 3 7 10 25 10 22 3 5 12 27 5 11 7 17 13 31 13 32 7 19 5 13 12 32 3 6 10 26 10 26 3 7 10 29" stroke="#D95319"/>
<path d="M3837 2074l20 1 20 1 20 1 20 0 20 1 20 0 20 0 20-1 20-4 20-5 20-10 20-12 20-14 20-10 20-1 20 0 20 2 20 2 20 4 20 4 20 4 20 4 20 4 20 3 20 3 20 4 20 3 20 3 20 3 20 2 20 3 20 2 20 3 20 1 20 0 20-2 20-7 20-11 20-14 20-19 20-23 20-26 20-29 20-27 20-25 20-23 20-21 20-20 20-18 20-16 20-15 20-13 20-12 20-8 20-6 20-2 20 1 20 5 20 8 20 12 20 14 20 14 20 13 20 13 20 12 20 11 20 10 20 9 20 8 20 9 20 6 20 3 20-1 20-7 20-11 20-21 20-28 20-38 20-46 20-51 20-54 20-53 10-26 10-25 10-24 10-21 10-17 10-12 10-10 10-10 10-10 10-14 10-22 10-31 10-39 10-43 10-48 10-53 10-58 10-62 10-67 10-72 10-79 10-84 10-87 10-88 10-86 10-78 10-67 10-52 10-40 10-29 10-22 10-16 10-12 10-9 10-6 10-5 10-4 10-3 10-1 10 1 10 3 10 5 10 7 10 8 10 11 10 11 10 13 10 15 10 15 10 16 20 33 20 35 20 34 20 32 20 30 20 22 20 17 20 14 20 13 20 12 20 13 20 12 20 12 20 14 20 16 20 20 20 24 20 31 20 38 20 40 10 21 10 21 3 6 12 26 5 11 7 15 13 26 13 25 7 14 5 9 12 21 3 4 10 14 10 12 3 2 12 11 5 3 7 5 13 7 13 6 7 2 5 2 12 3 3 1 10 2 10 2 3 1 12 7 5 4 7 10 13 24 13 31 7 21 5 15 12 36 3 7 10 25 10 22 3 5 12 28 5 12 7 18 13 33 13 34 7 20 5 13 12 33 3 7 10 26 10 27 3 6 10 30" stroke="#EDB120"/>
<path d="M3837 1988l20 6 20 6 20 6 20 5 20 4 20 5 20 3 20 3 20 0 20-3 20-6 20-10 20-10 20-6 20-1 20 2 20 2 20 3 20 4 20 4 20 4 20 4 20 3 20 3 20 3 20 3 20 3 20 3 20 3 20 2 20 3 20 2 20 3 20 1 20 1 20-3 20-6 20-10 20-14 20-20 20-22 20-25 20-27 20-27 20-25 20-23 20-21 20-19 20-17 20-16 20-14 20-13 20-11 20-8 20-4 20-3 20 2 20 4 20 8 20 11 20 14 20 13 20 14 20 13 20 10 20 10 20 9 20 8 20 9 20 8 20 6 20 3 20 0 20-4 20-7 20-15 20-24 20-32 20-41 20-47 20-49 20-50 10-24 10-24 10-22 10-19 10-16 10-12 10-10 10-9 10-10 10-15 10-22 10-31 10-37 10-44 10-48 10-54 10-60 10-64 10-70 10-75 10-83 10-88 10-92 10-93 10-91 10-82 10-69 10-55 10-40 10-30 10-23 10-16 10-13 10-10 10-8 10-6 10-5 10-4 10-2 10 0 10 2 10 4 10 5 10 7 10 8 10 10 10 11 10 12 10 13 10 14 20 31 20 33 20 34 20 33 20 28 20 24 20 20 20 17 20 13 20 9 20 8 20 8 20 10 20 16 20 23 20 26 20 32 20 42 20 48 20 48 10 24 10 24 3 6 12 29 5 11 7 17 13 27 13 25 7 14 5 9 12 20 3 4 10 13 10 10 3 2 12 6 5 2 7 0 13-1 13-5 7-4 5-3 12-9 3-2 10-7 10-5 3 0 12 1 5 3 7 7 13 18 13 26 7 18 5 13 12 33 3 7 10 25 10 24 3 6 12 33 5 15 7 23 13 42 13 44 7 25 5 17 12 42 3 8 10 33 10 36 3 9 10 43" stroke="#7E2F8E"/>
<path d="M3837 1945l20 14 20 13 20 12 20 11 20 10 20 9 20 8 20 6 20 3 20-1 20-5 20-9 20-10 20-7 20-1 20 2 20 3 20 3 20 5 20 5 20 4 20 5 20 4 20 4 20 3 20 4 20 4 20 3 20 3 20 3 20 2 20 3 20 3 20 1 20 1 20-3 20-7 20-10 20-14 20-19 20-23 20-25 20-27 20-27 20-25 20-23 20-20 20-19 20-17 20-15 20-14 20-13 20-10 20-8 20-5 20-3 20 2 20 6 20 8 20 12 20 15 20 14 20 14 20 13 20 12 20 12 20 10 20 10 20 9 20 9 20 7 20 3 20-1 20-6 20-11 20-20 20-28 20-37 20-46 20-51 20-54 20-52 10-26 10-25 10-23 10-21 10-16 10-13 10-10 10-10 10-10 10-14 10-23 10-31 10-38 10-43 10-49 10-54 10-59 10-63 10-69 10-75 10-80 10-87 10-90 10-91 10-88 10-80 10-67 10-53 10-40 10-30 10-21 10-16 10-12 10-10 10-6 10-6 10-4 10-3 10-2 10 1 10 3 10 5 10 6 10 9 10 9 10 12 10 12 10 14 10 15 10 16 20 33 20 35 20 35 20 34 20 30 20 23 20 19 20 15 20 13 20 12 20 12 20 11 20 12 20 15 20 19 20 24 20 28 20 36 20 41 20 43 10 22 10 22 3 6 12 27 5 11 7 16 13 25 13 25 7 14 5 9 12 20 3 4 10 13 10 12 3 2 12 11 5 3 7 5 13 5 13 3 7 1 5 1 12 0 3 0 10 0 10 0 3 1 12 6 5 4 7 10 13 22 13 31 7 21 5 15 12 36 3 7 10 25 10 23 3 6 12 29 5 13 7 20 13 36 13 37 7 22 5 16 12 38 3 8 10 31 10 34 3 9 10 40" stroke="#77AC30"/>
<path d="M3837 1924l20 14 20 14 20 12 20 12 20 10 20 10 20 8 20 6 20 4 20 0 20-5 20-8 20-8 20-6 20-1 20 3 20 3 20 4 20 5 20 5 20 5 20 4 20 5 20 4 20 4 20 4 20 3 20 4 20 3 20 3 20 3 20 3 20 2 20 2 20 0 20-2 20-7 20-9 20-14 20-19 20-22 20-24 20-26 20-26 20-24 20-21 20-19 20-17 20-14 20-13 20-12 20-10 20-9 20-6 20-4 20-2 20 2 20 6 20 8 20 13 20 14 20 14 20 14 20 13 20 12 20 12 20 12 20 9 20 10 20 9 20 7 20 3 20-1 20-6 20-11 20-20 20-28 20-37 20-46 20-51 20-53 20-53 10-26 10-24 10-23 10-20 10-16 10-13 10-11 10-9 10-11 10-15 10-22 10-31 10-37 10-44 10-49 10-54 10-60 10-65 10-71 10-77 10-84 10-90 10-94 10-94 10-92 10-84 10-70 10-55 10-40 10-31 10-22 10-17 10-12 10-10 10-8 10-6 10-5 10-4 10-2 10 0 10 3 10 3 10 6 10 7 10 9 10 10 10 11 10 12 10 14 10 14 20 32 20 34 20 35 20 33 20 30 20 24 20 21 20 16 20 14 20 10 20 9 20 8 20 10 20 16 20 21 20 23 20 29 20 39 20 46 20 46 10 23 10 24 3 5 12 29 5 11 7 17 13 27 13 25 7 15 5 9 12 21 3 4 10 13 10 11 3 2 12 7 5 1 7 2 13 0 13-1 7-2 5-2 12-4 3-1 10-5 10-3 3 0 12 2 5 3 7 8 13 18 13 26 7 19 5 13 12 32 3 7 10 24 10 23 3 5 12 31 5 13 7 22 13 38 13 40 7 23 5 15 12 36 3 7 10 27 10 28 3 8 10 32" stroke="#4DBEEE"/>
<path d="M3837 1933l20 6 20 7 20 7 20 6 20 7 20 7 20 5 20 5 20 3 20 0 20-5 20-6 20-7 20-4 20 1 20 5 20 7 20 7 20 7 20 9 20 8 20 8 20 7 20 7 20 7 20 7 20 6 20 5 20 5 20 5 20 4 20 4 20 3 20 2 20 1 20-2 20-8 20-11 20-14 20-21 20-23 20-27 20-30 20-29 20-27 20-25 20-24 20-22 20-21 20-19 20-18 20-17 20-14 20-10 20-7 20-2 20 2 20 5 20 9 20 12 20 16 20 16 20 16 20 15 20 13 20 12 20 12 20 11 20 10 20 10 20 8 20 4 20-1 20-5 20-10 20-18 20-26 20-36 20-44 20-49 20-52 20-52 10-25 10-25 10-23 10-20 10-16 10-13 10-10 10-9 10-10 10-14 10-22 10-30 10-37 10-42 10-47 10-51 10-56 10-61 10-66 10-71 10-77 10-82 10-87 10-88 10-86 10-80 10-69 10-55 10-43 10-31 10-23 10-18 10-13 10-9 10-7 10-5 10-4 10-4 10-2 10 1 10 3 10 4 10 7 10 7 10 9 10 11 10 12 10 13 10 14 10 15 20 30 20 31 20 31 20 30 20 26 20 21 20 16 20 13 20 12 20 10 20 9 20 10 20 11 20 16 20 22 20 25 20 31 20 38 20 44 20 45 10 23 10 23 3 6 12 28 5 11 7 16 13 26 13 25 7 14 5 8 12 20 3 4 10 14 10 11 3 3 12 12 5 4 7 5 13 7 13 5 7 1 5 1 12 1 3 0 10 1 10 1 3 1 12 6 5 5 7 10 13 23 13 31 7 22 5 15 12 37 3 7 10 26 10 23 3 5 12 29 5 13 7 20 13 35 13 36 7 23 5 15 12 39 3 8 10 33 10 35 3 9 10 42" stroke="#A2142F"/>
<path d="M3837 2008l20 3 20 3 20 3 20 3 20 3 20 3 20 2 20 1 20 0 20-4 20-7 20-10 20-10 20-6 20-1 20 3 20 3 20 4 20 5 20 5 20 5 20 5 20 4 20 5 20 4 20 4 20 4 20 3 20 4 20 3 20 3 20 3 20 2 20 2 20 0 20-2 20-7 20-10 20-14 20-19 20-23 20-26 20-27 20-27 20-25 20-23 20-21 20-20 20-17 20-16 20-15 20-13 20-12 20-9 20-6 20-3 20 1 20 4 20 7 20 11 20 12 20 13 20 13 20 12 20 10 20 9 20 8 20 8 20 8 20 7 20 7 20 3 20-1 20-3 20-7 20-15 20-23 20-32 20-41 20-46 20-50 20-49 10-24 10-24 10-22 10-19 10-15 10-13 10-9 10-10 10-10 10-14 10-23 10-31 10-38 10-44 10-50 10-55 10-61 10-66 10-72 10-78 10-85 10-91 10-94 10-95 10-92 10-84 10-69 10-53 10-40 10-29 10-21 10-16 10-13 10-9 10-8 10-7 10-5 10-3 10-2 10 0 10 2 10 4 10 5 10 7 10 9 10 11 10 11 10 13 10 14 10 15 20 33 20 36 20 37 20 35 20 31 20 26 20 22 20 17 20 15 20 11 20 9 20 9 20 11 20 15 20 21 20 23 20 29 20 38 20 45 20 46 10 23 10 23 3 5 12 29 5 11 7 16 13 27 13 25 7 14 5 9 12 21 3 3 10 13 10 9 3 2 12 4 5 0 7-1 13-5 13-8 7-6 5-4 12-12 3-3 10-10 10-7 3-2 12-1 5 2 7 6 13 15 13 22 7 16 5 12 12 31 3 6 10 24 10 24 3 6 12 34 5 15 7 25 13 44 13 45 7 27 5 18 12 41 3 7 10 32 10 33 3 9 10 40" stroke="#0072BD"/>
<path d="M3837 2093l20-2 20-2 20-2 20-2 20-1 20-2 20-1 20-2 20-5 20-6 20-10 20-13 20-14 20-10 20-1 20 1 20 1 20 3 20 4 20 4 20 5 20 4 20 4 20 4 20 4 20 3 20 4 20 3 20 3 20 2 20 3 20 3 20 2 20 2 20 0 20-3 20-7 20-10 20-13 20-19 20-22 20-26 20-28 20-26 20-24 20-21 20-20 20-18 20-16 20-14 20-13 20-12 20-10 20-9 20-6 20-3 20 0 20 5 20 7 20 11 20 13 20 12 20 12 20 12 20 10 20 10 20 9 20 8 20 8 20 8 20 5 20 3 20-3 20-6 20-11 20-19 20-28 20-36 20-45 20-50 20-53 20-52 10-26 10-24 10-23 10-20 10-17 10-13 10-10 10-9 10-10 10-15 10-22 10-31 10-38 10-44 10-49 10-54 10-59 10-64 10-69 10-75 10-82 10-88 10-91 10-92 10-89 10-81 10-68 10-53 10-40 10-30 10-22 10-16 10-12 10-10 10-7 10-6 10-5 10-3 10-2 10 1 10 2 10 5 10 5 10 8 10 9 10 11 10 12 10 13 10 14 10 15 20 32 20 35 20 35 20 33 20 30 20 24 20 19 20 16 20 13 20 11 20 10 20 10 20 11 20 14 20 18 20 20 20 25 20 34 20 43 20 43 10 22 10 22 3 5 12 28 5 11 7 16 13 27 13 25 7 15 5 9 12 21 3 4 10 13 10 11 3 1 12 6 5 1 7 0 13-2 13-2 7-3 5-2 12-5 3-1 10-5 10-3 3 0 12 3 5 4 7 8 13 21 13 27 7 20 5 14 12 36 3 7 10 27 10 26 3 6 12 35 5 15 7 24 13 42 13 43 7 26 5 17 12 41 3 8 10 33 10 35 3 9 10 41" stroke="#D95319"/>
<path d="M3837 1956l20 8 20 7 20 7 20 7 20 6 20 6 20 4 20 4 20 2 20-1 20-6 20-8 20-8 20-5 20 0 20 3 20 4 20 5 20 6 20 6 20 6 20 5 20 6 20 5 20 4 20 5 20 5 20 4 20 3 20 4 20 3 20 3 20 3 20 2 20 0 20-2 20-7 20-10 20-14 20-19 20-23 20-25 20-28 20-27 20-25 20-23 20-21 20-19 20-18 20-15 20-15 20-13 20-11 20-8 20-5 20-3 20 2 20 5 20 8 20 12 20 14 20 14 20 14 20 12 20 12 20 11 20 10 20 9 20 9 20 9 20 7 20 3 20 0 20-5 20-8 20-17 20-26 20-34 20-43 20-49 20-51 20-51 10-25 10-23 10-22 10-19 10-16 10-13 10-9 10-9 10-10 10-14 10-21 10-30 10-37 10-41 10-47 10-52 10-57 10-63 10-67 10-73 10-80 10-85 10-90 10-91 10-90 10-83 10-71 10-56 10-43 10-32 10-24 10-18 10-13 10-10 10-7 10-6 10-4 10-3 10-2 10 1 10 3 10 4 10 7 10 8 10 10 10 11 10 12 10 14 10 15 10 15 20 33 20 34 20 34 20 32 20 29 20 23 20 17 20 15 20 12 20 12 20 12 20 11 20 12 20 14 20 17 20 21 20 25 20 32 20 40 20 41 10 22 10 21 3 6 12 26 5 11 7 16 13 26 13 25 7 14 5 9 12 21 3 4 10 13 10 11 3 3 12 8 5 2 7 2 13 3 13 0 7 0 5-1 12-2 3-1 10-2 10-2 3 0 12 4 5 4 7 8 13 20 13 28 7 19 5 13 12 34 3 7 10 24 10 22 3 6 12 29 5 13 7 21 13 37 13 37 7 23 5 15 12 35 3 7 10 27 10 29 3 7 10 33" stroke="#EDB120"/>
<path d="M3837 2056l20-1 20-2 20-1 20-1 20-1 20-1 20-1 20-2 20-3 20-6 20-9 20-12 20-12 20-8 20-1 20 1 20 2 20 3 20 4 20 4 20 5 20 4 20 3 20 4 20 4 20 3 20 4 20 3 20 3 20 3 20 2 20 3 20 2 20 2 20 0 20-2 20-7 20-10 20-14 20-20 20-23 20-25 20-28 20-27 20-25 20-23 20-21 20-20 20-17 20-16 20-15 20-13 20-11 20-8 20-5 20-3 20 2 20 5 20 9 20 12 20 14 20 15 20 15 20 13 20 13 20 11 20 11 20 9 20 10 20 9 20 7 20 3 20-1 20-6 20-9 20-19 20-27 20-35 20-45 20-49 20-52 20-52 10-25 10-25 10-23 10-20 10-17 10-12 10-10 10-9 10-11 10-14 10-22 10-31 10-38 10-44 10-48 10-54 10-59 10-63 10-69 10-74 10-81 10-86 10-90 10-91 10-88 10-81 10-67 10-54 10-40 10-29 10-22 10-16 10-13 10-9 10-7 10-6 10-5 10-3 10-2 10 0 10 3 10 4 10 6 10 7 10 10 10 10 10 12 10 13 10 14 10 15 20 31 20 34 20 34 20 33 20 29 20 23 20 19 20 16 20 12 20 11 20 10 20 9 20 11 20 14 20 18 20 22 20 25 20 35 20 44 20 44 10 22 10 22 3 5 12 28 5 11 7 16 13 27 13 25 7 15 5 9 12 21 3 4 10 13 10 11 3 1 12 6 5 1 7 1 13-1 13-2 7-3 5-2 12-5 3-1 10-4 10-4 3 0 12 3 5 3 7 8 13 20 13 27 7 20 5 13 12 35 3 7 10 26 10 25 3 6 12 34 5 14 7 24 13 41 13 42 7 25 5 17 12 39 3 8 10 32 10 33 3 9 10 39" stroke="#7E2F8E"/>
<path d="M3837 1973l20 4 20 4 20 4 20 4 20 4 20 5 20 3 20 3 20 2 20-2 20-6 20-8 20-8 20-5 20 0 20 4 20 5 20 5 20 6 20 7 20 7 20 6 20 6 20 6 20 5 20 6 20 5 20 4 20 4 20 4 20 4 20 3 20 3 20 2 20 1 20-3 20-7 20-10 20-15 20-20 20-23 20-26 20-29 20-28 20-25 20-24 20-22 20-21 20-18 20-18 20-16 20-14 20-13 20-9 20-5 20-3 20 2 20 4 20 8 20 12 20 13 20 14 20 14 20 12 20 12 20 10 20 9 20 8 20 9 20 8 20 7 20 3 20-1 20-4 20-8 20-16 20-24 20-34 20-42 20-48 20-50 20-50 10-25 10-24 10-22 10-20 10-16 10-12 10-10 10-9 10-10 10-15 10-22 10-32 10-38 10-44 10-50 10-56 10-60 10-66 10-72 10-77 10-85 10-90 10-93 10-95 10-91 10-82 10-68 10-53 10-39 10-29 10-21 10-16 10-12 10-10 10-8 10-6 10-5 10-4 10-1 10 0 10 2 10 3 10 6 10 6 10 9 10 10 10 11 10 12 10 13 10 14 20 32 20 35 20 35 20 34 20 30 20 25 20 22 20 17 20 14 20 10 20 9 20 9 20 10 20 18 20 24 20 26 20 33 20 42 20 48 20 48 10 24 10 24 3 6 12 29 5 11 7 17 13 27 13 25 7 14 5 9 12 19 3 4 10 12 10 9 3 2 12 5 5 0 7-1 13-6 13-9 7-8 5-5 12-14 3-3 10-11 10-8 3-1 12-2 5 3 7 5 13 16 13 23 7 17 5 12 12 31 3 7 10 25 10 25 3 6 12 36 5 16 7 26 13 46 13 48 7 28 5 19 12 46 3 9 10 37 10 40 3 11 10 50" stroke="#77AC30"/>
<path d="M3837 2093l20-2 20-2 20-3 20-2 20-2 20-2 20-2 20-2 20-5 20-6 20-10 20-13 20-14 20-9 20-2 20 1 20 2 20 2 20 4 20 4 20 5 20 4 20 3 20 4 20 3 20 4 20 3 20 3 20 3 20 3 20 2 20 3 20 2 20 2 20 0 20-2 20-7 20-10 20-13 20-18 20-22 20-25 20-27 20-26 20-22 20-20 20-19 20-17 20-14 20-12 20-11 20-9 20-8 20-6 20-5 20-2 20 3 20 7 20 9 20 14 20 15 20 14 20 14 20 14 20 13 20 14 20 13 20 11 20 10 20 10 20 8 20 3 20-3 20-8 20-15 20-25 20-34 20-42 20-52 20-56 20-58 20-56 10-28 10-26 10-24 10-21 10-18 10-14 10-11 10-9 10-11 10-15 10-22 10-31 10-38 10-44 10-49 10-54 10-59 10-65 10-69 10-76 10-82 10-88 10-91 10-92 10-90 10-81 10-69 10-53 10-40 10-30 10-22 10-16 10-12 10-10 10-7 10-6 10-5 10-4 10-1 10 0 10 2 10 4 10 6 10 7 10 10 10 10 10 12 10 13 10 14 10 14 20 33 20 34 20 35 20 33 20 30 20 24 20 19 20 17 20 13 20 11 20 9 20 10 20 11 20 15 20 20 20 22 20 28 20 37 20 44 20 45 10 22 10 23 3 5 12 28 5 11 7 16 13 27 13 24 7 15 5 8 12 21 3 3 10 13 10 10 3 2 12 5 5 1 7 0 13-3 13-4 7-4 5-3 12-9 3-2 10-7 10-5 3-1 12 0 5 3 7 7 13 19 13 25 7 19 5 14 12 35 3 7 10 27 10 27 3 6 12 37 5 16 7 26 13 46 13 46 7 28 5 19 12 45 3 10 10 37 10 41 3 10 10 49" stroke="#4DBEEE"/>
<path d="M3837 2034l20 7 20 7 20 5 20 4 20 4 20 3 20 2 20 1 20-2 20-5 20-8 20-12 20-13 20-9 20-2 20 0 20 1 20 1 20 2 20 3 20 2 20 2 20 2 20 2 20 2 20 2 20 2 20 2 20 1 20 2 20 2 20 2 20 2 20 1 20 1 20-3 20-6 20-10 20-13 20-20 20-22 20-24 20-26 20-26 20-24 20-21 20-19 20-17 20-15 20-14 20-12 20-10 20-9 20-6 20-4 20-2 20 3 20 6 20 9 20 12 20 15 20 14 20 14 20 14 20 12 20 12 20 11 20 10 20 9 20 9 20 7 20 4 20-2 20-6 20-10 20-20 20-28 20-37 20-46 20-51 20-53 20-53 10-26 10-25 10-22 10-20 10-17 10-13 10-11 10-9 10-11 10-15 10-23 10-31 10-38 10-44 10-50 10-55 10-61 10-66 10-72 10-78 10-85 10-90 10-95 10-95 10-92 10-83 10-68 10-54 10-39 10-29 10-22 10-16 10-12 10-10 10-8 10-6 10-5 10-4 10-2 10 1 10 2 10 4 10 6 10 7 10 9 10 11 10 12 10 13 10 15 10 15 20 35 20 37 20 38 20 36 20 32 20 26 20 22 20 17 20 15 20 12 20 11 20 11 20 11 20 14 20 19 20 21 20 26 20 35 20 42 20 44 10 22 10 21 3 6 12 27 5 11 7 16 13 27 13 25 7 14 5 9 12 21 3 3 10 13 10 10 3 2 12 6 5 0 7 0 13-2 13-4 7-3 5-3 12-7 3-2 10-6 10-6 3 0 12 0 5 3 7 7 13 18 13 25 7 18 5 13 12 34 3 7 10 26 10 25 3 6 12 35 5 15 7 25 13 43 13 44 7 27 5 17 12 42 3 8 10 33 10 35 3 9 10 42" stroke="#A2142F"/>
</g></g>
<rect x="37.0" y="4.75" width="296.4" height="234.0" fill="none" stroke="#3a3a3a" stroke-width="1.1"/>
<text x="37.00" y="252.3" text-anchor="middle" class="t">900</text>
<text x="73.10" y="252.3" text-anchor="middle" class="t">1000</text>
<text x="109.20" y="252.3" text-anchor="middle" class="t">1100</text>
<text x="145.30" y="252.3" text-anchor="middle" class="t">1200</text>
<text x="181.40" y="252.3" text-anchor="middle" class="t">1300</text>
<text x="217.50" y="252.3" text-anchor="middle" class="t">1400</text>
<text x="253.60" y="252.3" text-anchor="middle" class="t">1500</text>
<text x="289.70" y="252.3" text-anchor="middle" class="t">1600</text>
<text x="325.80" y="252.3" text-anchor="middle" class="t">1700</text>
<text x="32.4" y="9.15" text-anchor="end" class="t">2</text>
<text x="32.4" y="42.58" text-anchor="end" class="t">1.5</text>
<text x="32.4" y="76.01" text-anchor="end" class="t">1</text>
<text x="32.4" y="109.44" text-anchor="end" class="t">0.5</text>
<text x="32.4" y="142.86" text-anchor="end" class="t">0</text>
<text x="32.4" y="176.29" text-anchor="end" class="t">-0.5</text>
<text x="32.4" y="209.72" text-anchor="end" class="t">-1</text>
<text x="32.4" y="243.15" text-anchor="end" class="t">-1.5</text>
<path d="M73.10 238.75v-3.4M73.10 4.75v3.4M109.20 238.75v-3.4M109.20 4.75v3.4M145.30 238.75v-3.4M145.30 4.75v3.4M181.40 238.75v-3.4M181.40 4.75v3.4M217.50 238.75v-3.4M217.50 4.75v3.4M253.60 238.75v-3.4M253.60 4.75v3.4M289.70 238.75v-3.4M289.70 4.75v3.4M325.80 238.75v-3.4M325.80 4.75v3.4M37.0 38.18h3.4M333.4 38.18h-3.4M37.0 71.61h3.4M333.4 71.61h-3.4M37.0 105.04h3.4M333.4 105.04h-3.4M37.0 138.46h3.4M333.4 138.46h-3.4M37.0 171.89h3.4M333.4 171.89h-3.4M37.0 205.32h3.4M333.4 205.32h-3.4" stroke="#3a3a3a" stroke-width="1.15" fill="none"/>
<rect x="383.7" y="4.75" width="297.3" height="234.0" fill="none" stroke="#3a3a3a" stroke-width="1.1"/>
<text x="383.70" y="252.3" text-anchor="middle" class="t">900</text>
<text x="419.96" y="252.3" text-anchor="middle" class="t">1000</text>
<text x="456.21" y="252.3" text-anchor="middle" class="t">1100</text>
<text x="492.47" y="252.3" text-anchor="middle" class="t">1200</text>
<text x="528.72" y="252.3" text-anchor="middle" class="t">1300</text>
<text x="564.98" y="252.3" text-anchor="middle" class="t">1400</text>
<text x="601.24" y="252.3" text-anchor="middle" class="t">1500</text>
<text x="637.49" y="252.3" text-anchor="middle" class="t">1600</text>
<text x="673.75" y="252.3" text-anchor="middle" class="t">1700</text>
<text x="379.1" y="9.15" text-anchor="end" class="t">2</text>
<text x="379.1" y="42.58" text-anchor="end" class="t">1.5</text>
<text x="379.1" y="76.01" text-anchor="end" class="t">1</text>
<text x="379.1" y="109.44" text-anchor="end" class="t">0.5</text>
<text x="379.1" y="142.86" text-anchor="end" class="t">0</text>
<text x="379.1" y="176.29" text-anchor="end" class="t">-0.5</text>
<text x="379.1" y="209.72" text-anchor="end" class="t">-1</text>
<text x="379.1" y="243.15" text-anchor="end" class="t">-1.5</text>
<path d="M419.96 238.75v-3.4M419.96 4.75v3.4M456.21 238.75v-3.4M456.21 4.75v3.4M492.47 238.75v-3.4M492.47 4.75v3.4M528.72 238.75v-3.4M528.72 4.75v3.4M564.98 238.75v-3.4M564.98 4.75v3.4M601.24 238.75v-3.4M601.24 4.75v3.4M637.49 238.75v-3.4M637.49 4.75v3.4M673.75 238.75v-3.4M673.75 4.75v3.4M383.7 38.18h3.4M681.0 38.18h-3.4M383.7 71.61h3.4M681.0 71.61h-3.4M383.7 105.04h3.4M681.0 105.04h-3.4M383.7 138.46h3.4M681.0 138.46h-3.4M383.7 171.89h3.4M681.0 171.89h-3.4M383.7 205.32h3.4M681.0 205.32h-3.4" stroke="#3a3a3a" stroke-width="1.15" fill="none"/>
<text class="l" transform="translate(10.1,122.5) rotate(-90)" text-anchor="middle">Absorption</text>
<text class="l" transform="translate(358.1,122.9) rotate(-90)" text-anchor="middle">Absorption</text>
<text class="l" y="271"><tspan x="136.2">Wavelength</tspan><tspan class="p" x="202.3" y="272.1">（</tspan><tspan x="215.2" y="271" style="letter-spacing:0.3px">nm</tspan><tspan class="p" x="233.6" y="272.1">）</tspan></text>
<text class="l" y="270.3"><tspan x="475.4">Wavelength</tspan><tspan class="p" x="539.2" y="271.4">（</tspan><tspan x="553.2" y="270.3" style="letter-spacing:0.3px">nm</tspan><tspan class="p" x="570.7" y="271.4">）</tspan></text>
<text class="m" x="182.6" y="287.8" text-anchor="middle">(a)</text>
<text class="m" x="530.8" y="287.8" text-anchor="middle">(b)</text>
</g>
</svg>
</body>
</html>
